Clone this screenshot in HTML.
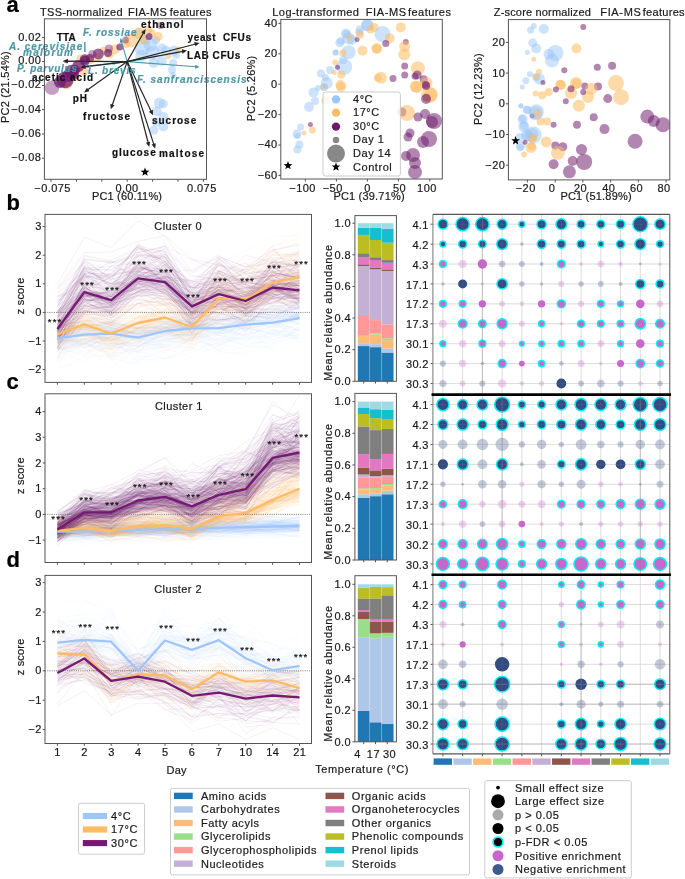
<!DOCTYPE html>
<html><head><meta charset="utf-8"><style>
html,body{margin:0;padding:0;background:#fff;}
svg{display:block;will-change:transform;}
text{font-family:"Liberation Sans", sans-serif;white-space:pre;stroke-width:0.2px;}
</style></head><body>
<svg width="685" height="879" viewBox="0 0 685 879">
<rect width="685" height="879" fill="#fff"/>
<text x="6.50" y="12.20" font-size="22" font-weight="bold" fill="#000" stroke="#000">a</text>
<text x="6.50" y="210.20" font-size="22" font-weight="bold" fill="#000" stroke="#000">b</text>
<text x="6.50" y="389.20" font-size="22" font-weight="bold" fill="#000" stroke="#000">c</text>
<text x="6.50" y="567.40" font-size="22" font-weight="bold" fill="#000" stroke="#000">d</text>
<clipPath id="lc0"><rect x="45.0" y="214.4" width="266.5" height="167.99999999999997"/></clipPath>
<g clip-path="url(#lc0)">
<path d="M57.4,337.7L84.3,338.7L111.2,338.2L138.1,346.7L165.0,335.0L191.9,324.7L218.8,327.7L245.7,321.2L272.6,323.4L299.5,317.8M57.4,348.2L84.3,329.9L111.2,330.2L138.1,334.2L165.0,341.5L191.9,339.4L218.8,332.9L245.7,326.4L272.6,319.9L299.5,317.1M57.4,338.2L84.3,330.3L111.2,328.7L138.1,337.4L165.0,319.7L191.9,322.5L218.8,318.9L245.7,324.3L272.6,323.0L299.5,316.3M57.4,336.3L84.3,334.2L111.2,337.7L138.1,345.4L165.0,335.8L191.9,323.3L218.8,335.2L245.7,324.2L272.6,321.3L299.5,330.7M57.4,332.5L84.3,348.3L111.2,335.4L138.1,337.9L165.0,336.4L191.9,325.7L218.8,328.1L245.7,335.2L272.6,318.2L299.5,314.3M57.4,326.8L84.3,327.6L111.2,327.4L138.1,337.8L165.0,322.2L191.9,325.3L218.8,324.2L245.7,324.7L272.6,321.2L299.5,314.4M57.4,340.6L84.3,333.6L111.2,324.8L138.1,323.1L165.0,320.3L191.9,329.7L218.8,334.1L245.7,314.4L272.6,317.7L299.5,315.0M57.4,328.1L84.3,328.3L111.2,326.6L138.1,329.6L165.0,317.5L191.9,319.3L218.8,319.3L245.7,315.5L272.6,324.7L299.5,304.8M57.4,330.7L84.3,339.6L111.2,330.7L138.1,327.9L165.0,334.9L191.9,323.2L218.8,317.0L245.7,325.0L272.6,308.1L299.5,308.7M57.4,337.9L84.3,332.7L111.2,334.1L138.1,333.2L165.0,337.2L191.9,332.9L218.8,324.0L245.7,326.0L272.6,330.9L299.5,314.3M57.4,332.0L84.3,332.2L111.2,325.4L138.1,329.3L165.0,323.3L191.9,312.4L218.8,323.6L245.7,308.8L272.6,319.2L299.5,312.1M57.4,330.0L84.3,327.2L111.2,328.2L138.1,333.1L165.0,326.3L191.9,321.7L218.8,324.9L245.7,319.1L272.6,315.5L299.5,313.8M57.4,331.6L84.3,321.4L111.2,327.5L138.1,334.9L165.0,328.0L191.9,323.6L218.8,318.7L245.7,321.3L272.6,315.6L299.5,303.4M57.4,369.6L84.3,356.8L111.2,354.9L138.1,360.3L165.0,358.9L191.9,348.7L218.8,351.5L245.7,354.4L272.6,330.2L299.5,341.8M57.4,344.2L84.3,341.4L111.2,339.2L138.1,362.4L165.0,339.9L191.9,327.1L218.8,342.3L245.7,330.8L272.6,321.6L299.5,317.5M57.4,337.2L84.3,327.5L111.2,326.2L138.1,325.6L165.0,316.6L191.9,333.5L218.8,313.2L245.7,322.0L272.6,309.2L299.5,315.6M57.4,332.3L84.3,334.3L111.2,331.7L138.1,332.8L165.0,329.2L191.9,327.7L218.8,319.5L245.7,318.3L272.6,323.1L299.5,302.8M57.4,342.6L84.3,347.2L111.2,343.4L138.1,343.5L165.0,340.5L191.9,335.0L218.8,350.9L245.7,347.6L272.6,329.7L299.5,337.4M57.4,357.9L84.3,335.4L111.2,338.0L138.1,337.1L165.0,347.7L191.9,338.5L218.8,346.8L245.7,329.2L272.6,321.6L299.5,335.6M57.4,325.3L84.3,326.4L111.2,333.1L138.1,321.6L165.0,321.7L191.9,321.4L218.8,316.1L245.7,312.4L272.6,304.6L299.5,312.7M57.4,325.5L84.3,321.7L111.2,327.6L138.1,334.0L165.0,319.2L191.9,320.6L218.8,320.2L245.7,310.1L272.6,316.4L299.5,324.2M57.4,354.7L84.3,333.4L111.2,335.0L138.1,345.6L165.0,334.8L191.9,326.9L218.8,331.4L245.7,320.7L272.6,327.1L299.5,315.4M57.4,323.0L84.3,328.9L111.2,320.7L138.1,337.1L165.0,326.8L191.9,328.3L218.8,313.3L245.7,320.9L272.6,312.7L299.5,308.9M57.4,342.7L84.3,333.9L111.2,325.7L138.1,337.5L165.0,328.7L191.9,323.8L218.8,329.9L245.7,334.5L272.6,327.2L299.5,312.8M57.4,357.6L84.3,343.0L111.2,343.5L138.1,353.2L165.0,341.1L191.9,343.3L218.8,353.2L245.7,353.0L272.6,344.3L299.5,327.9M57.4,349.8L84.3,345.3L111.2,349.7L138.1,343.8L165.0,345.0L191.9,331.3L218.8,351.3L245.7,327.9L272.6,333.3L299.5,338.9M57.4,335.5L84.3,343.5L111.2,333.2L138.1,331.8L165.0,328.6L191.9,320.1L218.8,319.8L245.7,316.6L272.6,316.2L299.5,306.3M57.4,332.7L84.3,343.1L111.2,325.6L138.1,327.6L165.0,328.3L191.9,326.5L218.8,314.4L245.7,331.3L272.6,315.9L299.5,301.1M57.4,342.2L84.3,331.9L111.2,343.1L138.1,342.4L165.0,333.4L191.9,344.1L218.8,338.0L245.7,331.8L272.6,325.8L299.5,327.9M57.4,347.2L84.3,339.0L111.2,330.7L138.1,338.7L165.0,339.1L191.9,336.5L218.8,316.4L245.7,320.3L272.6,320.8L299.5,340.2M57.4,332.8L84.3,323.7L111.2,327.9L138.1,334.1L165.0,324.7L191.9,336.6L218.8,319.1L245.7,319.0L272.6,322.1L299.5,307.0M57.4,334.1L84.3,327.1L111.2,321.4L138.1,325.7L165.0,321.6L191.9,321.6L218.8,306.1L245.7,307.6L272.6,316.5L299.5,312.6M57.4,324.4L84.3,316.8L111.2,319.8L138.1,331.2L165.0,319.2L191.9,327.9L218.8,320.7L245.7,313.7L272.6,308.6L299.5,310.2M57.4,337.2L84.3,333.8L111.2,331.4L138.1,337.4L165.0,334.5L191.9,325.4L218.8,329.0L245.7,332.2L272.6,328.7L299.5,319.4M57.4,338.4L84.3,335.7L111.2,333.4L138.1,339.6L165.0,341.2L191.9,327.1L218.8,323.7L245.7,323.3L272.6,325.3L299.5,316.6M57.4,360.3L84.3,343.3L111.2,349.2L138.1,341.5L165.0,348.2L191.9,357.2L218.8,345.4L245.7,323.3L272.6,335.4L299.5,338.6M57.4,341.8L84.3,338.3L111.2,339.5L138.1,335.4L165.0,333.2L191.9,336.0L218.8,331.3L245.7,321.5L272.6,323.1L299.5,318.1M57.4,349.4L84.3,339.7L111.2,345.8L138.1,340.2L165.0,337.1L191.9,332.3L218.8,340.4L245.7,319.2L272.6,324.3L299.5,330.9M57.4,326.8L84.3,336.3L111.2,329.1L138.1,332.5L165.0,330.4L191.9,336.1L218.8,326.6L245.7,322.3L272.6,316.4L299.5,313.5M57.4,334.6L84.3,332.2L111.2,332.5L138.1,337.2L165.0,332.5L191.9,325.0L218.8,335.7L245.7,329.2L272.6,322.5L299.5,329.2M57.4,356.2L84.3,343.5L111.2,333.7L138.1,337.7L165.0,335.6L191.9,334.4L218.8,343.0L245.7,318.5L272.6,323.2L299.5,315.5M57.4,347.8L84.3,355.6L111.2,336.4L138.1,339.3L165.0,353.3L191.9,337.4L218.8,332.2L245.7,346.8L272.6,345.6L299.5,335.4M57.4,353.8L84.3,340.3L111.2,337.7L138.1,339.0L165.0,332.0L191.9,325.3L218.8,326.5L245.7,340.9L272.6,332.9L299.5,332.8M57.4,348.8L84.3,344.7L111.2,340.2L138.1,359.2L165.0,350.4L191.9,339.1L218.8,340.3L245.7,337.9L272.6,334.1L299.5,335.1M57.4,332.9L84.3,331.0L111.2,332.4L138.1,334.1L165.0,343.9L191.9,328.8L218.8,323.4L245.7,329.0L272.6,317.0L299.5,312.5M57.4,352.8L84.3,349.7L111.2,343.3L138.1,346.3L165.0,344.6L191.9,348.1L218.8,342.9L245.7,339.0L272.6,331.1L299.5,330.0M57.4,354.3L84.3,344.0L111.2,345.6L138.1,352.4L165.0,338.8L191.9,339.1L218.8,334.5L245.7,328.0L272.6,333.2L299.5,311.1M57.4,335.5L84.3,336.8L111.2,330.5L138.1,357.6L165.0,339.5L191.9,329.7L218.8,327.3L245.7,315.2L272.6,323.5L299.5,313.7M57.4,330.0L84.3,328.0L111.2,329.7L138.1,330.6L165.0,331.4L191.9,317.9L218.8,328.1L245.7,318.4L272.6,306.8L299.5,314.0M57.4,333.3L84.3,334.5L111.2,339.1L138.1,336.3L165.0,328.1L191.9,324.9L218.8,333.7L245.7,315.9L272.6,314.1L299.5,317.9M57.4,338.9L84.3,326.9L111.2,336.0L138.1,332.8L165.0,331.9L191.9,330.9L218.8,322.9L245.7,316.3L272.6,320.9L299.5,320.6M57.4,334.0L84.3,328.6L111.2,321.9L138.1,327.4L165.0,328.4L191.9,312.4L218.8,322.9L245.7,315.4L272.6,320.5L299.5,312.8M57.4,342.2L84.3,341.4L111.2,358.6L138.1,365.0L165.0,359.6L191.9,336.9L218.8,348.9L245.7,342.7L272.6,342.9L299.5,337.1M57.4,348.2L84.3,354.8L111.2,344.3L138.1,345.7L165.0,338.1L191.9,340.8L218.8,345.6L245.7,334.4L272.6,337.5L299.5,317.5M57.4,334.5L84.3,332.3L111.2,332.1L138.1,337.2L165.0,327.9L191.9,322.1L218.8,320.6L245.7,316.8L272.6,306.9L299.5,316.5M57.4,326.4L84.3,347.6L111.2,337.1L138.1,336.7L165.0,330.2L191.9,326.4L218.8,329.8L245.7,322.8L272.6,322.3L299.5,314.1M57.4,361.8L84.3,352.3L111.2,358.6L138.1,363.1L165.0,344.7L191.9,351.7L218.8,342.2L245.7,338.1L272.6,339.6L299.5,333.7M57.4,349.1L84.3,335.9L111.2,332.2L138.1,342.4L165.0,332.7L191.9,325.5L218.8,335.7L245.7,322.2L272.6,314.0L299.5,323.5M57.4,338.2L84.3,327.1L111.2,331.3L138.1,332.6L165.0,334.6L191.9,327.6L218.8,327.2L245.7,336.6L272.6,314.4L299.5,312.5M57.4,349.3L84.3,351.9L111.2,346.9L138.1,351.6L165.0,358.7L191.9,347.1L218.8,334.4L245.7,346.6L272.6,348.3L299.5,346.6M57.4,347.3L84.3,334.4L111.2,342.0L138.1,347.5L165.0,328.2L191.9,344.2L218.8,345.2L245.7,333.0L272.6,330.9L299.5,338.5M57.4,347.1L84.3,343.8L111.2,353.8L138.1,350.2L165.0,346.2L191.9,336.5L218.8,340.6L245.7,337.1L272.6,337.3L299.5,322.0M57.4,332.0L84.3,322.9L111.2,328.6L138.1,328.8L165.0,318.8L191.9,312.4L218.8,321.0L245.7,315.9L272.6,312.3L299.5,316.3M57.4,342.9L84.3,333.0L111.2,341.4L138.1,351.6L165.0,330.7L191.9,327.1L218.8,332.1L245.7,320.2L272.6,324.6L299.5,322.6M57.4,344.8L84.3,335.0L111.2,330.8L138.1,330.8L165.0,328.8L191.9,323.9L218.8,328.3L245.7,320.0L272.6,311.1L299.5,318.5M57.4,327.7L84.3,320.8L111.2,318.7L138.1,318.4L165.0,322.0L191.9,323.4L218.8,309.8L245.7,305.1L272.6,303.6L299.5,288.3M57.4,336.2L84.3,329.4L111.2,330.7L138.1,328.7L165.0,338.0L191.9,329.2L218.8,351.7L245.7,319.3L272.6,323.5L299.5,312.0M57.4,326.1L84.3,323.2L111.2,322.9L138.1,328.3L165.0,320.5L191.9,311.7L218.8,314.0L245.7,310.1L272.6,309.1L299.5,298.6M57.4,336.2L84.3,328.9L111.2,331.3L138.1,341.1L165.0,321.1L191.9,323.1L218.8,330.4L245.7,316.1L272.6,317.6L299.5,325.1M57.4,327.8L84.3,321.4L111.2,323.1L138.1,328.4L165.0,328.2L191.9,313.6L218.8,317.5L245.7,315.5L272.6,310.1L299.5,306.7M57.4,336.2L84.3,330.9L111.2,342.3L138.1,335.4L165.0,323.6L191.9,317.8L218.8,325.5L245.7,320.8L272.6,310.1L299.5,315.2M57.4,327.0L84.3,330.2L111.2,323.7L138.1,336.3L165.0,325.4L191.9,324.1L218.8,322.8L245.7,314.2L272.6,305.7L299.5,316.5M57.4,340.3L84.3,347.4L111.2,335.5L138.1,339.0L165.0,338.6L191.9,330.1L218.8,345.4L245.7,324.8L272.6,340.3L299.5,329.4M57.4,346.3L84.3,334.2L111.2,338.2L138.1,345.7L165.0,332.4L191.9,324.4L218.8,333.6L245.7,327.5L272.6,320.2L299.5,321.8M57.4,335.1L84.3,332.5L111.2,359.6L138.1,350.1L165.0,340.4L191.9,333.9L218.8,335.9L245.7,339.6L272.6,343.8L299.5,330.5M57.4,337.2L84.3,333.2L111.2,327.5L138.1,341.6L165.0,325.8L191.9,323.9L218.8,319.2L245.7,321.3L272.6,320.2L299.5,313.1M57.4,343.4L84.3,335.1L111.2,330.5L138.1,332.4L165.0,323.3L191.9,334.7L218.8,331.7L245.7,343.9L272.6,313.4L299.5,324.2M57.4,336.4L84.3,344.5L111.2,331.7L138.1,338.1L165.0,344.5L191.9,327.2L218.8,322.5L245.7,339.1L272.6,318.8L299.5,317.3M57.4,333.8L84.3,326.2L111.2,331.7L138.1,330.7L165.0,329.9L191.9,321.9L218.8,329.5L245.7,322.1L272.6,310.8L299.5,312.6M57.4,347.7L84.3,341.7L111.2,333.7L138.1,334.2L165.0,330.0L191.9,326.9L218.8,330.0L245.7,319.0L272.6,327.3L299.5,324.0M57.4,333.1L84.3,330.7L111.2,330.8L138.1,333.3L165.0,322.5L191.9,321.1L218.8,328.3L245.7,316.7L272.6,315.8L299.5,317.2M57.4,335.2L84.3,331.7L111.2,325.4L138.1,326.8L165.0,329.4L191.9,321.4L218.8,327.4L245.7,308.1L272.6,320.0L299.5,306.7M57.4,338.8L84.3,328.8L111.2,357.6L138.1,346.8L165.0,333.6L191.9,335.4L218.8,339.5L245.7,318.3L272.6,328.7L299.5,337.5M57.4,342.4L84.3,324.7L111.2,331.0L138.1,331.7L165.0,319.8L191.9,322.4L218.8,330.0L245.7,328.9L272.6,311.0L299.5,308.4M57.4,340.0L84.3,338.8L111.2,336.7L138.1,361.5L165.0,341.1L191.9,329.8L218.8,330.8L245.7,326.3L272.6,349.7L299.5,325.2M57.4,324.7L84.3,336.8L111.2,332.1L138.1,334.4L165.0,323.8L191.9,327.4L218.8,319.4L245.7,325.7L272.6,318.0L299.5,317.5M57.4,341.7L84.3,344.4L111.2,327.7L138.1,335.2L165.0,333.5L191.9,326.5L218.8,322.3L245.7,330.5L272.6,322.2L299.5,314.3M57.4,336.9L84.3,344.5L111.2,324.9L138.1,332.9L165.0,327.7L191.9,326.4L218.8,323.4L245.7,323.3L272.6,325.2L299.5,318.4M57.4,348.1L84.3,348.3L111.2,334.7L138.1,352.6L165.0,332.0L191.9,341.7L218.8,331.4L245.7,321.8L272.6,327.2L299.5,329.9M57.4,337.5L84.3,346.3L111.2,337.4L138.1,336.5L165.0,333.9L191.9,327.7L218.8,324.2L245.7,320.6L272.6,317.8L299.5,314.8M57.4,341.2L84.3,339.3L111.2,338.5L138.1,341.6L165.0,346.3L191.9,333.7L218.8,331.2L245.7,334.9L272.6,325.8L299.5,317.4M57.4,330.5L84.3,354.4L111.2,336.6L138.1,352.2L165.0,327.4L191.9,316.8L218.8,348.4L245.7,325.4L272.6,321.2L299.5,322.1M57.4,348.8L84.3,327.7L111.2,328.6L138.1,334.1L165.0,330.3L191.9,321.9L218.8,326.9L245.7,319.9L272.6,321.6L299.5,329.8M57.4,337.7L84.3,331.6L111.2,340.0L138.1,338.1L165.0,328.3L191.9,327.9L218.8,322.3L245.7,315.0L272.6,329.9L299.5,333.3M57.4,327.0L84.3,325.7L111.2,324.8L138.1,335.2L165.0,329.0L191.9,318.7L218.8,327.0L245.7,329.8L272.6,322.0L299.5,299.4M57.4,330.4L84.3,326.7L111.2,321.0L138.1,329.3L165.0,312.9L191.9,316.6L218.8,320.9L245.7,305.5L272.6,312.7L299.5,303.8M57.4,340.7L84.3,333.4L111.2,338.6L138.1,350.9L165.0,347.1L191.9,337.8L218.8,333.9L245.7,325.0L272.6,322.5L299.5,315.3M57.4,342.8L84.3,338.5L111.2,347.4L138.1,337.6L165.0,328.0L191.9,325.1L218.8,327.9L245.7,324.8L272.6,317.2L299.5,317.2M57.4,331.7L84.3,329.5L111.2,323.3L138.1,335.7L165.0,328.1L191.9,327.6L218.8,327.2L245.7,312.1L272.6,308.8L299.5,312.9M57.4,330.1L84.3,327.8L111.2,324.8L138.1,341.2L165.0,330.4L191.9,322.6L218.8,317.5L245.7,320.4L272.6,323.5L299.5,316.0M57.4,350.4L84.3,332.0L111.2,344.2L138.1,343.7L165.0,325.0L191.9,327.0L218.8,332.2L245.7,335.9L272.6,326.3L299.5,314.3M57.4,329.5L84.3,330.6L111.2,327.5L138.1,334.7L165.0,325.1L191.9,318.3L218.8,332.6L245.7,320.9L272.6,317.3L299.5,316.8M57.4,336.8L84.3,327.7L111.2,332.6L138.1,338.2L165.0,345.2L191.9,321.2L218.8,330.6L245.7,328.0L272.6,334.4L299.5,321.7M57.4,348.0L84.3,341.6L111.2,343.7L138.1,346.0L165.0,347.8L191.9,328.6L218.8,343.9L245.7,349.4L272.6,335.3L299.5,335.3M57.4,350.1L84.3,342.1L111.2,351.4L138.1,348.2L165.0,330.6L191.9,333.3L218.8,339.3L245.7,333.9L272.6,333.9L299.5,328.9M57.4,334.6L84.3,344.6L111.2,329.3L138.1,337.2L165.0,323.4L191.9,326.7L218.8,322.7L245.7,309.1L272.6,323.2L299.5,319.3M57.4,367.8L84.3,360.9L111.2,344.3L138.1,355.6L165.0,358.2L191.9,353.1L218.8,337.5L245.7,344.7L272.6,339.8L299.5,330.1M57.4,322.3L84.3,322.2L111.2,324.8L138.1,328.4L165.0,314.1L191.9,313.0L218.8,320.8L245.7,313.5L272.6,312.1L299.5,308.5M57.4,352.1L84.3,343.1L111.2,349.2L138.1,335.0L165.0,331.9L191.9,342.2L218.8,324.6L245.7,323.6L272.6,342.3L299.5,312.1M57.4,324.9L84.3,335.8L111.2,326.3L138.1,330.7L165.0,325.0L191.9,322.5L218.8,317.8L245.7,327.8L272.6,323.9L299.5,320.5" fill="none" stroke="#9fc6fa" stroke-width="0.5" stroke-opacity="0.11"/>
<path d="M57.4,342.2L84.3,326.7L111.2,336.6L138.1,327.7L165.0,327.2L191.9,335.2L218.8,296.4L245.7,299.3L272.6,287.5L299.5,285.2M57.4,325.3L84.3,306.5L111.2,310.5L138.1,309.0L165.0,293.5L191.9,318.5L218.8,269.3L245.7,276.8L272.6,277.5L299.5,246.4M57.4,333.6L84.3,336.0L111.2,342.2L138.1,328.9L165.0,327.9L191.9,333.5L218.8,310.8L245.7,303.3L272.6,291.6L299.5,284.5M57.4,349.2L84.3,347.0L111.2,368.4L138.1,346.5L165.0,339.2L191.9,345.1L218.8,332.4L245.7,315.1L272.6,311.5L299.5,286.8M57.4,331.2L84.3,327.9L111.2,341.9L138.1,316.0L165.0,311.6L191.9,315.1L218.8,292.1L245.7,305.2L272.6,296.6L299.5,283.5M57.4,344.4L84.3,326.4L111.2,337.2L138.1,330.7L165.0,322.5L191.9,334.3L218.8,303.3L245.7,300.6L272.6,282.0L299.5,289.2M57.4,337.6L84.3,336.2L111.2,339.3L138.1,347.0L165.0,333.4L191.9,340.8L218.8,323.1L245.7,318.1L272.6,292.3L299.5,284.1M57.4,326.6L84.3,319.6L111.2,314.6L138.1,299.3L165.0,298.3L191.9,319.7L218.8,270.9L245.7,270.3L272.6,254.3L299.5,258.7M57.4,327.0L84.3,325.4L111.2,342.8L138.1,317.3L165.0,310.2L191.9,323.3L218.8,286.2L245.7,300.9L272.6,279.2L299.5,275.8M57.4,320.0L84.3,321.1L111.2,313.4L138.1,305.3L165.0,304.7L191.9,315.0L218.8,274.5L245.7,293.7L272.6,275.8L299.5,279.3M57.4,322.3L84.3,316.8L111.2,326.0L138.1,319.7L165.0,310.9L191.9,332.5L218.8,282.5L245.7,297.3L272.6,286.2L299.5,277.9M57.4,335.6L84.3,324.7L111.2,349.3L138.1,324.1L165.0,319.0L191.9,338.7L218.8,316.9L245.7,313.1L272.6,295.7L299.5,282.8M57.4,349.2L84.3,325.9L111.2,346.4L138.1,319.7L165.0,328.9L191.9,335.1L218.8,307.9L245.7,307.0L272.6,274.0L299.5,272.8M57.4,327.4L84.3,329.0L111.2,331.6L138.1,321.0L165.0,318.7L191.9,315.4L218.8,297.8L245.7,298.6L272.6,284.5L299.5,286.6M57.4,321.4L84.3,318.0L111.2,334.7L138.1,335.6L165.0,309.5L191.9,309.2L218.8,288.1L245.7,282.3L272.6,258.6L299.5,255.5M57.4,331.3L84.3,323.2L111.2,347.1L138.1,329.5L165.0,331.2L191.9,331.8L218.8,298.5L245.7,311.7L272.6,302.6L299.5,269.0M57.4,322.3L84.3,329.5L111.2,322.4L138.1,303.1L165.0,296.7L191.9,324.4L218.8,291.1L245.7,296.0L272.6,266.8L299.5,259.8M57.4,341.6L84.3,318.8L111.2,335.8L138.1,317.2L165.0,314.4L191.9,311.6L218.8,286.6L245.7,302.0L272.6,277.7L299.5,256.0M57.4,335.8L84.3,321.3L111.2,329.7L138.1,324.3L165.0,331.3L191.9,340.7L218.8,301.7L245.7,301.9L272.6,263.3L299.5,289.1M57.4,320.4L84.3,325.4L111.2,328.6L138.1,310.0L165.0,309.1L191.9,314.9L218.8,279.6L245.7,292.4L272.6,261.7L299.5,267.1M57.4,335.3L84.3,332.5L111.2,336.4L138.1,316.2L165.0,322.3L191.9,333.1L218.8,298.3L245.7,307.5L272.6,278.9L299.5,292.5M57.4,332.3L84.3,324.2L111.2,315.0L138.1,323.1L165.0,296.1L191.9,313.8L218.8,276.9L245.7,300.6L272.6,261.2L299.5,251.5M57.4,335.8L84.3,309.3L111.2,333.4L138.1,326.8L165.0,322.9L191.9,324.4L218.8,296.7L245.7,299.3L272.6,266.1L299.5,280.7M57.4,321.6L84.3,326.7L111.2,321.6L138.1,304.0L165.0,322.4L191.9,330.2L218.8,301.3L245.7,308.5L272.6,271.2L299.5,286.4M57.4,321.4L84.3,330.3L111.2,331.1L138.1,331.2L165.0,305.6L191.9,327.5L218.8,294.6L245.7,292.3L272.6,269.8L299.5,273.4M57.4,337.3L84.3,323.5L111.2,340.9L138.1,322.3L165.0,330.5L191.9,330.3L218.8,280.1L245.7,298.5L272.6,292.0L299.5,273.8M57.4,351.8L84.3,337.0L111.2,337.1L138.1,329.0L165.0,327.0L191.9,342.5L218.8,315.4L245.7,299.0L272.6,290.6L299.5,294.3M57.4,359.3L84.3,326.5L111.2,358.9L138.1,342.0L165.0,335.2L191.9,347.7L218.8,320.5L245.7,330.3L272.6,311.8L299.5,285.6M57.4,335.1L84.3,341.2L111.2,341.8L138.1,327.9L165.0,317.3L191.9,341.8L218.8,301.3L245.7,304.1L272.6,295.8L299.5,281.0M57.4,346.1L84.3,331.9L111.2,358.5L138.1,331.6L165.0,332.4L191.9,345.5L218.8,310.0L245.7,302.7L272.6,294.7L299.5,276.2M57.4,351.3L84.3,324.4L111.2,340.9L138.1,326.9L165.0,333.6L191.9,332.1L218.8,307.6L245.7,306.1L272.6,294.1L299.5,279.6M57.4,345.1L84.3,338.9L111.2,331.5L138.1,333.5L165.0,330.5L191.9,339.5L218.8,307.8L245.7,315.2L272.6,291.4L299.5,288.5M57.4,344.3L84.3,328.7L111.2,341.2L138.1,327.1L165.0,320.8L191.9,329.7L218.8,319.3L245.7,308.9L272.6,294.2L299.5,276.5M57.4,351.1L84.3,339.3L111.2,349.1L138.1,330.3L165.0,334.8L191.9,334.9L218.8,323.9L245.7,328.3L272.6,289.3L299.5,289.8M57.4,329.5L84.3,316.9L111.2,337.2L138.1,310.6L165.0,316.6L191.9,312.5L218.8,291.4L245.7,309.2L272.6,287.5L299.5,257.1M57.4,337.6L84.3,324.0L111.2,337.4L138.1,327.8L165.0,318.1L191.9,327.3L218.8,285.8L245.7,300.5L272.6,264.7L299.5,258.9M57.4,314.0L84.3,308.5L111.2,316.2L138.1,306.4L165.0,304.6L191.9,307.3L218.8,282.8L245.7,260.2L272.6,252.8L299.5,256.4M57.4,349.8L84.3,342.8L111.2,356.8L138.1,347.3L165.0,350.1L191.9,340.8L218.8,317.1L245.7,299.3L272.6,302.1L299.5,297.8M57.4,321.8L84.3,310.6L111.2,322.5L138.1,312.8L165.0,289.1L191.9,301.0L218.8,264.0L245.7,283.8L272.6,262.0L299.5,265.3M57.4,334.8L84.3,312.2L111.2,316.5L138.1,302.1L165.0,314.6L191.9,305.9L218.8,293.0L245.7,294.2L272.6,282.9L299.5,249.7M57.4,324.5L84.3,314.9L111.2,320.3L138.1,286.6L165.0,291.0L191.9,312.3L218.8,294.6L245.7,284.3L272.6,246.8L299.5,231.6M57.4,340.4L84.3,329.8L111.2,347.9L138.1,318.7L165.0,327.3L191.9,320.7L218.8,313.1L245.7,311.5L272.6,283.2L299.5,285.6M57.4,327.8L84.3,325.2L111.2,321.7L138.1,308.4L165.0,323.4L191.9,301.6L218.8,283.9L245.7,281.5L272.6,288.8L299.5,273.3M57.4,330.5L84.3,336.3L111.2,342.2L138.1,339.4L165.0,322.3L191.9,327.8L218.8,313.8L245.7,307.3L272.6,282.2L299.5,264.4M57.4,330.6L84.3,326.2L111.2,333.9L138.1,321.3L165.0,309.0L191.9,319.6L218.8,274.3L245.7,287.8L272.6,284.1L299.5,249.8M57.4,325.9L84.3,320.8L111.2,337.4L138.1,321.1L165.0,299.5L191.9,322.9L218.8,298.8L245.7,284.9L272.6,266.7L299.5,256.1M57.4,320.4L84.3,324.2L111.2,320.3L138.1,323.7L165.0,304.5L191.9,317.6L218.8,287.8L245.7,281.1L272.6,273.6L299.5,254.8M57.4,326.3L84.3,320.5L111.2,330.6L138.1,318.0L165.0,309.5L191.9,316.9L218.8,259.2L245.7,281.5L272.6,262.2L299.5,273.5M57.4,341.7L84.3,329.1L111.2,346.2L138.1,317.8L165.0,327.8L191.9,325.8L218.8,321.9L245.7,306.5L272.6,287.7L299.5,282.8M57.4,327.6L84.3,318.1L111.2,340.5L138.1,322.3L165.0,328.0L191.9,314.3L218.8,287.9L245.7,293.5L272.6,282.8L299.5,274.5M57.4,309.0L84.3,308.6L111.2,306.8L138.1,316.2L165.0,313.2L191.9,309.5L218.8,283.4L245.7,280.5L272.6,254.6L299.5,215.7M57.4,339.1L84.3,328.2L111.2,339.4L138.1,322.6L165.0,310.1L191.9,341.8L218.8,303.5L245.7,307.9L272.6,286.6L299.5,295.6M57.4,362.1L84.3,335.7L111.2,347.3L138.1,337.9L165.0,349.4L191.9,345.9L218.8,320.5L245.7,327.1L272.6,307.2L299.5,289.6M57.4,329.9L84.3,316.3L111.2,332.7L138.1,316.8L165.0,311.2L191.9,315.6L218.8,292.2L245.7,293.7L272.6,276.4L299.5,276.0M57.4,313.2L84.3,302.0L111.2,295.9L138.1,289.2L165.0,305.8L191.9,294.4L218.8,262.4L245.7,250.9L272.6,237.2L299.5,235.1M57.4,348.8L84.3,332.5L111.2,340.4L138.1,340.0L165.0,330.8L191.9,340.7L218.8,309.2L245.7,308.6L272.6,296.6L299.5,298.6M57.4,314.6L84.3,314.2L111.2,314.4L138.1,306.8L165.0,298.3L191.9,308.0L218.8,290.0L245.7,277.2L272.6,254.4L299.5,268.5M57.4,305.8L84.3,295.2L111.2,300.6L138.1,297.0L165.0,298.6L191.9,309.1L218.8,281.3L245.7,272.1L272.6,255.3L299.5,240.2M57.4,336.4L84.3,327.0L111.2,350.9L138.1,336.3L165.0,332.6L191.9,343.8L218.8,319.1L245.7,320.2L272.6,309.1L299.5,296.4M57.4,332.4L84.3,329.9L111.2,333.5L138.1,322.9L165.0,312.8L191.9,334.6L218.8,294.7L245.7,290.0L272.6,276.7L299.5,280.0M57.4,339.5L84.3,323.9L111.2,327.1L138.1,328.3L165.0,326.3L191.9,328.9L218.8,301.6L245.7,311.0L272.6,293.1L299.5,282.8M57.4,335.9L84.3,325.2L111.2,323.6L138.1,325.1L165.0,309.2L191.9,315.9L218.8,291.0L245.7,300.4L272.6,273.8L299.5,270.7M57.4,336.5L84.3,314.3L111.2,341.4L138.1,320.9L165.0,313.8L191.9,314.5L218.8,299.5L245.7,289.6L272.6,283.5L299.5,263.7M57.4,322.6L84.3,306.3L111.2,323.6L138.1,297.6L165.0,288.3L191.9,306.1L218.8,287.2L245.7,272.3L272.6,246.0L299.5,238.9M57.4,338.6L84.3,321.8L111.2,315.6L138.1,323.9L165.0,299.2L191.9,300.7L218.8,281.0L245.7,277.5L272.6,274.7L299.5,278.0M57.4,336.2L84.3,325.6L111.2,329.6L138.1,324.8L165.0,317.1L191.9,324.4L218.8,299.4L245.7,282.4L272.6,279.4L299.5,277.3M57.4,339.6L84.3,317.4L111.2,334.4L138.1,331.9L165.0,323.2L191.9,329.9L218.8,303.6L245.7,291.4L272.6,293.5L299.5,274.5M57.4,340.1L84.3,322.8L111.2,332.9L138.1,317.6L165.0,319.3L191.9,322.6L218.8,308.9L245.7,306.1L272.6,272.3L299.5,263.2M57.4,337.8L84.3,317.4L111.2,347.0L138.1,328.4L165.0,312.1L191.9,321.4L218.8,305.9L245.7,313.5L272.6,267.5L299.5,275.4M57.4,341.0L84.3,326.2L111.2,357.8L138.1,323.5L165.0,320.6L191.9,349.8L218.8,301.4L245.7,321.4L272.6,283.1L299.5,283.1M57.4,319.8L84.3,304.6L111.2,304.6L138.1,304.7L165.0,298.5L191.9,303.7L218.8,270.7L245.7,280.3L272.6,245.8L299.5,237.4M57.4,323.4L84.3,325.9L111.2,323.5L138.1,326.0L165.0,310.5L191.9,339.8L218.8,295.6L245.7,300.1L272.6,285.7L299.5,280.9M57.4,341.2L84.3,340.9L111.2,340.3L138.1,329.6L165.0,324.2L191.9,337.6L218.8,302.7L245.7,296.3L272.6,288.0L299.5,284.3M57.4,317.4L84.3,306.4L111.2,312.4L138.1,311.5L165.0,303.6L191.9,301.1L218.8,286.5L245.7,282.6L272.6,259.5L299.5,252.6M57.4,330.4L84.3,327.8L111.2,331.0L138.1,317.6L165.0,315.1L191.9,323.8L218.8,309.3L245.7,311.9L272.6,290.1L299.5,275.7M57.4,329.5L84.3,309.2L111.2,325.4L138.1,313.2L165.0,303.2L191.9,303.1L218.8,277.5L245.7,267.7L272.6,271.9L299.5,244.7M57.4,326.3L84.3,313.1L111.2,328.7L138.1,321.8L165.0,310.6L191.9,321.7L218.8,259.4L245.7,292.0L272.6,252.1L299.5,260.9M57.4,327.2L84.3,326.7L111.2,324.0L138.1,316.9L165.0,325.0L191.9,318.0L218.8,289.2L245.7,290.8L272.6,261.5L299.5,276.9M57.4,325.5L84.3,325.8L111.2,320.1L138.1,328.0L165.0,321.7L191.9,316.3L218.8,301.3L245.7,293.9L272.6,289.9L299.5,268.6M57.4,341.2L84.3,343.3L111.2,340.4L138.1,334.7L165.0,327.3L191.9,338.0L218.8,308.3L245.7,320.3L272.6,313.4L299.5,288.3M57.4,344.4L84.3,329.5L111.2,354.2L138.1,336.2L165.0,330.1L191.9,343.0L218.8,305.0L245.7,309.7L272.6,298.2L299.5,294.2M57.4,331.6L84.3,313.5L111.2,322.7L138.1,328.4L165.0,317.6L191.9,317.4L218.8,285.0L245.7,281.0L272.6,262.8L299.5,253.4M57.4,338.4L84.3,322.6L111.2,339.5L138.1,318.7L165.0,331.7L191.9,325.6L218.8,303.2L245.7,317.6L272.6,277.6L299.5,278.4M57.4,340.4L84.3,327.1L111.2,322.6L138.1,328.2L165.0,340.9L191.9,332.8L218.8,306.8L245.7,300.3L272.6,285.4L299.5,283.8M57.4,334.6L84.3,340.3L111.2,327.6L138.1,333.9L165.0,332.5L191.9,329.3L218.8,302.4L245.7,315.4L272.6,285.5L299.5,299.8M57.4,334.8L84.3,333.6L111.2,349.7L138.1,327.7L165.0,319.7L191.9,335.7L218.8,320.1L245.7,311.1L272.6,288.8L299.5,280.5M57.4,320.8L84.3,311.3L111.2,316.2L138.1,294.6L165.0,304.9L191.9,293.5L218.8,300.4L245.7,266.8L272.6,263.7L299.5,244.3M57.4,335.7L84.3,318.9L111.2,325.3L138.1,311.4L165.0,317.6L191.9,327.5L218.8,305.6L245.7,264.9L272.6,275.0L299.5,269.2M57.4,340.5L84.3,340.1L111.2,337.1L138.1,330.5L165.0,330.9L191.9,335.8L218.8,320.6L245.7,316.5L272.6,302.0L299.5,302.1M57.4,334.9L84.3,314.8L111.2,354.8L138.1,327.3L165.0,323.6L191.9,330.1L218.8,294.2L245.7,295.3L272.6,282.1L299.5,280.4M57.4,328.0L84.3,331.7L111.2,330.7L138.1,327.7L165.0,321.1L191.9,319.8L218.8,291.6L245.7,291.8L272.6,284.3L299.5,271.8M57.4,339.2L84.3,327.7L111.2,329.7L138.1,322.6L165.0,331.2L191.9,338.6L218.8,313.8L245.7,306.2L272.6,274.6L299.5,280.9M57.4,359.3L84.3,350.6L111.2,349.0L138.1,342.3L165.0,335.4L191.9,335.0L218.8,325.3L245.7,327.3L272.6,289.9L299.5,296.9M57.4,352.6L84.3,340.3L111.2,355.8L138.1,329.4L165.0,324.3L191.9,327.3L218.8,306.8L245.7,312.2L272.6,296.1L299.5,267.3M57.4,347.2L84.3,338.8L111.2,344.7L138.1,341.1L165.0,330.1L191.9,337.7L218.8,316.3L245.7,320.2L272.6,301.8L299.5,302.6M57.4,337.6L84.3,324.8L111.2,326.0L138.1,315.0L165.0,322.4L191.9,324.1L218.8,298.2L245.7,294.7L272.6,284.6L299.5,277.0M57.4,342.6L84.3,322.8L111.2,328.7L138.1,322.7L165.0,318.8L191.9,329.5L218.8,306.1L245.7,317.2L272.6,282.3L299.5,280.2M57.4,344.4L84.3,320.9L111.2,349.8L138.1,315.1L165.0,318.2L191.9,312.5L218.8,308.8L245.7,305.1L272.6,292.0L299.5,281.4M57.4,340.3L84.3,319.2L111.2,340.4L138.1,328.2L165.0,315.3L191.9,332.7L218.8,303.5L245.7,298.8L272.6,287.5L299.5,288.7M57.4,336.3L84.3,314.1L111.2,341.4L138.1,316.5L165.0,323.8L191.9,330.4L218.8,301.7L245.7,298.2L272.6,275.0L299.5,258.9M57.4,331.2L84.3,323.4L111.2,333.8L138.1,333.6L165.0,317.1L191.9,333.6L218.8,301.9L245.7,307.7L272.6,284.0L299.5,274.0M57.4,326.3L84.3,307.9L111.2,312.4L138.1,318.6L165.0,292.8L191.9,325.5L218.8,279.0L245.7,278.5L272.6,251.0L299.5,257.0M57.4,342.8L84.3,336.1L111.2,332.7L138.1,328.8L165.0,326.7L191.9,327.7L218.8,308.4L245.7,307.4L272.6,290.9L299.5,265.6M57.4,323.4L84.3,321.9L111.2,317.6L138.1,307.4L165.0,298.5L191.9,304.7L218.8,283.0L245.7,270.7L272.6,253.2L299.5,252.8M57.4,340.3L84.3,323.4L111.2,344.0L138.1,327.6L165.0,326.3L191.9,340.5L218.8,297.8L245.7,303.7L272.6,286.5L299.5,273.2M57.4,346.5L84.3,335.0L111.2,341.0L138.1,343.2L165.0,326.2L191.9,339.3L218.8,302.9L245.7,305.8L272.6,293.5L299.5,275.2M57.4,336.7L84.3,326.5L111.2,339.6L138.1,323.2L165.0,330.3L191.9,327.6L218.8,294.4L245.7,289.6L272.6,285.3L299.5,261.5M57.4,340.2L84.3,341.4L111.2,344.0L138.1,333.9L165.0,312.7L191.9,329.4L218.8,312.3L245.7,302.1L272.6,285.7L299.5,285.4M57.4,335.7L84.3,327.5L111.2,344.4L138.1,323.4L165.0,306.9L191.9,314.3L218.8,300.1L245.7,304.7L272.6,284.0L299.5,266.8M57.4,334.8L84.3,319.1L111.2,331.7L138.1,315.6L165.0,317.1L191.9,333.8L218.8,293.5L245.7,287.5L272.6,287.3L299.5,273.0M57.4,329.5L84.3,321.1L111.2,311.3L138.1,307.9L165.0,299.8L191.9,325.0L218.8,272.6L245.7,303.0L272.6,275.9L299.5,256.2M57.4,329.2L84.3,317.3L111.2,319.8L138.1,324.0L165.0,298.1L191.9,306.8L218.8,286.2L245.7,277.0L272.6,256.4L299.5,254.3M57.4,321.2L84.3,323.0L111.2,327.6L138.1,321.7L165.0,303.6L191.9,324.5L218.8,287.7L245.7,291.4L272.6,274.8L299.5,250.8M57.4,326.5L84.3,319.9L111.2,325.2L138.1,324.8L165.0,311.0L191.9,321.5L218.8,303.4L245.7,298.0L272.6,284.4L299.5,278.1M57.4,328.2L84.3,324.1L111.2,333.6L138.1,313.4L165.0,308.8L191.9,312.0L218.8,277.4L245.7,265.7L272.6,261.7L299.5,253.2M57.4,336.4L84.3,322.0L111.2,331.1L138.1,341.6L165.0,318.1L191.9,321.8L218.8,299.4L245.7,317.0L272.6,292.0L299.5,279.9M57.4,335.6L84.3,326.4L111.2,323.1L138.1,327.9L165.0,301.7L191.9,322.1L218.8,290.6L245.7,305.0L272.6,283.0L299.5,263.6M57.4,333.5L84.3,344.5L111.2,353.1L138.1,335.1L165.0,327.2L191.9,335.2L218.8,314.4L245.7,314.9L272.6,298.6L299.5,295.8M57.4,348.4L84.3,343.4L111.2,353.7L138.1,348.7L165.0,338.3L191.9,350.1L218.8,322.5L245.7,316.0L272.6,320.0L299.5,300.6M57.4,344.2L84.3,323.9L111.2,348.9L138.1,332.6L165.0,330.6L191.9,330.1L218.8,314.9L245.7,321.4L272.6,289.2L299.5,290.1" fill="none" stroke="#fdbb63" stroke-width="0.5" stroke-opacity="0.11"/>
<path d="M57.4,322.5L84.3,300.8L111.2,305.4L138.1,280.2L165.0,282.2L191.9,312.6L218.8,288.4L245.7,284.2L272.6,293.0L299.5,277.3M57.4,338.3L84.3,312.9L111.2,317.7L138.1,299.1L165.0,304.8L191.9,333.4L218.8,315.2L245.7,311.0L272.6,298.5L299.5,311.2M57.4,338.3L84.3,304.6L111.2,289.4L138.1,278.6L165.0,286.0L191.9,314.3L218.8,305.5L245.7,295.3L272.6,286.8L299.5,301.3M57.4,326.9L84.3,272.9L111.2,296.6L138.1,269.7L165.0,264.8L191.9,289.9L218.8,272.3L245.7,296.5L272.6,261.0L299.5,266.2M57.4,324.5L84.3,297.3L111.2,301.2L138.1,287.2L165.0,281.4L191.9,304.6L218.8,281.7L245.7,292.3L272.6,280.2L299.5,292.9M57.4,333.2L84.3,292.6L111.2,314.8L138.1,273.8L165.0,294.4L191.9,311.8L218.8,295.9L245.7,306.3L272.6,275.0L299.5,293.0M57.4,296.7L84.3,276.4L111.2,275.9L138.1,245.8L165.0,265.3L191.9,285.8L218.8,279.7L245.7,281.0L272.6,271.6L299.5,270.6M57.4,302.0L84.3,277.7L111.2,285.2L138.1,257.3L165.0,272.1L191.9,303.8L218.8,271.3L245.7,297.3L272.6,266.8L299.5,287.0M57.4,315.2L84.3,259.9L111.2,261.9L138.1,264.1L165.0,244.7L191.9,291.1L218.8,287.8L245.7,271.7L272.6,258.8L299.5,270.1M57.4,351.5L84.3,316.3L111.2,324.8L138.1,302.5L165.0,316.1L191.9,332.3L218.8,304.4L245.7,313.0L272.6,312.1L299.5,317.3M57.4,313.3L84.3,279.8L111.2,304.3L138.1,271.7L165.0,275.7L191.9,287.9L218.8,278.0L245.7,291.2L272.6,271.6L299.5,289.2M57.4,312.9L84.3,268.1L111.2,271.3L138.1,267.4L165.0,269.2L191.9,303.6L218.8,273.4L245.7,282.5L272.6,271.7L299.5,267.3M57.4,347.7L84.3,310.1L111.2,320.4L138.1,291.7L165.0,289.1L191.9,327.9L218.8,318.9L245.7,323.5L272.6,305.5L299.5,305.1M57.4,330.0L84.3,306.4L111.2,302.2L138.1,283.1L165.0,286.6L191.9,296.9L218.8,303.4L245.7,309.6L272.6,291.9L299.5,292.3M57.4,338.9L84.3,308.7L111.2,307.7L138.1,281.1L165.0,293.5L191.9,318.9L218.8,304.6L245.7,332.2L272.6,294.2L299.5,298.4M57.4,330.2L84.3,295.5L111.2,299.7L138.1,264.6L165.0,281.0L191.9,291.6L218.8,309.6L245.7,302.5L272.6,283.0L299.5,288.5M57.4,348.0L84.3,298.4L111.2,323.2L138.1,299.5L165.0,303.9L191.9,324.6L218.8,304.4L245.7,311.6L272.6,315.5L299.5,295.3M57.4,338.1L84.3,283.5L111.2,305.8L138.1,291.7L165.0,291.5L191.9,316.4L218.8,306.0L245.7,308.4L272.6,286.7L299.5,293.3M57.4,319.6L84.3,310.7L111.2,311.5L138.1,290.3L165.0,289.2L191.9,320.7L218.8,303.2L245.7,298.5L272.6,299.0L299.5,309.6M57.4,331.4L84.3,291.4L111.2,294.0L138.1,270.9L165.0,280.6L191.9,294.3L218.8,291.8L245.7,306.7L272.6,275.5L299.5,289.7M57.4,319.5L84.3,270.6L111.2,281.4L138.1,285.5L165.0,280.9L191.9,301.7L218.8,265.9L245.7,302.7L272.6,264.4L299.5,265.8M57.4,315.8L84.3,290.5L111.2,293.8L138.1,269.9L165.0,271.8L191.9,293.5L218.8,289.9L245.7,301.2L272.6,286.6L299.5,280.7M57.4,351.8L84.3,309.4L111.2,318.3L138.1,294.7L165.0,314.2L191.9,323.2L218.8,310.3L245.7,310.4L272.6,315.2L299.5,307.0M57.4,317.9L84.3,274.2L111.2,283.7L138.1,281.1L165.0,270.0L191.9,303.6L218.8,295.2L245.7,280.9L272.6,287.5L299.5,291.8M57.4,338.2L84.3,287.6L111.2,301.2L138.1,270.1L165.0,283.0L191.9,314.0L218.8,289.4L245.7,308.9L272.6,294.2L299.5,295.1M57.4,316.6L84.3,295.8L111.2,296.2L138.1,278.1L165.0,290.0L191.9,313.3L218.8,295.2L245.7,296.7L272.6,284.1L299.5,285.6M57.4,331.5L84.3,287.3L111.2,306.3L138.1,286.8L165.0,283.9L191.9,315.4L218.8,297.1L245.7,305.5L272.6,290.8L299.5,290.2M57.4,338.8L84.3,310.5L111.2,306.2L138.1,291.2L165.0,286.5L191.9,332.2L218.8,306.5L245.7,306.4L272.6,310.7L299.5,299.8M57.4,326.7L84.3,301.2L111.2,296.6L138.1,275.7L165.0,287.7L191.9,298.1L218.8,293.4L245.7,299.6L272.6,289.7L299.5,284.2M57.4,316.4L84.3,286.4L111.2,303.3L138.1,279.0L165.0,272.1L191.9,308.0L218.8,289.3L245.7,294.9L272.6,287.9L299.5,305.0M57.4,325.1L84.3,289.0L111.2,304.0L138.1,265.0L165.0,281.7L191.9,309.4L218.8,297.7L245.7,296.0L272.6,293.6L299.5,295.9M57.4,289.4L84.3,255.4L111.2,260.7L138.1,246.8L165.0,272.7L191.9,269.7L218.8,257.4L245.7,271.6L272.6,281.0L299.5,254.7M57.4,315.8L84.3,272.9L111.2,274.7L138.1,261.6L165.0,254.1L191.9,288.3L218.8,270.5L245.7,283.2L272.6,284.4L299.5,282.8M57.4,284.1L84.3,237.4L111.2,247.6L138.1,220.8L165.0,236.2L191.9,271.9L218.8,254.2L245.7,279.5L272.6,250.3L299.5,243.5M57.4,346.9L84.3,305.8L111.2,310.5L138.1,303.7L165.0,305.6L191.9,338.1L218.8,320.1L245.7,316.6L272.6,292.9L299.5,317.2M57.4,306.4L84.3,278.8L111.2,260.6L138.1,282.9L165.0,265.0L191.9,286.8L218.8,256.6L245.7,267.0L272.6,249.5L299.5,272.3M57.4,302.3L84.3,274.1L111.2,283.7L138.1,267.4L165.0,273.4L191.9,305.6L218.8,263.3L245.7,292.9L272.6,292.7L299.5,276.0M57.4,327.7L84.3,274.5L111.2,301.1L138.1,280.4L165.0,287.4L191.9,306.8L218.8,297.3L245.7,299.5L272.6,259.0L299.5,287.2M57.4,321.1L84.3,294.0L111.2,302.3L138.1,281.2L165.0,284.2L191.9,309.5L218.8,291.6L245.7,301.9L272.6,285.6L299.5,301.4M57.4,333.9L84.3,282.6L111.2,292.0L138.1,281.5L165.0,276.5L191.9,281.3L218.8,282.4L245.7,308.4L272.6,288.2L299.5,284.6M57.4,325.6L84.3,280.8L111.2,297.3L138.1,286.0L165.0,275.6L191.9,307.4L218.8,293.5L245.7,305.1L272.6,297.1L299.5,299.0M57.4,339.3L84.3,313.4L111.2,293.4L138.1,289.3L165.0,290.1L191.9,305.8L218.8,313.4L245.7,292.8L272.6,295.8L299.5,288.6M57.4,331.2L84.3,295.7L111.2,304.4L138.1,294.9L165.0,296.2L191.9,311.0L218.8,286.8L245.7,308.9L272.6,288.3L299.5,293.6M57.4,312.6L84.3,297.8L111.2,291.1L138.1,273.8L165.0,278.9L191.9,307.8L218.8,295.0L245.7,303.5L272.6,290.5L299.5,261.4M57.4,306.2L84.3,262.2L111.2,287.4L138.1,281.8L165.0,277.8L191.9,283.4L218.8,259.0L245.7,280.1L272.6,275.8L299.5,271.8M57.4,347.2L84.3,302.5L111.2,311.7L138.1,292.7L165.0,296.9L191.9,321.5L218.8,301.4L245.7,300.4L272.6,297.8L299.5,282.0M57.4,341.6L84.3,314.3L111.2,315.6L138.1,292.1L165.0,292.8L191.9,313.3L218.8,312.2L245.7,323.7L272.6,303.2L299.5,302.8M57.4,329.2L84.3,284.6L111.2,315.8L138.1,282.2L165.0,281.3L191.9,325.5L218.8,298.9L245.7,308.7L272.6,303.3L299.5,286.8M57.4,330.3L84.3,284.8L111.2,290.9L138.1,268.0L165.0,273.7L191.9,299.7L218.8,300.0L245.7,301.8L272.6,283.6L299.5,307.0M57.4,304.3L84.3,274.3L111.2,290.0L138.1,248.2L165.0,254.3L191.9,284.8L218.8,271.1L245.7,282.6L272.6,268.1L299.5,265.1M57.4,330.2L84.3,298.8L111.2,305.0L138.1,281.4L165.0,278.1L191.9,308.1L218.8,298.3L245.7,307.8L272.6,298.7L299.5,298.4M57.4,317.6L84.3,286.9L111.2,302.9L138.1,282.5L165.0,270.2L191.9,287.9L218.8,281.9L245.7,304.1L272.6,281.0L299.5,280.0M57.4,334.9L84.3,301.6L111.2,313.9L138.1,294.9L165.0,284.8L191.9,312.2L218.8,308.2L245.7,315.9L272.6,289.8L299.5,294.6M57.4,317.1L84.3,296.7L111.2,309.9L138.1,271.7L165.0,286.1L191.9,306.8L218.8,296.6L245.7,310.4L272.6,298.2L299.5,294.4M57.4,320.3L84.3,260.0L111.2,279.5L138.1,270.9L165.0,261.4L191.9,283.0L218.8,284.9L245.7,302.7L272.6,266.8L299.5,283.3M57.4,337.8L84.3,287.7L111.2,301.6L138.1,284.3L165.0,278.7L191.9,299.1L218.8,293.8L245.7,304.9L272.6,280.1L299.5,298.1M57.4,316.9L84.3,268.4L111.2,284.4L138.1,268.0L165.0,272.7L191.9,299.3L218.8,298.2L245.7,280.6L272.6,276.0L299.5,286.5M57.4,329.3L84.3,298.7L111.2,318.2L138.1,284.1L165.0,278.5L191.9,316.7L218.8,301.6L245.7,313.9L272.6,301.9L299.5,293.4M57.4,286.8L84.3,252.6L111.2,252.0L138.1,241.4L165.0,235.5L191.9,259.3L218.8,264.9L245.7,272.6L272.6,250.2L299.5,245.1M57.4,312.9L84.3,298.8L111.2,291.6L138.1,280.1L165.0,277.6L191.9,299.8L218.8,298.1L245.7,299.6L272.6,292.8L299.5,284.6M57.4,339.8L84.3,298.2L111.2,312.0L138.1,278.2L165.0,293.9L191.9,308.3L218.8,299.8L245.7,315.4L272.6,296.5L299.5,303.5M57.4,334.0L84.3,278.9L111.2,306.1L138.1,267.8L165.0,282.3L191.9,318.3L218.8,312.7L245.7,299.1L272.6,304.0L299.5,288.2M57.4,311.4L84.3,280.6L111.2,289.1L138.1,262.5L165.0,271.8L191.9,298.4L218.8,284.7L245.7,277.2L272.6,280.6L299.5,274.4M57.4,343.9L84.3,311.4L111.2,311.6L138.1,284.0L165.0,290.3L191.9,319.9L218.8,300.2L245.7,313.5L272.6,295.3L299.5,298.8M57.4,340.7L84.3,296.0L111.2,285.5L138.1,272.4L165.0,253.6L191.9,301.8L218.8,292.5L245.7,280.3L272.6,275.7L299.5,266.4M57.4,324.2L84.3,278.2L111.2,300.8L138.1,276.1L165.0,280.9L191.9,302.0L218.8,280.4L245.7,299.1L272.6,278.3L299.5,288.7M57.4,339.5L84.3,282.5L111.2,286.9L138.1,277.4L165.0,261.1L191.9,293.2L218.8,271.0L245.7,281.0L272.6,270.7L299.5,281.0M57.4,340.1L84.3,304.8L111.2,308.1L138.1,291.1L165.0,266.7L191.9,326.6L218.8,295.9L245.7,313.7L272.6,298.7L299.5,293.8M57.4,337.0L84.3,288.0L111.2,301.4L138.1,292.0L165.0,280.2L191.9,313.4L218.8,299.0L245.7,296.4L272.6,284.7L299.5,292.3M57.4,296.0L84.3,269.6L111.2,269.6L138.1,251.6L165.0,275.5L191.9,293.9L218.8,280.0L245.7,254.9L272.6,262.6L299.5,266.5M57.4,326.7L84.3,296.9L111.2,290.8L138.1,278.0L165.0,273.6L191.9,312.2L218.8,296.6L245.7,308.8L272.6,293.6L299.5,306.8M57.4,340.4L84.3,301.5L111.2,295.8L138.1,281.8L165.0,277.8L191.9,305.6L218.8,292.7L245.7,298.8L272.6,296.7L299.5,290.1M57.4,335.3L84.3,284.6L111.2,283.2L138.1,287.7L165.0,269.6L191.9,302.6L218.8,302.5L245.7,302.0L272.6,287.9L299.5,290.7M57.4,340.6L84.3,295.0L111.2,296.3L138.1,275.4L165.0,280.3L191.9,300.5L218.8,303.8L245.7,304.4L272.6,288.4L299.5,285.6M57.4,321.8L84.3,288.7L111.2,277.6L138.1,291.4L165.0,280.3L191.9,281.0L218.8,289.9L245.7,311.7L272.6,284.4L299.5,298.5M57.4,333.5L84.3,284.2L111.2,303.0L138.1,279.9L165.0,281.0L191.9,311.1L218.8,305.8L245.7,307.6L272.6,291.3L299.5,298.2M57.4,337.2L84.3,307.9L111.2,312.8L138.1,284.9L165.0,290.4L191.9,312.0L218.8,289.3L245.7,304.9L272.6,293.6L299.5,304.0M57.4,336.0L84.3,307.4L111.2,306.8L138.1,295.0L165.0,290.7L191.9,316.4L218.8,297.0L245.7,313.1L272.6,299.5L299.5,298.3M57.4,311.5L84.3,293.3L111.2,303.2L138.1,280.0L165.0,276.9L191.9,303.5L218.8,286.9L245.7,309.6L272.6,264.1L299.5,273.0M57.4,337.2L84.3,291.0L111.2,296.5L138.1,293.4L165.0,282.3L191.9,316.4L218.8,290.2L245.7,288.5L272.6,278.4L299.5,300.6M57.4,301.8L84.3,277.6L111.2,277.3L138.1,246.0L165.0,267.7L191.9,289.1L218.8,282.1L245.7,273.2L272.6,289.6L299.5,260.8M57.4,331.4L84.3,311.3L111.2,314.8L138.1,290.8L165.0,285.1L191.9,325.6L218.8,298.6L245.7,313.7L272.6,287.8L299.5,301.0M57.4,324.3L84.3,268.1L111.2,297.3L138.1,272.4L165.0,257.0L191.9,299.5L218.8,281.6L245.7,301.5L272.6,279.7L299.5,301.1M57.4,332.3L84.3,301.1L111.2,308.5L138.1,266.0L165.0,276.7L191.9,315.5L218.8,275.8L245.7,304.6L272.6,289.0L299.5,286.9M57.4,349.7L84.3,307.0L111.2,302.3L138.1,282.1L165.0,302.5L191.9,308.5L218.8,303.9L245.7,307.7L272.6,297.2L299.5,297.7M57.4,343.8L84.3,305.5L111.2,311.3L138.1,283.1L165.0,298.9L191.9,303.9L218.8,307.1L245.7,313.7L272.6,291.7L299.5,296.3M57.4,339.0L84.3,301.7L111.2,313.6L138.1,271.7L165.0,276.1L191.9,293.0L218.8,293.7L245.7,301.7L272.6,284.7L299.5,285.8M57.4,328.9L84.3,274.3L111.2,313.6L138.1,289.9L165.0,290.7L191.9,302.5L218.8,286.2L245.7,305.5L272.6,284.5L299.5,293.0M57.4,329.9L84.3,288.4L111.2,296.3L138.1,263.6L165.0,257.0L191.9,315.7L218.8,285.4L245.7,297.3L272.6,275.0L299.5,277.1M57.4,310.7L84.3,291.2L111.2,304.5L138.1,252.2L165.0,260.6L191.9,305.6L218.8,272.3L245.7,285.1L272.6,296.9L299.5,272.8M57.4,330.0L84.3,305.3L111.2,313.7L138.1,297.3L165.0,292.2L191.9,308.4L218.8,307.2L245.7,322.0L272.6,279.9L299.5,285.6M57.4,325.2L84.3,294.0L111.2,304.9L138.1,264.1L165.0,260.9L191.9,307.3L218.8,285.5L245.7,295.0L272.6,281.4L299.5,277.4M57.4,307.6L84.3,256.3L111.2,262.3L138.1,254.2L165.0,256.9L191.9,292.7L218.8,257.9L245.7,280.0L272.6,267.9L299.5,264.4M57.4,343.5L84.3,301.6L111.2,296.8L138.1,287.3L165.0,286.2L191.9,323.7L218.8,314.6L245.7,294.7L272.6,297.7L299.5,308.1M57.4,324.4L84.3,304.5L111.2,306.9L138.1,277.2L165.0,289.1L191.9,300.2L218.8,286.4L245.7,298.2L272.6,291.3L299.5,291.6M57.4,335.4L84.3,295.6L111.2,307.7L138.1,277.1L165.0,265.3L191.9,315.6L218.8,297.4L245.7,301.1L272.6,288.8L299.5,297.5M57.4,325.4L84.3,292.2L111.2,301.0L138.1,287.9L165.0,282.1L191.9,304.9L218.8,299.6L245.7,300.9L272.6,273.4L299.5,307.1M57.4,331.4L84.3,295.8L111.2,294.5L138.1,265.3L165.0,273.8L191.9,308.8L218.8,298.3L245.7,298.6L272.6,279.9L299.5,290.5M57.4,330.6L84.3,311.0L111.2,314.4L138.1,295.3L165.0,299.3L191.9,319.4L218.8,309.4L245.7,310.1L272.6,308.7L299.5,313.5M57.4,303.8L84.3,258.9L111.2,263.2L138.1,247.8L165.0,256.8L191.9,296.5L218.8,284.7L245.7,267.6L272.6,257.3L299.5,261.4M57.4,357.9L84.3,313.8L111.2,322.7L138.1,292.0L165.0,303.6L191.9,310.6L218.8,312.9L245.7,319.4L272.6,296.5L299.5,302.9M57.4,331.5L84.3,284.9L111.2,316.2L138.1,288.0L165.0,297.2L191.9,327.3L218.8,297.9L245.7,304.3L272.6,289.0L299.5,295.5M57.4,347.1L84.3,314.4L111.2,325.8L138.1,303.6L165.0,294.9L191.9,326.3L218.8,298.9L245.7,315.7L272.6,318.1L299.5,302.3M57.4,312.0L84.3,287.6L111.2,266.4L138.1,274.9L165.0,266.8L191.9,308.0L218.8,290.2L245.7,301.2L272.6,262.0L299.5,264.3M57.4,341.7L84.3,296.1L111.2,301.2L138.1,292.2L165.0,293.4L191.9,310.7L218.8,292.5L245.7,304.1L272.6,288.1L299.5,302.3M57.4,349.1L84.3,320.4L111.2,323.1L138.1,303.1L165.0,301.1L191.9,333.8L218.8,306.6L245.7,323.0L272.6,306.2L299.5,308.4M57.4,311.0L84.3,294.6L111.2,292.7L138.1,246.7L165.0,264.1L191.9,287.8L218.8,276.5L245.7,294.0L272.6,281.0L299.5,283.6M57.4,309.8L84.3,258.9L111.2,279.9L138.1,244.7L165.0,262.7L191.9,302.9L218.8,262.9L245.7,283.2L272.6,262.0L299.5,274.1M57.4,330.8L84.3,302.6L111.2,311.1L138.1,287.3L165.0,288.5L191.9,318.5L218.8,297.7L245.7,301.8L272.6,272.6L299.5,277.4M57.4,320.7L84.3,294.0L111.2,296.9L138.1,279.0L165.0,286.2L191.9,306.3L218.8,304.5L245.7,297.4L272.6,289.9L299.5,298.1M57.4,328.2L84.3,299.9L111.2,300.1L138.1,277.5L165.0,271.6L191.9,317.0L218.8,298.1L245.7,300.7L272.6,277.9L299.5,291.8M57.4,332.1L84.3,287.9L111.2,273.6L138.1,271.3L165.0,251.2L191.9,303.7L218.8,287.1L245.7,304.9L272.6,272.1L299.5,278.6M57.4,300.0L84.3,267.6L111.2,287.3L138.1,252.6L165.0,246.5L191.9,273.2L218.8,256.5L245.7,267.2L272.6,262.7L299.5,259.7M57.4,336.5L84.3,272.5L111.2,294.1L138.1,283.9L165.0,276.1L191.9,301.4L218.8,282.3L245.7,285.0L272.6,306.6L299.5,283.1M57.4,317.9L84.3,290.3L111.2,276.9L138.1,254.8L165.0,258.6L191.9,297.4L218.8,279.0L245.7,279.7L272.6,261.3L299.5,250.9M57.4,330.4L84.3,305.5L111.2,285.4L138.1,275.8L165.0,279.3L191.9,310.4L218.8,283.3L245.7,310.5L272.6,282.8L299.5,285.6M57.4,311.6L84.3,289.1L111.2,295.2L138.1,265.9L165.0,289.9L191.9,305.3L218.8,289.6L245.7,288.0L272.6,290.2L299.5,279.1M57.4,335.6L84.3,298.7L111.2,306.4L138.1,271.9L165.0,275.0L191.9,294.4L218.8,281.2L245.7,301.2L272.6,272.5L299.5,277.9M57.4,317.7L84.3,296.6L111.2,290.2L138.1,281.1L165.0,285.9L191.9,303.7L218.8,286.7L245.7,295.5L272.6,284.7L299.5,292.9M57.4,332.3L84.3,300.0L111.2,296.7L138.1,261.4L165.0,283.1L191.9,311.9L218.8,278.3L245.7,282.2L272.6,287.8L299.5,290.0M57.4,295.9L84.3,287.9L111.2,287.3L138.1,271.1L165.0,292.6L191.9,312.0L218.8,300.6L245.7,294.1L272.6,283.8L299.5,270.9M57.4,329.3L84.3,294.0L111.2,301.6L138.1,258.9L165.0,282.6L191.9,295.5L218.8,285.0L245.7,307.6L272.6,284.4L299.5,295.4M57.4,325.9L84.3,290.4L111.2,302.3L138.1,261.4L165.0,282.9L191.9,298.1L218.8,276.4L245.7,293.5L272.6,276.4L299.5,275.9M57.4,296.5L84.3,291.9L111.2,265.8L138.1,263.6L165.0,284.1L191.9,298.5L218.8,293.6L245.7,287.2L272.6,287.8L299.5,286.2M57.4,323.3L84.3,294.9L111.2,298.5L138.1,275.4L165.0,277.4L191.9,302.6L218.8,292.4L245.7,288.7L272.6,295.8L299.5,291.1M57.4,330.5L84.3,294.7L111.2,301.9L138.1,274.5L165.0,268.0L191.9,306.4L218.8,294.7L245.7,295.8L272.6,288.0L299.5,302.4M57.4,329.1L84.3,293.6L111.2,290.1L138.1,274.3L165.0,283.5L191.9,318.9L218.8,303.4L245.7,297.4L272.6,285.2L299.5,282.9M57.4,330.2L84.3,298.7L111.2,305.6L138.1,276.8L165.0,287.9L191.9,296.1L218.8,301.2L245.7,311.2L272.6,286.5L299.5,300.5M57.4,316.9L84.3,270.5L111.2,280.6L138.1,264.9L165.0,278.1L191.9,303.4L218.8,264.6L245.7,270.2L272.6,246.2L299.5,283.7M57.4,321.4L84.3,275.8L111.2,297.7L138.1,263.7L165.0,265.8L191.9,293.1L218.8,272.8L245.7,295.4L272.6,265.7L299.5,289.9M57.4,332.6L84.3,269.3L111.2,285.7L138.1,256.1L165.0,249.8L191.9,277.5L218.8,271.6L245.7,263.2L272.6,280.4L299.5,277.1M57.4,304.9L84.3,292.5L111.2,276.3L138.1,270.1L165.0,247.5L191.9,275.4L218.8,279.8L245.7,269.1L272.6,276.3L299.5,262.7M57.4,322.3L84.3,296.6L111.2,295.1L138.1,288.8L165.0,280.0L191.9,313.8L218.8,274.8L245.7,302.3L272.6,298.9L299.5,277.6M57.4,329.1L84.3,265.5L111.2,287.3L138.1,272.8L165.0,283.1L191.9,323.3L218.8,284.6L245.7,287.0L272.6,288.2L299.5,296.7M57.4,340.8L84.3,292.4L111.2,292.9L138.1,263.8L165.0,280.0L191.9,305.0L218.8,287.3L245.7,288.0L272.6,290.1L299.5,299.2M57.4,344.9L84.3,305.4L111.2,308.2L138.1,283.3L165.0,288.3L191.9,313.2L218.8,303.8L245.7,305.3L272.6,288.7L299.5,292.4M57.4,311.4L84.3,274.3L111.2,262.8L138.1,256.4L165.0,258.2L191.9,290.1L218.8,265.3L245.7,285.6L272.6,278.1L299.5,272.1M57.4,326.5L84.3,298.7L111.2,303.3L138.1,283.9L165.0,283.8L191.9,314.8L218.8,289.1L245.7,314.8L272.6,294.2L299.5,299.3M57.4,319.7L84.3,278.3L111.2,294.7L138.1,276.9L165.0,283.8L191.9,301.2L218.8,290.9L245.7,289.9L272.6,275.9L299.5,273.0M57.4,335.1L84.3,300.4L111.2,300.7L138.1,276.2L165.0,264.2L191.9,306.0L218.8,278.4L245.7,284.3L272.6,295.7L299.5,280.3M57.4,299.5L84.3,276.7L111.2,275.1L138.1,268.0L165.0,267.8L191.9,291.3L218.8,262.0L245.7,288.4L272.6,264.0L299.5,275.5M57.4,333.8L84.3,294.1L111.2,311.5L138.1,280.5L165.0,293.5L191.9,318.9L218.8,299.1L245.7,309.1L272.6,300.8L299.5,308.1M57.4,326.2L84.3,295.0L111.2,297.9L138.1,288.6L165.0,277.9L191.9,302.0L218.8,291.1L245.7,305.0L272.6,286.5L299.5,288.9M57.4,311.5L84.3,275.0L111.2,293.0L138.1,255.5L165.0,256.3L191.9,297.2L218.8,274.0L245.7,284.3L272.6,274.4L299.5,289.1M57.4,324.1L84.3,265.1L111.2,280.2L138.1,243.5L165.0,263.1L191.9,283.0L218.8,265.4L245.7,274.0L272.6,270.1L299.5,261.9M57.4,313.4L84.3,292.0L111.2,295.3L138.1,277.1L165.0,284.2L191.9,298.8L218.8,285.0L245.7,282.3L272.6,285.6L299.5,281.8M57.4,314.5L84.3,275.9L111.2,283.4L138.1,270.0L165.0,276.8L191.9,280.5L218.8,277.6L245.7,287.0L272.6,284.8L299.5,274.9M57.4,324.7L84.3,285.3L111.2,273.2L138.1,248.5L165.0,251.3L191.9,296.5L218.8,273.1L245.7,293.1L272.6,267.7L299.5,279.1M57.4,312.6L84.3,286.0L111.2,299.9L138.1,275.2L165.0,276.9L191.9,308.1L218.8,289.6L245.7,292.7L272.6,270.2L299.5,302.7M57.4,348.3L84.3,296.9L111.2,291.5L138.1,287.9L165.0,292.1L191.9,309.5L218.8,321.6L245.7,313.0L272.6,319.6L299.5,300.2M57.4,336.9L84.3,294.4L111.2,308.7L138.1,274.1L165.0,286.7L191.9,308.4L218.8,276.1L245.7,308.6L272.6,285.2L299.5,300.6M57.4,302.1L84.3,273.8L111.2,273.5L138.1,245.8L165.0,252.1L191.9,290.2L218.8,278.6L245.7,274.5L272.6,285.7L299.5,280.4M57.4,316.6L84.3,266.7L111.2,276.0L138.1,268.7L165.0,271.4L191.9,311.0L218.8,289.6L245.7,292.3L272.6,283.5L299.5,283.8M57.4,329.9L84.3,289.6L111.2,306.7L138.1,259.0L165.0,283.7L191.9,312.5L218.8,278.9L245.7,295.3L272.6,270.7L299.5,286.2M57.4,292.8L84.3,262.0L111.2,270.6L138.1,252.3L165.0,246.3L191.9,259.4L218.8,270.9L245.7,284.3L272.6,255.1L299.5,253.9M57.4,347.2L84.3,312.4L111.2,309.8L138.1,288.4L165.0,300.6L191.9,327.5L218.8,303.0L245.7,328.4L272.6,296.7L299.5,304.9M57.4,292.9L84.3,272.1L111.2,277.3L138.1,255.8L165.0,264.1L191.9,280.8L218.8,260.3L245.7,290.9L272.6,265.6L299.5,252.6M57.4,327.2L84.3,290.2L111.2,298.8L138.1,282.5L165.0,261.2L191.9,296.1L218.8,291.3L245.7,304.0L272.6,281.8L299.5,285.9M57.4,310.4L84.3,267.9L111.2,266.6L138.1,249.1L165.0,261.4L191.9,305.3L218.8,258.7L245.7,273.5L272.6,270.0L299.5,269.9M57.4,343.7L84.3,310.7L111.2,305.3L138.1,283.5L165.0,289.5L191.9,309.7L218.8,299.1L245.7,308.7L272.6,302.1L299.5,295.0M57.4,306.6L84.3,263.7L111.2,289.1L138.1,272.4L165.0,254.5L191.9,296.7L218.8,276.6L245.7,287.8L272.6,272.5L299.5,278.2M57.4,345.8L84.3,280.2L111.2,303.6L138.1,296.2L165.0,293.0L191.9,318.8L218.8,303.9L245.7,323.0L272.6,288.5L299.5,281.9M57.4,324.8L84.3,289.4L111.2,310.7L138.1,269.6L165.0,295.6L191.9,312.5L218.8,298.7L245.7,292.2L272.6,288.9L299.5,293.4M57.4,335.6L84.3,299.0L111.2,302.4L138.1,275.2L165.0,284.3L191.9,313.5L218.8,302.3L245.7,296.0L272.6,293.4L299.5,297.7M57.4,289.0L84.3,262.5L111.2,277.5L138.1,261.1L165.0,248.5L191.9,287.7L218.8,262.1L245.7,285.8L272.6,264.2L299.5,264.5M57.4,324.7L84.3,286.4L111.2,306.3L138.1,284.5L165.0,281.6L191.9,287.2L218.8,293.4L245.7,305.9L272.6,290.6L299.5,288.3M57.4,318.8L84.3,270.8L111.2,282.7L138.1,266.4L165.0,275.9L191.9,292.7L218.8,286.0L245.7,281.1L272.6,288.7L299.5,265.4M57.4,313.0L84.3,267.1L111.2,284.2L138.1,283.0L165.0,271.8L191.9,292.4L218.8,291.0L245.7,301.8L272.6,274.1L299.5,276.3M57.4,334.4L84.3,299.3L111.2,307.7L138.1,282.6L165.0,277.2L191.9,321.0L218.8,300.2L245.7,291.1L272.6,289.2L299.5,293.1M57.4,327.9L84.3,292.7L111.2,303.8L138.1,280.7L165.0,268.9L191.9,287.6L218.8,287.5L245.7,296.9L272.6,273.4L299.5,274.5" fill="none" stroke="#741a74" stroke-width="0.5" stroke-opacity="0.13"/>
</g>
<line x1="45.00" y1="312.40" x2="311.50" y2="312.40" stroke="#666" stroke-width="0.8" stroke-dasharray="1.1,1.1"/>
<polyline points="57.4,338.4 84.3,334.7 111.2,333.6 138.1,337.6 165.0,331.0 191.9,328.4 218.8,328.1 245.7,324.7 272.6,322.7 299.5,318.1" fill="none" stroke="#9fc6fa" stroke-width="2.3" stroke-linejoin="round"/>
<polyline points="57.4,334.1 84.3,324.4 111.2,333.6 138.1,323.0 165.0,317.5 191.9,327.0 218.8,298.4 245.7,299.5 272.6,282.7 299.5,276.9" fill="none" stroke="#fdbb63" stroke-width="2.3" stroke-linejoin="round"/>
<polyline points="57.4,329.0 84.3,292.1 111.2,300.1 138.1,278.4 165.0,282.1 191.9,306.4 218.8,294.1 245.7,301.0 272.6,287.5 299.5,290.4" fill="none" stroke="#741a74" stroke-width="2.3" stroke-linejoin="round"/>
<text x="55.05" y="324.60" font-size="9.5" text-anchor="middle" fill="#111" stroke="#111" letter-spacing="1.1" stroke-width="0.1">***</text>
<text x="87.55" y="287.60" font-size="9.5" text-anchor="middle" fill="#111" stroke="#111" letter-spacing="1.1" stroke-width="0.1">***</text>
<text x="112.55" y="292.60" font-size="9.5" text-anchor="middle" fill="#111" stroke="#111" letter-spacing="1.1" stroke-width="0.1">***</text>
<text x="139.55" y="267.20" font-size="9.5" text-anchor="middle" fill="#111" stroke="#111" letter-spacing="1.1" stroke-width="0.1">***</text>
<text x="166.55" y="274.60" font-size="9.5" text-anchor="middle" fill="#111" stroke="#111" letter-spacing="1.1" stroke-width="0.1">***</text>
<text x="193.55" y="299.60" font-size="9.5" text-anchor="middle" fill="#111" stroke="#111" letter-spacing="1.1" stroke-width="0.1">***</text>
<text x="220.55" y="283.60" font-size="9.5" text-anchor="middle" fill="#111" stroke="#111" letter-spacing="1.1" stroke-width="0.1">***</text>
<text x="247.55" y="284.00" font-size="9.5" text-anchor="middle" fill="#111" stroke="#111" letter-spacing="1.1" stroke-width="0.1">***</text>
<text x="274.55" y="270.60" font-size="9.5" text-anchor="middle" fill="#111" stroke="#111" letter-spacing="1.1" stroke-width="0.1">***</text>
<text x="301.55" y="267.20" font-size="9.5" text-anchor="middle" fill="#111" stroke="#111" letter-spacing="1.1" stroke-width="0.1">***</text>
<rect x="45.00" y="214.40" width="266.50" height="168.00" fill="none" stroke="#555555" stroke-width="1.0"/>
<line x1="42.70" y1="226.60" x2="45.00" y2="226.60" stroke="#555555" stroke-width="1"/>
<text x="41.75" y="230.20" font-size="11" text-anchor="end" fill="#1a1a1a" stroke="#1a1a1a" letter-spacing="0.45">3</text>
<line x1="42.70" y1="255.20" x2="45.00" y2="255.20" stroke="#555555" stroke-width="1"/>
<text x="41.75" y="258.80" font-size="11" text-anchor="end" fill="#1a1a1a" stroke="#1a1a1a" letter-spacing="0.45">2</text>
<line x1="42.70" y1="283.80" x2="45.00" y2="283.80" stroke="#555555" stroke-width="1"/>
<text x="41.75" y="287.40" font-size="11" text-anchor="end" fill="#1a1a1a" stroke="#1a1a1a" letter-spacing="0.45">1</text>
<line x1="42.70" y1="312.40" x2="45.00" y2="312.40" stroke="#555555" stroke-width="1"/>
<text x="41.75" y="316.00" font-size="11" text-anchor="end" fill="#1a1a1a" stroke="#1a1a1a" letter-spacing="0.45">0</text>
<line x1="42.70" y1="341.00" x2="45.00" y2="341.00" stroke="#555555" stroke-width="1"/>
<text x="41.75" y="344.60" font-size="11" text-anchor="end" fill="#1a1a1a" stroke="#1a1a1a" letter-spacing="0.45">−1</text>
<line x1="42.70" y1="369.60" x2="45.00" y2="369.60" stroke="#555555" stroke-width="1"/>
<text x="41.75" y="373.20" font-size="11" text-anchor="end" fill="#1a1a1a" stroke="#1a1a1a" letter-spacing="0.45">−2</text>
<line x1="57.40" y1="382.40" x2="57.40" y2="384.70" stroke="#555555" stroke-width="1"/>
<line x1="84.30" y1="382.40" x2="84.30" y2="384.70" stroke="#555555" stroke-width="1"/>
<line x1="111.20" y1="382.40" x2="111.20" y2="384.70" stroke="#555555" stroke-width="1"/>
<line x1="138.10" y1="382.40" x2="138.10" y2="384.70" stroke="#555555" stroke-width="1"/>
<line x1="165.00" y1="382.40" x2="165.00" y2="384.70" stroke="#555555" stroke-width="1"/>
<line x1="191.90" y1="382.40" x2="191.90" y2="384.70" stroke="#555555" stroke-width="1"/>
<line x1="218.80" y1="382.40" x2="218.80" y2="384.70" stroke="#555555" stroke-width="1"/>
<line x1="245.70" y1="382.40" x2="245.70" y2="384.70" stroke="#555555" stroke-width="1"/>
<line x1="272.60" y1="382.40" x2="272.60" y2="384.70" stroke="#555555" stroke-width="1"/>
<line x1="299.50" y1="382.40" x2="299.50" y2="384.70" stroke="#555555" stroke-width="1"/>
<text x="154.30" y="229.60" font-size="11" fill="#1a1a1a" stroke="#1a1a1a" textLength="47.30" lengthAdjust="spacing">Cluster 0</text>
<text x="23.70" y="295.90" font-size="11" text-anchor="middle" fill="#1a1a1a" stroke="#1a1a1a" textLength="36.50" lengthAdjust="spacing" transform="rotate(-90 23.70 295.90)">z score</text>
<clipPath id="lc1"><rect x="45.0" y="393.8" width="266.5" height="168.7"/></clipPath>
<g clip-path="url(#lc1)">
<path d="M57.4,535.1L84.3,532.1L111.2,536.0L138.1,528.4L165.0,530.6L191.9,529.6L218.8,523.0L245.7,522.9L272.6,524.3L299.5,524.3M57.4,532.4L84.3,531.2L111.2,525.8L138.1,531.4L165.0,530.4L191.9,527.8L218.8,524.9L245.7,524.5L272.6,528.4L299.5,525.7M57.4,535.2L84.3,532.3L111.2,532.8L138.1,528.5L165.0,529.1L191.9,531.6L218.8,528.5L245.7,529.1L272.6,529.1L299.5,528.2M57.4,529.4L84.3,532.3L111.2,529.3L138.1,524.5L165.0,520.6L191.9,527.9L218.8,525.1L245.7,524.4L272.6,526.4L299.5,521.0M57.4,531.1L84.3,526.6L111.2,531.6L138.1,528.1L165.0,527.4L191.9,530.5L218.8,529.4L245.7,523.4L272.6,524.8L299.5,525.8M57.4,532.9L84.3,533.8L111.2,529.1L138.1,529.8L165.0,530.9L191.9,531.8L218.8,531.3L245.7,532.5L272.6,529.5L299.5,529.2M57.4,527.2L84.3,528.9L111.2,530.1L138.1,525.8L165.0,523.4L191.9,528.7L218.8,524.5L245.7,523.6L272.6,522.8L299.5,522.3M57.4,532.1L84.3,528.0L111.2,527.1L138.1,533.5L165.0,535.8L191.9,528.0L218.8,529.8L245.7,528.9L272.6,531.0L299.5,525.3M57.4,533.0L84.3,529.7L111.2,525.3L138.1,526.5L165.0,526.6L191.9,530.0L218.8,526.3L245.7,527.5L272.6,523.6L299.5,524.6M57.4,530.5L84.3,533.4L111.2,529.1L138.1,526.3L165.0,530.3L191.9,527.5L218.8,532.1L245.7,524.9L272.6,524.3L299.5,528.8M57.4,526.1L84.3,530.3L111.2,528.6L138.1,522.1L165.0,524.3L191.9,520.2L218.8,525.8L245.7,521.5L272.6,517.7L299.5,521.5M57.4,530.4L84.3,528.7L111.2,528.0L138.1,522.3L165.0,530.1L191.9,524.6L218.8,522.1L245.7,527.8L272.6,523.9L299.5,517.3M57.4,535.1L84.3,528.9L111.2,531.6L138.1,525.7L165.0,527.7L191.9,526.7L218.8,526.3L245.7,522.8L272.6,524.0L299.5,524.6M57.4,531.4L84.3,534.3L111.2,529.0L138.1,534.5L165.0,529.0L191.9,530.5L218.8,524.5L245.7,529.7L272.6,529.0L299.5,530.4M57.4,524.3L84.3,528.0L111.2,525.4L138.1,525.8L165.0,519.1L191.9,521.1L218.8,526.2L245.7,519.8L272.6,517.0L299.5,518.8M57.4,530.4L84.3,529.7L111.2,528.9L138.1,530.0L165.0,526.9L191.9,526.8L218.8,526.3L245.7,527.4L272.6,527.5L299.5,523.6M57.4,534.6L84.3,530.3L111.2,525.1L138.1,525.0L165.0,528.4L191.9,522.7L218.8,527.5L245.7,526.4L272.6,518.4L299.5,524.2M57.4,536.0L84.3,534.6L111.2,534.3L138.1,530.8L165.0,534.5L191.9,526.9L218.8,529.4L245.7,529.6L272.6,528.9L299.5,524.7M57.4,527.9L84.3,523.2L111.2,522.3L138.1,521.7L165.0,523.6L191.9,527.4L218.8,520.8L245.7,523.0L272.6,520.5L299.5,525.5M57.4,531.9L84.3,534.6L111.2,531.0L138.1,526.7L165.0,529.7L191.9,531.4L218.8,522.6L245.7,533.8L272.6,529.9L299.5,525.9M57.4,538.6L84.3,532.8L111.2,530.7L138.1,533.6L165.0,527.6L191.9,529.5L218.8,526.7L245.7,533.3L272.6,528.6L299.5,523.8M57.4,522.6L84.3,525.4L111.2,524.1L138.1,524.9L165.0,520.0L191.9,523.8L218.8,520.6L245.7,525.6L272.6,523.3L299.5,513.9M57.4,531.0L84.3,536.5L111.2,530.7L138.1,524.7L165.0,532.8L191.9,534.6L218.8,528.0L245.7,528.4L272.6,526.8L299.5,529.2M57.4,538.5L84.3,534.3L111.2,535.2L138.1,532.2L165.0,536.4L191.9,531.8L218.8,533.5L245.7,531.7L272.6,528.8L299.5,530.8M57.4,536.4L84.3,532.6L111.2,530.1L138.1,532.5L165.0,530.6L191.9,534.4L218.8,532.4L245.7,527.4L272.6,524.3L299.5,528.1M57.4,537.5L84.3,540.4L111.2,536.8L138.1,530.5L165.0,534.1L191.9,534.8L218.8,530.8L245.7,534.1L272.6,531.5L299.5,531.5M57.4,533.6L84.3,528.6L111.2,527.4L138.1,533.9L165.0,534.5L191.9,529.6L218.8,522.4L245.7,525.6L272.6,523.1L299.5,522.8M57.4,530.4L84.3,530.2L111.2,527.1L138.1,525.5L165.0,525.0L191.9,524.9L218.8,526.0L245.7,521.2L272.6,522.1L299.5,519.8M57.4,537.0L84.3,545.2L111.2,538.4L138.1,539.6L165.0,537.4L191.9,538.6L218.8,537.3L245.7,535.6L272.6,534.6L299.5,537.4M57.4,541.1L84.3,538.2L111.2,540.9L138.1,537.0L165.0,538.6L191.9,539.7L218.8,533.5L245.7,531.8L272.6,535.8L299.5,535.3M57.4,531.7L84.3,530.7L111.2,525.1L138.1,524.5L165.0,527.4L191.9,527.5L218.8,523.6L245.7,527.6L272.6,524.4L299.5,523.1M57.4,537.8L84.3,537.5L111.2,536.1L138.1,541.3L165.0,540.7L191.9,539.2L218.8,539.6L245.7,530.5L272.6,537.9L299.5,535.8M57.4,529.9L84.3,527.6L111.2,532.8L138.1,527.0L165.0,528.2L191.9,531.1L218.8,526.7L245.7,530.2L272.6,521.4L299.5,527.2M57.4,525.6L84.3,529.9L111.2,529.8L138.1,526.2L165.0,528.6L191.9,523.1L218.8,523.8L245.7,525.7L272.6,524.7L299.5,520.3M57.4,532.2L84.3,538.0L111.2,536.0L138.1,536.8L165.0,530.1L191.9,531.6L218.8,529.4L245.7,530.6L272.6,531.5L299.5,526.6M57.4,528.6L84.3,528.2L111.2,527.0L138.1,527.0L165.0,527.5L191.9,530.6L218.8,520.1L245.7,528.4L272.6,529.9L299.5,525.5M57.4,522.9L84.3,527.0L111.2,524.0L138.1,523.5L165.0,527.8L191.9,523.1L218.8,520.3L245.7,517.3L272.6,522.8L299.5,525.1M57.4,535.7L84.3,536.4L111.2,535.5L138.1,534.6L165.0,535.5L191.9,537.7L218.8,532.1L245.7,531.8L272.6,530.6L299.5,528.3M57.4,540.8L84.3,539.7L111.2,529.7L138.1,536.1L165.0,532.5L191.9,533.1L218.8,530.2L245.7,523.1L272.6,532.4L299.5,531.0M57.4,532.9L84.3,532.3L111.2,535.1L138.1,528.5L165.0,528.4L191.9,529.7L218.8,530.1L245.7,530.0L272.6,533.1L299.5,526.4M57.4,535.8L84.3,532.3L111.2,536.2L138.1,534.3L165.0,530.4L191.9,527.4L218.8,533.0L245.7,527.8L272.6,531.8L299.5,528.5M57.4,532.8L84.3,527.7L111.2,524.9L138.1,528.1L165.0,527.0L191.9,530.1L218.8,521.4L245.7,525.4L272.6,528.2L299.5,522.1M57.4,537.7L84.3,541.3L111.2,532.2L138.1,529.2L165.0,535.8L191.9,535.5L218.8,534.4L245.7,534.0L272.6,530.3L299.5,527.3M57.4,533.7L84.3,539.1L111.2,530.4L138.1,533.4L165.0,534.5L191.9,528.3L218.8,531.6L245.7,527.2L272.6,527.2L299.5,525.1M57.4,534.0L84.3,533.3L111.2,533.9L138.1,528.7L165.0,533.8L191.9,529.0L218.8,527.0L245.7,535.3L272.6,532.0L299.5,531.4M57.4,532.4L84.3,533.8L111.2,532.4L138.1,532.7L165.0,531.3L191.9,529.4L218.8,527.7L245.7,531.3L272.6,528.8L299.5,530.1M57.4,535.5L84.3,529.9L111.2,529.8L138.1,530.7L165.0,531.6L191.9,530.6L218.8,530.1L245.7,532.0L272.6,522.7L299.5,517.5M57.4,538.1L84.3,534.1L111.2,533.3L138.1,537.7L165.0,538.3L191.9,531.6L218.8,537.3L245.7,527.8L272.6,532.3L299.5,530.3M57.4,532.9L84.3,532.0L111.2,531.6L138.1,526.8L165.0,529.5L191.9,528.9L218.8,529.2L245.7,529.0L272.6,528.5L299.5,525.9M57.4,523.4L84.3,525.3L111.2,520.9L138.1,521.3L165.0,522.6L191.9,522.9L218.8,524.2L245.7,520.0L272.6,520.7L299.5,523.6M57.4,531.1L84.3,535.2L111.2,533.8L138.1,533.6L165.0,534.8L191.9,532.0L218.8,529.4L245.7,532.7L272.6,529.7L299.5,527.9M57.4,532.7L84.3,534.9L111.2,530.9L138.1,532.3L165.0,528.0L191.9,532.4L218.8,525.0L245.7,529.8L272.6,530.5L299.5,530.3M57.4,531.6L84.3,525.3L111.2,525.6L138.1,526.4L165.0,530.7L191.9,526.6L218.8,527.4L245.7,529.7L272.6,522.9L299.5,517.4M57.4,531.4L84.3,530.3L111.2,534.9L138.1,532.4L165.0,530.4L191.9,529.4L218.8,532.6L245.7,528.6L272.6,528.7L299.5,525.3M57.4,537.9L84.3,537.8L111.2,536.8L138.1,533.3L165.0,536.3L191.9,527.2L218.8,535.2L245.7,530.7L272.6,529.5L299.5,529.2M57.4,534.2L84.3,532.9L111.2,529.9L138.1,530.2L165.0,528.5L191.9,528.0L218.8,530.8L245.7,530.5L272.6,523.3L299.5,528.1M57.4,532.2L84.3,538.6L111.2,538.2L138.1,532.6L165.0,537.5L191.9,536.5L218.8,530.6L245.7,535.1L272.6,525.4L299.5,531.6M57.4,523.0L84.3,523.0L111.2,523.8L138.1,521.5L165.0,521.6L191.9,519.7L218.8,516.4L245.7,521.1L272.6,519.2L299.5,521.8M57.4,527.2L84.3,526.9L111.2,526.1L138.1,522.4L165.0,523.4L191.9,521.5L218.8,522.9L245.7,522.2L272.6,521.2L299.5,525.6M57.4,531.9L84.3,530.5L111.2,525.7L138.1,526.1L165.0,523.6L191.9,520.7L218.8,519.1L245.7,519.7L272.6,523.1L299.5,516.2M57.4,534.5L84.3,532.0L111.2,534.2L138.1,533.0L165.0,533.1L191.9,528.3L218.8,537.3L245.7,527.0L272.6,526.8L299.5,529.4M57.4,532.1L84.3,527.2L111.2,521.6L138.1,530.2L165.0,523.9L191.9,527.0L218.8,526.7L245.7,526.6L272.6,525.0L299.5,527.4M57.4,532.0L84.3,535.9L111.2,533.9L138.1,533.5L165.0,532.7L191.9,537.4L218.8,535.0L245.7,530.4L272.6,528.7L299.5,534.2M57.4,535.9L84.3,531.9L111.2,531.9L138.1,531.6L165.0,532.9L191.9,529.9L218.8,529.7L245.7,531.3L272.6,527.7L299.5,529.9M57.4,527.2L84.3,530.2L111.2,526.4L138.1,526.5L165.0,527.9L191.9,527.9L218.8,528.8L245.7,526.9L272.6,522.1L299.5,519.1M57.4,533.2L84.3,532.8L111.2,531.0L138.1,530.8L165.0,528.3L191.9,529.0L218.8,532.0L245.7,528.4L272.6,535.1L299.5,528.8M57.4,530.2L84.3,532.3L111.2,528.8L138.1,526.5L165.0,531.4L191.9,530.1L218.8,527.0L245.7,525.9L272.6,526.0L299.5,523.6M57.4,533.5L84.3,532.6L111.2,532.0L138.1,532.7L165.0,533.9L191.9,531.8L218.8,532.1L245.7,535.7L272.6,532.4L299.5,530.5M57.4,535.4L84.3,533.8L111.2,533.4L138.1,531.3L165.0,531.2L191.9,530.1L218.8,527.0L245.7,528.7L272.6,527.2L299.5,531.3M57.4,541.6L84.3,539.3L111.2,541.2L138.1,541.1L165.0,542.3L191.9,536.6L218.8,539.5L245.7,537.1L272.6,534.1L299.5,535.4M57.4,525.0L84.3,522.3L111.2,521.9L138.1,524.1L165.0,521.7L191.9,522.6L218.8,522.6L245.7,518.5L272.6,520.4L299.5,513.0M57.4,535.2L84.3,533.7L111.2,534.5L138.1,532.1L165.0,533.3L191.9,535.0L218.8,536.7L245.7,533.3L272.6,525.0L299.5,527.5M57.4,532.2L84.3,531.5L111.2,529.6L138.1,532.7L165.0,530.8L191.9,530.6L218.8,523.9L245.7,529.5L272.6,522.7L299.5,526.7M57.4,523.4L84.3,522.9L111.2,518.8L138.1,518.7L165.0,517.8L191.9,522.2L218.8,515.3L245.7,513.0L272.6,516.9L299.5,517.2M57.4,532.6L84.3,534.4L111.2,534.3L138.1,536.5L165.0,528.9L191.9,530.3L218.8,531.6L245.7,527.2L272.6,533.0L299.5,527.6M57.4,531.4L84.3,535.4L111.2,531.1L138.1,534.1L165.0,531.7L191.9,529.3L218.8,533.6L245.7,530.5L272.6,532.4L299.5,527.3M57.4,534.3L84.3,534.0L111.2,530.0L138.1,534.4L165.0,531.4L191.9,531.7L218.8,531.3L245.7,531.5L272.6,529.1L299.5,527.7M57.4,535.9L84.3,539.3L111.2,535.8L138.1,529.3L165.0,536.9L191.9,534.3L218.8,533.8L245.7,530.1L272.6,533.4L299.5,536.6M57.4,536.2L84.3,536.1L111.2,533.5L138.1,536.4L165.0,533.0L191.9,537.0L218.8,530.0L245.7,533.2L272.6,534.2L299.5,531.4M57.4,528.2L84.3,529.1L111.2,527.7L138.1,526.9L165.0,523.6L191.9,521.9L218.8,522.1L245.7,520.5L272.6,516.9L299.5,520.3M57.4,540.8L84.3,535.0L111.2,536.5L138.1,534.6L165.0,532.5L191.9,531.9L218.8,536.3L245.7,534.3L272.6,530.8L299.5,531.0M57.4,529.2L84.3,532.9L111.2,524.3L138.1,530.1L165.0,527.9L191.9,523.9L218.8,526.5L245.7,516.5L272.6,521.7L299.5,520.2M57.4,527.8L84.3,531.7L111.2,534.0L138.1,528.2L165.0,535.0L191.9,531.8L218.8,528.5L245.7,528.4L272.6,530.7L299.5,523.2M57.4,529.2L84.3,526.1L111.2,527.6L138.1,526.0L165.0,521.9L191.9,523.4L218.8,522.9L245.7,521.7L272.6,524.3L299.5,517.1M57.4,530.9L84.3,535.1L111.2,534.4L138.1,528.6L165.0,531.3L191.9,533.0L218.8,531.8L245.7,528.3L272.6,524.1L299.5,527.0M57.4,535.4L84.3,534.4L111.2,532.4L138.1,530.5L165.0,532.3L191.9,526.9L218.8,531.6L245.7,530.6L272.6,526.6L299.5,526.1M57.4,530.6L84.3,536.2L111.2,528.2L138.1,525.7L165.0,525.7L191.9,529.8L218.8,524.0L245.7,528.5L272.6,524.3L299.5,528.0M57.4,529.8L84.3,535.1L111.2,530.7L138.1,524.9L165.0,536.0L191.9,527.1L218.8,524.7L245.7,525.7L272.6,525.2L299.5,521.4M57.4,535.0L84.3,532.8L111.2,530.5L138.1,528.4L165.0,529.3L191.9,527.9L218.8,522.2L245.7,533.9L272.6,522.1L299.5,522.1M57.4,529.7L84.3,529.6L111.2,528.0L138.1,527.2L165.0,529.1L191.9,524.7L218.8,527.8L245.7,525.2L272.6,525.3L299.5,526.9M57.4,529.9L84.3,532.5L111.2,529.1L138.1,531.2L165.0,523.7L191.9,525.4L218.8,520.4L245.7,526.6L272.6,522.4L299.5,526.4M57.4,534.4L84.3,533.3L111.2,531.4L138.1,533.3L165.0,529.4L191.9,529.2L218.8,533.0L245.7,530.8L272.6,532.1L299.5,524.4M57.4,531.3L84.3,531.2L111.2,533.2L138.1,532.8L165.0,530.3L191.9,532.7L218.8,533.0L245.7,531.8L272.6,527.6L299.5,527.5M57.4,530.4L84.3,524.9L111.2,528.0L138.1,521.2L165.0,521.7L191.9,522.4L218.8,517.8L245.7,522.0L272.6,521.5L299.5,522.4M57.4,533.4L84.3,532.1L111.2,529.9L138.1,532.6L165.0,533.3L191.9,531.9L218.8,531.2L245.7,530.8L272.6,529.9L299.5,530.8M57.4,533.0L84.3,532.2L111.2,534.3L138.1,529.6L165.0,528.0L191.9,527.3L218.8,529.4L245.7,530.5L272.6,530.2L299.5,529.4M57.4,534.3L84.3,537.8L111.2,531.3L138.1,535.7L165.0,533.2L191.9,532.8L218.8,527.8L245.7,524.6L272.6,529.8L299.5,529.1M57.4,533.3L84.3,533.2L111.2,526.2L138.1,533.8L165.0,530.9L191.9,532.1L218.8,528.2L245.7,530.0L272.6,526.3L299.5,530.4M57.4,524.7L84.3,529.2L111.2,522.4L138.1,524.1L165.0,525.2L191.9,520.5L218.8,521.8L245.7,517.8L272.6,520.4L299.5,515.7M57.4,530.3L84.3,530.8L111.2,531.2L138.1,530.2L165.0,527.7L191.9,526.5L218.8,528.3L245.7,520.8L272.6,521.4L299.5,528.6M57.4,528.5L84.3,527.7L111.2,529.3L138.1,522.3L165.0,527.7L191.9,525.3L218.8,525.9L245.7,518.3L272.6,519.2L299.5,525.6M57.4,532.2L84.3,534.0L111.2,533.1L138.1,533.9L165.0,530.2L191.9,533.1L218.8,527.2L245.7,522.5L272.6,529.0L299.5,523.1M57.4,532.0L84.3,531.3L111.2,531.9L138.1,528.3L165.0,526.3L191.9,525.2L218.8,527.2L245.7,529.1L272.6,525.3L299.5,520.0M57.4,530.9L84.3,535.6L111.2,531.0L138.1,527.6L165.0,530.7L191.9,524.4L218.8,528.3L245.7,528.5L272.6,527.0L299.5,525.2M57.4,529.9L84.3,532.7L111.2,527.9L138.1,525.3L165.0,522.2L191.9,528.3L218.8,520.5L245.7,522.0L272.6,521.7L299.5,524.4M57.4,536.5L84.3,532.2L111.2,533.1L138.1,530.1L165.0,527.7L191.9,531.7L218.8,530.9L245.7,525.3L272.6,533.1L299.5,530.4M57.4,533.6L84.3,532.4L111.2,534.0L138.1,528.2L165.0,533.9L191.9,532.1L218.8,533.4L245.7,532.2L272.6,526.2L299.5,525.6M57.4,530.3L84.3,530.8L111.2,532.8L138.1,530.5L165.0,529.0L191.9,524.4L218.8,529.6L245.7,526.9L272.6,525.7L299.5,523.3M57.4,527.9L84.3,532.8L111.2,530.1L138.1,533.1L165.0,528.0L191.9,521.5L218.8,525.7L245.7,525.5L272.6,524.2L299.5,524.0M57.4,537.2L84.3,536.1L111.2,534.6L138.1,536.1L165.0,533.9L191.9,535.0L218.8,535.7L245.7,533.6L272.6,533.3L299.5,528.5M57.4,526.2L84.3,528.0L111.2,527.9L138.1,529.3L165.0,526.2L191.9,520.3L218.8,520.2L245.7,522.0L272.6,522.3L299.5,521.1M57.4,530.3L84.3,529.3L111.2,531.3L138.1,528.3L165.0,528.8L191.9,524.6L218.8,529.5L245.7,522.4L272.6,525.2L299.5,525.8M57.4,531.3L84.3,532.1L111.2,529.8L138.1,531.1L165.0,533.4L191.9,527.0L218.8,527.7L245.7,522.8L272.6,525.4L299.5,531.3M57.4,529.4L84.3,526.5L111.2,521.7L138.1,523.2L165.0,527.9L191.9,524.8L218.8,527.6L245.7,521.1L272.6,520.5L299.5,524.2M57.4,528.1L84.3,528.3L111.2,531.0L138.1,530.0L165.0,530.5L191.9,530.5L218.8,525.4L245.7,525.6L272.6,521.4L299.5,523.6M57.4,535.8L84.3,529.0L111.2,531.4L138.1,530.9L165.0,532.8L191.9,532.4L218.8,527.2L245.7,530.9L272.6,526.0L299.5,525.4M57.4,536.4L84.3,531.8L111.2,528.7L138.1,533.1L165.0,533.6L191.9,527.3L218.8,528.7L245.7,530.2L272.6,524.6L299.5,528.1M57.4,531.2L84.3,531.9L111.2,528.9L138.1,530.4L165.0,532.2L191.9,528.6L218.8,523.0L245.7,522.8L272.6,519.0L299.5,521.6M57.4,526.1L84.3,527.6L111.2,524.6L138.1,526.9L165.0,522.2L191.9,524.5L218.8,521.5L245.7,523.8L272.6,521.1L299.5,517.4M57.4,533.8L84.3,531.6L111.2,529.4L138.1,530.9L165.0,532.9L191.9,533.3L218.8,531.9L245.7,525.2L272.6,527.4L299.5,525.4M57.4,527.7L84.3,527.2L111.2,528.6L138.1,530.3L165.0,524.2L191.9,525.4L218.8,522.6L245.7,526.3L272.6,523.0L299.5,516.6M57.4,533.9L84.3,531.1L111.2,534.0L138.1,532.1L165.0,537.3L191.9,529.6L218.8,531.7L245.7,526.8L272.6,529.6L299.5,529.9M57.4,530.8L84.3,531.5L111.2,525.8L138.1,526.0L165.0,527.6L191.9,525.3L218.8,524.1L245.7,524.2L272.6,524.8L299.5,524.2M57.4,529.1L84.3,529.5L111.2,530.8L138.1,528.6L165.0,526.8L191.9,529.8L218.8,526.4L245.7,523.8L272.6,524.6L299.5,525.2M57.4,532.7L84.3,529.4L111.2,531.8L138.1,533.9L165.0,532.3L191.9,528.1L218.8,527.3L245.7,528.6L272.6,530.0L299.5,526.5M57.4,535.6L84.3,534.1L111.2,535.2L138.1,531.7L165.0,533.8L191.9,532.6L218.8,531.1L245.7,526.3L272.6,525.2L299.5,526.3M57.4,533.8L84.3,531.8L111.2,531.3L138.1,536.1L165.0,531.8L191.9,533.1L218.8,528.4L245.7,528.1L272.6,530.5L299.5,522.8M57.4,526.9L84.3,532.8L111.2,531.9L138.1,526.1L165.0,531.4L191.9,530.8L218.8,524.9L245.7,528.2L272.6,526.1L299.5,530.2M57.4,524.0L84.3,525.3L111.2,523.5L138.1,525.3L165.0,524.5L191.9,526.7L218.8,520.7L245.7,517.8L272.6,517.8L299.5,517.0M57.4,531.6L84.3,532.3L111.2,527.1L138.1,527.1L165.0,524.5L191.9,527.0L218.8,527.6L245.7,523.6L272.6,525.4L299.5,527.7M57.4,535.4L84.3,536.1L111.2,534.0L138.1,529.5L165.0,525.6L191.9,526.5L218.8,530.8L245.7,526.4L272.6,528.8L299.5,527.1M57.4,533.7L84.3,537.3L111.2,528.6L138.1,533.6L165.0,530.0L191.9,532.3L218.8,529.3L245.7,532.4L272.6,529.8L299.5,525.8M57.4,534.1L84.3,527.8L111.2,532.0L138.1,527.2L165.0,526.1L191.9,528.4L218.8,526.5L245.7,525.8L272.6,523.3L299.5,521.3M57.4,526.8L84.3,523.0L111.2,528.9L138.1,521.3L165.0,525.5L191.9,522.4L218.8,523.5L245.7,522.3L272.6,524.2L299.5,520.0M57.4,525.1L84.3,525.4L111.2,524.4L138.1,521.6L165.0,523.1L191.9,522.0L218.8,520.3L245.7,516.8L272.6,516.8L299.5,521.5M57.4,533.4L84.3,531.5L111.2,530.4L138.1,532.2L165.0,526.0L191.9,531.1L218.8,526.2L245.7,525.7L272.6,524.3L299.5,527.5M57.4,533.2L84.3,534.0L111.2,530.4L138.1,526.2L165.0,524.8L191.9,527.1L218.8,523.2L245.7,523.7L272.6,520.4L299.5,528.2M57.4,536.2L84.3,536.4L111.2,529.4L138.1,534.5L165.0,533.9L191.9,532.4L218.8,528.2L245.7,531.1L272.6,527.3L299.5,527.3M57.4,538.7L84.3,535.7L111.2,535.7L138.1,527.9L165.0,533.1L191.9,533.6L218.8,529.0L245.7,529.3L272.6,531.1L299.5,525.3M57.4,528.3L84.3,530.5L111.2,530.1L138.1,531.7L165.0,525.4L191.9,524.8L218.8,527.0L245.7,524.0L272.6,514.5L299.5,525.6M57.4,535.4L84.3,537.9L111.2,537.3L138.1,533.8L165.0,535.2L191.9,532.0L218.8,532.3L245.7,530.2L272.6,532.2L299.5,538.0M57.4,531.5L84.3,525.1L111.2,526.1L138.1,528.8L165.0,524.8L191.9,522.1L218.8,525.8L245.7,522.5L272.6,523.7L299.5,523.7M57.4,530.7L84.3,531.9L111.2,532.8L138.1,532.0L165.0,531.0L191.9,530.1L218.8,529.4L245.7,533.9L272.6,526.3L299.5,530.5M57.4,537.6L84.3,542.1L111.2,539.1L138.1,538.1L165.0,539.0L191.9,535.9L218.8,537.1L245.7,536.7L272.6,538.0L299.5,535.8M57.4,534.6L84.3,531.8L111.2,531.8L138.1,532.1L165.0,536.0L191.9,529.7L218.8,529.0L245.7,525.5L272.6,536.0L299.5,529.7M57.4,530.1L84.3,535.0L111.2,532.7L138.1,525.4L165.0,527.9L191.9,534.7L218.8,528.8L245.7,524.8L272.6,529.2L299.5,525.5M57.4,534.5L84.3,532.8L111.2,527.9L138.1,526.6L165.0,530.4L191.9,525.6L218.8,529.2L245.7,526.3L272.6,526.2L299.5,529.0M57.4,531.5L84.3,536.8L111.2,531.8L138.1,530.8L165.0,530.3L191.9,530.1L218.8,528.4L245.7,532.3L272.6,522.9L299.5,524.6M57.4,531.4L84.3,530.7L111.2,530.6L138.1,531.6L165.0,532.1L191.9,527.7L218.8,524.3L245.7,525.7L272.6,521.4L299.5,528.8M57.4,533.8L84.3,529.6L111.2,527.6L138.1,531.8L165.0,528.3L191.9,530.2L218.8,531.2L245.7,528.4L272.6,530.2L299.5,522.8M57.4,527.2L84.3,529.0L111.2,534.6L138.1,526.0L165.0,527.1L191.9,532.8L218.8,525.5L245.7,522.5L272.6,519.9L299.5,526.6M57.4,528.5L84.3,529.6L111.2,529.1L138.1,526.1L165.0,525.3L191.9,524.6L218.8,526.2L245.7,527.9L272.6,520.2L299.5,519.7M57.4,533.4L84.3,531.5L111.2,536.7L138.1,530.4L165.0,525.3L191.9,530.0L218.8,531.5L245.7,523.9L272.6,528.5L299.5,527.4M57.4,532.4L84.3,536.9L111.2,535.2L138.1,534.6L165.0,528.4L191.9,530.4L218.8,526.2L245.7,533.9L272.6,529.5L299.5,523.6M57.4,538.1L84.3,535.8L111.2,534.1L138.1,532.4L165.0,528.8L191.9,528.1L218.8,526.6L245.7,528.5L272.6,530.6L299.5,530.2M57.4,533.1L84.3,533.2L111.2,535.2L138.1,536.6L165.0,532.4L191.9,532.4L218.8,532.3L245.7,535.3L272.6,531.0L299.5,532.7M57.4,528.0L84.3,528.3L111.2,529.5L138.1,523.7L165.0,525.0L191.9,523.1L218.8,523.1L245.7,522.9L272.6,522.8L299.5,526.2M57.4,539.1L84.3,535.7L111.2,534.3L138.1,535.1L165.0,534.9L191.9,530.2L218.8,534.9L245.7,538.0L272.6,536.9L299.5,533.3M57.4,527.9L84.3,530.0L111.2,526.7L138.1,527.7L165.0,528.7L191.9,527.4L218.8,523.5L245.7,522.3L272.6,526.9L299.5,526.1M57.4,526.4L84.3,533.9L111.2,533.4L138.1,528.4L165.0,527.6L191.9,529.9L218.8,527.4L245.7,525.6L272.6,530.7L299.5,525.6" fill="none" stroke="#9fc6fa" stroke-width="0.5" stroke-opacity="0.11"/>
<path d="M57.4,525.7L84.3,520.3L111.2,527.3L138.1,527.9L165.0,511.0L191.9,516.8L218.8,514.7L245.7,495.4L272.6,480.8L299.5,481.2M57.4,538.9L84.3,537.6L111.2,541.7L138.1,535.5L165.0,538.8L191.9,538.3L218.8,520.7L245.7,529.9L272.6,508.5L299.5,505.0M57.4,529.0L84.3,520.1L111.2,530.7L138.1,517.5L165.0,525.3L191.9,521.5L218.8,510.1L245.7,495.6L272.6,503.2L299.5,491.5M57.4,524.2L84.3,514.3L111.2,527.0L138.1,514.2L165.0,508.9L191.9,501.7L218.8,501.1L245.7,499.8L272.6,473.4L299.5,469.2M57.4,531.4L84.3,535.3L111.2,536.4L138.1,523.9L165.0,530.1L191.9,533.4L218.8,518.6L245.7,511.7L272.6,501.8L299.5,497.6M57.4,529.9L84.3,530.2L111.2,534.6L138.1,525.3L165.0,522.5L191.9,518.2L218.8,523.1L245.7,518.6L272.6,505.9L299.5,490.5M57.4,529.5L84.3,536.4L111.2,529.4L138.1,529.8L165.0,528.1L191.9,529.0L218.8,517.8L245.7,519.5L272.6,491.1L299.5,489.0M57.4,531.8L84.3,532.4L111.2,536.0L138.1,528.8L165.0,526.1L191.9,530.7L218.8,521.5L245.7,520.9L272.6,509.7L299.5,478.3M57.4,531.5L84.3,521.4L111.2,525.9L138.1,525.5L165.0,525.6L191.9,516.4L218.8,509.2L245.7,492.7L272.6,490.9L299.5,489.1M57.4,534.2L84.3,529.4L111.2,532.3L138.1,526.5L165.0,526.3L191.9,535.2L218.8,519.9L245.7,519.7L272.6,501.0L299.5,498.1M57.4,534.5L84.3,531.5L111.2,533.7L138.1,521.7L165.0,528.5L191.9,536.5L218.8,520.2L245.7,513.0L272.6,500.7L299.5,491.1M57.4,519.7L84.3,517.4L111.2,512.3L138.1,518.5L165.0,508.9L191.9,515.4L218.8,492.4L245.7,473.2L272.6,477.8L299.5,441.6M57.4,530.7L84.3,535.7L111.2,536.9L138.1,527.1L165.0,529.9L191.9,533.1L218.8,521.4L245.7,517.6L272.6,506.3L299.5,499.2M57.4,531.5L84.3,531.2L111.2,530.4L138.1,518.2L165.0,531.8L191.9,532.0L218.8,518.7L245.7,514.3L272.6,501.0L299.5,493.6M57.4,530.9L84.3,528.3L111.2,523.7L138.1,525.5L165.0,530.1L191.9,534.4L218.8,511.6L245.7,514.4L272.6,502.5L299.5,495.0M57.4,532.0L84.3,530.7L111.2,532.9L138.1,523.3L165.0,522.7L191.9,527.8L218.8,518.4L245.7,519.8L272.6,495.9L299.5,476.7M57.4,522.3L84.3,520.3L111.2,520.8L138.1,516.3L165.0,505.6L191.9,517.9L218.8,483.8L245.7,489.6L272.6,485.5L299.5,469.6M57.4,537.2L84.3,534.0L111.2,529.2L138.1,534.7L165.0,529.1L191.9,535.9L218.8,525.2L245.7,518.8L272.6,517.2L299.5,494.0M57.4,522.2L84.3,518.2L111.2,517.6L138.1,507.3L165.0,511.2L191.9,508.3L218.8,490.1L245.7,491.9L272.6,469.2L299.5,456.0M57.4,530.9L84.3,526.4L111.2,528.4L138.1,513.8L165.0,517.3L191.9,531.2L218.8,517.5L245.7,486.0L272.6,486.5L299.5,490.2M57.4,533.3L84.3,527.2L111.2,529.0L138.1,530.7L165.0,530.1L191.9,523.4L218.8,524.4L245.7,509.6L272.6,503.5L299.5,493.7M57.4,524.3L84.3,524.6L111.2,530.0L138.1,516.1L165.0,510.5L191.9,505.7L218.8,519.6L245.7,484.4L272.6,475.9L299.5,452.8M57.4,527.0L84.3,522.2L111.2,523.8L138.1,523.5L165.0,518.9L191.9,519.8L218.8,511.0L245.7,514.5L272.6,501.3L299.5,471.1M57.4,528.5L84.3,529.2L111.2,523.4L138.1,524.2L165.0,529.7L191.9,511.9L218.8,519.2L245.7,485.5L272.6,487.2L299.5,485.9M57.4,539.5L84.3,532.1L111.2,535.8L138.1,534.6L165.0,540.9L191.9,541.1L218.8,529.0L245.7,523.5L272.6,513.6L299.5,501.2M57.4,537.1L84.3,529.8L111.2,540.7L138.1,529.7L165.0,524.2L191.9,534.1L218.8,529.5L245.7,516.5L272.6,516.7L299.5,496.9M57.4,528.8L84.3,525.5L111.2,531.8L138.1,518.8L165.0,522.3L191.9,532.4L218.8,521.9L245.7,494.8L272.6,503.8L299.5,489.3M57.4,532.3L84.3,532.4L111.2,531.7L138.1,526.8L165.0,519.7L191.9,531.1L218.8,522.6L245.7,517.7L272.6,500.6L299.5,487.6M57.4,529.1L84.3,522.1L111.2,525.5L138.1,510.7L165.0,519.1L191.9,520.4L218.8,503.2L245.7,492.3L272.6,499.2L299.5,483.2M57.4,536.5L84.3,524.4L111.2,527.4L138.1,527.0L165.0,505.2L191.9,522.0L218.8,502.1L245.7,501.6L272.6,494.2L299.5,496.6M57.4,523.5L84.3,524.7L111.2,520.7L138.1,509.9L165.0,505.1L191.9,512.0L218.8,503.3L245.7,486.5L272.6,486.5L299.5,466.6M57.4,531.8L84.3,522.6L111.2,533.5L138.1,525.4L165.0,525.9L191.9,521.8L218.8,501.6L245.7,503.8L272.6,479.9L299.5,476.3M57.4,530.2L84.3,529.3L111.2,531.2L138.1,521.6L165.0,527.9L191.9,522.1L218.8,521.3L245.7,514.8L272.6,508.2L299.5,492.3M57.4,523.5L84.3,514.9L111.2,527.8L138.1,519.7L165.0,508.1L191.9,506.6L218.8,491.2L245.7,508.7L272.6,472.8L299.5,465.9M57.4,528.9L84.3,528.3L111.2,535.0L138.1,528.7L165.0,529.3L191.9,532.8L218.8,516.0L245.7,499.0L272.6,502.1L299.5,491.4M57.4,538.1L84.3,531.6L111.2,536.4L138.1,531.2L165.0,533.2L191.9,532.4L218.8,526.4L245.7,516.8L272.6,509.0L299.5,492.0M57.4,532.5L84.3,529.9L111.2,534.3L138.1,523.4L165.0,528.5L191.9,536.0L218.8,518.1L245.7,520.9L272.6,507.1L299.5,494.0M57.4,525.0L84.3,531.7L111.2,530.9L138.1,518.1L165.0,524.7L191.9,524.6L218.8,501.2L245.7,516.8L272.6,496.8L299.5,477.1M57.4,536.5L84.3,532.5L111.2,532.5L138.1,527.7L165.0,518.2L191.9,524.6L218.8,524.9L245.7,510.4L272.6,498.5L299.5,479.3M57.4,532.6L84.3,528.2L111.2,524.3L138.1,523.6L165.0,515.2L191.9,524.4L218.8,519.2L245.7,517.7L272.6,482.7L299.5,496.4M57.4,532.6L84.3,531.5L111.2,533.7L138.1,527.3L165.0,512.6L191.9,530.7L218.8,519.9L245.7,514.2L272.6,494.9L299.5,494.5M57.4,536.0L84.3,527.4L111.2,530.1L138.1,520.5L165.0,530.8L191.9,516.5L218.8,513.3L245.7,516.1L272.6,503.7L299.5,492.5M57.4,532.8L84.3,533.6L111.2,537.3L138.1,529.3L165.0,530.1L191.9,536.5L218.8,523.1L245.7,521.3L272.6,500.9L299.5,491.5M57.4,533.1L84.3,526.5L111.2,534.3L138.1,521.3L165.0,526.9L191.9,529.8L218.8,527.6L245.7,513.3L272.6,502.4L299.5,490.4M57.4,527.3L84.3,527.5L111.2,523.4L138.1,521.9L165.0,526.5L191.9,530.1L218.8,509.4L245.7,503.6L272.6,506.3L299.5,495.1M57.4,526.7L84.3,511.4L111.2,531.2L138.1,519.4L165.0,519.9L191.9,514.0L218.8,492.3L245.7,484.6L272.6,495.8L299.5,459.2M57.4,533.8L84.3,531.7L111.2,533.6L138.1,533.2L165.0,526.1L191.9,534.7L218.8,522.4L245.7,520.4L272.6,511.2L299.5,492.8M57.4,528.1L84.3,519.0L111.2,532.0L138.1,525.0L165.0,522.2L191.9,518.9L218.8,513.9L245.7,499.9L272.6,490.4L299.5,494.6M57.4,537.5L84.3,531.0L111.2,534.5L138.1,526.9L165.0,527.6L191.9,532.2L218.8,513.3L245.7,514.1L272.6,508.8L299.5,495.9M57.4,524.4L84.3,527.1L111.2,529.6L138.1,521.9L165.0,517.0L191.9,526.2L218.8,510.0L245.7,512.7L272.6,500.2L299.5,490.3M57.4,529.9L84.3,522.4L111.2,524.6L138.1,515.3L165.0,531.0L191.9,529.1L218.8,517.5L245.7,506.1L272.6,482.3L299.5,450.2M57.4,520.6L84.3,518.5L111.2,522.8L138.1,511.1L165.0,525.6L191.9,506.2L218.8,498.6L245.7,487.7L272.6,489.2L299.5,477.9M57.4,532.9L84.3,529.3L111.2,534.2L138.1,527.5L165.0,525.8L191.9,535.9L218.8,519.8L245.7,522.6L272.6,505.7L299.5,488.2M57.4,528.1L84.3,529.1L111.2,531.0L138.1,528.5L165.0,525.5L191.9,527.7L218.8,519.4L245.7,518.8L272.6,506.1L299.5,477.7M57.4,532.4L84.3,530.4L111.2,536.2L138.1,528.2L165.0,524.7L191.9,531.4L218.8,520.0L245.7,511.3L272.6,497.5L299.5,491.8M57.4,532.1L84.3,523.0L111.2,532.4L138.1,525.5L165.0,521.5L191.9,528.8L218.8,519.0L245.7,489.2L272.6,479.8L299.5,494.7M57.4,533.3L84.3,526.2L111.2,534.0L138.1,521.7L165.0,520.6L191.9,514.5L218.8,504.6L245.7,514.0L272.6,488.3L299.5,490.0M57.4,532.3L84.3,532.8L111.2,528.6L138.1,532.5L165.0,526.5L191.9,525.9L218.8,516.3L245.7,519.8L272.6,503.2L299.5,482.7M57.4,521.6L84.3,528.9L111.2,521.5L138.1,520.3L165.0,510.3L191.9,529.6L218.8,504.9L245.7,492.3L272.6,491.2L299.5,476.2M57.4,531.3L84.3,534.6L111.2,537.0L138.1,530.9L165.0,530.5L191.9,522.7L218.8,520.1L245.7,521.4L272.6,502.8L299.5,493.0M57.4,529.9L84.3,524.7L111.2,533.0L138.1,528.5L165.0,525.4L191.9,531.4L218.8,507.0L245.7,490.9L272.6,483.1L299.5,479.4M57.4,531.4L84.3,530.1L111.2,526.0L138.1,529.1L165.0,520.2L191.9,526.4L218.8,506.0L245.7,508.1L272.6,494.0L299.5,489.3M57.4,536.8L84.3,532.0L111.2,534.3L138.1,528.7L165.0,535.9L191.9,540.2L218.8,522.2L245.7,523.9L272.6,497.0L299.5,497.7M57.4,536.7L84.3,529.2L111.2,541.5L138.1,531.6L165.0,536.3L191.9,530.3L218.8,525.5L245.7,525.1L272.6,515.7L299.5,501.0M57.4,539.6L84.3,531.1L111.2,540.0L138.1,537.0L165.0,540.1L191.9,539.6L218.8,530.8L245.7,530.0L272.6,508.4L299.5,502.1M57.4,529.9L84.3,531.1L111.2,532.7L138.1,529.1L165.0,525.2L191.9,530.8L218.8,522.0L245.7,514.7L272.6,506.5L299.5,493.4M57.4,527.4L84.3,523.5L111.2,522.2L138.1,516.2L165.0,501.8L191.9,524.2L218.8,478.0L245.7,477.1L272.6,481.7L299.5,461.9M57.4,530.3L84.3,527.3L111.2,529.5L138.1,524.3L165.0,515.5L191.9,531.1L218.8,514.3L245.7,515.5L272.6,501.6L299.5,489.9M57.4,530.0L84.3,530.3L111.2,531.5L138.1,528.0L165.0,529.2L191.9,531.5L218.8,518.3L245.7,513.7L272.6,506.7L299.5,490.2M57.4,536.1L84.3,531.3L111.2,531.9L138.1,529.6L165.0,531.7L191.9,535.6L218.8,516.8L245.7,525.4L272.6,501.3L299.5,502.3M57.4,532.7L84.3,530.7L111.2,526.9L138.1,527.0L165.0,528.1L191.9,528.0L218.8,519.2L245.7,519.5L272.6,496.9L299.5,481.3M57.4,529.3L84.3,513.8L111.2,524.6L138.1,511.7L165.0,505.8L191.9,497.7L218.8,515.5L245.7,506.4L272.6,469.8L299.5,463.8M57.4,538.4L84.3,527.9L111.2,532.5L138.1,535.1L165.0,510.1L191.9,539.1L218.8,519.9L245.7,514.6L272.6,500.5L299.5,484.9M57.4,533.7L84.3,529.8L111.2,537.6L138.1,530.4L165.0,514.3L191.9,532.5L218.8,517.8L245.7,498.3L272.6,492.5L299.5,489.7M57.4,528.7L84.3,527.7L111.2,521.2L138.1,519.5L165.0,507.9L191.9,523.3L218.8,511.0L245.7,500.3L272.6,491.5L299.5,481.1M57.4,533.0L84.3,530.2L111.2,527.7L138.1,529.6L165.0,534.8L191.9,531.3L218.8,506.8L245.7,519.4L272.6,508.3L299.5,494.8M57.4,540.3L84.3,538.1L111.2,545.6L138.1,535.7L165.0,540.5L191.9,548.8L218.8,533.3L245.7,525.7L272.6,507.9L299.5,500.3M57.4,531.4L84.3,528.0L111.2,524.9L138.1,526.7L165.0,520.6L191.9,519.4L218.8,518.6L245.7,514.2L272.6,492.4L299.5,485.7M57.4,532.4L84.3,528.6L111.2,522.6L138.1,519.0L165.0,531.0L191.9,529.2L218.8,516.5L245.7,513.4L272.6,506.4L299.5,490.0M57.4,531.9L84.3,526.0L111.2,537.1L138.1,529.9L165.0,523.2L191.9,524.3L218.8,515.9L245.7,513.9L272.6,495.8L299.5,474.2M57.4,527.5L84.3,525.1L111.2,519.8L138.1,515.9L165.0,511.2L191.9,521.7L218.8,513.3L245.7,499.7L272.6,493.8L299.5,462.0M57.4,533.2L84.3,520.9L111.2,518.8L138.1,513.4L165.0,520.7L191.9,526.7L218.8,498.1L245.7,492.4L272.6,487.3L299.5,488.8M57.4,534.9L84.3,535.2L111.2,538.4L138.1,530.8L165.0,528.4L191.9,543.3L218.8,526.4L245.7,515.8L272.6,508.7L299.5,499.5M57.4,531.5L84.3,529.0L111.2,526.6L138.1,512.0L165.0,512.7L191.9,522.3L218.8,500.2L245.7,508.7L272.6,501.2L299.5,492.4M57.4,527.0L84.3,525.1L111.2,529.3L138.1,526.1L165.0,515.4L191.9,526.4L218.8,520.3L245.7,496.4L272.6,501.0L299.5,480.1M57.4,527.6L84.3,527.0L111.2,524.8L138.1,524.7L165.0,526.7L191.9,530.6L218.8,510.6L245.7,516.2L272.6,490.0L299.5,489.8M57.4,535.6L84.3,531.5L111.2,528.3L138.1,527.4L165.0,529.2L191.9,536.4L218.8,510.5L245.7,519.0L272.6,505.1L299.5,496.2M57.4,524.9L84.3,522.8L111.2,521.3L138.1,521.4L165.0,520.3L191.9,516.4L218.8,520.4L245.7,484.8L272.6,460.5L299.5,481.1M57.4,534.9L84.3,528.1L111.2,530.7L138.1,522.8L165.0,530.2L191.9,531.6L218.8,519.4L245.7,514.6L272.6,477.9L299.5,490.5M57.4,532.1L84.3,525.1L111.2,518.6L138.1,519.5L165.0,515.2L191.9,532.8L218.8,507.6L245.7,513.0L272.6,487.3L299.5,477.3M57.4,532.7L84.3,524.0L111.2,529.0L138.1,518.3L165.0,519.1L191.9,514.1L218.8,519.0L245.7,511.6L272.6,491.4L299.5,475.1M57.4,532.1L84.3,529.2L111.2,528.4L138.1,527.9L165.0,526.2L191.9,537.1L218.8,528.2L245.7,520.9L272.6,500.5L299.5,501.6M57.4,529.5L84.3,525.8L111.2,531.4L138.1,525.2L165.0,515.9L191.9,521.9L218.8,511.7L245.7,512.3L272.6,491.8L299.5,468.9M57.4,531.7L84.3,531.1L111.2,530.5L138.1,528.8L165.0,530.0L191.9,522.3L218.8,518.7L245.7,521.2L272.6,502.9L299.5,468.1M57.4,534.2L84.3,531.2L111.2,528.0L138.1,524.4L165.0,524.7L191.9,530.0L218.8,513.3L245.7,499.5L272.6,496.1L299.5,490.1M57.4,534.1L84.3,528.8L111.2,534.2L138.1,535.4L165.0,530.7L191.9,530.8L218.8,525.7L245.7,518.4L272.6,502.6L299.5,489.7M57.4,539.6L84.3,532.4L111.2,534.8L138.1,533.5L165.0,532.2L191.9,537.7L218.8,519.7L245.7,530.4L272.6,507.8L299.5,504.2M57.4,536.4L84.3,532.6L111.2,533.4L138.1,528.6L165.0,519.2L191.9,532.8L218.8,518.3L245.7,515.1L272.6,502.5L299.5,482.3M57.4,529.8L84.3,527.7L111.2,529.9L138.1,525.2L165.0,517.2L191.9,527.2L218.8,514.0L245.7,511.5L272.6,489.9L299.5,490.0M57.4,528.8L84.3,520.3L111.2,515.3L138.1,517.3L165.0,517.3L191.9,528.2L218.8,499.1L245.7,500.8L272.6,477.1L299.5,481.9M57.4,523.3L84.3,523.7L111.2,529.0L138.1,527.8L165.0,520.6L191.9,518.4L218.8,505.1L245.7,514.6L272.6,501.2L299.5,490.0M57.4,534.6L84.3,530.8L111.2,528.1L138.1,529.5L165.0,524.6L191.9,539.5L218.8,514.6L245.7,515.1L272.6,503.7L299.5,491.1M57.4,522.5L84.3,521.6L111.2,533.4L138.1,528.8L165.0,508.7L191.9,523.1L218.8,497.7L245.7,508.3L272.6,498.0L299.5,483.2M57.4,529.0L84.3,528.5L111.2,526.2L138.1,519.9L165.0,526.8L191.9,531.3L218.8,522.1L245.7,511.8L272.6,495.2L299.5,490.0M57.4,533.0L84.3,530.0L111.2,531.5L138.1,525.8L165.0,526.4L191.9,526.4L218.8,522.9L245.7,513.7L272.6,501.6L299.5,497.1M57.4,531.9L84.3,530.1L111.2,536.9L138.1,530.4L165.0,521.0L191.9,529.0L218.8,519.3L245.7,508.6L272.6,507.6L299.5,493.6M57.4,528.0L84.3,527.4L111.2,521.7L138.1,509.1L165.0,529.3L191.9,517.8L218.8,516.0L245.7,503.5L272.6,500.3L299.5,444.4M57.4,532.8L84.3,532.1L111.2,536.1L138.1,530.1L165.0,527.5L191.9,522.3L218.8,518.6L245.7,506.6L272.6,508.3L299.5,492.5M57.4,535.8L84.3,515.5L111.2,533.2L138.1,527.0L165.0,529.6L191.9,532.9L218.8,522.4L245.7,508.6L272.6,504.0L299.5,492.0M57.4,533.1L84.3,526.1L111.2,530.5L138.1,522.0L165.0,525.7L191.9,526.6L218.8,509.6L245.7,501.3L272.6,501.7L299.5,474.8M57.4,534.3L84.3,531.0L111.2,534.1L138.1,537.6L165.0,532.8L191.9,534.1L218.8,517.7L245.7,521.1L272.6,497.7L299.5,502.9M57.4,528.9L84.3,527.5L111.2,529.0L138.1,519.9L165.0,527.5L191.9,523.5L218.8,506.1L245.7,513.4L272.6,509.3L299.5,493.7M57.4,535.9L84.3,529.8L111.2,536.3L138.1,518.1L165.0,527.1L191.9,537.5L218.8,521.6L245.7,509.1L272.6,501.7L299.5,498.6M57.4,528.1L84.3,513.7L111.2,526.8L138.1,514.4L165.0,512.0L191.9,521.6L218.8,505.6L245.7,488.6L272.6,480.0L299.5,473.6M57.4,523.7L84.3,522.0L111.2,525.6L138.1,520.6L165.0,528.4L191.9,523.2L218.8,515.3L245.7,500.2L272.6,499.8L299.5,476.8M57.4,532.0L84.3,533.4L111.2,534.8L138.1,528.5L165.0,530.9L191.9,533.8L218.8,517.5L245.7,509.4L272.6,513.6L299.5,499.2M57.4,525.2L84.3,526.3L111.2,526.0L138.1,521.8L165.0,503.7L191.9,523.4L218.8,517.3L245.7,515.5L272.6,501.4L299.5,463.5M57.4,526.5L84.3,527.5L111.2,531.2L138.1,525.2L165.0,523.4L191.9,525.7L218.8,521.9L245.7,517.2L272.6,504.4L299.5,490.6M57.4,534.4L84.3,530.6L111.2,523.7L138.1,515.5L165.0,529.1L191.9,528.4L218.8,517.6L245.7,517.7L272.6,495.8L299.5,490.5M57.4,522.7L84.3,520.4L111.2,532.0L138.1,513.6L165.0,504.4L191.9,517.1L218.8,489.4L245.7,485.0L272.6,494.9L299.5,465.5M57.4,527.2L84.3,525.7L111.2,528.8L138.1,525.5L165.0,524.3L191.9,525.5L218.8,518.6L245.7,502.6L272.6,498.7L299.5,477.8M57.4,531.5L84.3,529.4L111.2,529.8L138.1,526.6L165.0,523.4L191.9,531.8L218.8,519.0L245.7,516.7L272.6,508.1L299.5,492.4M57.4,524.1L84.3,525.6L111.2,522.3L138.1,513.1L165.0,524.6L191.9,514.9L218.8,500.8L245.7,491.8L272.6,481.8L299.5,490.0M57.4,532.4L84.3,535.8L111.2,534.8L138.1,530.3L165.0,533.8L191.9,542.4L218.8,521.2L245.7,523.9L272.6,509.1L299.5,498.8M57.4,523.9L84.3,528.4L111.2,531.2L138.1,517.7L165.0,516.5L191.9,513.0L218.8,506.4L245.7,502.4L272.6,465.2L299.5,458.5M57.4,523.0L84.3,525.0L111.2,523.7L138.1,517.4L165.0,522.2L191.9,523.6L218.8,501.5L245.7,509.7L272.6,477.9L299.5,465.7M57.4,532.3L84.3,526.9L111.2,530.0L138.1,525.7L165.0,530.3L191.9,535.7L218.8,501.3L245.7,516.8L272.6,502.7L299.5,498.5M57.4,534.9L84.3,528.7L111.2,541.2L138.1,533.5L165.0,530.1L191.9,534.3L218.8,523.2L245.7,519.0L272.6,511.1L299.5,492.3M57.4,525.5L84.3,523.8L111.2,516.8L138.1,513.8L165.0,521.3L191.9,520.9L218.8,507.7L245.7,498.1L272.6,470.3L299.5,478.5M57.4,531.0L84.3,531.5L111.2,532.7L138.1,523.5L165.0,518.8L191.9,536.1L218.8,511.8L245.7,514.8L272.6,488.3L299.5,483.9M57.4,521.9L84.3,519.1L111.2,522.0L138.1,519.0L165.0,503.7L191.9,504.6L218.8,486.5L245.7,484.4L272.6,487.8L299.5,463.3M57.4,531.2L84.3,526.3L111.2,525.5L138.1,526.1L165.0,533.1L191.9,533.5L218.8,525.6L245.7,517.3L272.6,506.3L299.5,489.1M57.4,528.4L84.3,524.9L111.2,532.9L138.1,522.2L165.0,526.1L191.9,527.6L218.8,507.2L245.7,518.7L272.6,501.3L299.5,474.5M57.4,532.7L84.3,530.3L111.2,534.8L138.1,533.0L165.0,530.8L191.9,535.9L218.8,515.6L245.7,516.0L272.6,501.1L299.5,498.7M57.4,528.4L84.3,521.2L111.2,531.0L138.1,517.3L165.0,511.4L191.9,509.7L218.8,517.2L245.7,514.7L272.6,503.1L299.5,470.1M57.4,527.4L84.3,528.2L111.2,520.8L138.1,512.1L165.0,520.1L191.9,523.6L218.8,499.1L245.7,500.5L272.6,477.4L299.5,484.3M57.4,530.5L84.3,528.3L111.2,530.1L138.1,525.0L165.0,518.7L191.9,527.6L218.8,511.7L245.7,514.3L272.6,503.0L299.5,467.2M57.4,529.3L84.3,529.0L111.2,540.9L138.1,531.9L165.0,530.9L191.9,533.3L218.8,521.8L245.7,520.6L272.6,500.0L299.5,495.2M57.4,529.0L84.3,525.7L111.2,518.0L138.1,520.1L165.0,523.9L191.9,520.2L218.8,496.1L245.7,502.1L272.6,493.7L299.5,466.7M57.4,527.5L84.3,524.1L111.2,526.3L138.1,502.7L165.0,517.7L191.9,505.5L218.8,506.2L245.7,496.6L272.6,502.9L299.5,471.8M57.4,531.4L84.3,528.9L111.2,534.4L138.1,530.3L165.0,523.6L191.9,530.8L218.8,516.3L245.7,513.3L272.6,501.6L299.5,491.7M57.4,526.7L84.3,520.3L111.2,520.3L138.1,518.3L165.0,515.1L191.9,503.3L218.8,487.0L245.7,488.2L272.6,440.0L299.5,451.3M57.4,528.3L84.3,517.2L111.2,514.6L138.1,518.6L165.0,501.9L191.9,522.3L218.8,511.7L245.7,497.5L272.6,490.8L299.5,462.6M57.4,534.0L84.3,536.6L111.2,535.0L138.1,527.2L165.0,530.9L191.9,532.9L218.8,517.6L245.7,523.2L272.6,511.5L299.5,495.0M57.4,530.5L84.3,529.5L111.2,523.1L138.1,528.4L165.0,524.4L191.9,526.2L218.8,506.8L245.7,513.1L272.6,501.6L299.5,461.4M57.4,531.6L84.3,531.2L111.2,535.3L138.1,529.5L165.0,529.7L191.9,531.7L218.8,530.1L245.7,517.5L272.6,504.2L299.5,498.2M57.4,525.4L84.3,522.7L111.2,530.2L138.1,526.8L165.0,527.9L191.9,522.0L218.8,519.8L245.7,518.3L272.6,497.9L299.5,495.4M57.4,529.6L84.3,534.7L111.2,533.9L138.1,528.8L165.0,527.8L191.9,537.6L218.8,521.0L245.7,518.4L272.6,490.5L299.5,488.9M57.4,531.2L84.3,528.9L111.2,534.0L138.1,529.7L165.0,529.4L191.9,537.8L218.8,522.4L245.7,513.1L272.6,495.3L299.5,478.9M57.4,530.5L84.3,535.3L111.2,533.0L138.1,531.3L165.0,522.9L191.9,536.4L218.8,522.0L245.7,519.3L272.6,500.2L299.5,484.9M57.4,529.1L84.3,530.7L111.2,536.5L138.1,528.6L165.0,529.3L191.9,530.2L218.8,519.5L245.7,503.6L272.6,500.0L299.5,497.2M57.4,525.4L84.3,527.8L111.2,529.4L138.1,524.6L165.0,529.9L191.9,516.0L218.8,509.1L245.7,491.3L272.6,494.7L299.5,476.0M57.4,525.0L84.3,522.9L111.2,531.0L138.1,507.4L165.0,512.8L191.9,510.8L218.8,494.0L245.7,490.1L272.6,485.2L299.5,472.1M57.4,532.4L84.3,521.5L111.2,531.2L138.1,518.7L165.0,525.8L191.9,516.9L218.8,513.2L245.7,481.4L272.6,488.9L299.5,473.4M57.4,534.2L84.3,531.2L111.2,535.0L138.1,530.9L165.0,532.0L191.9,530.3L218.8,522.2L245.7,521.0L272.6,503.4L299.5,497.8M57.4,532.5L84.3,530.9L111.2,532.1L138.1,529.1L165.0,530.1L191.9,527.9L218.8,518.2L245.7,519.6L272.6,502.4L299.5,488.9M57.4,528.0L84.3,524.7L111.2,525.1L138.1,525.4L165.0,525.9L191.9,519.6L218.8,514.7L245.7,507.2L272.6,486.9L299.5,471.3M57.4,528.0L84.3,523.1L111.2,520.2L138.1,524.8L165.0,522.7L191.9,511.8L218.8,507.5L245.7,506.2L272.6,474.4L299.5,464.3M57.4,528.1L84.3,524.2L111.2,526.4L138.1,517.0L165.0,527.7L191.9,524.6L218.8,499.5L245.7,508.4L272.6,487.5L299.5,473.1M57.4,530.2L84.3,529.1L111.2,515.2L138.1,526.0L165.0,509.0L191.9,532.5L218.8,509.3L245.7,508.1L272.6,472.7L299.5,457.9M57.4,529.9L84.3,526.0L111.2,528.1L138.1,521.3L165.0,514.6L191.9,524.7L218.8,507.0L245.7,486.2L272.6,471.1L299.5,491.1M57.4,534.5L84.3,527.9L111.2,535.2L138.1,522.3L165.0,528.1L191.9,527.5L218.8,524.2L245.7,519.2L272.6,500.7L299.5,491.8M57.4,537.1L84.3,533.8L111.2,536.0L138.1,535.4L165.0,527.7L191.9,537.0L218.8,520.2L245.7,521.2L272.6,510.0L299.5,501.4M57.4,532.4L84.3,530.0L111.2,532.5L138.1,531.7L165.0,533.5L191.9,535.5L218.8,523.2L245.7,519.1L272.6,502.1L299.5,499.8M57.4,530.7L84.3,526.9L111.2,523.3L138.1,526.3L165.0,530.0L191.9,534.7L218.8,521.6L245.7,515.1L272.6,501.4L299.5,491.8M57.4,533.1L84.3,530.2L111.2,531.4L138.1,528.2L165.0,530.5L191.9,535.7L218.8,510.3L245.7,516.4L272.6,503.9L299.5,492.5M57.4,527.2L84.3,521.3L111.2,524.6L138.1,513.7L165.0,521.7L191.9,515.5L218.8,494.4L245.7,487.1L272.6,477.5L299.5,468.0M57.4,522.4L84.3,514.4L111.2,526.5L138.1,520.2L165.0,505.8L191.9,514.9L218.8,502.0L245.7,502.1L272.6,462.5L299.5,478.5M57.4,533.6L84.3,528.0L111.2,519.3L138.1,510.9L165.0,526.3L191.9,531.8L218.8,501.0L245.7,515.6L272.6,506.6L299.5,482.8M57.4,537.3L84.3,528.8L111.2,536.8L138.1,533.4L165.0,529.2L191.9,534.4L218.8,517.3L245.7,518.2L272.6,497.8L299.5,490.0M57.4,520.3L84.3,518.2L111.2,516.6L138.1,511.9L165.0,519.4L191.9,519.4L218.8,489.4L245.7,512.4L272.6,483.3L299.5,476.0M57.4,533.3L84.3,527.4L111.2,531.6L138.1,527.6L165.0,528.2L191.9,536.8L218.8,516.1L245.7,518.3L272.6,501.3L299.5,485.4M57.4,524.5L84.3,516.5L111.2,530.8L138.1,513.8L165.0,505.3L191.9,514.8L218.8,513.4L245.7,495.5L272.6,490.3L299.5,479.8M57.4,527.1L84.3,526.8L111.2,527.2L138.1,506.6L165.0,521.3L191.9,513.0L218.8,502.5L245.7,488.6L272.6,487.9L299.5,483.3M57.4,535.0L84.3,521.0L111.2,532.6L138.1,529.4L165.0,522.4L191.9,529.4L218.8,520.0L245.7,513.6L272.6,502.2L299.5,485.2M57.4,525.2L84.3,519.6L111.2,521.1L138.1,506.3L165.0,507.9L191.9,506.2L218.8,489.7L245.7,498.1L272.6,475.6L299.5,448.5M57.4,524.6L84.3,524.1L111.2,526.5L138.1,523.6L165.0,518.6L191.9,519.6L218.8,516.8L245.7,489.8L272.6,494.5L299.5,471.5M57.4,530.1L84.3,530.5L111.2,522.2L138.1,519.0L165.0,521.4L191.9,514.1L218.8,501.6L245.7,513.4L272.6,492.1L299.5,493.0M57.4,527.6L84.3,530.9L111.2,528.5L138.1,531.4L165.0,527.2L191.9,524.0L218.8,504.5L245.7,511.5L272.6,495.3L299.5,472.8M57.4,541.9L84.3,531.4L111.2,532.9L138.1,533.9L165.0,535.4L191.9,539.2L218.8,528.1L245.7,528.2L272.6,513.5L299.5,503.8M57.4,526.1L84.3,520.5L111.2,523.6L138.1,526.1L165.0,509.8L191.9,534.9L218.8,507.4L245.7,500.9L272.6,495.7L299.5,457.1M57.4,536.7L84.3,532.9L111.2,533.6L138.1,527.9L165.0,529.5L191.9,531.5L218.8,524.2L245.7,521.0L272.6,505.3L299.5,501.2M57.4,531.1L84.3,524.2L111.2,532.9L138.1,526.7L165.0,526.1L191.9,529.1L218.8,518.9L245.7,512.6L272.6,504.3L299.5,479.4M57.4,528.2L84.3,525.2L111.2,530.7L138.1,526.1L165.0,520.6L191.9,528.8L218.8,517.2L245.7,502.9L272.6,490.5L299.5,483.1M57.4,533.3L84.3,532.4L111.2,534.9L138.1,528.5L165.0,526.3L191.9,529.8L218.8,522.4L245.7,511.3L272.6,509.1L299.5,494.2M57.4,518.5L84.3,520.7L111.2,524.1L138.1,518.1L165.0,521.6L191.9,516.8L218.8,504.9L245.7,503.6L272.6,469.4L299.5,477.9M57.4,521.5L84.3,516.5L111.2,522.7L138.1,515.7L165.0,523.2L191.9,509.4L218.8,499.1L245.7,487.7L272.6,483.1L299.5,457.5M57.4,540.2L84.3,531.8L111.2,533.3L138.1,541.3L165.0,527.4L191.9,536.9L218.8,524.2L245.7,526.9L272.6,512.3L299.5,494.4M57.4,533.1L84.3,530.8L111.2,525.9L138.1,526.1L165.0,532.5L191.9,533.8L218.8,524.0L245.7,522.1L272.6,506.7L299.5,486.9M57.4,528.6L84.3,528.2L111.2,531.8L138.1,525.1L165.0,525.1L191.9,513.7L218.8,500.3L245.7,508.7L272.6,492.7L299.5,497.3M57.4,524.1L84.3,530.3L111.2,527.6L138.1,519.7L165.0,526.9L191.9,530.0L218.8,518.4L245.7,506.6L272.6,500.3L299.5,473.3M57.4,526.1L84.3,511.7L111.2,524.6L138.1,520.4L165.0,516.2L191.9,523.5L218.8,506.2L245.7,498.7L272.6,474.2L299.5,488.6M57.4,536.7L84.3,533.3L111.2,534.6L138.1,533.8L165.0,526.3L191.9,537.0L218.8,523.9L245.7,519.9L272.6,502.6L299.5,495.6M57.4,531.9L84.3,527.2L111.2,528.7L138.1,526.9L165.0,525.0L191.9,535.1L218.8,518.0L245.7,501.4L272.6,484.7L299.5,488.8M57.4,533.1L84.3,535.5L111.2,531.6L138.1,535.7L165.0,531.2L191.9,540.8L218.8,521.7L245.7,519.6L272.6,516.3L299.5,495.6M57.4,520.1L84.3,517.9L111.2,511.1L138.1,506.4L165.0,509.7L191.9,507.9L218.8,481.7L245.7,491.4L272.6,449.3L299.5,440.9M57.4,527.3L84.3,530.8L111.2,528.6L138.1,530.6L165.0,527.0L191.9,525.6L218.8,519.0L245.7,514.1L272.6,495.3L299.5,474.1M57.4,524.3L84.3,522.2L111.2,529.3L138.1,506.2L165.0,501.2L191.9,530.2L218.8,494.0L245.7,496.9L272.6,474.5L299.5,465.7M57.4,531.4L84.3,528.7L111.2,526.4L138.1,527.4L165.0,527.7L191.9,525.6L218.8,512.8L245.7,511.0L272.6,499.3L299.5,474.9M57.4,525.7L84.3,523.0L111.2,520.5L138.1,527.1L165.0,518.7L191.9,522.9L218.8,502.1L245.7,502.5L272.6,459.1L299.5,463.7" fill="none" stroke="#fdbb63" stroke-width="0.5" stroke-opacity="0.11"/>
<path d="M57.4,517.0L84.3,509.4L111.2,510.9L138.1,488.1L165.0,486.2L191.9,493.7L218.8,478.2L245.7,487.2L272.6,458.6L299.5,453.5M57.4,524.4L84.3,515.7L111.2,513.9L138.1,505.8L165.0,480.3L191.9,498.3L218.8,491.4L245.7,495.7L272.6,463.4L299.5,455.9M57.4,533.6L84.3,512.9L111.2,504.5L138.1,500.0L165.0,495.7L191.9,516.9L218.8,496.1L245.7,489.7L272.6,461.9L299.5,461.2M57.4,533.2L84.3,514.7L111.2,519.1L138.1,501.4L165.0,490.5L191.9,511.3L218.8,492.6L245.7,498.9L272.6,452.4L299.5,447.1M57.4,527.8L84.3,517.3L111.2,514.2L138.1,492.3L165.0,499.4L191.9,514.8L218.8,488.6L245.7,488.8L272.6,462.8L299.5,467.9M57.4,542.8L84.3,516.1L111.2,521.3L138.1,515.5L165.0,503.5L191.9,511.9L218.8,513.5L245.7,501.3L272.6,484.1L299.5,466.9M57.4,525.1L84.3,499.2L111.2,501.4L138.1,484.3L165.0,477.4L191.9,483.1L218.8,463.5L245.7,459.0L272.6,419.3L299.5,411.5M57.4,525.9L84.3,502.3L111.2,505.5L138.1,496.1L165.0,470.2L191.9,491.2L218.8,480.4L245.7,493.0L272.6,443.9L299.5,425.5M57.4,532.2L84.3,505.9L111.2,514.6L138.1,503.1L165.0,498.6L191.9,508.9L218.8,487.3L245.7,485.9L272.6,459.9L299.5,456.5M57.4,523.4L84.3,514.6L111.2,510.2L138.1,508.9L165.0,496.7L191.9,503.1L218.8,485.7L245.7,489.0L272.6,454.7L299.5,452.2M57.4,514.0L84.3,503.7L111.2,508.7L138.1,486.4L165.0,486.7L191.9,488.6L218.8,474.0L245.7,472.9L272.6,447.0L299.5,431.8M57.4,534.1L84.3,521.8L111.2,517.3L138.1,507.4L165.0,506.0L191.9,521.4L218.8,503.9L245.7,503.3L272.6,469.3L299.5,459.0M57.4,529.7L84.3,500.6L111.2,496.1L138.1,483.8L165.0,484.8L191.9,496.2L218.8,466.3L245.7,479.3L272.6,459.6L299.5,436.1M57.4,531.6L84.3,515.4L111.2,497.9L138.1,497.0L165.0,487.8L191.9,507.5L218.8,501.0L245.7,487.1L272.6,438.7L299.5,454.4M57.4,537.8L84.3,521.9L111.2,521.8L138.1,515.4L165.0,509.7L191.9,521.3L218.8,503.0L245.7,502.2L272.6,467.2L299.5,468.5M57.4,545.3L84.3,520.9L111.2,520.4L138.1,509.3L165.0,511.0L191.9,530.7L218.8,513.5L245.7,503.9L272.6,467.3L299.5,474.0M57.4,534.5L84.3,510.8L111.2,511.4L138.1,511.7L165.0,493.0L191.9,514.9L218.8,507.2L245.7,502.8L272.6,467.1L299.5,433.6M57.4,519.6L84.3,497.7L111.2,490.2L138.1,473.7L165.0,473.8L191.9,490.6L218.8,466.2L245.7,461.0L272.6,439.3L299.5,409.7M57.4,541.6L84.3,513.8L111.2,516.3L138.1,502.6L165.0,505.6L191.9,518.4L218.8,506.0L245.7,508.6L272.6,465.3L299.5,463.5M57.4,536.9L84.3,514.3L111.2,504.9L138.1,493.2L165.0,493.3L191.9,510.4L218.8,496.3L245.7,487.7L272.6,459.2L299.5,444.7M57.4,540.1L84.3,524.2L111.2,519.6L138.1,510.3L165.0,497.8L191.9,504.6L218.8,499.7L245.7,491.1L272.6,462.8L299.5,457.0M57.4,532.9L84.3,509.3L111.2,515.9L138.1,503.5L165.0,492.6L191.9,503.3L218.8,500.5L245.7,491.5L272.6,468.1L299.5,455.8M57.4,527.6L84.3,509.1L111.2,507.4L138.1,509.6L165.0,498.8L191.9,502.0L218.8,495.2L245.7,492.3L272.6,455.7L299.5,428.2M57.4,532.6L84.3,515.2L111.2,518.3L138.1,499.2L165.0,503.0L191.9,501.1L218.8,489.2L245.7,486.4L272.6,449.7L299.5,455.1M57.4,537.3L84.3,518.4L111.2,528.0L138.1,516.0L165.0,502.7L191.9,516.1L218.8,500.1L245.7,498.9L272.6,472.0L299.5,465.0M57.4,524.5L84.3,507.4L111.2,503.3L138.1,494.8L165.0,469.3L191.9,503.2L218.8,496.8L245.7,490.2L272.6,433.5L299.5,443.7M57.4,529.5L84.3,509.6L111.2,517.4L138.1,498.3L165.0,498.6L191.9,495.1L218.8,486.8L245.7,495.2L272.6,462.6L299.5,442.9M57.4,518.9L84.3,504.6L111.2,495.6L138.1,503.9L165.0,488.4L191.9,501.0L218.8,489.2L245.7,466.8L272.6,436.8L299.5,429.8M57.4,527.5L84.3,509.0L111.2,515.3L138.1,495.1L165.0,502.2L191.9,492.6L218.8,503.1L245.7,491.8L272.6,465.8L299.5,453.2M57.4,524.9L84.3,493.4L111.2,492.8L138.1,485.4L165.0,487.6L191.9,483.3L218.8,500.8L245.7,478.9L272.6,427.4L299.5,431.8M57.4,517.8L84.3,501.7L111.2,493.3L138.1,473.3L165.0,457.6L191.9,492.9L218.8,462.0L245.7,442.0L272.6,428.6L299.5,418.1M57.4,532.4L84.3,515.3L111.2,516.5L138.1,506.7L165.0,500.0L191.9,515.6L218.8,499.9L245.7,494.0L272.6,459.9L299.5,460.0M57.4,525.8L84.3,517.5L111.2,519.0L138.1,488.2L165.0,494.8L191.9,511.1L218.8,497.4L245.7,489.2L272.6,455.6L299.5,456.6M57.4,530.7L84.3,490.1L111.2,510.7L138.1,479.4L165.0,481.1L191.9,508.3L218.8,493.6L245.7,474.7L272.6,439.7L299.5,441.5M57.4,528.7L84.3,516.4L111.2,511.8L138.1,484.3L165.0,499.9L191.9,511.5L218.8,488.2L245.7,474.8L272.6,445.7L299.5,456.4M57.4,529.0L84.3,513.5L111.2,510.4L138.1,493.6L165.0,493.3L191.9,507.0L218.8,496.5L245.7,471.5L272.6,466.3L299.5,429.3M57.4,524.6L84.3,510.9L111.2,494.7L138.1,484.9L165.0,481.8L191.9,479.5L218.8,499.4L245.7,477.7L272.6,450.1L299.5,449.0M57.4,526.6L84.3,509.0L111.2,512.4L138.1,506.0L165.0,491.6L191.9,500.2L218.8,473.5L245.7,478.4L272.6,456.4L299.5,459.6M57.4,516.1L84.3,491.6L111.2,485.0L138.1,471.1L165.0,457.6L191.9,483.5L218.8,466.6L245.7,449.3L272.6,430.7L299.5,415.6M57.4,519.7L84.3,502.9L111.2,504.3L138.1,487.1L165.0,482.4L191.9,499.7L218.8,469.4L245.7,483.3L272.6,422.3L299.5,434.1M57.4,544.9L84.3,522.5L111.2,528.4L138.1,505.9L165.0,504.9L191.9,511.2L218.8,506.9L245.7,499.3L272.6,481.3L299.5,464.1M57.4,531.6L84.3,519.6L111.2,514.5L138.1,501.3L165.0,500.0L191.9,515.4L218.8,491.6L245.7,485.7L272.6,462.1L299.5,450.0M57.4,528.0L84.3,505.2L111.2,514.5L138.1,498.3L165.0,482.9L191.9,502.3L218.8,478.2L245.7,471.3L272.6,462.6L299.5,442.0M57.4,520.2L84.3,500.7L111.2,504.0L138.1,497.5L165.0,493.4L191.9,463.1L218.8,476.9L245.7,477.1L272.6,433.4L299.5,451.4M57.4,513.1L84.3,506.1L111.2,498.5L138.1,493.4L165.0,475.0L191.9,497.1L218.8,478.0L245.7,455.4L272.6,430.4L299.5,433.3M57.4,541.7L84.3,515.4L111.2,518.6L138.1,509.5L165.0,500.6L191.9,516.4L218.8,510.5L245.7,502.2L272.6,471.6L299.5,466.5M57.4,511.5L84.3,492.5L111.2,492.8L138.1,481.4L165.0,478.1L191.9,493.4L218.8,466.8L245.7,469.8L272.6,440.8L299.5,422.8M57.4,534.0L84.3,517.8L111.2,527.6L138.1,503.5L165.0,507.0L191.9,534.4L218.8,510.2L245.7,511.9L272.6,486.8L299.5,473.0M57.4,520.3L84.3,511.8L111.2,506.7L138.1,494.7L165.0,475.2L191.9,493.4L218.8,489.3L245.7,482.3L272.6,460.6L299.5,443.6M57.4,532.0L84.3,504.8L111.2,505.4L138.1,486.1L165.0,496.5L191.9,487.7L218.8,467.9L245.7,452.3L272.6,460.7L299.5,438.1M57.4,530.1L84.3,517.1L111.2,508.6L138.1,485.5L165.0,487.0L191.9,512.9L218.8,499.7L245.7,484.2L272.6,458.7L299.5,459.6M57.4,519.5L84.3,497.7L111.2,503.0L138.1,479.5L165.0,487.3L191.9,501.7L218.8,478.8L245.7,486.5L272.6,424.4L299.5,423.1M57.4,536.6L84.3,517.6L111.2,523.2L138.1,508.8L165.0,510.9L191.9,518.8L218.8,508.2L245.7,499.9L272.6,478.8L299.5,475.8M57.4,529.8L84.3,507.1L111.2,512.6L138.1,504.5L165.0,487.4L191.9,500.1L218.8,483.3L245.7,488.1L272.6,456.9L299.5,431.4M57.4,531.3L84.3,518.9L111.2,522.0L138.1,510.4L165.0,505.1L191.9,522.7L218.8,506.3L245.7,509.0L272.6,484.7L299.5,466.7M57.4,525.9L84.3,508.6L111.2,507.0L138.1,493.9L165.0,501.5L191.9,494.4L218.8,467.2L245.7,491.9L272.6,465.2L299.5,442.3M57.4,519.2L84.3,497.1L111.2,513.0L138.1,488.9L165.0,483.2L191.9,484.2L218.8,491.5L245.7,475.8L272.6,448.0L299.5,439.2M57.4,530.7L84.3,519.8L111.2,513.3L138.1,501.1L165.0,499.8L191.9,526.6L218.8,500.0L245.7,494.4L272.6,464.8L299.5,435.0M57.4,524.7L84.3,502.2L111.2,483.5L138.1,498.5L165.0,483.1L191.9,500.7L218.8,468.1L245.7,464.1L272.6,445.0L299.5,429.4M57.4,538.6L84.3,513.2L111.2,508.6L138.1,506.8L165.0,504.8L191.9,521.8L218.8,484.1L245.7,503.2L272.6,471.2L299.5,461.2M57.4,521.8L84.3,503.5L111.2,501.9L138.1,482.6L165.0,484.1L191.9,490.5L218.8,479.7L245.7,483.7L272.6,423.7L299.5,440.9M57.4,537.0L84.3,518.9L111.2,516.3L138.1,515.4L165.0,512.0L191.9,514.9L218.8,502.8L245.7,506.8L272.6,476.9L299.5,463.5M57.4,535.7L84.3,516.4L111.2,504.1L138.1,506.2L165.0,490.0L191.9,515.7L218.8,482.1L245.7,474.1L272.6,463.3L299.5,458.5M57.4,530.9L84.3,504.7L111.2,499.2L138.1,492.6L165.0,487.5L191.9,500.3L218.8,476.8L245.7,489.0L272.6,429.8L299.5,442.4M57.4,536.6L84.3,515.7L111.2,513.2L138.1,494.6L165.0,507.1L191.9,509.4L218.8,501.3L245.7,499.3L272.6,460.7L299.5,460.8M57.4,534.8L84.3,501.9L111.2,515.5L138.1,504.1L165.0,483.3L191.9,499.1L218.8,482.2L245.7,487.1L272.6,456.6L299.5,447.2M57.4,532.7L84.3,514.2L111.2,516.3L138.1,499.3L165.0,503.0L191.9,518.0L218.8,510.5L245.7,489.8L272.6,457.6L299.5,441.4M57.4,536.8L84.3,521.8L111.2,513.3L138.1,507.9L165.0,496.9L191.9,512.2L218.8,502.2L245.7,506.8L272.6,468.8L299.5,453.8M57.4,530.0L84.3,521.7L111.2,511.1L138.1,486.3L165.0,494.5L191.9,509.1L218.8,506.7L245.7,497.5L272.6,467.5L299.5,456.8M57.4,541.7L84.3,519.6L111.2,523.0L138.1,509.5L165.0,506.1L191.9,527.1L218.8,518.2L245.7,503.0L272.6,475.3L299.5,470.7M57.4,529.8L84.3,514.6L111.2,512.0L138.1,507.1L165.0,498.9L191.9,512.6L218.8,506.6L245.7,496.4L272.6,475.9L299.5,461.3M57.4,525.2L84.3,515.4L111.2,516.9L138.1,502.8L165.0,506.1L191.9,508.7L218.8,466.9L245.7,485.1L272.6,461.3L299.5,455.5M57.4,524.0L84.3,500.0L111.2,497.8L138.1,488.8L165.0,483.7L191.9,500.4L218.8,480.0L245.7,450.2L272.6,414.4L299.5,426.8M57.4,523.1L84.3,506.6L111.2,507.2L138.1,485.0L165.0,484.7L191.9,500.1L218.8,488.0L245.7,469.3L272.6,453.9L299.5,449.7M57.4,532.5L84.3,507.4L111.2,512.4L138.1,502.6L165.0,501.4L191.9,497.1L218.8,494.1L245.7,470.9L272.6,451.6L299.5,456.5M57.4,533.0L84.3,514.4L111.2,512.0L138.1,501.6L165.0,490.2L191.9,518.5L218.8,498.9L245.7,502.5L272.6,469.4L299.5,461.7M57.4,535.8L84.3,521.4L111.2,510.6L138.1,506.0L165.0,496.1L191.9,517.0L218.8,513.3L245.7,498.2L272.6,457.7L299.5,462.4M57.4,531.4L84.3,501.8L111.2,506.2L138.1,489.1L165.0,494.9L191.9,490.3L218.8,489.0L245.7,488.8L272.6,458.6L299.5,445.3M57.4,537.7L84.3,516.5L111.2,514.4L138.1,507.4L165.0,498.8L191.9,503.1L218.8,509.2L245.7,495.1L272.6,472.1L299.5,465.4M57.4,536.8L84.3,507.7L111.2,505.5L138.1,494.9L165.0,489.8L191.9,488.1L218.8,495.6L245.7,475.0L272.6,438.5L299.5,443.5M57.4,538.2L84.3,522.5L111.2,529.1L138.1,511.7L165.0,505.0L191.9,520.6L218.8,509.7L245.7,494.8L272.6,477.5L299.5,475.6M57.4,524.1L84.3,508.8L111.2,511.6L138.1,502.5L165.0,486.6L191.9,498.1L218.8,504.6L245.7,485.1L272.6,473.3L299.5,433.3M57.4,528.7L84.3,514.2L111.2,509.1L138.1,504.8L165.0,485.8L191.9,503.7L218.8,500.4L245.7,480.8L272.6,434.9L299.5,455.6M57.4,523.3L84.3,513.5L111.2,516.7L138.1,501.8L165.0,494.5L191.9,514.4L218.8,498.2L245.7,502.2L272.6,471.4L299.5,466.5M57.4,522.9L84.3,502.1L111.2,497.5L138.1,492.1L165.0,486.0L191.9,492.8L218.8,479.3L245.7,488.6L272.6,448.1L299.5,440.4M57.4,532.0L84.3,512.7L111.2,510.2L138.1,498.9L165.0,491.8L191.9,498.7L218.8,489.0L245.7,478.5L272.6,447.7L299.5,434.7M57.4,528.6L84.3,495.0L111.2,499.9L138.1,485.5L165.0,484.3L191.9,498.5L218.8,496.6L245.7,475.7L272.6,452.3L299.5,447.1M57.4,534.0L84.3,527.6L111.2,528.9L138.1,511.5L165.0,508.3L191.9,526.0L218.8,511.4L245.7,505.2L272.6,475.5L299.5,468.6M57.4,526.5L84.3,514.6L111.2,492.0L138.1,495.9L165.0,496.6L191.9,490.5L218.8,479.0L245.7,484.8L272.6,418.9L299.5,461.6M57.4,521.8L84.3,501.3L111.2,499.5L138.1,489.9L165.0,480.6L191.9,502.8L218.8,482.1L245.7,451.4L272.6,463.6L299.5,416.1M57.4,542.6L84.3,520.3L111.2,526.6L138.1,516.9L165.0,519.3L191.9,523.1L218.8,513.1L245.7,511.5L272.6,487.7L299.5,472.1M57.4,521.7L84.3,506.5L111.2,499.1L138.1,487.9L165.0,508.2L191.9,486.6L218.8,490.4L245.7,492.2L272.6,446.5L299.5,433.7M57.4,540.8L84.3,517.6L111.2,523.3L138.1,503.3L165.0,506.1L191.9,520.5L218.8,514.5L245.7,498.3L272.6,482.7L299.5,475.9M57.4,529.7L84.3,512.5L111.2,520.6L138.1,510.3L165.0,502.2L191.9,509.2L218.8,509.6L245.7,484.4L272.6,470.7L299.5,456.8M57.4,540.5L84.3,527.0L111.2,517.2L138.1,516.0L165.0,519.0L191.9,512.9L218.8,517.0L245.7,508.7L272.6,486.8L299.5,469.7M57.4,529.7L84.3,512.9L111.2,513.7L138.1,502.7L165.0,502.7L191.9,493.4L218.8,483.6L245.7,496.2L272.6,463.8L299.5,444.3M57.4,516.5L84.3,497.5L111.2,494.7L138.1,476.9L165.0,474.0L191.9,469.8L218.8,455.7L245.7,451.2L272.6,405.0L299.5,418.0M57.4,519.2L84.3,522.5L111.2,522.0L138.1,514.7L165.0,498.8L191.9,516.2L218.8,491.7L245.7,506.7L272.6,463.6L299.5,460.3M57.4,530.7L84.3,519.3L111.2,516.5L138.1,509.6L165.0,503.4L191.9,516.6L218.8,502.8L245.7,498.7L272.6,471.8L299.5,459.5M57.4,533.7L84.3,517.3L111.2,511.1L138.1,492.7L165.0,504.7L191.9,510.0L218.8,492.9L245.7,480.8L272.6,452.5L299.5,462.5M57.4,525.2L84.3,510.8L111.2,513.1L138.1,505.7L165.0,495.2L191.9,506.5L218.8,494.1L245.7,472.7L272.6,443.6L299.5,457.7M57.4,529.6L84.3,510.1L111.2,500.0L138.1,491.7L165.0,494.1L191.9,508.3L218.8,493.5L245.7,482.1L272.6,459.1L299.5,435.0M57.4,533.5L84.3,500.9L111.2,524.4L138.1,501.6L165.0,497.4L191.9,497.4L218.8,483.7L245.7,473.4L272.6,439.6L299.5,448.2M57.4,524.1L84.3,511.7L111.2,517.0L138.1,501.9L165.0,490.4L191.9,499.6L218.8,500.4L245.7,474.9L272.6,452.6L299.5,461.9M57.4,522.0L84.3,506.0L111.2,510.4L138.1,501.3L165.0,482.8L191.9,498.8L218.8,488.8L245.7,486.8L272.6,460.6L299.5,461.2M57.4,526.6L84.3,510.7L111.2,517.1L138.1,492.8L165.0,500.4L191.9,514.3L218.8,489.8L245.7,479.4L272.6,463.4L299.5,464.2M57.4,538.1L84.3,512.5L111.2,503.2L138.1,499.2L165.0,501.0L191.9,500.9L218.8,498.2L245.7,476.6L272.6,460.8L299.5,428.3M57.4,530.5L84.3,517.7L111.2,519.7L138.1,501.1L165.0,497.5L191.9,514.2L218.8,494.0L245.7,494.7L272.6,464.6L299.5,456.2M57.4,523.8L84.3,502.6L111.2,506.6L138.1,501.5L165.0,497.7L191.9,498.4L218.8,498.7L245.7,485.4L272.6,456.2L299.5,447.2M57.4,523.6L84.3,502.0L111.2,505.2L138.1,491.5L165.0,501.1L191.9,495.0L218.8,479.8L245.7,496.1L272.6,426.0L299.5,454.7M57.4,534.4L84.3,524.2L111.2,529.0L138.1,517.7L165.0,507.4L191.9,522.2L218.8,515.4L245.7,501.7L272.6,484.9L299.5,480.5M57.4,534.7L84.3,512.6L111.2,516.5L138.1,508.8L165.0,503.0L191.9,521.1L218.8,498.2L245.7,493.2L272.6,458.8L299.5,459.3M57.4,530.9L84.3,509.3L111.2,508.0L138.1,503.7L165.0,487.9L191.9,500.4L218.8,489.2L245.7,488.7L272.6,428.7L299.5,445.9M57.4,535.9L84.3,514.0L111.2,517.5L138.1,508.8L165.0,505.6L191.9,506.9L218.8,500.3L245.7,488.9L272.6,464.7L299.5,467.8M57.4,522.7L84.3,509.6L111.2,507.0L138.1,499.2L165.0,480.9L191.9,499.8L218.8,478.9L245.7,474.1L272.6,447.5L299.5,433.6M57.4,534.7L84.3,515.2L111.2,518.7L138.1,497.5L165.0,494.3L191.9,511.4L218.8,492.0L245.7,489.7L272.6,450.5L299.5,461.2M57.4,532.8L84.3,514.8L111.2,503.5L138.1,509.6L165.0,501.3L191.9,501.8L218.8,487.0L245.7,493.8L272.6,470.9L299.5,464.2M57.4,522.2L84.3,504.7L111.2,513.4L138.1,487.3L165.0,494.5L191.9,496.6L218.8,492.0L245.7,467.1L272.6,458.1L299.5,464.0M57.4,530.3L84.3,512.9L111.2,517.1L138.1,503.5L165.0,504.7L191.9,509.9L218.8,496.8L245.7,490.3L272.6,443.8L299.5,469.3M57.4,524.4L84.3,514.1L111.2,507.5L138.1,495.6L165.0,498.5L191.9,493.9L218.8,469.5L245.7,474.8L272.6,441.0L299.5,430.8M57.4,525.9L84.3,516.1L111.2,512.3L138.1,496.7L165.0,487.8L191.9,508.9L218.8,497.5L245.7,486.1L272.6,459.5L299.5,452.7M57.4,528.2L84.3,501.7L111.2,503.2L138.1,494.7L165.0,497.8L191.9,502.5L218.8,484.9L245.7,467.9L272.6,463.7L299.5,430.5M57.4,532.5L84.3,506.3L111.2,508.2L138.1,495.6L165.0,500.5L191.9,511.0L218.8,483.5L245.7,471.6L272.6,450.8L299.5,451.7M57.4,537.4L84.3,510.3L111.2,515.2L138.1,496.0L165.0,503.5L191.9,502.5L218.8,502.4L245.7,489.3L272.6,449.0L299.5,461.5M57.4,524.0L84.3,510.9L111.2,503.5L138.1,487.2L165.0,492.9L191.9,498.1L218.8,488.6L245.7,484.6L272.6,446.4L299.5,427.5M57.4,526.9L84.3,516.3L111.2,518.0L138.1,497.6L165.0,491.0L191.9,513.4L218.8,495.3L245.7,500.4L272.6,464.8L299.5,459.6M57.4,530.6L84.3,510.0L111.2,510.7L138.1,493.1L165.0,498.3L191.9,508.5L218.8,458.4L245.7,477.0L272.6,461.5L299.5,430.7M57.4,541.8L84.3,512.7L111.2,514.4L138.1,512.3L165.0,510.9L191.9,513.2L218.8,492.2L245.7,496.3L272.6,465.0L299.5,472.7M57.4,536.2L84.3,517.5L111.2,521.6L138.1,511.3L165.0,501.8L191.9,523.5L218.8,502.2L245.7,498.6L272.6,477.3L299.5,467.9M57.4,526.2L84.3,515.5L111.2,512.7L138.1,498.9L165.0,495.5L191.9,505.0L218.8,491.1L245.7,489.5L272.6,460.2L299.5,438.1M57.4,533.5L84.3,518.8L111.2,520.6L138.1,502.4L165.0,501.3L191.9,511.7L218.8,497.2L245.7,495.5L272.6,459.0L299.5,440.9M57.4,528.7L84.3,500.9L111.2,505.0L138.1,505.9L165.0,482.7L191.9,500.5L218.8,482.2L245.7,493.4L272.6,460.3L299.5,453.7M57.4,530.9L84.3,512.2L111.2,501.8L138.1,499.9L165.0,490.2L191.9,507.3L218.8,500.3L245.7,482.4L272.6,450.9L299.5,457.2M57.4,519.9L84.3,500.6L111.2,507.4L138.1,499.5L165.0,487.4L191.9,493.6L218.8,484.1L245.7,481.8L272.6,454.4L299.5,445.6M57.4,531.6L84.3,504.0L111.2,513.9L138.1,498.1L165.0,499.7L191.9,508.0L218.8,501.0L245.7,492.8L272.6,468.2L299.5,467.4M57.4,526.2L84.3,500.4L111.2,502.0L138.1,491.9L165.0,477.1L191.9,495.7L218.8,473.6L245.7,474.4L272.6,426.8L299.5,419.2M57.4,524.2L84.3,509.2L111.2,502.1L138.1,500.7L165.0,504.0L191.9,503.8L218.8,491.8L245.7,490.9L272.6,458.6L299.5,453.7M57.4,529.4L84.3,521.4L111.2,523.6L138.1,515.1L165.0,509.2L191.9,515.4L218.8,496.0L245.7,495.7L272.6,473.3L299.5,472.3M57.4,534.8L84.3,514.7L111.2,520.4L138.1,499.8L165.0,493.5L191.9,513.5L218.8,515.5L245.7,491.7L272.6,468.1L299.5,458.1M57.4,528.2L84.3,505.0L111.2,503.1L138.1,496.6L165.0,481.1L191.9,496.1L218.8,486.2L245.7,456.0L272.6,441.2L299.5,416.9M57.4,525.8L84.3,515.9L111.2,512.6L138.1,494.4L165.0,508.5L191.9,503.6L218.8,497.6L245.7,480.1L272.6,458.1L299.5,454.4M57.4,524.0L84.3,521.4L111.2,520.7L138.1,511.4L165.0,506.7L191.9,514.3L218.8,512.1L245.7,493.2L272.6,470.5L299.5,460.0M57.4,540.6L84.3,523.9L111.2,525.5L138.1,516.1L165.0,509.1L191.9,519.1L218.8,516.3L245.7,518.0L272.6,471.2L299.5,473.8M57.4,519.2L84.3,505.3L111.2,512.4L138.1,493.1L165.0,491.5L191.9,483.2L218.8,496.4L245.7,464.9L272.6,458.6L299.5,442.2M57.4,538.2L84.3,521.0L111.2,518.6L138.1,511.6L165.0,502.8L191.9,507.2L218.8,504.6L245.7,507.5L272.6,471.1L299.5,466.0M57.4,526.6L84.3,508.8L111.2,503.0L138.1,500.3L165.0,512.2L191.9,509.7L218.8,493.2L245.7,497.0L272.6,464.8L299.5,447.4M57.4,532.7L84.3,513.8L111.2,524.2L138.1,499.3L165.0,502.0L191.9,505.3L218.8,500.5L245.7,493.7L272.6,460.0L299.5,416.8M57.4,538.8L84.3,520.2L111.2,514.5L138.1,504.1L165.0,501.3L191.9,516.5L218.8,503.1L245.7,503.4L272.6,469.2L299.5,468.8M57.4,539.3L84.3,512.4L111.2,518.7L138.1,512.6L165.0,506.9L191.9,519.0L218.8,499.0L245.7,501.1L272.6,474.4L299.5,461.1M57.4,530.5L84.3,513.7L111.2,508.9L138.1,506.0L165.0,499.3L191.9,494.0L218.8,482.7L245.7,473.3L272.6,458.1L299.5,453.7M57.4,532.4L84.3,507.5L111.2,514.8L138.1,493.7L165.0,502.2L191.9,506.5L218.8,483.0L245.7,496.0L272.6,464.5L299.5,459.1M57.4,537.7L84.3,522.7L111.2,512.1L138.1,512.3L165.0,517.8L191.9,512.8L218.8,501.7L245.7,502.4L272.6,469.9L299.5,462.3M57.4,532.0L84.3,514.7L111.2,506.8L138.1,496.0L165.0,499.8L191.9,517.5L218.8,493.7L245.7,494.2L272.6,453.3L299.5,457.3M57.4,525.6L84.3,514.2L111.2,514.1L138.1,482.7L165.0,500.0L191.9,496.3L218.8,486.2L245.7,478.3L272.6,440.0L299.5,460.0M57.4,532.3L84.3,505.4L111.2,502.5L138.1,484.6L165.0,478.5L191.9,503.7L218.8,485.5L245.7,478.0L272.6,451.7L299.5,447.3M57.4,528.5L84.3,509.8L111.2,513.0L138.1,494.9L165.0,500.9L191.9,516.8L218.8,503.6L245.7,493.4L272.6,456.5L299.5,448.6M57.4,530.4L84.3,518.8L111.2,514.9L138.1,501.9L165.0,494.8L191.9,515.6L218.8,500.3L245.7,494.0L272.6,468.3L299.5,460.1M57.4,532.4L84.3,511.6L111.2,493.3L138.1,491.8L165.0,495.2L191.9,512.0L218.8,495.9L245.7,475.6L272.6,441.5L299.5,437.6M57.4,528.8L84.3,499.8L111.2,513.8L138.1,491.6L165.0,493.0L191.9,511.4L218.8,478.9L245.7,484.2L272.6,441.3L299.5,428.1M57.4,531.1L84.3,512.3L111.2,511.5L138.1,488.8L165.0,488.6L191.9,490.7L218.8,485.7L245.7,492.5L272.6,445.2L299.5,438.1M57.4,528.3L84.3,514.2L111.2,518.3L138.1,501.8L165.0,492.3L191.9,509.3L218.8,508.5L245.7,495.2L272.6,447.7L299.5,452.1M57.4,526.2L84.3,506.6L111.2,509.3L138.1,495.5L165.0,481.2L191.9,492.2L218.8,485.3L245.7,470.6L272.6,455.8L299.5,439.1M57.4,541.2L84.3,524.8L111.2,525.1L138.1,502.5L165.0,500.0L191.9,510.5L218.8,509.4L245.7,497.6L272.6,478.0L299.5,469.8M57.4,533.8L84.3,509.6L111.2,506.7L138.1,508.4L165.0,507.2L191.9,506.1L218.8,493.1L245.7,484.4L272.6,463.1L299.5,441.7M57.4,531.5L84.3,502.9L111.2,509.9L138.1,494.4L165.0,481.1L191.9,508.3L218.8,495.3L245.7,498.8L272.6,458.4L299.5,445.7M57.4,511.9L84.3,493.3L111.2,499.4L138.1,482.9L165.0,485.1L191.9,489.3L218.8,461.9L245.7,451.2L272.6,430.5L299.5,414.6M57.4,531.1L84.3,514.1L111.2,519.1L138.1,507.5L165.0,508.2L191.9,514.7L218.8,484.2L245.7,495.9L272.6,459.3L299.5,456.0M57.4,522.1L84.3,506.6L111.2,493.8L138.1,480.1L165.0,486.6L191.9,479.6L218.8,476.2L245.7,469.1L272.6,415.3L299.5,422.1M57.4,529.2L84.3,509.3L111.2,503.3L138.1,494.7L165.0,498.7L191.9,499.3L218.8,492.3L245.7,482.1L272.6,455.6L299.5,464.7M57.4,538.1L84.3,528.6L111.2,527.4L138.1,501.1L165.0,504.2L191.9,520.3L218.8,505.4L245.7,515.9L272.6,470.3L299.5,460.5M57.4,533.2L84.3,506.0L111.2,513.6L138.1,502.1L165.0,493.6L191.9,506.9L218.8,473.0L245.7,488.5L272.6,430.9L299.5,444.5M57.4,535.2L84.3,518.4L111.2,513.4L138.1,502.2L165.0,490.2L191.9,518.7L218.8,506.8L245.7,482.1L272.6,474.4L299.5,461.4M57.4,524.6L84.3,502.9L111.2,503.9L138.1,482.0L165.0,477.0L191.9,488.4L218.8,468.3L245.7,475.5L272.6,438.4L299.5,421.5M57.4,517.5L84.3,497.4L111.2,487.4L138.1,480.8L165.0,465.4L191.9,480.6L218.8,458.0L245.7,459.0L272.6,437.8L299.5,430.0M57.4,518.4L84.3,499.5L111.2,510.9L138.1,479.2L165.0,499.8L191.9,508.1L218.8,480.6L245.7,495.2L272.6,441.3L299.5,441.5M57.4,530.8L84.3,505.7L111.2,501.3L138.1,494.9L165.0,482.2L191.9,498.8L218.8,483.6L245.7,483.7L272.6,461.2L299.5,444.2M57.4,530.0L84.3,517.3L111.2,516.2L138.1,486.8L165.0,493.6L191.9,507.2L218.8,476.7L245.7,484.5L272.6,463.5L299.5,450.2M57.4,534.2L84.3,520.2L111.2,517.0L138.1,503.8L165.0,505.6L191.9,513.8L218.8,502.6L245.7,491.4L272.6,470.2L299.5,455.4M57.4,523.0L84.3,508.8L111.2,504.1L138.1,501.2L165.0,488.3L191.9,502.7L218.8,480.8L245.7,476.2L272.6,433.5L299.5,431.4M57.4,527.3L84.3,507.7L111.2,514.7L138.1,491.7L165.0,482.2L191.9,491.6L218.8,499.3L245.7,478.8L272.6,464.7L299.5,436.2M57.4,532.1L84.3,516.3L111.2,514.5L138.1,501.9L165.0,503.1L191.9,507.8L218.8,495.0L245.7,487.0L272.6,460.0L299.5,454.6M57.4,510.8L84.3,493.7L111.2,501.5L138.1,473.9L165.0,467.7L191.9,502.6L218.8,466.5L245.7,452.4L272.6,422.2L299.5,413.2M57.4,524.2L84.3,511.6L111.2,514.5L138.1,502.6L165.0,481.9L191.9,512.2L218.8,499.2L245.7,488.3L272.6,458.3L299.5,451.7M57.4,516.1L84.3,500.1L111.2,500.7L138.1,488.0L165.0,484.3L191.9,481.4L218.8,489.5L245.7,481.1L272.6,442.4L299.5,442.0M57.4,528.6L84.3,524.5L111.2,514.0L138.1,511.0L165.0,503.0L191.9,514.8L218.8,506.2L245.7,504.3L272.6,463.8L299.5,479.6M57.4,540.5L84.3,518.9L111.2,516.6L138.1,514.8L165.0,514.9L191.9,523.1L218.8,508.5L245.7,500.8L272.6,482.6L299.5,468.8M57.4,524.5L84.3,514.1L111.2,513.5L138.1,504.7L165.0,503.8L191.9,504.7L218.8,488.5L245.7,478.2L272.6,455.4L299.5,456.1M57.4,537.6L84.3,519.7L111.2,516.1L138.1,505.7L165.0,514.3L191.9,513.5L218.8,503.6L245.7,503.2L272.6,466.1L299.5,457.3M57.4,538.8L84.3,518.8L111.2,517.0L138.1,508.0L165.0,495.6L191.9,513.1L218.8,508.6L245.7,493.0L272.6,471.1L299.5,457.4M57.4,523.4L84.3,515.6L111.2,507.0L138.1,496.5L165.0,500.8L191.9,499.0L218.8,471.8L245.7,484.0L272.6,462.0L299.5,452.6M57.4,520.5L84.3,495.1L111.2,505.7L138.1,479.0L165.0,495.9L191.9,492.8L218.8,481.1L245.7,476.4L272.6,424.3L299.5,438.9M57.4,518.9L84.3,505.2L111.2,512.0L138.1,501.7L165.0,504.5L191.9,498.9L218.8,481.8L245.7,472.5L272.6,449.8L299.5,420.1M57.4,534.0L84.3,511.6L111.2,500.9L138.1,496.2L165.0,482.0L191.9,474.9L218.8,492.4L245.7,455.3L272.6,447.2L299.5,455.6M57.4,524.8L84.3,514.0L111.2,501.6L138.1,503.9L165.0,497.3L191.9,497.1L218.8,495.4L245.7,491.8L272.6,456.6L299.5,442.8M57.4,512.7L84.3,489.7L111.2,498.0L138.1,496.0L165.0,478.9L191.9,489.8L218.8,482.3L245.7,470.5L272.6,432.4L299.5,423.7M57.4,528.1L84.3,499.3L111.2,504.3L138.1,486.4L165.0,477.2L191.9,506.5L218.8,467.5L245.7,483.9L272.6,439.3L299.5,424.0M57.4,530.7L84.3,504.8L111.2,497.4L138.1,492.7L165.0,487.8L191.9,495.0L218.8,466.9L245.7,482.1L272.6,454.7L299.5,451.1M57.4,532.8L84.3,513.7L111.2,515.7L138.1,511.6L165.0,508.2L191.9,506.6L218.8,494.7L245.7,501.9L272.6,455.3L299.5,474.2M57.4,512.6L84.3,504.5L111.2,489.6L138.1,478.6L165.0,475.8L191.9,482.3L218.8,466.9L245.7,457.6L272.6,432.8L299.5,421.5M57.4,523.7L84.3,514.6L111.2,510.7L138.1,483.9L165.0,485.2L191.9,485.1L218.8,498.3L245.7,491.0L272.6,467.2L299.5,460.8M57.4,534.8L84.3,518.4L111.2,517.4L138.1,503.7L165.0,494.3L191.9,505.9L218.8,507.9L245.7,478.8L272.6,463.3L299.5,462.9M57.4,531.1L84.3,517.8L111.2,502.7L138.1,503.4L165.0,500.1L191.9,502.0L218.8,478.9L245.7,484.5L272.6,464.0L299.5,447.5M57.4,521.0L84.3,500.7L111.2,506.0L138.1,490.4L165.0,498.0L191.9,499.7L218.8,491.6L245.7,473.5L272.6,423.7L299.5,457.9M57.4,538.7L84.3,519.4L111.2,514.9L138.1,512.1L165.0,509.6L191.9,509.4L218.8,502.9L245.7,496.8L272.6,463.9L299.5,469.8M57.4,530.8L84.3,514.0L111.2,509.6L138.1,495.3L165.0,501.8L191.9,509.0L218.8,486.0L245.7,484.3L272.6,446.8L299.5,452.6M57.4,530.6L84.3,514.1L111.2,528.7L138.1,501.5L165.0,506.1L191.9,508.6L218.8,490.0L245.7,497.5L272.6,471.3L299.5,458.1M57.4,526.4L84.3,517.2L111.2,510.0L138.1,493.2L165.0,490.3L191.9,499.8L218.8,482.0L245.7,493.6L272.6,442.4L299.5,448.4M57.4,535.1L84.3,516.3L111.2,516.5L138.1,500.3L165.0,502.6L191.9,516.3L218.8,486.4L245.7,499.4L272.6,472.0L299.5,455.2M57.4,534.1L84.3,518.5L111.2,508.3L138.1,508.0L165.0,499.2L191.9,511.9L218.8,499.2L245.7,497.7L272.6,460.5L299.5,451.9M57.4,524.7L84.3,511.0L111.2,512.7L138.1,490.3L165.0,502.3L191.9,482.0L218.8,480.8L245.7,472.9L272.6,457.7L299.5,443.0M57.4,530.6L84.3,517.7L111.2,513.9L138.1,502.7L165.0,511.4L191.9,513.0L218.8,492.2L245.7,498.5L272.6,463.5L299.5,460.3M57.4,527.0L84.3,519.0L111.2,516.5L138.1,510.0L165.0,498.1L191.9,509.0L218.8,497.4L245.7,493.4L272.6,463.9L299.5,454.1M57.4,526.4L84.3,504.9L111.2,513.8L138.1,509.7L165.0,486.0L191.9,500.3L218.8,495.8L245.7,486.4L272.6,460.5L299.5,454.6M57.4,527.8L84.3,506.3L111.2,511.3L138.1,494.0L165.0,489.3L191.9,508.8L218.8,503.1L245.7,491.8L272.6,457.8L299.5,454.3M57.4,519.0L84.3,493.5L111.2,498.4L138.1,474.3L165.0,483.2L191.9,471.6L218.8,464.1L245.7,462.1L272.6,437.6L299.5,395.4M57.4,526.4L84.3,524.3L111.2,520.6L138.1,492.9L165.0,488.6L191.9,510.4L218.8,492.5L245.7,490.1L272.6,465.2L299.5,456.8M57.4,539.3L84.3,517.7L111.2,515.7L138.1,506.8L165.0,510.6L191.9,510.1L218.8,503.1L245.7,494.0L272.6,469.7L299.5,465.0M57.4,516.6L84.3,511.1L111.2,510.4L138.1,483.3L165.0,482.6L191.9,493.3L218.8,490.6L245.7,463.3L272.6,439.4L299.5,432.2M57.4,529.5L84.3,507.3L111.2,508.2L138.1,491.6L165.0,489.6L191.9,510.6L218.8,495.9L245.7,486.6L272.6,438.5L299.5,453.4M57.4,517.5L84.3,499.1L111.2,488.3L138.1,489.5L165.0,482.0L191.9,481.9L218.8,476.0L245.7,462.3L272.6,441.8L299.5,416.1M57.4,534.4L84.3,503.8L111.2,510.5L138.1,502.4L165.0,495.4L191.9,504.8L218.8,479.0L245.7,480.7L272.6,453.1L299.5,446.8M57.4,535.7L84.3,518.5L111.2,518.2L138.1,511.2L165.0,504.8L191.9,507.3L218.8,499.0L245.7,496.4L272.6,463.3L299.5,462.2M57.4,531.9L84.3,508.7L111.2,516.8L138.1,504.6L165.0,489.8L191.9,521.5L218.8,500.9L245.7,501.1L272.6,470.0L299.5,475.0M57.4,528.1L84.3,518.6L111.2,513.6L138.1,503.1L165.0,502.3L191.9,501.5L218.8,479.6L245.7,485.6L272.6,447.0L299.5,444.0M57.4,527.2L84.3,505.5L111.2,514.4L138.1,501.6L165.0,504.1L191.9,516.9L218.8,499.9L245.7,480.6L272.6,454.5L299.5,450.3M57.4,529.6L84.3,495.1L111.2,500.6L138.1,482.2L165.0,471.6L191.9,497.8L218.8,486.2L245.7,466.1L272.6,438.3L299.5,437.7M57.4,532.5L84.3,512.5L111.2,514.6L138.1,489.4L165.0,502.8L191.9,502.7L218.8,495.3L245.7,474.1L272.6,465.2L299.5,456.9M57.4,521.9L84.3,501.7L111.2,500.2L138.1,490.8L165.0,468.4L191.9,472.3L218.8,473.8L245.7,472.4L272.6,446.9L299.5,415.7M57.4,530.1L84.3,524.2L111.2,517.0L138.1,500.9L165.0,498.3L191.9,525.7L218.8,497.2L245.7,492.8L272.6,462.5L299.5,459.8M57.4,531.0L84.3,512.5L111.2,528.0L138.1,503.1L165.0,494.0L191.9,510.6L218.8,488.4L245.7,498.3L272.6,442.3L299.5,447.5M57.4,519.4L84.3,507.4L111.2,505.7L138.1,508.5L165.0,500.1L191.9,506.8L218.8,489.9L245.7,492.1L272.6,469.7L299.5,444.0M57.4,528.5L84.3,514.3L111.2,513.7L138.1,507.6L165.0,493.2L191.9,510.8L218.8,506.3L245.7,486.9L272.6,459.4L299.5,443.1M57.4,529.9L84.3,507.3L111.2,505.3L138.1,492.0L165.0,496.4L191.9,496.0L218.8,474.5L245.7,464.3L272.6,428.5L299.5,429.5M57.4,541.7L84.3,526.9L111.2,538.4L138.1,508.6L165.0,508.8L191.9,524.2L218.8,511.9L245.7,506.6L272.6,481.0L299.5,465.9M57.4,514.4L84.3,502.0L111.2,495.2L138.1,475.9L165.0,471.4L191.9,490.8L218.8,461.7L245.7,455.5L272.6,423.1L299.5,427.5M57.4,536.1L84.3,512.5L111.2,514.3L138.1,501.9L165.0,498.4L191.9,508.2L218.8,494.2L245.7,488.3L272.6,462.0L299.5,453.4M57.4,527.8L84.3,510.6L111.2,514.3L138.1,504.9L165.0,505.5L191.9,513.8L218.8,492.0L245.7,495.6L272.6,440.9L299.5,454.4M57.4,531.8L84.3,516.2L111.2,517.1L138.1,502.4L165.0,506.6L191.9,508.3L218.8,498.2L245.7,497.7L272.6,451.7L299.5,453.3M57.4,525.9L84.3,511.2L111.2,510.5L138.1,501.1L165.0,499.0L191.9,479.5L218.8,485.2L245.7,471.7L272.6,447.1L299.5,436.3M57.4,527.9L84.3,506.2L111.2,498.2L138.1,491.9L165.0,474.5L191.9,476.3L218.8,465.7L245.7,459.0L272.6,435.7L299.5,414.3M57.4,537.2L84.3,517.4L111.2,517.8L138.1,499.4L165.0,507.0L191.9,505.7L218.8,505.4L245.7,503.6L272.6,475.8L299.5,460.1M57.4,535.3L84.3,519.3L111.2,521.9L138.1,517.8L165.0,508.9L191.9,514.2L218.8,516.1L245.7,496.6L272.6,470.1L299.5,469.3M57.4,525.3L84.3,511.0L111.2,514.4L138.1,492.9L165.0,498.9L191.9,500.8L218.8,482.7L245.7,472.4L272.6,436.6L299.5,436.4M57.4,529.6L84.3,510.2L111.2,507.7L138.1,477.8L165.0,490.0L191.9,509.7L218.8,478.0L245.7,497.6L272.6,444.0L299.5,459.8M57.4,536.2L84.3,518.9L111.2,524.0L138.1,504.3L165.0,504.7L191.9,507.0L218.8,509.0L245.7,509.3L272.6,462.9L299.5,464.1M57.4,533.1L84.3,512.0L111.2,503.6L138.1,477.3L165.0,496.5L191.9,509.6L218.8,486.7L245.7,460.6L272.6,424.8L299.5,452.8M57.4,538.5L84.3,518.6L111.2,519.7L138.1,502.3L165.0,494.4L191.9,492.4L218.8,501.6L245.7,489.1L272.6,461.7L299.5,457.2M57.4,514.5L84.3,489.8L111.2,494.2L138.1,475.9L165.0,472.2L191.9,484.5L218.8,476.7L245.7,466.2L272.6,428.4L299.5,425.5M57.4,533.5L84.3,510.1L111.2,515.2L138.1,503.1L165.0,500.2L191.9,498.8L218.8,500.5L245.7,479.0L272.6,466.4L299.5,439.2M57.4,528.1L84.3,505.4L111.2,500.0L138.1,501.1L165.0,492.2L191.9,496.4L218.8,489.0L245.7,483.6L272.6,448.3L299.5,438.6M57.4,518.0L84.3,508.4L111.2,487.3L138.1,495.4L165.0,474.4L191.9,498.3L218.8,497.1L245.7,482.8L272.6,449.8L299.5,426.4M57.4,540.7L84.3,522.9L111.2,520.7L138.1,510.9L165.0,505.8L191.9,521.5L218.8,511.5L245.7,498.2L272.6,464.0L299.5,468.2M57.4,531.7L84.3,499.6L111.2,508.5L138.1,494.5L165.0,503.7L191.9,499.1L218.8,469.3L245.7,488.7L272.6,457.7L299.5,430.9M57.4,526.8L84.3,503.1L111.2,518.2L138.1,505.4L165.0,493.4L191.9,507.1L218.8,496.0L245.7,491.7L272.6,458.6L299.5,451.0M57.4,532.6L84.3,513.8L111.2,519.5L138.1,501.4L165.0,510.8L191.9,506.3L218.8,499.2L245.7,500.3L272.6,449.7L299.5,464.9M57.4,520.3L84.3,490.8L111.2,495.4L138.1,469.3L165.0,476.7L191.9,473.0L218.8,471.3L245.7,479.8L272.6,422.0L299.5,412.9M57.4,519.4L84.3,513.1L111.2,516.0L138.1,494.8L165.0,497.6L191.9,502.5L218.8,489.6L245.7,490.9L272.6,439.2L299.5,447.3M57.4,517.4L84.3,493.6L111.2,499.1L138.1,488.1L165.0,482.1L191.9,493.0L218.8,467.3L245.7,462.6L272.6,443.0L299.5,442.0M57.4,539.5L84.3,520.0L111.2,523.4L138.1,502.5L165.0,508.2L191.9,515.6L218.8,502.1L245.7,496.0L272.6,462.5L299.5,455.0M57.4,527.2L84.3,500.9L111.2,504.6L138.1,499.4L165.0,478.0L191.9,508.1L218.8,481.9L245.7,466.9L272.6,446.7L299.5,437.6M57.4,525.7L84.3,510.2L111.2,511.2L138.1,494.2L165.0,505.4L191.9,502.7L218.8,495.6L245.7,466.7L272.6,452.6L299.5,455.8M57.4,527.3L84.3,513.5L111.2,508.6L138.1,490.7L165.0,480.4L191.9,489.4L218.8,484.1L245.7,481.6L272.6,445.5L299.5,426.9M57.4,525.0L84.3,515.9L111.2,513.0L138.1,496.1L165.0,492.6L191.9,506.0L218.8,498.7L245.7,501.1L272.6,461.7L299.5,459.4M57.4,524.7L84.3,517.2L111.2,510.3L138.1,503.0L165.0,505.0L191.9,508.7L218.8,492.7L245.7,499.7L272.6,468.8L299.5,458.7M57.4,527.8L84.3,504.7L111.2,503.3L138.1,493.5L165.0,485.6L191.9,486.6L218.8,487.3L245.7,475.5L272.6,458.4L299.5,449.3M57.4,526.4L84.3,515.3L111.2,518.6L138.1,494.8L165.0,479.1L191.9,520.8L218.8,501.6L245.7,489.2L272.6,453.8L299.5,459.8M57.4,522.5L84.3,511.3L111.2,504.9L138.1,496.4L165.0,499.3L191.9,507.3L218.8,495.8L245.7,470.5L272.6,439.6L299.5,443.9M57.4,538.2L84.3,521.6L111.2,528.9L138.1,510.0L165.0,505.7L191.9,524.5L218.8,509.1L245.7,504.6L272.6,459.4L299.5,462.2M57.4,524.5L84.3,513.3L111.2,500.1L138.1,498.0L165.0,501.3L191.9,491.0L218.8,488.3L245.7,478.4L272.6,440.4L299.5,442.7M57.4,521.2L84.3,511.1L111.2,511.1L138.1,496.5L165.0,487.4L191.9,505.1L218.8,488.7L245.7,490.0L272.6,452.4L299.5,439.1M57.4,533.8L84.3,521.8L111.2,519.7L138.1,505.0L165.0,499.6L191.9,517.5L218.8,501.6L245.7,501.3L272.6,462.8L299.5,458.0M57.4,527.8L84.3,515.4L111.2,512.1L138.1,503.9L165.0,497.3L191.9,501.7L218.8,478.8L245.7,489.5L272.6,458.9L299.5,442.7M57.4,532.0L84.3,528.2L111.2,519.4L138.1,508.4L165.0,505.5L191.9,521.4L218.8,506.2L245.7,507.8L272.6,469.2L299.5,475.5M57.4,531.9L84.3,518.1L111.2,514.1L138.1,509.3L165.0,500.9L191.9,517.4L218.8,501.6L245.7,478.1L272.6,471.7L299.5,468.3M57.4,537.4L84.3,514.2L111.2,522.9L138.1,505.9L165.0,508.1L191.9,520.9L218.8,495.4L245.7,495.5L272.6,483.3L299.5,473.5M57.4,524.1L84.3,510.6L111.2,506.9L138.1,492.8L165.0,495.3L191.9,492.8L218.8,496.5L245.7,475.5L272.6,441.4L299.5,443.3M57.4,531.1L84.3,522.2L111.2,513.1L138.1,508.9L165.0,509.0L191.9,503.8L218.8,502.6L245.7,489.8L272.6,460.5L299.5,467.4M57.4,534.5L84.3,515.1L111.2,517.0L138.1,511.6L165.0,505.3L191.9,512.2L218.8,508.8L245.7,499.1L272.6,469.1L299.5,475.2M57.4,515.2L84.3,502.6L111.2,492.3L138.1,491.7L165.0,466.8L191.9,489.7L218.8,471.7L245.7,471.4L272.6,431.2L299.5,420.9M57.4,532.1L84.3,508.0L111.2,508.6L138.1,500.2L165.0,488.3L191.9,510.1L218.8,482.3L245.7,489.9L272.6,440.5L299.5,455.2M57.4,530.0L84.3,508.3L111.2,505.4L138.1,504.0L165.0,502.1L191.9,502.7L218.8,486.1L245.7,485.4L272.6,462.1L299.5,441.2M57.4,528.9L84.3,509.2L111.2,514.8L138.1,510.9L165.0,495.5L191.9,500.4L218.8,491.0L245.7,483.9L272.6,456.4L299.5,440.2M57.4,522.1L84.3,511.2L111.2,506.4L138.1,502.3L165.0,493.3L191.9,501.4L218.8,492.1L245.7,471.7L272.6,455.6L299.5,437.2M57.4,522.5L84.3,513.9L111.2,511.6L138.1,490.3L165.0,498.5L191.9,498.8L218.8,485.0L245.7,482.2L272.6,447.7L299.5,440.2M57.4,529.1L84.3,515.4L111.2,515.5L138.1,508.9L165.0,498.9L191.9,516.9L218.8,496.4L245.7,489.8L272.6,466.8L299.5,454.1M57.4,529.4L84.3,514.3L111.2,510.6L138.1,494.9L165.0,486.6L191.9,486.0L218.8,503.7L245.7,481.6L272.6,448.6L299.5,454.2M57.4,518.1L84.3,509.4L111.2,501.2L138.1,490.1L165.0,497.0L191.9,516.2L218.8,479.6L245.7,468.9L272.6,466.5L299.5,449.7M57.4,532.0L84.3,515.6L111.2,511.1L138.1,507.4L165.0,489.3L191.9,520.4L218.8,498.9L245.7,470.9L272.6,464.5L299.5,454.5M57.4,517.3L84.3,510.9L111.2,516.3L138.1,511.8L165.0,498.9L191.9,505.5L218.8,509.9L245.7,495.8L272.6,458.2L299.5,472.8M57.4,535.6L84.3,518.3L111.2,511.4L138.1,494.2L165.0,489.9L191.9,511.2L218.8,492.5L245.7,501.5L272.6,468.9L299.5,448.9M57.4,534.7L84.3,521.1L111.2,515.5L138.1,488.6L165.0,509.4L191.9,514.6L218.8,489.0L245.7,503.8L272.6,465.2L299.5,455.6M57.4,523.0L84.3,494.3L111.2,503.1L138.1,490.6L165.0,481.4L191.9,490.0L218.8,494.5L245.7,483.3L272.6,443.3L299.5,429.9M57.4,537.3L84.3,521.1L111.2,517.5L138.1,509.7L165.0,501.8L191.9,512.9L218.8,509.2L245.7,500.7L272.6,476.3L299.5,462.7M57.4,529.0L84.3,514.9L111.2,502.4L138.1,494.9L165.0,488.5L191.9,492.8L218.8,480.8L245.7,468.1L272.6,450.7L299.5,460.2M57.4,532.7L84.3,516.2L111.2,513.3L138.1,504.5L165.0,491.6L191.9,513.1L218.8,498.5L245.7,495.2L272.6,441.0L299.5,463.3M57.4,535.3L84.3,514.5L111.2,517.8L138.1,507.4L165.0,510.6L191.9,524.6L218.8,503.7L245.7,498.8L272.6,453.4L299.5,459.1M57.4,522.6L84.3,513.5L111.2,515.1L138.1,499.1L165.0,480.6L191.9,492.9L218.8,495.0L245.7,493.3L272.6,440.9L299.5,432.5M57.4,529.0L84.3,520.8L111.2,515.4L138.1,508.1L165.0,505.7L191.9,517.5L218.8,499.3L245.7,494.4L272.6,462.2L299.5,464.5M57.4,524.8L84.3,509.2L111.2,517.7L138.1,510.7L165.0,493.8L191.9,511.6L218.8,500.9L245.7,490.9L272.6,462.8L299.5,459.3M57.4,525.9L84.3,494.4L111.2,501.7L138.1,481.0L165.0,477.0L191.9,480.6L218.8,492.2L245.7,453.9L272.6,401.4L299.5,425.0" fill="none" stroke="#741a74" stroke-width="0.5" stroke-opacity="0.13"/>
</g>
<line x1="45.00" y1="514.40" x2="311.50" y2="514.40" stroke="#666" stroke-width="0.8" stroke-dasharray="1.1,1.1"/>
<polyline points="57.4,531.6 84.3,531.6 111.2,530.8 138.1,529.8 165.0,529.3 191.9,528.8 218.8,527.8 245.7,527.2 272.6,526.5 299.5,526.0" fill="none" stroke="#9fc6fa" stroke-width="2.3" stroke-linejoin="round"/>
<polyline points="57.4,530.8 84.3,528.0 111.2,530.8 138.1,526.0 165.0,525.2 191.9,528.8 218.8,516.2 245.7,512.9 272.6,499.8 299.5,488.7" fill="none" stroke="#fdbb63" stroke-width="2.3" stroke-linejoin="round"/>
<polyline points="57.4,529.6 84.3,512.3 111.2,512.3 138.1,500.5 165.0,496.9 191.9,506.4 218.8,494.9 245.7,489.2 272.6,457.9 299.5,452.5" fill="none" stroke="#741a74" stroke-width="2.3" stroke-linejoin="round"/>
<text x="58.55" y="521.60" font-size="9.5" text-anchor="middle" fill="#111" stroke="#111" letter-spacing="1.1" stroke-width="0.1">***</text>
<text x="86.55" y="503.20" font-size="9.5" text-anchor="middle" fill="#111" stroke="#111" letter-spacing="1.1" stroke-width="0.1">***</text>
<text x="112.55" y="508.20" font-size="9.5" text-anchor="middle" fill="#111" stroke="#111" letter-spacing="1.1" stroke-width="0.1">***</text>
<text x="140.25" y="490.10" font-size="9.5" text-anchor="middle" fill="#111" stroke="#111" letter-spacing="1.1" stroke-width="0.1">***</text>
<text x="166.55" y="487.90" font-size="9.5" text-anchor="middle" fill="#111" stroke="#111" letter-spacing="1.1" stroke-width="0.1">***</text>
<text x="193.75" y="500.40" font-size="9.5" text-anchor="middle" fill="#111" stroke="#111" letter-spacing="1.1" stroke-width="0.1">***</text>
<text x="220.55" y="487.40" font-size="9.5" text-anchor="middle" fill="#111" stroke="#111" letter-spacing="1.1" stroke-width="0.1">***</text>
<text x="247.85" y="478.80" font-size="9.5" text-anchor="middle" fill="#111" stroke="#111" letter-spacing="1.1" stroke-width="0.1">***</text>
<text x="274.75" y="446.90" font-size="9.5" text-anchor="middle" fill="#111" stroke="#111" letter-spacing="1.1" stroke-width="0.1">***</text>
<text x="301.75" y="439.90" font-size="9.5" text-anchor="middle" fill="#111" stroke="#111" letter-spacing="1.1" stroke-width="0.1">***</text>
<rect x="45.00" y="393.80" width="266.50" height="168.70" fill="none" stroke="#555555" stroke-width="1.0"/>
<line x1="42.70" y1="411.60" x2="45.00" y2="411.60" stroke="#555555" stroke-width="1"/>
<text x="41.75" y="415.20" font-size="11" text-anchor="end" fill="#1a1a1a" stroke="#1a1a1a" letter-spacing="0.45">4</text>
<line x1="42.70" y1="437.30" x2="45.00" y2="437.30" stroke="#555555" stroke-width="1"/>
<text x="41.75" y="440.90" font-size="11" text-anchor="end" fill="#1a1a1a" stroke="#1a1a1a" letter-spacing="0.45">3</text>
<line x1="42.70" y1="463.00" x2="45.00" y2="463.00" stroke="#555555" stroke-width="1"/>
<text x="41.75" y="466.60" font-size="11" text-anchor="end" fill="#1a1a1a" stroke="#1a1a1a" letter-spacing="0.45">2</text>
<line x1="42.70" y1="488.70" x2="45.00" y2="488.70" stroke="#555555" stroke-width="1"/>
<text x="41.75" y="492.30" font-size="11" text-anchor="end" fill="#1a1a1a" stroke="#1a1a1a" letter-spacing="0.45">1</text>
<line x1="42.70" y1="514.40" x2="45.00" y2="514.40" stroke="#555555" stroke-width="1"/>
<text x="41.75" y="518.00" font-size="11" text-anchor="end" fill="#1a1a1a" stroke="#1a1a1a" letter-spacing="0.45">0</text>
<line x1="42.70" y1="540.10" x2="45.00" y2="540.10" stroke="#555555" stroke-width="1"/>
<text x="41.75" y="543.70" font-size="11" text-anchor="end" fill="#1a1a1a" stroke="#1a1a1a" letter-spacing="0.45">−1</text>
<line x1="57.40" y1="562.50" x2="57.40" y2="564.80" stroke="#555555" stroke-width="1"/>
<line x1="84.30" y1="562.50" x2="84.30" y2="564.80" stroke="#555555" stroke-width="1"/>
<line x1="111.20" y1="562.50" x2="111.20" y2="564.80" stroke="#555555" stroke-width="1"/>
<line x1="138.10" y1="562.50" x2="138.10" y2="564.80" stroke="#555555" stroke-width="1"/>
<line x1="165.00" y1="562.50" x2="165.00" y2="564.80" stroke="#555555" stroke-width="1"/>
<line x1="191.90" y1="562.50" x2="191.90" y2="564.80" stroke="#555555" stroke-width="1"/>
<line x1="218.80" y1="562.50" x2="218.80" y2="564.80" stroke="#555555" stroke-width="1"/>
<line x1="245.70" y1="562.50" x2="245.70" y2="564.80" stroke="#555555" stroke-width="1"/>
<line x1="272.60" y1="562.50" x2="272.60" y2="564.80" stroke="#555555" stroke-width="1"/>
<line x1="299.50" y1="562.50" x2="299.50" y2="564.80" stroke="#555555" stroke-width="1"/>
<text x="155.00" y="410.20" font-size="11" fill="#1a1a1a" stroke="#1a1a1a" textLength="47.30" lengthAdjust="spacing">Cluster 1</text>
<text x="23.70" y="475.65" font-size="11" text-anchor="middle" fill="#1a1a1a" stroke="#1a1a1a" textLength="36.50" lengthAdjust="spacing" transform="rotate(-90 23.70 475.65)">z score</text>
<clipPath id="lc2"><rect x="45.0" y="575.4" width="266.5" height="168.10000000000002"/></clipPath>
<g clip-path="url(#lc2)">
<path d="M57.4,625.1L84.3,625.8L111.2,635.3L138.1,653.9L165.0,627.0L191.9,626.0L218.8,621.9L245.7,653.8L272.6,680.9L299.5,642.7M57.4,634.6L84.3,639.5L111.2,612.2L138.1,652.2L165.0,633.6L191.9,647.3L218.8,629.2L245.7,640.1L272.6,659.9L299.5,652.1M57.4,635.8L84.3,645.5L111.2,637.3L138.1,667.1L165.0,638.0L191.9,648.9L218.8,634.3L245.7,659.5L272.6,668.9L299.5,671.9M57.4,621.3L84.3,621.9L111.2,617.5L138.1,645.8L165.0,621.8L191.9,644.0L218.8,597.5L245.7,621.3L272.6,646.1L299.5,634.1M57.4,661.6L84.3,646.9L111.2,647.2L138.1,684.0L165.0,649.6L191.9,677.7L218.8,650.0L245.7,660.7L272.6,678.2L299.5,674.0M57.4,650.5L84.3,643.1L111.2,644.7L138.1,661.3L165.0,639.1L191.9,656.8L218.8,625.2L245.7,652.9L272.6,654.6L299.5,641.7M57.4,663.9L84.3,646.8L111.2,646.5L138.1,681.8L165.0,651.8L191.9,659.1L218.8,649.6L245.7,679.4L272.6,679.1L299.5,673.5M57.4,651.5L84.3,646.3L111.2,648.6L138.1,670.9L165.0,638.4L191.9,653.1L218.8,645.4L245.7,672.4L272.6,676.1L299.5,675.6M57.4,645.0L84.3,643.4L111.2,615.5L138.1,680.7L165.0,648.3L191.9,661.5L218.8,646.3L245.7,664.4L272.6,667.8L299.5,682.6M57.4,624.7L84.3,633.3L111.2,636.7L138.1,657.6L165.0,624.4L191.9,640.2L218.8,630.6L245.7,647.1L272.6,669.0L299.5,653.0M57.4,634.7L84.3,642.2L111.2,634.4L138.1,664.7L165.0,630.5L191.9,646.7L218.8,625.8L245.7,641.6L272.6,656.1L299.5,657.3M57.4,627.3L84.3,626.0L111.2,639.9L138.1,655.4L165.0,614.3L191.9,643.8L218.8,618.5L245.7,654.9L272.6,653.2L299.5,635.9M57.4,649.4L84.3,636.7L111.2,642.2L138.1,662.9L165.0,643.3L191.9,660.2L218.8,642.8L245.7,652.4L272.6,660.7L299.5,663.2M57.4,635.7L84.3,640.9L111.2,644.3L138.1,668.4L165.0,630.1L191.9,652.8L218.8,635.5L245.7,661.8L272.6,674.5L299.5,664.3M57.4,658.7L84.3,658.2L111.2,656.2L138.1,687.3L165.0,635.6L191.9,657.1L218.8,650.7L245.7,677.3L272.6,695.5L299.5,674.3M57.4,640.5L84.3,647.4L111.2,654.8L138.1,679.7L165.0,655.0L191.9,663.5L218.8,641.0L245.7,666.4L272.6,671.1L299.5,674.5M57.4,647.8L84.3,645.3L111.2,647.6L138.1,659.9L165.0,642.8L191.9,663.9L218.8,627.9L245.7,649.8L272.6,663.2L299.5,668.7M57.4,646.8L84.3,640.4L111.2,639.2L138.1,672.0L165.0,646.8L191.9,657.0L218.8,627.0L245.7,645.1L272.6,679.1L299.5,671.2M57.4,637.6L84.3,641.1L111.2,640.1L138.1,668.1L165.0,630.7L191.9,658.4L218.8,631.0L245.7,654.9L272.6,666.1L299.5,675.8M57.4,646.1L84.3,636.8L111.2,638.1L138.1,667.2L165.0,650.3L191.9,641.3L218.8,641.7L245.7,652.6L272.6,672.2L299.5,672.1M57.4,602.7L84.3,599.5L111.2,613.0L138.1,640.4L165.0,598.1L191.9,614.0L218.8,593.1L245.7,616.2L272.6,648.6L299.5,649.2M57.4,622.3L84.3,627.8L111.2,630.2L138.1,661.7L165.0,610.0L191.9,637.5L218.8,639.1L245.7,636.6L272.6,657.6L299.5,649.7M57.4,646.0L84.3,654.8L111.2,641.7L138.1,678.3L165.0,646.0L191.9,651.3L218.8,633.7L245.7,674.7L272.6,674.2L299.5,666.1M57.4,638.7L84.3,624.3L111.2,625.5L138.1,649.9L165.0,634.2L191.9,639.4L218.8,633.0L245.7,636.3L272.6,649.0L299.5,658.2M57.4,642.4L84.3,646.8L111.2,643.6L138.1,664.7L165.0,635.4L191.9,655.4L218.8,645.3L245.7,660.2L272.6,680.1L299.5,665.3M57.4,649.9L84.3,640.3L111.2,644.9L138.1,671.4L165.0,645.0L191.9,636.3L218.8,645.3L245.7,650.0L272.6,667.1L299.5,652.4M57.4,643.1L84.3,640.2L111.2,653.4L138.1,649.3L165.0,642.3L191.9,652.6L218.8,647.5L245.7,659.7L272.6,657.3L299.5,671.5M57.4,627.2L84.3,625.6L111.2,640.2L138.1,677.5L165.0,631.5L191.9,639.5L218.8,638.1L245.7,656.6L272.6,649.7L299.5,671.8M57.4,650.5L84.3,654.0L111.2,650.1L138.1,680.2L165.0,635.9L191.9,665.1L218.8,652.6L245.7,661.0L272.6,683.6L299.5,682.9M57.4,654.9L84.3,650.4L111.2,647.6L138.1,672.9L165.0,649.4L191.9,656.3L218.8,640.8L245.7,663.8L272.6,670.6L299.5,674.3M57.4,624.6L84.3,644.7L111.2,608.5L138.1,668.1L165.0,637.6L191.9,645.8L218.8,630.4L245.7,661.8L272.6,664.2L299.5,665.9M57.4,641.8L84.3,616.4L111.2,627.5L138.1,660.2L165.0,622.4L191.9,635.1L218.8,623.4L245.7,639.6L272.6,643.4L299.5,653.3M57.4,644.7L84.3,601.5L111.2,609.7L138.1,635.6L165.0,618.2L191.9,627.2L218.8,628.8L245.7,626.5L272.6,660.3L299.5,653.9M57.4,640.3L84.3,636.6L111.2,648.9L138.1,672.6L165.0,636.0L191.9,639.3L218.8,633.3L245.7,654.4L272.6,671.8L299.5,669.1M57.4,647.4L84.3,641.2L111.2,648.9L138.1,658.3L165.0,650.7L191.9,649.1L218.8,645.7L245.7,663.5L272.6,676.7L299.5,659.0M57.4,640.9L84.3,641.4L111.2,638.2L138.1,668.8L165.0,628.7L191.9,656.3L218.8,647.6L245.7,646.8L272.6,662.2L299.5,667.8M57.4,643.5L84.3,631.5L111.2,648.6L138.1,661.2L165.0,643.3L191.9,654.8L218.8,645.0L245.7,673.7L272.6,670.8L299.5,676.8M57.4,652.4L84.3,642.7L111.2,641.5L138.1,674.7L165.0,643.7L191.9,651.7L218.8,632.0L245.7,658.9L272.6,662.5L299.5,670.6M57.4,643.5L84.3,630.2L111.2,643.9L138.1,662.4L165.0,641.4L191.9,649.3L218.8,625.6L245.7,653.0L272.6,659.4L299.5,664.5M57.4,648.0L84.3,655.3L111.2,660.2L138.1,679.6L165.0,662.0L191.9,668.5L218.8,647.7L245.7,676.5L272.6,677.8L299.5,682.2M57.4,644.0L84.3,645.0L111.2,634.8L138.1,663.6L165.0,641.9L191.9,647.3L218.8,638.2L245.7,646.0L272.6,681.2L299.5,659.9M57.4,634.4L84.3,628.4L111.2,634.0L138.1,648.7L165.0,640.4L191.9,633.7L218.8,618.1L245.7,642.6L272.6,664.2L299.5,659.5M57.4,666.0L84.3,650.8L111.2,664.6L138.1,698.5L165.0,659.4L191.9,676.7L218.8,655.0L245.7,681.2L272.6,682.1L299.5,684.4M57.4,658.3L84.3,654.5L111.2,657.9L138.1,674.4L165.0,657.7L191.9,658.6L218.8,654.8L245.7,665.5L272.6,690.0L299.5,686.0M57.4,623.0L84.3,644.5L111.2,638.1L138.1,669.6L165.0,641.8L191.9,635.2L218.8,633.7L245.7,662.7L272.6,666.0L299.5,648.7M57.4,651.2L84.3,650.0L111.2,646.2L138.1,679.3L165.0,640.5L191.9,660.0L218.8,654.7L245.7,660.8L272.6,695.2L299.5,676.9M57.4,636.7L84.3,641.4L111.2,642.0L138.1,662.8L165.0,604.4L191.9,652.8L218.8,638.4L245.7,658.9L272.6,662.3L299.5,663.1M57.4,620.0L84.3,635.3L111.2,637.8L138.1,660.6L165.0,614.5L191.9,646.3L218.8,618.5L245.7,641.5L272.6,682.7L299.5,667.3M57.4,648.4L84.3,640.0L111.2,649.5L138.1,678.1L165.0,633.7L191.9,656.0L218.8,633.7L245.7,672.0L272.6,668.1L299.5,677.5M57.4,666.4L84.3,661.3L111.2,660.7L138.1,685.0L165.0,655.0L191.9,665.5L218.8,663.6L245.7,666.3L272.6,681.6L299.5,684.5M57.4,647.6L84.3,646.2L111.2,650.5L138.1,675.8L165.0,649.1L191.9,650.9L218.8,648.7L245.7,660.1L272.6,673.1L299.5,670.0M57.4,644.8L84.3,609.9L111.2,641.9L138.1,657.7L165.0,634.1L191.9,647.3L218.8,618.3L245.7,642.5L272.6,666.7L299.5,655.3M57.4,619.3L84.3,621.8L111.2,634.6L138.1,664.9L165.0,641.7L191.9,639.4L218.8,624.5L245.7,653.8L272.6,656.5L299.5,657.2M57.4,653.6L84.3,635.1L111.2,623.1L138.1,671.0L165.0,650.7L191.9,659.3L218.8,642.2L245.7,657.5L272.6,661.8L299.5,683.5M57.4,617.2L84.3,615.2L111.2,614.8L138.1,651.2L165.0,620.1L191.9,617.8L218.8,632.7L245.7,637.2L272.6,643.5L299.5,659.1M57.4,629.6L84.3,638.1L111.2,636.8L138.1,666.1L165.0,640.3L191.9,648.3L218.8,646.4L245.7,660.4L272.6,655.5L299.5,674.3M57.4,651.4L84.3,644.8L111.2,647.6L138.1,679.9L165.0,640.5L191.9,657.3L218.8,637.7L245.7,644.1L272.6,686.5L299.5,668.6M57.4,659.6L84.3,653.9L111.2,656.7L138.1,679.9L165.0,655.8L191.9,676.1L218.8,647.2L245.7,679.8L272.6,687.1L299.5,680.3M57.4,649.3L84.3,637.0L111.2,658.8L138.1,688.5L165.0,650.4L191.9,658.3L218.8,654.9L245.7,679.7L272.6,672.1L299.5,671.1M57.4,649.3L84.3,650.5L111.2,651.0L138.1,688.8L165.0,652.2L191.9,657.3L218.8,661.3L245.7,674.5L272.6,674.5L299.5,663.9M57.4,634.6L84.3,641.3L111.2,636.9L138.1,665.0L165.0,628.4L191.9,644.3L218.8,610.7L245.7,638.4L272.6,677.6L299.5,668.0M57.4,633.0L84.3,636.0L111.2,658.6L138.1,680.3L165.0,627.9L191.9,644.5L218.8,616.8L245.7,651.0L272.6,666.0L299.5,653.0M57.4,649.4L84.3,649.9L111.2,643.9L138.1,671.8L165.0,637.7L191.9,642.2L218.8,640.2L245.7,652.5L272.6,675.3L299.5,675.8M57.4,623.6L84.3,618.5L111.2,634.3L138.1,666.0L165.0,635.1L191.9,637.9L218.8,632.1L245.7,651.1L272.6,659.5L299.5,660.1M57.4,643.3L84.3,646.8L111.2,640.2L138.1,648.8L165.0,642.5L191.9,637.4L218.8,624.3L245.7,658.8L272.6,663.9L299.5,677.5M57.4,620.5L84.3,631.0L111.2,649.4L138.1,668.9L165.0,640.6L191.9,642.0L218.8,630.9L245.7,654.9L272.6,666.4L299.5,666.3M57.4,633.2L84.3,629.3L111.2,638.9L138.1,659.0L165.0,636.0L191.9,640.2L218.8,634.6L245.7,657.3L272.6,671.9L299.5,672.9M57.4,650.4L84.3,626.5L111.2,662.6L138.1,686.3L165.0,651.3L191.9,634.3L218.8,652.2L245.7,675.7L272.6,678.3L299.5,663.6M57.4,672.5L84.3,655.4L111.2,671.6L138.1,694.5L165.0,667.3L191.9,668.3L218.8,671.9L245.7,679.3L272.6,691.9L299.5,685.7M57.4,635.7L84.3,647.0L111.2,639.5L138.1,672.9L165.0,630.4L191.9,646.8L218.8,633.8L245.7,643.5L272.6,666.2L299.5,646.8M57.4,644.5L84.3,634.9L111.2,619.9L138.1,665.0L165.0,619.4L191.9,644.9L218.8,631.1L245.7,638.8L272.6,672.7L299.5,655.6M57.4,645.1L84.3,629.6L111.2,642.2L138.1,682.4L165.0,636.9L191.9,656.1L218.8,642.8L245.7,653.2L272.6,675.7L299.5,663.0M57.4,646.5L84.3,640.4L111.2,648.3L138.1,657.4L165.0,636.8L191.9,638.8L218.8,645.4L245.7,648.4L272.6,675.8L299.5,661.5M57.4,646.3L84.3,637.2L111.2,641.5L138.1,676.0L165.0,645.2L191.9,657.8L218.8,627.8L245.7,656.9L272.6,672.5L299.5,660.3M57.4,656.6L84.3,644.8L111.2,638.0L138.1,676.0L165.0,646.7L191.9,644.4L218.8,656.5L245.7,640.9L272.6,683.9L299.5,673.7M57.4,660.7L84.3,652.0L111.2,634.9L138.1,687.1L165.0,655.0L191.9,659.0L218.8,657.2L245.7,670.3L272.6,675.8L299.5,689.8M57.4,646.8L84.3,645.6L111.2,644.9L138.1,684.4L165.0,645.6L191.9,655.6L218.8,648.8L245.7,650.4L272.6,656.5L299.5,662.6M57.4,639.6L84.3,643.8L111.2,653.6L138.1,674.1L165.0,651.0L191.9,653.4L218.8,641.4L245.7,658.1L272.6,683.6L299.5,673.7M57.4,649.8L84.3,635.9L111.2,635.3L138.1,679.3L165.0,643.8L191.9,656.7L218.8,647.8L245.7,664.7L272.6,658.3L299.5,670.2M57.4,637.9L84.3,635.3L111.2,633.2L138.1,686.4L165.0,638.2L191.9,663.6L218.8,647.3L245.7,663.8L272.6,676.9L299.5,653.8" fill="none" stroke="#9fc6fa" stroke-width="0.5" stroke-opacity="0.11"/>
<path d="M57.4,647.0L84.3,657.5L111.2,683.6L138.1,672.6L165.0,674.0L191.9,687.4L218.8,686.3L245.7,679.7L272.6,679.9L299.5,685.5M57.4,651.0L84.3,664.8L111.2,673.9L138.1,684.1L165.0,666.1L191.9,682.9L218.8,673.2L245.7,684.2L272.6,675.5L299.5,690.7M57.4,663.9L84.3,676.3L111.2,697.1L138.1,673.1L165.0,681.5L191.9,704.5L218.8,684.4L245.7,697.9L272.6,691.9L299.5,709.6M57.4,647.1L84.3,652.3L111.2,679.5L138.1,650.4L165.0,672.4L191.9,686.4L218.8,670.1L245.7,678.8L272.6,665.0L299.5,677.3M57.4,647.0L84.3,658.9L111.2,695.2L138.1,660.0L165.0,666.6L191.9,683.8L218.8,666.4L245.7,676.3L272.6,676.4L299.5,686.0M57.4,671.9L84.3,676.6L111.2,696.2L138.1,694.4L165.0,699.4L191.9,706.5L218.8,692.1L245.7,705.7L272.6,703.8L299.5,711.4M57.4,660.1L84.3,650.2L111.2,664.2L138.1,678.5L165.0,670.6L191.9,707.0L218.8,698.3L245.7,688.0L272.6,684.4L299.5,696.2M57.4,674.2L84.3,672.1L111.2,693.9L138.1,690.6L165.0,697.9L191.9,705.1L218.8,674.1L245.7,700.7L272.6,692.7L299.5,693.7M57.4,666.4L84.3,641.5L111.2,680.5L138.1,686.9L165.0,682.4L191.9,696.6L218.8,679.1L245.7,686.1L272.6,690.3L299.5,711.4M57.4,662.2L84.3,674.5L111.2,693.5L138.1,673.1L165.0,683.1L191.9,703.4L218.8,680.4L245.7,683.3L272.6,701.7L299.5,705.5M57.4,663.9L84.3,662.0L111.2,692.6L138.1,680.6L165.0,681.5L191.9,704.6L218.8,683.2L245.7,697.1L272.6,684.8L299.5,692.5M57.4,653.7L84.3,652.0L111.2,692.0L138.1,668.6L165.0,681.3L191.9,681.0L218.8,658.7L245.7,672.6L272.6,670.1L299.5,680.6M57.4,643.5L84.3,641.9L111.2,664.1L138.1,673.0L165.0,666.3L191.9,679.7L218.8,665.9L245.7,676.3L272.6,685.8L299.5,677.0M57.4,667.7L84.3,669.8L111.2,685.9L138.1,690.6L165.0,680.7L191.9,693.8L218.8,679.9L245.7,692.4L272.6,684.4L299.5,687.2M57.4,666.4L84.3,663.9L111.2,692.8L138.1,681.1L165.0,681.3L191.9,711.0L218.8,666.6L245.7,692.0L272.6,687.9L299.5,706.3M57.4,681.7L84.3,672.6L111.2,694.6L138.1,707.5L165.0,693.1L191.9,697.4L218.8,693.1L245.7,693.7L272.6,696.5L299.5,712.5M57.4,648.3L84.3,642.5L111.2,674.8L138.1,666.8L165.0,665.1L191.9,670.7L218.8,674.6L245.7,680.2L272.6,670.5L299.5,672.0M57.4,656.9L84.3,652.5L111.2,672.0L138.1,683.2L165.0,689.4L191.9,693.2L218.8,668.6L245.7,692.7L272.6,674.3L299.5,683.4M57.4,651.8L84.3,656.2L111.2,669.5L138.1,665.4L165.0,663.4L191.9,691.5L218.8,685.6L245.7,666.4L272.6,666.3L299.5,682.7M57.4,650.3L84.3,649.3L111.2,682.9L138.1,678.5L165.0,682.9L191.9,682.4L218.8,671.6L245.7,705.7L272.6,678.1L299.5,692.1M57.4,670.9L84.3,677.6L111.2,697.9L138.1,691.8L165.0,684.6L191.9,709.5L218.8,697.7L245.7,698.4L272.6,702.2L299.5,694.9M57.4,668.8L84.3,663.1L111.2,683.7L138.1,677.0L165.0,691.4L191.9,692.3L218.8,672.1L245.7,676.8L272.6,674.7L299.5,690.9M57.4,670.1L84.3,662.8L111.2,701.7L138.1,678.3L165.0,695.6L191.9,710.6L218.8,679.1L245.7,695.0L272.6,690.7L299.5,702.5M57.4,657.8L84.3,641.1L111.2,676.5L138.1,675.3L165.0,671.9L191.9,683.4L218.8,675.9L245.7,680.2L272.6,678.8L299.5,691.7M57.4,663.2L84.3,664.8L111.2,692.4L138.1,697.3L165.0,682.7L191.9,692.1L218.8,679.3L245.7,676.9L272.6,681.9L299.5,697.9M57.4,656.4L84.3,664.0L111.2,700.6L138.1,680.4L165.0,684.3L191.9,697.4L218.8,674.2L245.7,686.7L272.6,672.4L299.5,699.4M57.4,652.3L84.3,658.8L111.2,686.2L138.1,663.2L165.0,687.1L191.9,687.8L218.8,685.7L245.7,680.2L272.6,694.7L299.5,697.3M57.4,632.3L84.3,643.1L111.2,691.0L138.1,657.4L165.0,663.5L191.9,686.6L218.8,664.4L245.7,680.4L272.6,670.8L299.5,678.4M57.4,646.9L84.3,658.1L111.2,696.6L138.1,682.3L165.0,683.5L191.9,690.9L218.8,674.2L245.7,680.8L272.6,670.0L299.5,686.8M57.4,666.9L84.3,671.9L111.2,694.0L138.1,681.0L165.0,694.5L191.9,694.6L218.8,669.5L245.7,681.1L272.6,678.9L299.5,697.3M57.4,652.5L84.3,668.8L111.2,693.6L138.1,691.1L165.0,695.9L191.9,698.1L218.8,695.4L245.7,704.6L272.6,689.6L299.5,703.5M57.4,658.1L84.3,652.3L111.2,691.9L138.1,683.9L165.0,679.4L191.9,690.6L218.8,672.6L245.7,684.8L272.6,693.0L299.5,692.2M57.4,666.4L84.3,645.6L111.2,677.4L138.1,664.9L165.0,675.9L191.9,684.1L218.8,672.7L245.7,680.5L272.6,674.3L299.5,687.7M57.4,648.2L84.3,640.5L111.2,671.3L138.1,680.8L165.0,658.3L191.9,680.8L218.8,670.3L245.7,680.4L272.6,661.0L299.5,682.0M57.4,644.6L84.3,653.8L111.2,664.7L138.1,655.1L165.0,676.1L191.9,676.6L218.8,678.8L245.7,679.3L272.6,675.3L299.5,683.0M57.4,645.5L84.3,646.7L111.2,677.2L138.1,667.4L165.0,674.2L191.9,670.8L218.8,666.7L245.7,668.1L272.6,674.6L299.5,684.0M57.4,665.2L84.3,641.4L111.2,680.3L138.1,675.5L165.0,680.7L191.9,682.0L218.8,676.3L245.7,686.7L272.6,685.9L299.5,679.0M57.4,651.7L84.3,656.0L111.2,669.6L138.1,669.9L165.0,675.0L191.9,680.5L218.8,663.3L245.7,685.7L272.6,669.6L299.5,678.0M57.4,666.1L84.3,648.9L111.2,686.4L138.1,678.6L165.0,680.0L191.9,693.7L218.8,668.9L245.7,691.8L272.6,679.1L299.5,682.3M57.4,638.9L84.3,643.0L111.2,673.2L138.1,665.9L165.0,672.1L191.9,668.5L218.8,663.5L245.7,679.0L272.6,665.1L299.5,668.4M57.4,652.9L84.3,660.0L111.2,674.4L138.1,673.6L165.0,677.4L191.9,682.4L218.8,678.6L245.7,673.9L272.6,694.4L299.5,689.8M57.4,669.7L84.3,662.6L111.2,705.3L138.1,678.6L165.0,694.2L191.9,706.3L218.8,678.4L245.7,699.9L272.6,683.2L299.5,702.3M57.4,661.6L84.3,647.1L111.2,682.7L138.1,679.1L165.0,683.2L191.9,694.8L218.8,673.8L245.7,687.6L272.6,676.0L299.5,689.1M57.4,656.0L84.3,650.3L111.2,703.2L138.1,678.0L165.0,673.5L191.9,694.2L218.8,672.0L245.7,698.0L272.6,691.3L299.5,686.9M57.4,653.8L84.3,650.7L111.2,679.7L138.1,672.2L165.0,679.9L191.9,692.2L218.8,664.2L245.7,685.9L272.6,691.0L299.5,691.2M57.4,632.9L84.3,645.3L111.2,677.6L138.1,662.5L165.0,665.3L191.9,673.4L218.8,660.6L245.7,668.6L272.6,668.9L299.5,677.3M57.4,664.0L84.3,651.4L111.2,680.7L138.1,676.2L165.0,681.5L191.9,698.7L218.8,678.4L245.7,692.4L272.6,681.5L299.5,698.4M57.4,673.4L84.3,650.7L111.2,694.4L138.1,688.2L165.0,679.6L191.9,684.0L218.8,674.4L245.7,690.9L272.6,683.3L299.5,700.4M57.4,655.6L84.3,656.4L111.2,678.3L138.1,672.9L165.0,665.0L191.9,685.6L218.8,676.4L245.7,681.9L272.6,688.4L299.5,694.3M57.4,649.3L84.3,662.8L111.2,696.3L138.1,685.2L165.0,687.4L191.9,693.8L218.8,677.4L245.7,692.8L272.6,688.9L299.5,693.9M57.4,645.5L84.3,641.2L111.2,679.2L138.1,666.3L165.0,671.1L191.9,693.0L218.8,672.7L245.7,662.6L272.6,677.7L299.5,672.8M57.4,634.5L84.3,648.2L111.2,667.4L138.1,669.2L165.0,675.5L191.9,689.7L218.8,661.7L245.7,685.1L272.6,670.4L299.5,686.6M57.4,659.7L84.3,644.7L111.2,679.3L138.1,681.9L165.0,681.9L191.9,685.1L218.8,679.9L245.7,675.6L272.6,673.7L299.5,688.8M57.4,630.9L84.3,639.8L111.2,665.6L138.1,659.0L165.0,664.6L191.9,668.1L218.8,663.2L245.7,686.1L272.6,667.7L299.5,672.7M57.4,652.9L84.3,636.7L111.2,679.0L138.1,662.2L165.0,662.8L191.9,680.0L218.8,656.8L245.7,676.9L272.6,659.0L299.5,676.7M57.4,639.1L84.3,658.5L111.2,697.3L138.1,668.9L165.0,668.4L191.9,697.3L218.8,682.9L245.7,677.8L272.6,683.6L299.5,698.2M57.4,657.4L84.3,651.4L111.2,674.9L138.1,683.3L165.0,669.3L191.9,704.2L218.8,671.5L245.7,686.5L272.6,681.6L299.5,694.9M57.4,658.0L84.3,653.1L111.2,704.6L138.1,681.1L165.0,684.9L191.9,703.5L218.8,688.1L245.7,684.6L272.6,682.8L299.5,690.1M57.4,684.8L84.3,678.3L111.2,704.0L138.1,680.5L165.0,697.2L191.9,706.8L218.8,683.8L245.7,687.9L272.6,695.9L299.5,703.2M57.4,638.7L84.3,649.0L111.2,669.0L138.1,659.4L165.0,649.0L191.9,669.9L218.8,646.5L245.7,663.7L272.6,662.7L299.5,674.7M57.4,661.8L84.3,663.3L111.2,689.1L138.1,690.0L165.0,690.1L191.9,697.7L218.8,679.3L245.7,678.6L272.6,697.4L299.5,691.9M57.4,647.0L84.3,645.5L111.2,673.6L138.1,656.5L165.0,649.9L191.9,679.2L218.8,665.8L245.7,667.4L272.6,668.9L299.5,681.5M57.4,640.4L84.3,649.5L111.2,668.4L138.1,683.0L165.0,676.9L191.9,683.9L218.8,663.9L245.7,684.1L272.6,663.4L299.5,683.2M57.4,652.1L84.3,647.9L111.2,683.9L138.1,668.3L165.0,679.8L191.9,698.3L218.8,667.1L245.7,679.2L272.6,672.8L299.5,699.7M57.4,656.7L84.3,653.9L111.2,682.7L138.1,675.5L165.0,678.8L191.9,680.7L218.8,682.8L245.7,691.6L272.6,676.8L299.5,672.7M57.4,667.7L84.3,670.5L111.2,696.1L138.1,673.0L165.0,677.5L191.9,690.1L218.8,676.6L245.7,687.0L272.6,691.1L299.5,701.4M57.4,630.8L84.3,650.5L111.2,666.8L138.1,673.1L165.0,669.2L191.9,671.4L218.8,666.7L245.7,671.0L272.6,678.2L299.5,669.0M57.4,661.1L84.3,668.3L111.2,691.6L138.1,683.9L165.0,677.3L191.9,694.7L218.8,675.9L245.7,690.4L272.6,698.7L299.5,690.1M57.4,635.8L84.3,634.2L111.2,668.5L138.1,669.8L165.0,654.5L191.9,679.6L218.8,645.0L245.7,662.3L272.6,666.2L299.5,677.7M57.4,659.8L84.3,656.0L111.2,669.2L138.1,675.7L165.0,661.7L191.9,689.0L218.8,668.2L245.7,687.0L272.6,681.3L299.5,690.1" fill="none" stroke="#fdbb63" stroke-width="0.5" stroke-opacity="0.11"/>
<path d="M57.4,672.1L84.3,667.4L111.2,695.2L138.1,698.6L165.0,695.2L191.9,717.3L218.8,713.6L245.7,713.6L272.6,693.3L299.5,724.1M57.4,671.3L84.3,674.7L111.2,685.7L138.1,672.5L165.0,676.0L191.9,695.8L218.8,675.1L245.7,690.1L272.6,694.5L299.5,704.0M57.4,675.7L84.3,649.2L111.2,686.5L138.1,666.3L165.0,682.9L191.9,692.2L218.8,692.4L245.7,692.2L272.6,685.8L299.5,698.9M57.4,667.7L84.3,660.3L111.2,675.6L138.1,678.5L165.0,689.4L191.9,692.9L218.8,706.5L245.7,711.0L272.6,707.4L299.5,701.1M57.4,682.5L84.3,673.0L111.2,690.9L138.1,676.2L165.0,681.6L191.9,705.6L218.8,682.8L245.7,712.2L272.6,700.4L299.5,709.0M57.4,704.0L84.3,671.4L111.2,715.6L138.1,676.8L165.0,704.7L191.9,716.1L218.8,705.0L245.7,720.8L272.6,722.4L299.5,724.2M57.4,678.0L84.3,671.1L111.2,686.2L138.1,697.3L165.0,694.2L191.9,689.7L218.8,699.1L245.7,708.6L272.6,695.8L299.5,704.2M57.4,666.8L84.3,639.5L111.2,674.0L138.1,658.3L165.0,650.8L191.9,671.7L218.8,684.4L245.7,682.1L272.6,678.3L299.5,688.3M57.4,678.1L84.3,649.1L111.2,672.1L138.1,675.0L165.0,674.5L191.9,676.7L218.8,691.1L245.7,710.1L272.6,690.7L299.5,697.7M57.4,673.5L84.3,658.7L111.2,683.8L138.1,672.7L165.0,694.2L191.9,706.8L218.8,697.0L245.7,727.1L272.6,724.2L299.5,702.5M57.4,674.3L84.3,667.5L111.2,680.9L138.1,670.9L165.0,688.3L191.9,693.4L218.8,695.6L245.7,701.6L272.6,696.5L299.5,688.4M57.4,663.3L84.3,652.7L111.2,691.9L138.1,665.6L165.0,676.9L191.9,690.4L218.8,691.1L245.7,705.1L272.6,680.4L299.5,680.2M57.4,670.6L84.3,639.9L111.2,674.1L138.1,663.1L165.0,670.5L191.9,685.2L218.8,683.1L245.7,687.2L272.6,675.6L299.5,671.4M57.4,664.4L84.3,651.0L111.2,673.9L138.1,668.4L165.0,677.4L191.9,688.6L218.8,678.2L245.7,691.9L272.6,692.6L299.5,689.7M57.4,672.4L84.3,659.2L111.2,675.0L138.1,675.8L165.0,688.2L191.9,690.7L218.8,696.8L245.7,692.3L272.6,689.0L299.5,692.8M57.4,680.0L84.3,657.0L111.2,677.0L138.1,669.6L165.0,687.1L191.9,694.0L218.8,701.2L245.7,694.7L272.6,692.0L299.5,693.6M57.4,652.5L84.3,644.3L111.2,669.3L138.1,664.2L165.0,661.0L191.9,674.0L218.8,680.6L245.7,684.0L272.6,683.0L299.5,677.0M57.4,676.4L84.3,663.2L111.2,670.0L138.1,685.4L165.0,693.7L191.9,717.2L218.8,676.7L245.7,700.9L272.6,687.7L299.5,691.7M57.4,657.3L84.3,653.6L111.2,673.0L138.1,661.8L165.0,670.0L191.9,693.0L218.8,689.7L245.7,700.9L272.6,685.8L299.5,692.9M57.4,692.8L84.3,671.7L111.2,695.0L138.1,694.1L165.0,696.0L191.9,706.6L218.8,717.5L245.7,720.6L272.6,703.5L299.5,707.4M57.4,692.7L84.3,661.4L111.2,689.4L138.1,692.0L165.0,688.3L191.9,699.3L218.8,696.2L245.7,723.8L272.6,719.7L299.5,715.5M57.4,675.9L84.3,657.2L111.2,670.8L138.1,669.7L165.0,675.1L191.9,696.3L218.8,681.4L245.7,696.0L272.6,694.1L299.5,697.9M57.4,675.4L84.3,677.4L111.2,692.9L138.1,677.8L165.0,702.0L191.9,723.6L218.8,703.7L245.7,715.6L272.6,721.6L299.5,708.5M57.4,680.0L84.3,677.5L111.2,688.3L138.1,673.9L165.0,689.5L191.9,689.1L218.8,677.0L245.7,696.4L272.6,693.7L299.5,697.7M57.4,664.5L84.3,642.9L111.2,663.0L138.1,662.5L165.0,680.0L191.9,682.9L218.8,686.1L245.7,688.3L272.6,680.8L299.5,693.6M57.4,660.6L84.3,662.6L111.2,680.1L138.1,669.9L165.0,681.3L191.9,687.0L218.8,698.2L245.7,707.9L272.6,690.9L299.5,696.3M57.4,663.3L84.3,647.9L111.2,680.0L138.1,676.2L165.0,692.9L191.9,699.8L218.8,687.8L245.7,694.0L272.6,703.2L299.5,688.6M57.4,665.4L84.3,661.5L111.2,674.3L138.1,685.4L165.0,696.4L191.9,702.2L218.8,687.9L245.7,696.3L272.6,710.5L299.5,696.6M57.4,655.2L84.3,646.5L111.2,671.0L138.1,681.7L165.0,672.8L191.9,703.9L218.8,688.1L245.7,694.8L272.6,695.6L299.5,697.9M57.4,669.9L84.3,664.7L111.2,679.8L138.1,673.1L165.0,683.1L191.9,684.2L218.8,696.2L245.7,705.6L272.6,711.6L299.5,691.3M57.4,667.6L84.3,649.7L111.2,675.2L138.1,664.0L165.0,675.3L191.9,687.6L218.8,686.6L245.7,698.3L272.6,704.9L299.5,686.9M57.4,682.1L84.3,666.1L111.2,678.6L138.1,694.7L165.0,692.8L191.9,701.1L218.8,710.1L245.7,715.6L272.6,704.3L299.5,694.5M57.4,656.2L84.3,654.9L111.2,666.2L138.1,658.4L165.0,679.9L191.9,685.4L218.8,683.6L245.7,683.9L272.6,697.1L299.5,682.0M57.4,674.8L84.3,674.3L111.2,696.9L138.1,680.7L165.0,677.0L191.9,692.9L218.8,687.2L245.7,711.5L272.6,693.9L299.5,688.2M57.4,684.0L84.3,680.1L111.2,692.7L138.1,691.8L165.0,709.9L191.9,720.0L218.8,699.0L245.7,715.5L272.6,702.2L299.5,710.5M57.4,667.5L84.3,649.0L111.2,675.3L138.1,662.6L165.0,677.6L191.9,680.4L218.8,673.5L245.7,698.9L272.6,688.6L299.5,685.6M57.4,648.5L84.3,641.1L111.2,675.7L138.1,654.0L165.0,668.9L191.9,677.7L218.8,673.2L245.7,691.8L272.6,671.7L299.5,674.1M57.4,663.4L84.3,650.9L111.2,685.9L138.1,674.9L165.0,670.7L191.9,692.8L218.8,687.1L245.7,691.1L272.6,689.6L299.5,690.4M57.4,668.2L84.3,661.8L111.2,677.9L138.1,665.2L165.0,681.5L191.9,687.7L218.8,685.8L245.7,700.3L272.6,711.4L299.5,692.6M57.4,685.4L84.3,659.2L111.2,694.4L138.1,681.8L165.0,688.4L191.9,702.0L218.8,685.4L245.7,721.2L272.6,695.5L299.5,706.1M57.4,680.6L84.3,660.8L111.2,683.2L138.1,686.5L165.0,673.2L191.9,704.3L218.8,696.3L245.7,711.3L272.6,697.1L299.5,697.1M57.4,656.3L84.3,652.1L111.2,659.9L138.1,667.7L165.0,661.1L191.9,674.7L218.8,685.6L245.7,696.2L272.6,682.0L299.5,678.0M57.4,661.7L84.3,650.4L111.2,671.0L138.1,663.5L165.0,679.8L191.9,702.5L218.8,689.5L245.7,700.5L272.6,700.1L299.5,694.5M57.4,680.1L84.3,662.6L111.2,668.8L138.1,676.2L165.0,678.0L191.9,680.4L218.8,678.3L245.7,690.0L272.6,685.3L299.5,710.4M57.4,665.0L84.3,663.3L111.2,674.3L138.1,668.1L165.0,677.1L191.9,684.9L218.8,681.4L245.7,693.0L272.6,691.8L299.5,700.4M57.4,666.6L84.3,646.2L111.2,659.9L138.1,661.4L165.0,680.3L191.9,686.2L218.8,687.3L245.7,699.6L272.6,690.9L299.5,683.2M57.4,671.0L84.3,653.9L111.2,685.8L138.1,678.9L165.0,679.5L191.9,686.9L218.8,691.4L245.7,696.5L272.6,690.0L299.5,683.7M57.4,681.1L84.3,669.6L111.2,693.8L138.1,687.4L165.0,709.6L191.9,708.1L218.8,706.9L245.7,720.5L272.6,701.3L299.5,710.7M57.4,670.9L84.3,669.0L111.2,689.6L138.1,673.9L165.0,678.9L191.9,684.7L218.8,699.4L245.7,713.4L272.6,710.0L299.5,710.0M57.4,673.6L84.3,662.4L111.2,687.5L138.1,680.8L165.0,683.4L191.9,686.9L218.8,687.2L245.7,688.7L272.6,688.8L299.5,691.3M57.4,658.8L84.3,636.7L111.2,662.3L138.1,653.0L165.0,669.2L191.9,690.1L218.8,664.8L245.7,689.6L272.6,681.0L299.5,688.8M57.4,676.3L84.3,673.7L111.2,688.9L138.1,673.4L165.0,687.5L191.9,696.6L218.8,694.4L245.7,702.8L272.6,701.5L299.5,699.6M57.4,678.5L84.3,676.8L111.2,696.4L138.1,691.2L165.0,701.6L191.9,721.1L218.8,699.7L245.7,704.7L272.6,700.5L299.5,690.7M57.4,666.0L84.3,662.2L111.2,674.2L138.1,683.4L165.0,666.3L191.9,701.2L218.8,693.9L245.7,692.2L272.6,710.9L299.5,686.8M57.4,681.2L84.3,660.5L111.2,689.5L138.1,679.1L165.0,695.3L191.9,700.9L218.8,718.6L245.7,696.9L272.6,710.3L299.5,713.8M57.4,660.8L84.3,663.5L111.2,680.7L138.1,679.2L165.0,688.7L191.9,705.4L218.8,688.2L245.7,693.9L272.6,701.1L299.5,695.6M57.4,666.1L84.3,655.3L111.2,676.3L138.1,670.5L165.0,684.9L191.9,692.5L218.8,683.1L245.7,698.4L272.6,682.6L299.5,694.7M57.4,686.1L84.3,679.5L111.2,686.9L138.1,699.5L165.0,692.5L191.9,708.5L218.8,705.8L245.7,706.5L272.6,704.2L299.5,712.4M57.4,668.2L84.3,644.5L111.2,664.2L138.1,666.4L165.0,667.9L191.9,697.6L218.8,681.2L245.7,701.8L272.6,689.0L299.5,684.7M57.4,705.6L84.3,690.9L111.2,714.8L138.1,703.2L165.0,703.4L191.9,731.1L218.8,724.1L245.7,739.3L272.6,727.7L299.5,739.6M57.4,685.0L84.3,667.2L111.2,702.5L138.1,689.6L165.0,703.1L191.9,703.1L218.8,695.2L245.7,733.6L272.6,717.6L299.5,717.9M57.4,666.2L84.3,652.2L111.2,685.6L138.1,676.7L165.0,698.8L191.9,702.7L218.8,699.5L245.7,704.6L272.6,697.9L299.5,713.7M57.4,668.3L84.3,682.9L111.2,691.2L138.1,681.8L165.0,688.9L191.9,706.2L218.8,715.5L245.7,713.2L272.6,718.0L299.5,693.2M57.4,664.6L84.3,653.9L111.2,680.3L138.1,665.6L165.0,672.3L191.9,688.4L218.8,685.3L245.7,690.6L272.6,694.2L299.5,691.2M57.4,673.9L84.3,653.2L111.2,665.8L138.1,691.7L165.0,671.4L191.9,698.3L218.8,683.8L245.7,705.8L272.6,696.0L299.5,689.4M57.4,671.0L84.3,668.2L111.2,690.5L138.1,666.2L165.0,681.2L191.9,697.1L218.8,704.1L245.7,707.2L272.6,704.3L299.5,698.3M57.4,678.6L84.3,664.9L111.2,681.2L138.1,669.6L165.0,693.4L191.9,708.1L218.8,686.1L245.7,711.1L272.6,699.7L299.5,697.5M57.4,670.9L84.3,662.0L111.2,665.2L138.1,653.4L165.0,664.5L191.9,685.0L218.8,675.1L245.7,696.3L272.6,673.6L299.5,671.3M57.4,669.3L84.3,668.8L111.2,672.9L138.1,683.9L165.0,689.8L191.9,703.9L218.8,707.9L245.7,695.9L272.6,684.1L299.5,710.6M57.4,671.5L84.3,664.7L111.2,695.0L138.1,676.2L165.0,676.4L191.9,697.0L218.8,702.9L245.7,703.0L272.6,712.6L299.5,699.7M57.4,654.1L84.3,647.7L111.2,666.6L138.1,669.0L165.0,669.5L191.9,688.6L218.8,680.1L245.7,691.0L272.6,682.9L299.5,681.1M57.4,683.2L84.3,655.3L111.2,682.9L138.1,680.6L165.0,677.9L191.9,702.2L218.8,686.2L245.7,695.2L272.6,701.1L299.5,702.7M57.4,680.9L84.3,653.0L111.2,698.9L138.1,676.8L165.0,685.5L191.9,705.6L218.8,689.5L245.7,703.8L272.6,693.6L299.5,701.9M57.4,671.7L84.3,654.6L111.2,676.4L138.1,679.6L165.0,673.9L191.9,701.1L218.8,706.0L245.7,715.5L272.6,709.6L299.5,706.5M57.4,689.0L84.3,676.8L111.2,699.6L138.1,693.4L165.0,701.1L191.9,716.3L218.8,713.5L245.7,717.0L272.6,722.5L299.5,705.8M57.4,658.9L84.3,629.6L111.2,673.8L138.1,657.0L165.0,679.2L191.9,678.1L218.8,684.0L245.7,678.3L272.6,681.0L299.5,677.2M57.4,663.7L84.3,654.7L111.2,664.5L138.1,668.6L165.0,672.8L191.9,680.2L218.8,688.6L245.7,681.0L272.6,682.6L299.5,691.1M57.4,677.8L84.3,675.3L111.2,694.5L138.1,690.2L165.0,688.7L191.9,705.5L218.8,721.3L245.7,718.1L272.6,707.2L299.5,710.4M57.4,661.7L84.3,639.8L111.2,678.2L138.1,660.2L165.0,671.7L191.9,686.3L218.8,680.6L245.7,693.7L272.6,683.3L299.5,691.3M57.4,671.7L84.3,644.2L111.2,685.4L138.1,674.6L165.0,675.6L191.9,687.7L218.8,691.6L245.7,695.0L272.6,687.3L299.5,683.8" fill="none" stroke="#741a74" stroke-width="0.5" stroke-opacity="0.13"/>
</g>
<line x1="45.00" y1="670.80" x2="311.50" y2="670.80" stroke="#666" stroke-width="0.8" stroke-dasharray="1.1,1.1"/>
<polyline points="57.4,642.6 84.3,639.9 111.2,641.7 138.1,670.8 165.0,640.5 191.9,649.9 218.8,640.2 245.7,658.2 272.6,670.2 299.5,666.1" fill="none" stroke="#9fc6fa" stroke-width="2.3" stroke-linejoin="round"/>
<polyline points="57.4,653.5 84.3,654.3 111.2,681.4 138.1,674.6 165.0,675.5 191.9,689.3 218.8,672.3 245.7,681.7 272.6,680.5 299.5,688.1" fill="none" stroke="#fdbb63" stroke-width="2.3" stroke-linejoin="round"/>
<polyline points="57.4,672.9 84.3,658.5 111.2,680.8 138.1,676.7 165.0,681.7 191.9,695.8 218.8,692.6 245.7,698.7 272.6,695.5 299.5,697.3" fill="none" stroke="#741a74" stroke-width="2.3" stroke-linejoin="round"/>
<text x="58.85" y="636.30" font-size="9.5" text-anchor="middle" fill="#111" stroke="#111" letter-spacing="1.1" stroke-width="0.1">***</text>
<text x="85.65" y="629.90" font-size="9.5" text-anchor="middle" fill="#111" stroke="#111" letter-spacing="1.1" stroke-width="0.1">***</text>
<text x="112.75" y="631.80" font-size="9.5" text-anchor="middle" fill="#111" stroke="#111" letter-spacing="1.1" stroke-width="0.1">***</text>
<text x="166.55" y="631.20" font-size="9.5" text-anchor="middle" fill="#111" stroke="#111" letter-spacing="1.1" stroke-width="0.1">***</text>
<text x="193.55" y="643.80" font-size="9.5" text-anchor="middle" fill="#111" stroke="#111" letter-spacing="1.1" stroke-width="0.1">***</text>
<text x="220.55" y="634.40" font-size="9.5" text-anchor="middle" fill="#111" stroke="#111" letter-spacing="1.1" stroke-width="0.1">***</text>
<text x="247.35" y="653.00" font-size="9.5" text-anchor="middle" fill="#111" stroke="#111" letter-spacing="1.1" stroke-width="0.1">***</text>
<text x="274.15" y="663.60" font-size="9.5" text-anchor="middle" fill="#111" stroke="#111" letter-spacing="1.1" stroke-width="0.1">***</text>
<text x="301.15" y="659.70" font-size="9.5" text-anchor="middle" fill="#111" stroke="#111" letter-spacing="1.1" stroke-width="0.1">***</text>
<rect x="45.00" y="575.40" width="266.50" height="168.10" fill="none" stroke="#555555" stroke-width="1.0"/>
<line x1="42.70" y1="582.60" x2="45.00" y2="582.60" stroke="#555555" stroke-width="1"/>
<text x="41.75" y="586.20" font-size="11" text-anchor="end" fill="#1a1a1a" stroke="#1a1a1a" letter-spacing="0.45">3</text>
<line x1="42.70" y1="612.00" x2="45.00" y2="612.00" stroke="#555555" stroke-width="1"/>
<text x="41.75" y="615.60" font-size="11" text-anchor="end" fill="#1a1a1a" stroke="#1a1a1a" letter-spacing="0.45">2</text>
<line x1="42.70" y1="641.40" x2="45.00" y2="641.40" stroke="#555555" stroke-width="1"/>
<text x="41.75" y="645.00" font-size="11" text-anchor="end" fill="#1a1a1a" stroke="#1a1a1a" letter-spacing="0.45">1</text>
<line x1="42.70" y1="670.80" x2="45.00" y2="670.80" stroke="#555555" stroke-width="1"/>
<text x="41.75" y="674.40" font-size="11" text-anchor="end" fill="#1a1a1a" stroke="#1a1a1a" letter-spacing="0.45">0</text>
<line x1="42.70" y1="700.20" x2="45.00" y2="700.20" stroke="#555555" stroke-width="1"/>
<text x="41.75" y="703.80" font-size="11" text-anchor="end" fill="#1a1a1a" stroke="#1a1a1a" letter-spacing="0.45">−1</text>
<line x1="42.70" y1="729.60" x2="45.00" y2="729.60" stroke="#555555" stroke-width="1"/>
<text x="41.75" y="733.20" font-size="11" text-anchor="end" fill="#1a1a1a" stroke="#1a1a1a" letter-spacing="0.45">−2</text>
<line x1="57.40" y1="743.50" x2="57.40" y2="745.80" stroke="#555555" stroke-width="1"/>
<line x1="84.30" y1="743.50" x2="84.30" y2="745.80" stroke="#555555" stroke-width="1"/>
<line x1="111.20" y1="743.50" x2="111.20" y2="745.80" stroke="#555555" stroke-width="1"/>
<line x1="138.10" y1="743.50" x2="138.10" y2="745.80" stroke="#555555" stroke-width="1"/>
<line x1="165.00" y1="743.50" x2="165.00" y2="745.80" stroke="#555555" stroke-width="1"/>
<line x1="191.90" y1="743.50" x2="191.90" y2="745.80" stroke="#555555" stroke-width="1"/>
<line x1="218.80" y1="743.50" x2="218.80" y2="745.80" stroke="#555555" stroke-width="1"/>
<line x1="245.70" y1="743.50" x2="245.70" y2="745.80" stroke="#555555" stroke-width="1"/>
<line x1="272.60" y1="743.50" x2="272.60" y2="745.80" stroke="#555555" stroke-width="1"/>
<line x1="299.50" y1="743.50" x2="299.50" y2="745.80" stroke="#555555" stroke-width="1"/>
<text x="154.20" y="592.80" font-size="11" fill="#1a1a1a" stroke="#1a1a1a" textLength="47.30" lengthAdjust="spacing">Cluster 2</text>
<text x="23.70" y="656.95" font-size="11" text-anchor="middle" fill="#1a1a1a" stroke="#1a1a1a" textLength="36.50" lengthAdjust="spacing" transform="rotate(-90 23.70 656.95)">z score</text>
<text x="57.62" y="756.40" font-size="11" text-anchor="middle" fill="#1a1a1a" stroke="#1a1a1a" letter-spacing="0.45">1</text>
<text x="84.52" y="756.40" font-size="11" text-anchor="middle" fill="#1a1a1a" stroke="#1a1a1a" letter-spacing="0.45">2</text>
<text x="111.42" y="756.40" font-size="11" text-anchor="middle" fill="#1a1a1a" stroke="#1a1a1a" letter-spacing="0.45">3</text>
<text x="138.32" y="756.40" font-size="11" text-anchor="middle" fill="#1a1a1a" stroke="#1a1a1a" letter-spacing="0.45">4</text>
<text x="165.22" y="756.40" font-size="11" text-anchor="middle" fill="#1a1a1a" stroke="#1a1a1a" letter-spacing="0.45">5</text>
<text x="192.12" y="756.40" font-size="11" text-anchor="middle" fill="#1a1a1a" stroke="#1a1a1a" letter-spacing="0.45">6</text>
<text x="219.02" y="756.40" font-size="11" text-anchor="middle" fill="#1a1a1a" stroke="#1a1a1a" letter-spacing="0.45">7</text>
<text x="245.92" y="756.40" font-size="11" text-anchor="middle" fill="#1a1a1a" stroke="#1a1a1a" letter-spacing="0.45">10</text>
<text x="272.82" y="756.40" font-size="11" text-anchor="middle" fill="#1a1a1a" stroke="#1a1a1a" letter-spacing="0.45">14</text>
<text x="299.73" y="756.40" font-size="11" text-anchor="middle" fill="#1a1a1a" stroke="#1a1a1a" letter-spacing="0.45">21</text>
<text x="176.50" y="773.60" font-size="11" text-anchor="middle" fill="#1a1a1a" stroke="#1a1a1a" textLength="19.80" lengthAdjust="spacing">Day</text>
<rect x="357.80" y="346.04" width="11.95" height="35.31" fill="#1f77b4"/>
<rect x="357.80" y="343.20" width="11.95" height="2.90" fill="#aec7e8"/>
<rect x="357.80" y="335.93" width="11.95" height="7.32" fill="#ffbb78"/>
<rect x="357.80" y="334.98" width="11.95" height="1.00" fill="#98df8a"/>
<rect x="357.80" y="314.90" width="11.95" height="20.13" fill="#ff9896"/>
<rect x="357.80" y="265.89" width="11.95" height="49.06" fill="#c5b0d5"/>
<rect x="357.80" y="264.31" width="11.95" height="1.63" fill="#8c564b"/>
<rect x="357.80" y="257.19" width="11.95" height="7.16" fill="#e377c2"/>
<rect x="357.80" y="253.24" width="11.95" height="4.00" fill="#7f7f7f"/>
<rect x="357.80" y="234.90" width="11.95" height="18.39" fill="#bcbd22"/>
<rect x="357.80" y="227.63" width="11.95" height="7.32" fill="#17becf"/>
<rect x="357.80" y="223.20" width="11.95" height="4.48" fill="#9edae5"/>
<rect x="369.70" y="347.15" width="11.95" height="34.20" fill="#1f77b4"/>
<rect x="369.70" y="344.15" width="11.95" height="3.05" fill="#aec7e8"/>
<rect x="369.70" y="334.50" width="11.95" height="9.69" fill="#ffbb78"/>
<rect x="369.70" y="333.55" width="11.95" height="1.00" fill="#98df8a"/>
<rect x="369.70" y="320.12" width="11.95" height="13.49" fill="#ff9896"/>
<rect x="369.70" y="269.21" width="11.95" height="50.96" fill="#c5b0d5"/>
<rect x="369.70" y="267.47" width="11.95" height="1.79" fill="#8c564b"/>
<rect x="369.70" y="260.04" width="11.95" height="7.48" fill="#e377c2"/>
<rect x="369.70" y="257.19" width="11.95" height="2.90" fill="#7f7f7f"/>
<rect x="369.70" y="239.96" width="11.95" height="17.28" fill="#bcbd22"/>
<rect x="369.70" y="227.94" width="11.95" height="12.07" fill="#17becf"/>
<rect x="369.70" y="223.20" width="11.95" height="4.79" fill="#9edae5"/>
<rect x="381.60" y="352.53" width="11.95" height="28.82" fill="#1f77b4"/>
<rect x="381.60" y="348.42" width="11.95" height="4.16" fill="#aec7e8"/>
<rect x="381.60" y="340.19" width="11.95" height="8.27" fill="#ffbb78"/>
<rect x="381.60" y="338.30" width="11.95" height="1.95" fill="#98df8a"/>
<rect x="381.60" y="324.38" width="11.95" height="13.96" fill="#ff9896"/>
<rect x="381.60" y="270.95" width="11.95" height="53.49" fill="#c5b0d5"/>
<rect x="381.60" y="269.37" width="11.95" height="1.63" fill="#8c564b"/>
<rect x="381.60" y="262.73" width="11.95" height="6.69" fill="#e377c2"/>
<rect x="381.60" y="260.04" width="11.95" height="2.74" fill="#7f7f7f"/>
<rect x="381.60" y="242.65" width="11.95" height="17.44" fill="#bcbd22"/>
<rect x="381.60" y="228.73" width="11.95" height="13.96" fill="#17becf"/>
<rect x="381.60" y="223.20" width="11.95" height="5.58" fill="#9edae5"/>
<line x1="369.70" y1="223.20" x2="369.70" y2="381.30" stroke="#ffffff" stroke-width="0.4" stroke-opacity="0.5"/>
<line x1="381.60" y1="223.20" x2="381.60" y2="381.30" stroke="#ffffff" stroke-width="0.4" stroke-opacity="0.5"/>
<rect x="354.90" y="215.60" width="41.50" height="165.70" fill="none" stroke="#555555" stroke-width="1.0"/>
<line x1="352.40" y1="381.30" x2="354.90" y2="381.30" stroke="#555555" stroke-width="1"/>
<text x="351.05" y="385.10" font-size="11" text-anchor="end" fill="#1a1a1a" stroke="#1a1a1a" letter-spacing="0.45">0.0</text>
<line x1="352.40" y1="349.68" x2="354.90" y2="349.68" stroke="#555555" stroke-width="1"/>
<text x="351.05" y="353.48" font-size="11" text-anchor="end" fill="#1a1a1a" stroke="#1a1a1a" letter-spacing="0.45">0.2</text>
<line x1="352.40" y1="318.06" x2="354.90" y2="318.06" stroke="#555555" stroke-width="1"/>
<text x="351.05" y="321.86" font-size="11" text-anchor="end" fill="#1a1a1a" stroke="#1a1a1a" letter-spacing="0.45">0.4</text>
<line x1="352.40" y1="286.44" x2="354.90" y2="286.44" stroke="#555555" stroke-width="1"/>
<text x="351.05" y="290.24" font-size="11" text-anchor="end" fill="#1a1a1a" stroke="#1a1a1a" letter-spacing="0.45">0.6</text>
<line x1="352.40" y1="254.82" x2="354.90" y2="254.82" stroke="#555555" stroke-width="1"/>
<text x="351.05" y="258.62" font-size="11" text-anchor="end" fill="#1a1a1a" stroke="#1a1a1a" letter-spacing="0.45">0.8</text>
<line x1="352.40" y1="223.20" x2="354.90" y2="223.20" stroke="#555555" stroke-width="1"/>
<text x="351.05" y="227.00" font-size="11" text-anchor="end" fill="#1a1a1a" stroke="#1a1a1a" letter-spacing="0.45">1.0</text>
<line x1="363.70" y1="381.30" x2="363.70" y2="383.60" stroke="#555555" stroke-width="1"/>
<line x1="375.50" y1="381.30" x2="375.50" y2="383.60" stroke="#555555" stroke-width="1"/>
<line x1="387.30" y1="381.30" x2="387.30" y2="383.60" stroke="#555555" stroke-width="1"/>
<rect x="357.80" y="497.91" width="11.95" height="62.14" fill="#1f77b4"/>
<rect x="357.80" y="494.26" width="11.95" height="3.69" fill="#aec7e8"/>
<rect x="357.80" y="489.35" width="11.95" height="4.96" fill="#ffbb78"/>
<rect x="357.80" y="488.40" width="11.95" height="1.00" fill="#98df8a"/>
<rect x="357.80" y="477.47" width="11.95" height="10.98" fill="#ff9896"/>
<rect x="357.80" y="474.46" width="11.95" height="3.06" fill="#c5b0d5"/>
<rect x="357.80" y="467.81" width="11.95" height="6.70" fill="#8c564b"/>
<rect x="357.80" y="454.19" width="11.95" height="13.67" fill="#e377c2"/>
<rect x="357.80" y="426.47" width="11.95" height="27.77" fill="#7f7f7f"/>
<rect x="357.80" y="413.96" width="11.95" height="12.56" fill="#bcbd22"/>
<rect x="357.80" y="407.46" width="11.95" height="6.54" fill="#17becf"/>
<rect x="357.80" y="401.60" width="11.95" height="5.91" fill="#9edae5"/>
<rect x="369.70" y="496.16" width="11.95" height="63.89" fill="#1f77b4"/>
<rect x="369.70" y="493.47" width="11.95" height="2.74" fill="#aec7e8"/>
<rect x="369.70" y="488.88" width="11.95" height="4.64" fill="#ffbb78"/>
<rect x="369.70" y="487.93" width="11.95" height="1.00" fill="#98df8a"/>
<rect x="369.70" y="477.63" width="11.95" height="10.35" fill="#ff9896"/>
<rect x="369.70" y="476.05" width="11.95" height="1.63" fill="#c5b0d5"/>
<rect x="369.70" y="470.35" width="11.95" height="5.75" fill="#8c564b"/>
<rect x="369.70" y="458.94" width="11.95" height="11.45" fill="#e377c2"/>
<rect x="369.70" y="430.11" width="11.95" height="28.88" fill="#7f7f7f"/>
<rect x="369.70" y="418.23" width="11.95" height="11.93" fill="#bcbd22"/>
<rect x="369.70" y="409.20" width="11.95" height="9.08" fill="#17becf"/>
<rect x="369.70" y="401.60" width="11.95" height="7.65" fill="#9edae5"/>
<rect x="381.60" y="494.26" width="11.95" height="65.79" fill="#1f77b4"/>
<rect x="381.60" y="490.62" width="11.95" height="3.69" fill="#aec7e8"/>
<rect x="381.60" y="485.55" width="11.95" height="5.12" fill="#ffbb78"/>
<rect x="381.60" y="483.97" width="11.95" height="1.63" fill="#98df8a"/>
<rect x="381.60" y="476.84" width="11.95" height="7.18" fill="#ff9896"/>
<rect x="381.60" y="475.26" width="11.95" height="1.63" fill="#c5b0d5"/>
<rect x="381.60" y="468.76" width="11.95" height="6.54" fill="#8c564b"/>
<rect x="381.60" y="453.87" width="11.95" height="14.94" fill="#e377c2"/>
<rect x="381.60" y="428.84" width="11.95" height="25.08" fill="#7f7f7f"/>
<rect x="381.60" y="419.02" width="11.95" height="9.87" fill="#bcbd22"/>
<rect x="381.60" y="409.68" width="11.95" height="9.40" fill="#17becf"/>
<rect x="381.60" y="401.60" width="11.95" height="8.13" fill="#9edae5"/>
<line x1="369.70" y1="401.60" x2="369.70" y2="560.00" stroke="#ffffff" stroke-width="0.4" stroke-opacity="0.5"/>
<line x1="381.60" y1="401.60" x2="381.60" y2="560.00" stroke="#ffffff" stroke-width="0.4" stroke-opacity="0.5"/>
<rect x="354.90" y="393.40" width="41.50" height="166.60" fill="none" stroke="#555555" stroke-width="1.0"/>
<line x1="352.40" y1="560.00" x2="354.90" y2="560.00" stroke="#555555" stroke-width="1"/>
<text x="351.05" y="563.80" font-size="11" text-anchor="end" fill="#1a1a1a" stroke="#1a1a1a" letter-spacing="0.45">0.0</text>
<line x1="352.40" y1="528.32" x2="354.90" y2="528.32" stroke="#555555" stroke-width="1"/>
<text x="351.05" y="532.12" font-size="11" text-anchor="end" fill="#1a1a1a" stroke="#1a1a1a" letter-spacing="0.45">0.2</text>
<line x1="352.40" y1="496.64" x2="354.90" y2="496.64" stroke="#555555" stroke-width="1"/>
<text x="351.05" y="500.44" font-size="11" text-anchor="end" fill="#1a1a1a" stroke="#1a1a1a" letter-spacing="0.45">0.4</text>
<line x1="352.40" y1="464.96" x2="354.90" y2="464.96" stroke="#555555" stroke-width="1"/>
<text x="351.05" y="468.76" font-size="11" text-anchor="end" fill="#1a1a1a" stroke="#1a1a1a" letter-spacing="0.45">0.6</text>
<line x1="352.40" y1="433.28" x2="354.90" y2="433.28" stroke="#555555" stroke-width="1"/>
<text x="351.05" y="437.08" font-size="11" text-anchor="end" fill="#1a1a1a" stroke="#1a1a1a" letter-spacing="0.45">0.8</text>
<line x1="352.40" y1="401.60" x2="354.90" y2="401.60" stroke="#555555" stroke-width="1"/>
<text x="351.05" y="405.40" font-size="11" text-anchor="end" fill="#1a1a1a" stroke="#1a1a1a" letter-spacing="0.45">1.0</text>
<line x1="363.70" y1="560.00" x2="363.70" y2="562.30" stroke="#555555" stroke-width="1"/>
<line x1="375.50" y1="560.00" x2="375.50" y2="562.30" stroke="#555555" stroke-width="1"/>
<line x1="387.30" y1="560.00" x2="387.30" y2="562.30" stroke="#555555" stroke-width="1"/>
<rect x="357.80" y="710.93" width="11.95" height="30.92" fill="#1f77b4"/>
<rect x="357.80" y="637.22" width="11.95" height="73.76" fill="#aec7e8"/>
<rect x="357.80" y="618.95" width="11.95" height="18.32" fill="#98df8a"/>
<rect x="357.80" y="612.02" width="11.95" height="6.98" fill="#8c564b"/>
<rect x="357.80" y="610.13" width="11.95" height="1.94" fill="#e377c2"/>
<rect x="357.80" y="598.47" width="11.95" height="11.71" fill="#7f7f7f"/>
<rect x="357.80" y="588.08" width="11.95" height="10.44" fill="#bcbd22"/>
<rect x="357.80" y="587.76" width="11.95" height="0.36" fill="#17becf"/>
<rect x="357.80" y="584.30" width="11.95" height="3.52" fill="#9edae5"/>
<rect x="369.70" y="722.27" width="11.95" height="19.58" fill="#1f77b4"/>
<rect x="369.70" y="638.48" width="11.95" height="83.84" fill="#aec7e8"/>
<rect x="369.70" y="633.28" width="11.95" height="5.25" fill="#98df8a"/>
<rect x="369.70" y="621.47" width="11.95" height="11.86" fill="#8c564b"/>
<rect x="369.70" y="619.58" width="11.95" height="1.94" fill="#e377c2"/>
<rect x="369.70" y="598.47" width="11.95" height="21.16" fill="#7f7f7f"/>
<rect x="369.70" y="586.98" width="11.95" height="11.55" fill="#bcbd22"/>
<rect x="369.70" y="586.66" width="11.95" height="0.37" fill="#17becf"/>
<rect x="369.70" y="584.30" width="11.95" height="2.41" fill="#9edae5"/>
<rect x="381.60" y="724.00" width="11.95" height="17.85" fill="#1f77b4"/>
<rect x="381.60" y="636.75" width="11.95" height="87.30" fill="#aec7e8"/>
<rect x="381.60" y="632.81" width="11.95" height="3.99" fill="#98df8a"/>
<rect x="381.60" y="621.47" width="11.95" height="11.39" fill="#8c564b"/>
<rect x="381.60" y="619.58" width="11.95" height="1.94" fill="#e377c2"/>
<rect x="381.60" y="595.32" width="11.95" height="24.30" fill="#7f7f7f"/>
<rect x="381.60" y="587.45" width="11.95" height="7.92" fill="#bcbd22"/>
<rect x="381.60" y="587.13" width="11.95" height="0.36" fill="#17becf"/>
<rect x="381.60" y="584.30" width="11.95" height="2.89" fill="#9edae5"/>
<line x1="369.70" y1="584.30" x2="369.70" y2="741.80" stroke="#ffffff" stroke-width="0.4" stroke-opacity="0.5"/>
<line x1="381.60" y1="584.30" x2="381.60" y2="741.80" stroke="#ffffff" stroke-width="0.4" stroke-opacity="0.5"/>
<rect x="354.90" y="575.70" width="41.50" height="166.10" fill="none" stroke="#555555" stroke-width="1.0"/>
<line x1="352.40" y1="741.80" x2="354.90" y2="741.80" stroke="#555555" stroke-width="1"/>
<text x="351.05" y="745.60" font-size="11" text-anchor="end" fill="#1a1a1a" stroke="#1a1a1a" letter-spacing="0.45">0.0</text>
<line x1="352.40" y1="710.30" x2="354.90" y2="710.30" stroke="#555555" stroke-width="1"/>
<text x="351.05" y="714.10" font-size="11" text-anchor="end" fill="#1a1a1a" stroke="#1a1a1a" letter-spacing="0.45">0.2</text>
<line x1="352.40" y1="678.80" x2="354.90" y2="678.80" stroke="#555555" stroke-width="1"/>
<text x="351.05" y="682.60" font-size="11" text-anchor="end" fill="#1a1a1a" stroke="#1a1a1a" letter-spacing="0.45">0.4</text>
<line x1="352.40" y1="647.30" x2="354.90" y2="647.30" stroke="#555555" stroke-width="1"/>
<text x="351.05" y="651.10" font-size="11" text-anchor="end" fill="#1a1a1a" stroke="#1a1a1a" letter-spacing="0.45">0.6</text>
<line x1="352.40" y1="615.80" x2="354.90" y2="615.80" stroke="#555555" stroke-width="1"/>
<text x="351.05" y="619.60" font-size="11" text-anchor="end" fill="#1a1a1a" stroke="#1a1a1a" letter-spacing="0.45">0.8</text>
<line x1="352.40" y1="584.30" x2="354.90" y2="584.30" stroke="#555555" stroke-width="1"/>
<text x="351.05" y="588.10" font-size="11" text-anchor="end" fill="#1a1a1a" stroke="#1a1a1a" letter-spacing="0.45">1.0</text>
<line x1="363.70" y1="741.80" x2="363.70" y2="744.10" stroke="#555555" stroke-width="1"/>
<line x1="375.50" y1="741.80" x2="375.50" y2="744.10" stroke="#555555" stroke-width="1"/>
<line x1="387.30" y1="741.80" x2="387.30" y2="744.10" stroke="#555555" stroke-width="1"/>
<text x="331.60" y="312.80" font-size="11" text-anchor="middle" fill="#1a1a1a" stroke="#1a1a1a" textLength="136.00" lengthAdjust="spacing" transform="rotate(-90 331.60 312.80)">Mean relative abundance</text>
<text x="331.60" y="491.80" font-size="11" text-anchor="middle" fill="#1a1a1a" stroke="#1a1a1a" textLength="136.00" lengthAdjust="spacing" transform="rotate(-90 331.60 491.80)">Mean relative abundance</text>
<text x="331.60" y="673.80" font-size="11" text-anchor="middle" fill="#1a1a1a" stroke="#1a1a1a" textLength="136.00" lengthAdjust="spacing" transform="rotate(-90 331.60 673.80)">Mean relative abundance</text>
<text x="357.53" y="758.30" font-size="11" text-anchor="middle" fill="#1a1a1a" stroke="#1a1a1a" letter-spacing="0.45">4</text>
<text x="373.43" y="758.30" font-size="11" text-anchor="middle" fill="#1a1a1a" stroke="#1a1a1a" letter-spacing="0.45">17</text>
<text x="389.62" y="758.30" font-size="11" text-anchor="middle" fill="#1a1a1a" stroke="#1a1a1a" letter-spacing="0.45">30</text>
<text x="315.20" y="773.20" font-size="11" fill="#1a1a1a" stroke="#1a1a1a" textLength="93.30" lengthAdjust="spacing">Temperature (°C)</text>
<line x1="432.90" y1="224.20" x2="669.80" y2="224.20" stroke="#dcdcdc" stroke-width="0.75"/>
<line x1="432.90" y1="244.11" x2="669.80" y2="244.11" stroke="#dcdcdc" stroke-width="0.75"/>
<line x1="432.90" y1="264.02" x2="669.80" y2="264.02" stroke="#dcdcdc" stroke-width="0.75"/>
<line x1="432.90" y1="283.93" x2="669.80" y2="283.93" stroke="#dcdcdc" stroke-width="0.75"/>
<line x1="432.90" y1="303.84" x2="669.80" y2="303.84" stroke="#dcdcdc" stroke-width="0.75"/>
<line x1="432.90" y1="323.75" x2="669.80" y2="323.75" stroke="#dcdcdc" stroke-width="0.75"/>
<line x1="432.90" y1="343.66" x2="669.80" y2="343.66" stroke="#dcdcdc" stroke-width="0.75"/>
<line x1="432.90" y1="363.57" x2="669.80" y2="363.57" stroke="#dcdcdc" stroke-width="0.75"/>
<line x1="432.90" y1="383.48" x2="669.80" y2="383.48" stroke="#dcdcdc" stroke-width="0.75"/>
<line x1="442.90" y1="214.40" x2="442.90" y2="394.60" stroke="#dcdcdc" stroke-width="0.75"/>
<line x1="462.64" y1="214.40" x2="462.64" y2="394.60" stroke="#dcdcdc" stroke-width="0.75"/>
<line x1="482.38" y1="214.40" x2="482.38" y2="394.60" stroke="#dcdcdc" stroke-width="0.75"/>
<line x1="502.12" y1="214.40" x2="502.12" y2="394.60" stroke="#dcdcdc" stroke-width="0.75"/>
<line x1="521.86" y1="214.40" x2="521.86" y2="394.60" stroke="#dcdcdc" stroke-width="0.75"/>
<line x1="541.60" y1="214.40" x2="541.60" y2="394.60" stroke="#dcdcdc" stroke-width="0.75"/>
<line x1="561.34" y1="214.40" x2="561.34" y2="394.60" stroke="#dcdcdc" stroke-width="0.75"/>
<line x1="581.08" y1="214.40" x2="581.08" y2="394.60" stroke="#dcdcdc" stroke-width="0.75"/>
<line x1="600.82" y1="214.40" x2="600.82" y2="394.60" stroke="#dcdcdc" stroke-width="0.75"/>
<line x1="620.56" y1="214.40" x2="620.56" y2="394.60" stroke="#dcdcdc" stroke-width="0.75"/>
<line x1="640.30" y1="214.40" x2="640.30" y2="394.60" stroke="#dcdcdc" stroke-width="0.75"/>
<line x1="660.04" y1="214.40" x2="660.04" y2="394.60" stroke="#dcdcdc" stroke-width="0.75"/>
<circle cx="442.90" cy="224.20" r="4.85" fill="#344b82" stroke="#06eef6" stroke-width="1.5"/>
<circle cx="462.64" cy="224.20" r="6.65" fill="#344b82" stroke="#06eef6" stroke-width="1.5"/>
<circle cx="482.38" cy="224.20" r="6.65" fill="#344b82" stroke="#06eef6" stroke-width="1.5"/>
<circle cx="502.12" cy="224.20" r="4.95" fill="#344b82" stroke="#06eef6" stroke-width="1.5"/>
<circle cx="521.86" cy="224.20" r="2.95" fill="#344b82" stroke="#06eef6" stroke-width="1.5"/>
<circle cx="541.60" cy="224.20" r="4.55" fill="#344b82" stroke="#06eef6" stroke-width="1.5"/>
<circle cx="561.34" cy="224.20" r="5.35" fill="#344b82" stroke="#06eef6" stroke-width="1.5"/>
<circle cx="581.08" cy="224.20" r="3.95" fill="#344b82" stroke="#06eef6" stroke-width="1.5"/>
<circle cx="600.82" cy="224.20" r="3.95" fill="#344b82" stroke="#06eef6" stroke-width="1.5"/>
<circle cx="620.56" cy="224.20" r="4.15" fill="#344b82" stroke="#06eef6" stroke-width="1.5"/>
<circle cx="640.30" cy="224.20" r="7.45" fill="#344b82" stroke="#06eef6" stroke-width="1.5"/>
<circle cx="660.04" cy="224.20" r="5.15" fill="#344b82" stroke="#06eef6" stroke-width="1.5"/>
<circle cx="442.90" cy="244.11" r="2.95" fill="#344b82" stroke="#06eef6" stroke-width="1.5"/>
<circle cx="462.64" cy="244.11" r="3.95" fill="#344b82" stroke="#06eef6" stroke-width="1.5"/>
<circle cx="482.38" cy="244.11" r="3.75" fill="#344b82" stroke="#06eef6" stroke-width="1.5"/>
<circle cx="502.12" cy="244.11" r="5.35" fill="#344b82" stroke="#06eef6" stroke-width="1.5"/>
<circle cx="521.86" cy="244.11" r="1.80" fill="#344b82" fill-opacity="0.3"/>
<circle cx="541.60" cy="244.11" r="4.35" fill="#344b82" stroke="#06eef6" stroke-width="1.5"/>
<circle cx="561.34" cy="244.11" r="4.15" fill="#344b82" stroke="#06eef6" stroke-width="1.5"/>
<circle cx="581.08" cy="244.11" r="3.95" fill="#344b82" stroke="#06eef6" stroke-width="1.5"/>
<circle cx="600.82" cy="244.11" r="2.75" fill="#344b82" stroke="#06eef6" stroke-width="1.5"/>
<circle cx="620.56" cy="244.11" r="3.95" fill="#344b82" stroke="#06eef6" stroke-width="1.5"/>
<circle cx="640.30" cy="244.11" r="5.35" fill="#344b82" stroke="#06eef6" stroke-width="1.5"/>
<circle cx="660.04" cy="244.11" r="3.35" fill="#344b82" stroke="#06eef6" stroke-width="1.5"/>
<circle cx="442.90" cy="264.02" r="3.35" fill="#c966cc" stroke="#06eef6" stroke-width="1.5"/>
<circle cx="462.64" cy="264.02" r="4.10" fill="#c966cc" fill-opacity="0.3"/>
<circle cx="482.38" cy="264.02" r="4.70" fill="#c966cc"/>
<circle cx="502.12" cy="264.02" r="3.30" fill="#344b82" fill-opacity="0.3"/>
<circle cx="521.86" cy="264.02" r="2.90" fill="#344b82" fill-opacity="0.3"/>
<circle cx="541.60" cy="264.02" r="2.00" fill="#344b82" fill-opacity="0.3"/>
<circle cx="561.34" cy="264.02" r="3.75" fill="#c966cc" stroke="#06eef6" stroke-width="1.5"/>
<circle cx="581.08" cy="264.02" r="1.80" fill="#c966cc" fill-opacity="0.3"/>
<circle cx="600.82" cy="264.02" r="3.30" fill="#c966cc" fill-opacity="0.3"/>
<circle cx="620.56" cy="264.02" r="2.30" fill="#c966cc" fill-opacity="0.3"/>
<circle cx="640.30" cy="264.02" r="1.40" fill="#344b82" fill-opacity="0.3"/>
<circle cx="660.04" cy="264.02" r="1.60" fill="#c966cc" fill-opacity="0.3"/>
<circle cx="442.90" cy="283.93" r="1.80" fill="#344b82" fill-opacity="0.3"/>
<circle cx="462.64" cy="283.93" r="4.50" fill="#344b82"/>
<circle cx="482.38" cy="283.93" r="1.80" fill="#c966cc" fill-opacity="0.3"/>
<circle cx="502.12" cy="283.93" r="5.15" fill="#344b82" stroke="#06eef6" stroke-width="1.5"/>
<circle cx="521.86" cy="283.93" r="2.70" fill="#344b82" fill-opacity="0.3"/>
<circle cx="541.60" cy="283.93" r="1.80" fill="#344b82" fill-opacity="0.3"/>
<circle cx="561.34" cy="283.93" r="3.10" fill="#c966cc" fill-opacity="0.3"/>
<circle cx="581.08" cy="283.93" r="2.70" fill="#344b82" fill-opacity="0.3"/>
<circle cx="600.82" cy="283.93" r="2.90" fill="#344b82" fill-opacity="0.3"/>
<circle cx="620.56" cy="283.93" r="2.00" fill="#344b82" fill-opacity="0.3"/>
<circle cx="640.30" cy="283.93" r="4.55" fill="#344b82" stroke="#06eef6" stroke-width="1.5"/>
<circle cx="660.04" cy="283.93" r="3.95" fill="#344b82" stroke="#06eef6" stroke-width="1.5"/>
<circle cx="442.90" cy="303.84" r="3.35" fill="#c966cc" stroke="#06eef6" stroke-width="1.5"/>
<circle cx="462.64" cy="303.84" r="3.35" fill="#c966cc" stroke="#06eef6" stroke-width="1.5"/>
<circle cx="482.38" cy="303.84" r="3.70" fill="#c966cc"/>
<circle cx="502.12" cy="303.84" r="2.90" fill="#c966cc" fill-opacity="0.3"/>
<circle cx="521.86" cy="303.84" r="2.30" fill="#c966cc" fill-opacity="0.3"/>
<circle cx="541.60" cy="303.84" r="3.70" fill="#c966cc"/>
<circle cx="561.34" cy="303.84" r="3.95" fill="#c966cc" stroke="#06eef6" stroke-width="1.5"/>
<circle cx="581.08" cy="303.84" r="3.10" fill="#c966cc" fill-opacity="0.3"/>
<circle cx="600.82" cy="303.84" r="3.35" fill="#c966cc" stroke="#06eef6" stroke-width="1.5"/>
<circle cx="620.56" cy="303.84" r="2.95" fill="#c966cc" stroke="#06eef6" stroke-width="1.5"/>
<circle cx="640.30" cy="303.84" r="4.30" fill="#c966cc"/>
<circle cx="660.04" cy="303.84" r="3.30" fill="#c966cc" fill-opacity="0.3"/>
<circle cx="442.90" cy="323.75" r="3.90" fill="#c966cc" fill-opacity="0.3"/>
<circle cx="462.64" cy="323.75" r="4.35" fill="#c966cc" stroke="#06eef6" stroke-width="1.5"/>
<circle cx="482.38" cy="323.75" r="3.75" fill="#c966cc" stroke="#06eef6" stroke-width="1.5"/>
<circle cx="502.12" cy="323.75" r="4.95" fill="#c966cc" stroke="#06eef6" stroke-width="1.5"/>
<circle cx="521.86" cy="323.75" r="2.90" fill="#c966cc" fill-opacity="0.3"/>
<circle cx="541.60" cy="323.75" r="2.95" fill="#c966cc" stroke="#06eef6" stroke-width="1.5"/>
<circle cx="561.34" cy="323.75" r="1.80" fill="#c966cc" fill-opacity="0.3"/>
<circle cx="581.08" cy="323.75" r="3.55" fill="#c966cc" stroke="#06eef6" stroke-width="1.5"/>
<circle cx="600.82" cy="323.75" r="3.35" fill="#c966cc" stroke="#06eef6" stroke-width="1.5"/>
<circle cx="620.56" cy="323.75" r="3.35" fill="#c966cc" stroke="#06eef6" stroke-width="1.5"/>
<circle cx="640.30" cy="323.75" r="5.15" fill="#c966cc" stroke="#06eef6" stroke-width="1.5"/>
<circle cx="660.04" cy="323.75" r="4.35" fill="#c966cc" stroke="#06eef6" stroke-width="1.5"/>
<circle cx="442.90" cy="343.66" r="2.95" fill="#c966cc" stroke="#06eef6" stroke-width="1.5"/>
<circle cx="462.64" cy="343.66" r="3.70" fill="#c966cc" fill-opacity="0.3"/>
<circle cx="482.38" cy="343.66" r="3.35" fill="#c966cc" stroke="#06eef6" stroke-width="1.5"/>
<circle cx="502.12" cy="343.66" r="3.50" fill="#c966cc" fill-opacity="0.3"/>
<circle cx="521.86" cy="343.66" r="2.35" fill="#c966cc" stroke="#06eef6" stroke-width="1.5"/>
<circle cx="541.60" cy="343.66" r="2.75" fill="#c966cc" stroke="#06eef6" stroke-width="1.5"/>
<circle cx="561.34" cy="343.66" r="3.15" fill="#c966cc" stroke="#06eef6" stroke-width="1.5"/>
<circle cx="581.08" cy="343.66" r="3.15" fill="#c966cc" stroke="#06eef6" stroke-width="1.5"/>
<circle cx="600.82" cy="343.66" r="3.30" fill="#c966cc" fill-opacity="0.3"/>
<circle cx="620.56" cy="343.66" r="2.95" fill="#c966cc" stroke="#06eef6" stroke-width="1.5"/>
<circle cx="640.30" cy="343.66" r="4.30" fill="#c966cc"/>
<circle cx="660.04" cy="343.66" r="3.35" fill="#c966cc" stroke="#06eef6" stroke-width="1.5"/>
<circle cx="442.90" cy="363.57" r="3.10" fill="#344b82" fill-opacity="0.3"/>
<circle cx="462.64" cy="363.57" r="3.70" fill="#c966cc" fill-opacity="0.3"/>
<circle cx="482.38" cy="363.57" r="1.80" fill="#344b82" fill-opacity="0.3"/>
<circle cx="502.12" cy="363.57" r="3.95" fill="#c966cc" stroke="#06eef6" stroke-width="1.5"/>
<circle cx="521.86" cy="363.57" r="2.90" fill="#c966cc"/>
<circle cx="541.60" cy="363.57" r="3.15" fill="#c966cc" stroke="#06eef6" stroke-width="1.5"/>
<circle cx="561.34" cy="363.57" r="2.30" fill="#344b82" fill-opacity="0.3"/>
<circle cx="581.08" cy="363.57" r="3.50" fill="#c966cc" fill-opacity="0.3"/>
<circle cx="600.82" cy="363.57" r="1.80" fill="#c966cc" fill-opacity="0.3"/>
<circle cx="620.56" cy="363.57" r="3.50" fill="#c966cc"/>
<circle cx="640.30" cy="363.57" r="4.15" fill="#c966cc" stroke="#06eef6" stroke-width="1.5"/>
<circle cx="660.04" cy="363.57" r="3.55" fill="#c966cc" stroke="#06eef6" stroke-width="1.5"/>
<circle cx="442.90" cy="383.48" r="3.50" fill="#344b82" fill-opacity="0.3"/>
<circle cx="462.64" cy="383.48" r="2.90" fill="#c966cc" fill-opacity="0.3"/>
<circle cx="482.38" cy="383.48" r="3.10" fill="#344b82" fill-opacity="0.3"/>
<circle cx="502.12" cy="383.48" r="4.10" fill="#c966cc" fill-opacity="0.3"/>
<circle cx="521.86" cy="383.48" r="2.30" fill="#c966cc" fill-opacity="0.3"/>
<circle cx="541.60" cy="383.48" r="2.50" fill="#c966cc" fill-opacity="0.3"/>
<circle cx="561.34" cy="383.48" r="4.90" fill="#344b82"/>
<circle cx="581.08" cy="383.48" r="2.90" fill="#344b82" fill-opacity="0.3"/>
<circle cx="600.82" cy="383.48" r="3.70" fill="#344b82" fill-opacity="0.3"/>
<circle cx="620.56" cy="383.48" r="3.10" fill="#344b82" fill-opacity="0.3"/>
<circle cx="640.30" cy="383.48" r="2.50" fill="#c966cc" fill-opacity="0.3"/>
<circle cx="660.04" cy="383.48" r="2.70" fill="#344b82" fill-opacity="0.3"/>
<line x1="432.90" y1="224.20" x2="669.80" y2="224.20" stroke="#a8a8a8" stroke-width="0.75" stroke-opacity="0.15"/>
<line x1="432.90" y1="244.11" x2="669.80" y2="244.11" stroke="#a8a8a8" stroke-width="0.75" stroke-opacity="0.15"/>
<line x1="432.90" y1="264.02" x2="669.80" y2="264.02" stroke="#a8a8a8" stroke-width="0.75" stroke-opacity="0.15"/>
<line x1="432.90" y1="283.93" x2="669.80" y2="283.93" stroke="#a8a8a8" stroke-width="0.75" stroke-opacity="0.15"/>
<line x1="432.90" y1="303.84" x2="669.80" y2="303.84" stroke="#a8a8a8" stroke-width="0.75" stroke-opacity="0.15"/>
<line x1="432.90" y1="323.75" x2="669.80" y2="323.75" stroke="#a8a8a8" stroke-width="0.75" stroke-opacity="0.15"/>
<line x1="432.90" y1="343.66" x2="669.80" y2="343.66" stroke="#a8a8a8" stroke-width="0.75" stroke-opacity="0.15"/>
<line x1="432.90" y1="363.57" x2="669.80" y2="363.57" stroke="#a8a8a8" stroke-width="0.75" stroke-opacity="0.15"/>
<line x1="432.90" y1="383.48" x2="669.80" y2="383.48" stroke="#a8a8a8" stroke-width="0.75" stroke-opacity="0.15"/>
<line x1="442.90" y1="214.40" x2="442.90" y2="394.60" stroke="#a8a8a8" stroke-width="0.75" stroke-opacity="0.15"/>
<line x1="462.64" y1="214.40" x2="462.64" y2="394.60" stroke="#a8a8a8" stroke-width="0.75" stroke-opacity="0.15"/>
<line x1="482.38" y1="214.40" x2="482.38" y2="394.60" stroke="#a8a8a8" stroke-width="0.75" stroke-opacity="0.15"/>
<line x1="502.12" y1="214.40" x2="502.12" y2="394.60" stroke="#a8a8a8" stroke-width="0.75" stroke-opacity="0.15"/>
<line x1="521.86" y1="214.40" x2="521.86" y2="394.60" stroke="#a8a8a8" stroke-width="0.75" stroke-opacity="0.15"/>
<line x1="541.60" y1="214.40" x2="541.60" y2="394.60" stroke="#a8a8a8" stroke-width="0.75" stroke-opacity="0.15"/>
<line x1="561.34" y1="214.40" x2="561.34" y2="394.60" stroke="#a8a8a8" stroke-width="0.75" stroke-opacity="0.15"/>
<line x1="581.08" y1="214.40" x2="581.08" y2="394.60" stroke="#a8a8a8" stroke-width="0.75" stroke-opacity="0.15"/>
<line x1="600.82" y1="214.40" x2="600.82" y2="394.60" stroke="#a8a8a8" stroke-width="0.75" stroke-opacity="0.15"/>
<line x1="620.56" y1="214.40" x2="620.56" y2="394.60" stroke="#a8a8a8" stroke-width="0.75" stroke-opacity="0.15"/>
<line x1="640.30" y1="214.40" x2="640.30" y2="394.60" stroke="#a8a8a8" stroke-width="0.75" stroke-opacity="0.15"/>
<line x1="660.04" y1="214.40" x2="660.04" y2="394.60" stroke="#a8a8a8" stroke-width="0.75" stroke-opacity="0.15"/>
<line x1="482.38" y1="214.40" x2="482.38" y2="394.60" stroke="#888" stroke-width="0.75" stroke-opacity="0.5"/>
<line x1="430.60" y1="224.20" x2="432.90" y2="224.20" stroke="#555555" stroke-width="1"/>
<text x="428.60" y="228.80" font-size="11" text-anchor="end" fill="#1a1a1a" stroke="#1a1a1a" letter-spacing="0.3">4.1</text>
<line x1="430.60" y1="244.11" x2="432.90" y2="244.11" stroke="#555555" stroke-width="1"/>
<text x="428.60" y="248.71" font-size="11" text-anchor="end" fill="#1a1a1a" stroke="#1a1a1a" letter-spacing="0.3">4.2</text>
<line x1="430.60" y1="264.02" x2="432.90" y2="264.02" stroke="#555555" stroke-width="1"/>
<text x="428.60" y="268.62" font-size="11" text-anchor="end" fill="#1a1a1a" stroke="#1a1a1a" letter-spacing="0.3">4.3</text>
<line x1="430.60" y1="283.93" x2="432.90" y2="283.93" stroke="#555555" stroke-width="1"/>
<text x="428.60" y="288.53" font-size="11" text-anchor="end" fill="#1a1a1a" stroke="#1a1a1a" letter-spacing="0.3">17.1</text>
<line x1="430.60" y1="303.84" x2="432.90" y2="303.84" stroke="#555555" stroke-width="1"/>
<text x="428.60" y="308.44" font-size="11" text-anchor="end" fill="#1a1a1a" stroke="#1a1a1a" letter-spacing="0.3">17.2</text>
<line x1="430.60" y1="323.75" x2="432.90" y2="323.75" stroke="#555555" stroke-width="1"/>
<text x="428.60" y="328.35" font-size="11" text-anchor="end" fill="#1a1a1a" stroke="#1a1a1a" letter-spacing="0.3">17.3</text>
<line x1="430.60" y1="343.66" x2="432.90" y2="343.66" stroke="#555555" stroke-width="1"/>
<text x="428.60" y="348.26" font-size="11" text-anchor="end" fill="#1a1a1a" stroke="#1a1a1a" letter-spacing="0.3">30.1</text>
<line x1="430.60" y1="363.57" x2="432.90" y2="363.57" stroke="#555555" stroke-width="1"/>
<text x="428.60" y="368.17" font-size="11" text-anchor="end" fill="#1a1a1a" stroke="#1a1a1a" letter-spacing="0.3">30.2</text>
<line x1="430.60" y1="383.48" x2="432.90" y2="383.48" stroke="#555555" stroke-width="1"/>
<text x="428.60" y="388.08" font-size="11" text-anchor="end" fill="#1a1a1a" stroke="#1a1a1a" letter-spacing="0.3">30.3</text>
<line x1="432.90" y1="214.40" x2="432.90" y2="394.60" stroke="#777" stroke-width="1.0"/>
<line x1="669.80" y1="214.40" x2="669.80" y2="394.60" stroke="#555" stroke-width="1.0"/>
<line x1="432.90" y1="404.60" x2="669.80" y2="404.60" stroke="#dcdcdc" stroke-width="0.75"/>
<line x1="432.90" y1="424.52" x2="669.80" y2="424.52" stroke="#dcdcdc" stroke-width="0.75"/>
<line x1="432.90" y1="444.44" x2="669.80" y2="444.44" stroke="#dcdcdc" stroke-width="0.75"/>
<line x1="432.90" y1="464.36" x2="669.80" y2="464.36" stroke="#dcdcdc" stroke-width="0.75"/>
<line x1="432.90" y1="484.28" x2="669.80" y2="484.28" stroke="#dcdcdc" stroke-width="0.75"/>
<line x1="432.90" y1="504.20" x2="669.80" y2="504.20" stroke="#dcdcdc" stroke-width="0.75"/>
<line x1="432.90" y1="524.12" x2="669.80" y2="524.12" stroke="#dcdcdc" stroke-width="0.75"/>
<line x1="432.90" y1="544.04" x2="669.80" y2="544.04" stroke="#dcdcdc" stroke-width="0.75"/>
<line x1="432.90" y1="563.96" x2="669.80" y2="563.96" stroke="#dcdcdc" stroke-width="0.75"/>
<line x1="442.90" y1="394.60" x2="442.90" y2="574.80" stroke="#dcdcdc" stroke-width="0.75"/>
<line x1="462.64" y1="394.60" x2="462.64" y2="574.80" stroke="#dcdcdc" stroke-width="0.75"/>
<line x1="482.38" y1="394.60" x2="482.38" y2="574.80" stroke="#dcdcdc" stroke-width="0.75"/>
<line x1="502.12" y1="394.60" x2="502.12" y2="574.80" stroke="#dcdcdc" stroke-width="0.75"/>
<line x1="521.86" y1="394.60" x2="521.86" y2="574.80" stroke="#dcdcdc" stroke-width="0.75"/>
<line x1="541.60" y1="394.60" x2="541.60" y2="574.80" stroke="#dcdcdc" stroke-width="0.75"/>
<line x1="561.34" y1="394.60" x2="561.34" y2="574.80" stroke="#dcdcdc" stroke-width="0.75"/>
<line x1="581.08" y1="394.60" x2="581.08" y2="574.80" stroke="#dcdcdc" stroke-width="0.75"/>
<line x1="600.82" y1="394.60" x2="600.82" y2="574.80" stroke="#dcdcdc" stroke-width="0.75"/>
<line x1="620.56" y1="394.60" x2="620.56" y2="574.80" stroke="#dcdcdc" stroke-width="0.75"/>
<line x1="640.30" y1="394.60" x2="640.30" y2="574.80" stroke="#dcdcdc" stroke-width="0.75"/>
<line x1="660.04" y1="394.60" x2="660.04" y2="574.80" stroke="#dcdcdc" stroke-width="0.75"/>
<circle cx="442.90" cy="404.60" r="6.05" fill="#344b82" stroke="#06eef6" stroke-width="1.5"/>
<circle cx="462.64" cy="404.60" r="5.15" fill="#344b82" stroke="#06eef6" stroke-width="1.5"/>
<circle cx="482.38" cy="404.60" r="5.35" fill="#344b82" stroke="#06eef6" stroke-width="1.5"/>
<circle cx="502.12" cy="404.60" r="7.45" fill="#344b82" stroke="#06eef6" stroke-width="1.5"/>
<circle cx="521.86" cy="404.60" r="3.55" fill="#344b82" stroke="#06eef6" stroke-width="1.5"/>
<circle cx="541.60" cy="404.60" r="3.75" fill="#344b82" stroke="#06eef6" stroke-width="1.5"/>
<circle cx="561.34" cy="404.60" r="5.35" fill="#344b82" stroke="#06eef6" stroke-width="1.5"/>
<circle cx="581.08" cy="404.60" r="6.05" fill="#344b82" stroke="#06eef6" stroke-width="1.5"/>
<circle cx="600.82" cy="404.60" r="5.85" fill="#344b82" stroke="#06eef6" stroke-width="1.5"/>
<circle cx="620.56" cy="404.60" r="5.35" fill="#344b82" stroke="#06eef6" stroke-width="1.5"/>
<circle cx="640.30" cy="404.60" r="7.05" fill="#344b82" stroke="#06eef6" stroke-width="1.5"/>
<circle cx="660.04" cy="404.60" r="7.05" fill="#344b82" stroke="#06eef6" stroke-width="1.5"/>
<circle cx="442.90" cy="424.52" r="4.95" fill="#344b82" stroke="#06eef6" stroke-width="1.5"/>
<circle cx="462.64" cy="424.52" r="5.55" fill="#344b82" stroke="#06eef6" stroke-width="1.5"/>
<circle cx="482.38" cy="424.52" r="4.35" fill="#344b82" stroke="#06eef6" stroke-width="1.5"/>
<circle cx="502.12" cy="424.52" r="5.85" fill="#344b82" stroke="#06eef6" stroke-width="1.5"/>
<circle cx="521.86" cy="424.52" r="3.35" fill="#344b82" stroke="#06eef6" stroke-width="1.5"/>
<circle cx="541.60" cy="424.52" r="4.15" fill="#344b82" stroke="#06eef6" stroke-width="1.5"/>
<circle cx="561.34" cy="424.52" r="4.55" fill="#344b82" stroke="#06eef6" stroke-width="1.5"/>
<circle cx="581.08" cy="424.52" r="5.55" fill="#344b82" stroke="#06eef6" stroke-width="1.5"/>
<circle cx="600.82" cy="424.52" r="4.95" fill="#344b82" stroke="#06eef6" stroke-width="1.5"/>
<circle cx="620.56" cy="424.52" r="4.35" fill="#344b82" stroke="#06eef6" stroke-width="1.5"/>
<circle cx="640.30" cy="424.52" r="5.85" fill="#344b82" stroke="#06eef6" stroke-width="1.5"/>
<circle cx="660.04" cy="424.52" r="5.85" fill="#344b82" stroke="#06eef6" stroke-width="1.5"/>
<circle cx="442.90" cy="444.44" r="4.50" fill="#344b82" fill-opacity="0.3"/>
<circle cx="462.64" cy="444.44" r="4.90" fill="#344b82" fill-opacity="0.3"/>
<circle cx="482.38" cy="444.44" r="5.70" fill="#344b82" fill-opacity="0.3"/>
<circle cx="502.12" cy="444.44" r="6.60" fill="#344b82" fill-opacity="0.3"/>
<circle cx="521.86" cy="444.44" r="3.10" fill="#344b82" fill-opacity="0.3"/>
<circle cx="541.60" cy="444.44" r="4.70" fill="#344b82" fill-opacity="0.3"/>
<circle cx="561.34" cy="444.44" r="2.70" fill="#344b82" fill-opacity="0.3"/>
<circle cx="581.08" cy="444.44" r="5.30" fill="#344b82" fill-opacity="0.3"/>
<circle cx="600.82" cy="444.44" r="3.70" fill="#344b82" fill-opacity="0.3"/>
<circle cx="620.56" cy="444.44" r="3.10" fill="#344b82" fill-opacity="0.3"/>
<circle cx="640.30" cy="444.44" r="4.70" fill="#344b82" fill-opacity="0.3"/>
<circle cx="660.04" cy="444.44" r="4.90" fill="#344b82" fill-opacity="0.3"/>
<circle cx="442.90" cy="464.36" r="5.10" fill="#344b82"/>
<circle cx="462.64" cy="464.36" r="5.35" fill="#344b82" stroke="#06eef6" stroke-width="1.5"/>
<circle cx="482.38" cy="464.36" r="4.90" fill="#344b82" fill-opacity="0.3"/>
<circle cx="502.12" cy="464.36" r="5.55" fill="#344b82" stroke="#06eef6" stroke-width="1.5"/>
<circle cx="521.86" cy="464.36" r="2.00" fill="#344b82" fill-opacity="0.3"/>
<circle cx="541.60" cy="464.36" r="4.30" fill="#344b82" fill-opacity="0.3"/>
<circle cx="561.34" cy="464.36" r="3.75" fill="#344b82" stroke="#06eef6" stroke-width="1.5"/>
<circle cx="581.08" cy="464.36" r="5.55" fill="#344b82" stroke="#06eef6" stroke-width="1.5"/>
<circle cx="600.82" cy="464.36" r="4.70" fill="#344b82"/>
<circle cx="620.56" cy="464.36" r="4.90" fill="#344b82"/>
<circle cx="640.30" cy="464.36" r="4.95" fill="#344b82" stroke="#06eef6" stroke-width="1.5"/>
<circle cx="660.04" cy="464.36" r="4.90" fill="#344b82" fill-opacity="0.3"/>
<circle cx="442.90" cy="484.28" r="2.70" fill="#344b82" fill-opacity="0.3"/>
<circle cx="462.64" cy="484.28" r="1.40" fill="#344b82" fill-opacity="0.3"/>
<circle cx="482.38" cy="484.28" r="4.30" fill="#344b82" fill-opacity="0.3"/>
<circle cx="502.12" cy="484.28" r="4.30" fill="#344b82" fill-opacity="0.3"/>
<circle cx="521.86" cy="484.28" r="2.50" fill="#c966cc" fill-opacity="0.3"/>
<circle cx="541.60" cy="484.28" r="4.10" fill="#344b82" fill-opacity="0.3"/>
<circle cx="561.34" cy="484.28" r="2.70" fill="#344b82" fill-opacity="0.3"/>
<circle cx="581.08" cy="484.28" r="4.50" fill="#344b82" fill-opacity="0.3"/>
<circle cx="600.82" cy="484.28" r="2.70" fill="#c966cc" fill-opacity="0.3"/>
<circle cx="620.56" cy="484.28" r="2.30" fill="#c966cc" fill-opacity="0.3"/>
<circle cx="640.30" cy="484.28" r="1.40" fill="#344b82" fill-opacity="0.3"/>
<circle cx="660.04" cy="484.28" r="3.50" fill="#344b82" fill-opacity="0.3"/>
<circle cx="442.90" cy="504.20" r="3.55" fill="#c966cc" stroke="#06eef6" stroke-width="1.5"/>
<circle cx="462.64" cy="504.20" r="4.35" fill="#c966cc" stroke="#06eef6" stroke-width="1.5"/>
<circle cx="482.38" cy="504.20" r="3.10" fill="#c966cc" fill-opacity="0.3"/>
<circle cx="502.12" cy="504.20" r="4.30" fill="#c966cc" fill-opacity="0.3"/>
<circle cx="521.86" cy="504.20" r="3.50" fill="#c966cc" fill-opacity="0.3"/>
<circle cx="541.60" cy="504.20" r="3.90" fill="#c966cc" fill-opacity="0.3"/>
<circle cx="561.34" cy="504.20" r="3.75" fill="#c966cc" stroke="#06eef6" stroke-width="1.5"/>
<circle cx="581.08" cy="504.20" r="3.95" fill="#c966cc" stroke="#06eef6" stroke-width="1.5"/>
<circle cx="600.82" cy="504.20" r="3.95" fill="#c966cc" stroke="#06eef6" stroke-width="1.5"/>
<circle cx="620.56" cy="504.20" r="4.35" fill="#c966cc" stroke="#06eef6" stroke-width="1.5"/>
<circle cx="640.30" cy="504.20" r="4.95" fill="#c966cc" stroke="#06eef6" stroke-width="1.5"/>
<circle cx="660.04" cy="504.20" r="4.95" fill="#c966cc" stroke="#06eef6" stroke-width="1.5"/>
<circle cx="442.90" cy="524.12" r="2.00" fill="#c966cc" fill-opacity="0.3"/>
<circle cx="462.64" cy="524.12" r="3.70" fill="#c966cc" fill-opacity="0.3"/>
<circle cx="482.38" cy="524.12" r="2.90" fill="#344b82" fill-opacity="0.3"/>
<circle cx="502.12" cy="524.12" r="3.30" fill="#c966cc" fill-opacity="0.3"/>
<circle cx="521.86" cy="524.12" r="3.30" fill="#c966cc"/>
<circle cx="541.60" cy="524.12" r="2.00" fill="#c966cc" fill-opacity="0.3"/>
<circle cx="561.34" cy="524.12" r="2.70" fill="#c966cc" fill-opacity="0.3"/>
<circle cx="581.08" cy="524.12" r="2.00" fill="#344b82" fill-opacity="0.3"/>
<circle cx="600.82" cy="524.12" r="2.70" fill="#c966cc" fill-opacity="0.3"/>
<circle cx="620.56" cy="524.12" r="2.70" fill="#c966cc" fill-opacity="0.3"/>
<circle cx="640.30" cy="524.12" r="2.70" fill="#c966cc" fill-opacity="0.3"/>
<circle cx="660.04" cy="524.12" r="2.70" fill="#c966cc" fill-opacity="0.3"/>
<circle cx="442.90" cy="544.04" r="4.35" fill="#c966cc" stroke="#06eef6" stroke-width="1.5"/>
<circle cx="462.64" cy="544.04" r="4.55" fill="#c966cc" stroke="#06eef6" stroke-width="1.5"/>
<circle cx="482.38" cy="544.04" r="4.75" fill="#c966cc" stroke="#06eef6" stroke-width="1.5"/>
<circle cx="502.12" cy="544.04" r="5.55" fill="#c966cc" stroke="#06eef6" stroke-width="1.5"/>
<circle cx="521.86" cy="544.04" r="3.15" fill="#c966cc" stroke="#06eef6" stroke-width="1.5"/>
<circle cx="541.60" cy="544.04" r="4.35" fill="#c966cc" stroke="#06eef6" stroke-width="1.5"/>
<circle cx="561.34" cy="544.04" r="4.55" fill="#c966cc" stroke="#06eef6" stroke-width="1.5"/>
<circle cx="581.08" cy="544.04" r="5.35" fill="#c966cc" stroke="#06eef6" stroke-width="1.5"/>
<circle cx="600.82" cy="544.04" r="4.55" fill="#c966cc" stroke="#06eef6" stroke-width="1.5"/>
<circle cx="620.56" cy="544.04" r="4.35" fill="#c966cc" stroke="#06eef6" stroke-width="1.5"/>
<circle cx="640.30" cy="544.04" r="4.95" fill="#c966cc" stroke="#06eef6" stroke-width="1.5"/>
<circle cx="660.04" cy="544.04" r="5.15" fill="#c966cc" stroke="#06eef6" stroke-width="1.5"/>
<circle cx="442.90" cy="563.96" r="6.45" fill="#c966cc" stroke="#06eef6" stroke-width="1.5"/>
<circle cx="462.64" cy="563.96" r="4.95" fill="#c966cc" stroke="#06eef6" stroke-width="1.5"/>
<circle cx="482.38" cy="563.96" r="6.65" fill="#c966cc" stroke="#06eef6" stroke-width="1.5"/>
<circle cx="502.12" cy="563.96" r="6.05" fill="#c966cc" stroke="#06eef6" stroke-width="1.5"/>
<circle cx="521.86" cy="563.96" r="3.35" fill="#c966cc" stroke="#06eef6" stroke-width="1.5"/>
<circle cx="541.60" cy="563.96" r="4.95" fill="#c966cc" stroke="#06eef6" stroke-width="1.5"/>
<circle cx="561.34" cy="563.96" r="5.55" fill="#c966cc" stroke="#06eef6" stroke-width="1.5"/>
<circle cx="581.08" cy="563.96" r="7.05" fill="#c966cc" stroke="#06eef6" stroke-width="1.5"/>
<circle cx="600.82" cy="563.96" r="5.15" fill="#c966cc" stroke="#06eef6" stroke-width="1.5"/>
<circle cx="620.56" cy="563.96" r="4.95" fill="#c966cc" stroke="#06eef6" stroke-width="1.5"/>
<circle cx="640.30" cy="563.96" r="6.25" fill="#c966cc" stroke="#06eef6" stroke-width="1.5"/>
<circle cx="660.04" cy="563.96" r="6.45" fill="#c966cc" stroke="#06eef6" stroke-width="1.5"/>
<line x1="432.90" y1="404.60" x2="669.80" y2="404.60" stroke="#a8a8a8" stroke-width="0.75" stroke-opacity="0.15"/>
<line x1="432.90" y1="424.52" x2="669.80" y2="424.52" stroke="#a8a8a8" stroke-width="0.75" stroke-opacity="0.15"/>
<line x1="432.90" y1="444.44" x2="669.80" y2="444.44" stroke="#a8a8a8" stroke-width="0.75" stroke-opacity="0.15"/>
<line x1="432.90" y1="464.36" x2="669.80" y2="464.36" stroke="#a8a8a8" stroke-width="0.75" stroke-opacity="0.15"/>
<line x1="432.90" y1="484.28" x2="669.80" y2="484.28" stroke="#a8a8a8" stroke-width="0.75" stroke-opacity="0.15"/>
<line x1="432.90" y1="504.20" x2="669.80" y2="504.20" stroke="#a8a8a8" stroke-width="0.75" stroke-opacity="0.15"/>
<line x1="432.90" y1="524.12" x2="669.80" y2="524.12" stroke="#a8a8a8" stroke-width="0.75" stroke-opacity="0.15"/>
<line x1="432.90" y1="544.04" x2="669.80" y2="544.04" stroke="#a8a8a8" stroke-width="0.75" stroke-opacity="0.15"/>
<line x1="432.90" y1="563.96" x2="669.80" y2="563.96" stroke="#a8a8a8" stroke-width="0.75" stroke-opacity="0.15"/>
<line x1="442.90" y1="394.60" x2="442.90" y2="574.80" stroke="#a8a8a8" stroke-width="0.75" stroke-opacity="0.15"/>
<line x1="462.64" y1="394.60" x2="462.64" y2="574.80" stroke="#a8a8a8" stroke-width="0.75" stroke-opacity="0.15"/>
<line x1="482.38" y1="394.60" x2="482.38" y2="574.80" stroke="#a8a8a8" stroke-width="0.75" stroke-opacity="0.15"/>
<line x1="502.12" y1="394.60" x2="502.12" y2="574.80" stroke="#a8a8a8" stroke-width="0.75" stroke-opacity="0.15"/>
<line x1="521.86" y1="394.60" x2="521.86" y2="574.80" stroke="#a8a8a8" stroke-width="0.75" stroke-opacity="0.15"/>
<line x1="541.60" y1="394.60" x2="541.60" y2="574.80" stroke="#a8a8a8" stroke-width="0.75" stroke-opacity="0.15"/>
<line x1="561.34" y1="394.60" x2="561.34" y2="574.80" stroke="#a8a8a8" stroke-width="0.75" stroke-opacity="0.15"/>
<line x1="581.08" y1="394.60" x2="581.08" y2="574.80" stroke="#a8a8a8" stroke-width="0.75" stroke-opacity="0.15"/>
<line x1="600.82" y1="394.60" x2="600.82" y2="574.80" stroke="#a8a8a8" stroke-width="0.75" stroke-opacity="0.15"/>
<line x1="620.56" y1="394.60" x2="620.56" y2="574.80" stroke="#a8a8a8" stroke-width="0.75" stroke-opacity="0.15"/>
<line x1="640.30" y1="394.60" x2="640.30" y2="574.80" stroke="#a8a8a8" stroke-width="0.75" stroke-opacity="0.15"/>
<line x1="660.04" y1="394.60" x2="660.04" y2="574.80" stroke="#a8a8a8" stroke-width="0.75" stroke-opacity="0.15"/>
<line x1="502.12" y1="394.60" x2="502.12" y2="574.80" stroke="#888" stroke-width="0.75" stroke-opacity="0.5"/>
<line x1="640.30" y1="394.60" x2="640.30" y2="574.80" stroke="#888" stroke-width="0.75" stroke-opacity="0.5"/>
<line x1="430.60" y1="404.60" x2="432.90" y2="404.60" stroke="#555555" stroke-width="1"/>
<text x="428.60" y="409.20" font-size="11" text-anchor="end" fill="#1a1a1a" stroke="#1a1a1a" letter-spacing="0.3">4.1</text>
<line x1="430.60" y1="424.52" x2="432.90" y2="424.52" stroke="#555555" stroke-width="1"/>
<text x="428.60" y="429.12" font-size="11" text-anchor="end" fill="#1a1a1a" stroke="#1a1a1a" letter-spacing="0.3">4.2</text>
<line x1="430.60" y1="444.44" x2="432.90" y2="444.44" stroke="#555555" stroke-width="1"/>
<text x="428.60" y="449.04" font-size="11" text-anchor="end" fill="#1a1a1a" stroke="#1a1a1a" letter-spacing="0.3">4.3</text>
<line x1="430.60" y1="464.36" x2="432.90" y2="464.36" stroke="#555555" stroke-width="1"/>
<text x="428.60" y="468.96" font-size="11" text-anchor="end" fill="#1a1a1a" stroke="#1a1a1a" letter-spacing="0.3">17.1</text>
<line x1="430.60" y1="484.28" x2="432.90" y2="484.28" stroke="#555555" stroke-width="1"/>
<text x="428.60" y="488.88" font-size="11" text-anchor="end" fill="#1a1a1a" stroke="#1a1a1a" letter-spacing="0.3">17.2</text>
<line x1="430.60" y1="504.20" x2="432.90" y2="504.20" stroke="#555555" stroke-width="1"/>
<text x="428.60" y="508.80" font-size="11" text-anchor="end" fill="#1a1a1a" stroke="#1a1a1a" letter-spacing="0.3">17.3</text>
<line x1="430.60" y1="524.12" x2="432.90" y2="524.12" stroke="#555555" stroke-width="1"/>
<text x="428.60" y="528.72" font-size="11" text-anchor="end" fill="#1a1a1a" stroke="#1a1a1a" letter-spacing="0.3">30.1</text>
<line x1="430.60" y1="544.04" x2="432.90" y2="544.04" stroke="#555555" stroke-width="1"/>
<text x="428.60" y="548.64" font-size="11" text-anchor="end" fill="#1a1a1a" stroke="#1a1a1a" letter-spacing="0.3">30.2</text>
<line x1="430.60" y1="563.96" x2="432.90" y2="563.96" stroke="#555555" stroke-width="1"/>
<text x="428.60" y="568.56" font-size="11" text-anchor="end" fill="#1a1a1a" stroke="#1a1a1a" letter-spacing="0.3">30.3</text>
<line x1="432.90" y1="394.60" x2="432.90" y2="574.80" stroke="#777" stroke-width="1.0"/>
<line x1="669.80" y1="394.60" x2="669.80" y2="574.80" stroke="#555" stroke-width="1.0"/>
<line x1="432.90" y1="584.60" x2="669.80" y2="584.60" stroke="#dcdcdc" stroke-width="0.75"/>
<line x1="432.90" y1="604.53" x2="669.80" y2="604.53" stroke="#dcdcdc" stroke-width="0.75"/>
<line x1="432.90" y1="624.46" x2="669.80" y2="624.46" stroke="#dcdcdc" stroke-width="0.75"/>
<line x1="432.90" y1="644.39" x2="669.80" y2="644.39" stroke="#dcdcdc" stroke-width="0.75"/>
<line x1="432.90" y1="664.32" x2="669.80" y2="664.32" stroke="#dcdcdc" stroke-width="0.75"/>
<line x1="432.90" y1="684.25" x2="669.80" y2="684.25" stroke="#dcdcdc" stroke-width="0.75"/>
<line x1="432.90" y1="704.18" x2="669.80" y2="704.18" stroke="#dcdcdc" stroke-width="0.75"/>
<line x1="432.90" y1="724.11" x2="669.80" y2="724.11" stroke="#dcdcdc" stroke-width="0.75"/>
<line x1="432.90" y1="744.04" x2="669.80" y2="744.04" stroke="#dcdcdc" stroke-width="0.75"/>
<line x1="442.90" y1="574.80" x2="442.90" y2="753.90" stroke="#dcdcdc" stroke-width="0.75"/>
<line x1="462.64" y1="574.80" x2="462.64" y2="753.90" stroke="#dcdcdc" stroke-width="0.75"/>
<line x1="482.38" y1="574.80" x2="482.38" y2="753.90" stroke="#dcdcdc" stroke-width="0.75"/>
<line x1="502.12" y1="574.80" x2="502.12" y2="753.90" stroke="#dcdcdc" stroke-width="0.75"/>
<line x1="521.86" y1="574.80" x2="521.86" y2="753.90" stroke="#dcdcdc" stroke-width="0.75"/>
<line x1="541.60" y1="574.80" x2="541.60" y2="753.90" stroke="#dcdcdc" stroke-width="0.75"/>
<line x1="561.34" y1="574.80" x2="561.34" y2="753.90" stroke="#dcdcdc" stroke-width="0.75"/>
<line x1="581.08" y1="574.80" x2="581.08" y2="753.90" stroke="#dcdcdc" stroke-width="0.75"/>
<line x1="600.82" y1="574.80" x2="600.82" y2="753.90" stroke="#dcdcdc" stroke-width="0.75"/>
<line x1="620.56" y1="574.80" x2="620.56" y2="753.90" stroke="#dcdcdc" stroke-width="0.75"/>
<line x1="640.30" y1="574.80" x2="640.30" y2="753.90" stroke="#dcdcdc" stroke-width="0.75"/>
<line x1="660.04" y1="574.80" x2="660.04" y2="753.90" stroke="#dcdcdc" stroke-width="0.75"/>
<circle cx="442.90" cy="584.60" r="3.95" fill="#c966cc" stroke="#06eef6" stroke-width="1.5"/>
<circle cx="462.64" cy="584.60" r="3.35" fill="#c966cc" stroke="#06eef6" stroke-width="1.5"/>
<circle cx="502.12" cy="584.60" r="4.35" fill="#c966cc" stroke="#06eef6" stroke-width="1.5"/>
<circle cx="561.34" cy="584.60" r="2.75" fill="#c966cc" stroke="#06eef6" stroke-width="1.5"/>
<circle cx="581.08" cy="584.60" r="3.75" fill="#c966cc" stroke="#06eef6" stroke-width="1.5"/>
<circle cx="600.82" cy="584.60" r="2.55" fill="#c966cc" stroke="#06eef6" stroke-width="1.5"/>
<circle cx="620.56" cy="584.60" r="3.35" fill="#c966cc" stroke="#06eef6" stroke-width="1.5"/>
<circle cx="660.04" cy="584.60" r="4.55" fill="#c966cc" stroke="#06eef6" stroke-width="1.5"/>
<circle cx="442.90" cy="604.53" r="3.95" fill="#c966cc" stroke="#06eef6" stroke-width="1.5"/>
<circle cx="462.64" cy="604.53" r="3.15" fill="#c966cc" stroke="#06eef6" stroke-width="1.5"/>
<circle cx="502.12" cy="604.53" r="3.95" fill="#c966cc" stroke="#06eef6" stroke-width="1.5"/>
<circle cx="561.34" cy="604.53" r="2.70" fill="#c966cc" fill-opacity="0.3"/>
<circle cx="581.08" cy="604.53" r="4.35" fill="#c966cc" stroke="#06eef6" stroke-width="1.5"/>
<circle cx="600.82" cy="604.53" r="2.55" fill="#c966cc" stroke="#06eef6" stroke-width="1.5"/>
<circle cx="620.56" cy="604.53" r="3.75" fill="#c966cc" stroke="#06eef6" stroke-width="1.5"/>
<circle cx="660.04" cy="604.53" r="3.95" fill="#c966cc" stroke="#06eef6" stroke-width="1.5"/>
<circle cx="442.90" cy="624.46" r="3.50" fill="#c966cc" fill-opacity="0.3"/>
<circle cx="462.64" cy="624.46" r="1.80" fill="#344b82" fill-opacity="0.3"/>
<circle cx="502.12" cy="624.46" r="3.95" fill="#c966cc" stroke="#06eef6" stroke-width="1.5"/>
<circle cx="561.34" cy="624.46" r="2.95" fill="#c966cc" stroke="#06eef6" stroke-width="1.5"/>
<circle cx="581.08" cy="624.46" r="1.40" fill="#c966cc" fill-opacity="0.3"/>
<circle cx="600.82" cy="624.46" r="2.90" fill="#c966cc" fill-opacity="0.3"/>
<circle cx="620.56" cy="624.46" r="3.90" fill="#c966cc" fill-opacity="0.3"/>
<circle cx="660.04" cy="624.46" r="3.90" fill="#344b82" fill-opacity="0.3"/>
<circle cx="442.90" cy="644.39" r="2.00" fill="#c966cc" fill-opacity="0.3"/>
<circle cx="462.64" cy="644.39" r="3.10" fill="#c966cc"/>
<circle cx="502.12" cy="644.39" r="2.00" fill="#c966cc" fill-opacity="0.3"/>
<circle cx="561.34" cy="644.39" r="2.95" fill="#c966cc" stroke="#06eef6" stroke-width="1.5"/>
<circle cx="581.08" cy="644.39" r="2.00" fill="#c966cc" fill-opacity="0.3"/>
<circle cx="600.82" cy="644.39" r="2.55" fill="#c966cc" stroke="#06eef6" stroke-width="1.5"/>
<circle cx="620.56" cy="644.39" r="3.30" fill="#c966cc" fill-opacity="0.3"/>
<circle cx="660.04" cy="644.39" r="2.00" fill="#c966cc" fill-opacity="0.3"/>
<circle cx="442.90" cy="664.32" r="4.70" fill="#344b82" fill-opacity="0.3"/>
<circle cx="462.64" cy="664.32" r="3.70" fill="#344b82" fill-opacity="0.3"/>
<circle cx="502.12" cy="664.32" r="7.20" fill="#344b82"/>
<circle cx="561.34" cy="664.32" r="1.60" fill="#c966cc" fill-opacity="0.3"/>
<circle cx="581.08" cy="664.32" r="3.70" fill="#344b82" fill-opacity="0.3"/>
<circle cx="600.82" cy="664.32" r="1.80" fill="#c966cc" fill-opacity="0.3"/>
<circle cx="620.56" cy="664.32" r="3.10" fill="#344b82" fill-opacity="0.3"/>
<circle cx="660.04" cy="664.32" r="5.30" fill="#344b82" fill-opacity="0.3"/>
<circle cx="442.90" cy="684.25" r="5.55" fill="#344b82" stroke="#06eef6" stroke-width="1.5"/>
<circle cx="462.64" cy="684.25" r="4.55" fill="#344b82" stroke="#06eef6" stroke-width="1.5"/>
<circle cx="502.12" cy="684.25" r="7.65" fill="#344b82" stroke="#06eef6" stroke-width="1.5"/>
<circle cx="561.34" cy="684.25" r="3.75" fill="#344b82" stroke="#06eef6" stroke-width="1.5"/>
<circle cx="581.08" cy="684.25" r="5.70" fill="#344b82"/>
<circle cx="600.82" cy="684.25" r="3.75" fill="#344b82" stroke="#06eef6" stroke-width="1.5"/>
<circle cx="620.56" cy="684.25" r="3.95" fill="#344b82" stroke="#06eef6" stroke-width="1.5"/>
<circle cx="660.04" cy="684.25" r="5.35" fill="#344b82" stroke="#06eef6" stroke-width="1.5"/>
<circle cx="442.90" cy="704.18" r="4.90" fill="#344b82" fill-opacity="0.3"/>
<circle cx="462.64" cy="704.18" r="3.10" fill="#344b82" fill-opacity="0.3"/>
<circle cx="502.12" cy="704.18" r="5.70" fill="#344b82" fill-opacity="0.3"/>
<circle cx="561.34" cy="704.18" r="2.00" fill="#344b82" fill-opacity="0.3"/>
<circle cx="581.08" cy="704.18" r="4.50" fill="#344b82" fill-opacity="0.3"/>
<circle cx="600.82" cy="704.18" r="2.50" fill="#344b82" fill-opacity="0.3"/>
<circle cx="620.56" cy="704.18" r="3.50" fill="#344b82" fill-opacity="0.3"/>
<circle cx="660.04" cy="704.18" r="3.30" fill="#344b82" fill-opacity="0.3"/>
<circle cx="442.90" cy="724.11" r="5.55" fill="#344b82" stroke="#06eef6" stroke-width="1.5"/>
<circle cx="462.64" cy="724.11" r="4.55" fill="#344b82" stroke="#06eef6" stroke-width="1.5"/>
<circle cx="502.12" cy="724.11" r="7.05" fill="#344b82" stroke="#06eef6" stroke-width="1.5"/>
<circle cx="561.34" cy="724.11" r="3.95" fill="#344b82" stroke="#06eef6" stroke-width="1.5"/>
<circle cx="581.08" cy="724.11" r="5.75" fill="#344b82" stroke="#06eef6" stroke-width="1.5"/>
<circle cx="600.82" cy="724.11" r="3.35" fill="#344b82" stroke="#06eef6" stroke-width="1.5"/>
<circle cx="620.56" cy="724.11" r="5.55" fill="#344b82" stroke="#06eef6" stroke-width="1.5"/>
<circle cx="660.04" cy="724.11" r="5.75" fill="#344b82" stroke="#06eef6" stroke-width="1.5"/>
<circle cx="442.90" cy="744.04" r="5.95" fill="#344b82" stroke="#06eef6" stroke-width="1.5"/>
<circle cx="462.64" cy="744.04" r="5.55" fill="#344b82" stroke="#06eef6" stroke-width="1.5"/>
<circle cx="502.12" cy="744.04" r="7.05" fill="#344b82" stroke="#06eef6" stroke-width="1.5"/>
<circle cx="561.34" cy="744.04" r="5.55" fill="#344b82" stroke="#06eef6" stroke-width="1.5"/>
<circle cx="581.08" cy="744.04" r="5.95" fill="#344b82" stroke="#06eef6" stroke-width="1.5"/>
<circle cx="600.82" cy="744.04" r="4.75" fill="#344b82" stroke="#06eef6" stroke-width="1.5"/>
<circle cx="620.56" cy="744.04" r="6.45" fill="#344b82" stroke="#06eef6" stroke-width="1.5"/>
<circle cx="660.04" cy="744.04" r="5.95" fill="#344b82" stroke="#06eef6" stroke-width="1.5"/>
<line x1="432.90" y1="584.60" x2="669.80" y2="584.60" stroke="#a8a8a8" stroke-width="0.75" stroke-opacity="0.15"/>
<line x1="432.90" y1="604.53" x2="669.80" y2="604.53" stroke="#a8a8a8" stroke-width="0.75" stroke-opacity="0.15"/>
<line x1="432.90" y1="624.46" x2="669.80" y2="624.46" stroke="#a8a8a8" stroke-width="0.75" stroke-opacity="0.15"/>
<line x1="432.90" y1="644.39" x2="669.80" y2="644.39" stroke="#a8a8a8" stroke-width="0.75" stroke-opacity="0.15"/>
<line x1="432.90" y1="664.32" x2="669.80" y2="664.32" stroke="#a8a8a8" stroke-width="0.75" stroke-opacity="0.15"/>
<line x1="432.90" y1="684.25" x2="669.80" y2="684.25" stroke="#a8a8a8" stroke-width="0.75" stroke-opacity="0.15"/>
<line x1="432.90" y1="704.18" x2="669.80" y2="704.18" stroke="#a8a8a8" stroke-width="0.75" stroke-opacity="0.15"/>
<line x1="432.90" y1="724.11" x2="669.80" y2="724.11" stroke="#a8a8a8" stroke-width="0.75" stroke-opacity="0.15"/>
<line x1="432.90" y1="744.04" x2="669.80" y2="744.04" stroke="#a8a8a8" stroke-width="0.75" stroke-opacity="0.15"/>
<line x1="442.90" y1="574.80" x2="442.90" y2="753.90" stroke="#a8a8a8" stroke-width="0.75" stroke-opacity="0.15"/>
<line x1="462.64" y1="574.80" x2="462.64" y2="753.90" stroke="#a8a8a8" stroke-width="0.75" stroke-opacity="0.15"/>
<line x1="482.38" y1="574.80" x2="482.38" y2="753.90" stroke="#a8a8a8" stroke-width="0.75" stroke-opacity="0.15"/>
<line x1="502.12" y1="574.80" x2="502.12" y2="753.90" stroke="#a8a8a8" stroke-width="0.75" stroke-opacity="0.15"/>
<line x1="521.86" y1="574.80" x2="521.86" y2="753.90" stroke="#a8a8a8" stroke-width="0.75" stroke-opacity="0.15"/>
<line x1="541.60" y1="574.80" x2="541.60" y2="753.90" stroke="#a8a8a8" stroke-width="0.75" stroke-opacity="0.15"/>
<line x1="561.34" y1="574.80" x2="561.34" y2="753.90" stroke="#a8a8a8" stroke-width="0.75" stroke-opacity="0.15"/>
<line x1="581.08" y1="574.80" x2="581.08" y2="753.90" stroke="#a8a8a8" stroke-width="0.75" stroke-opacity="0.15"/>
<line x1="600.82" y1="574.80" x2="600.82" y2="753.90" stroke="#a8a8a8" stroke-width="0.75" stroke-opacity="0.15"/>
<line x1="620.56" y1="574.80" x2="620.56" y2="753.90" stroke="#a8a8a8" stroke-width="0.75" stroke-opacity="0.15"/>
<line x1="640.30" y1="574.80" x2="640.30" y2="753.90" stroke="#a8a8a8" stroke-width="0.75" stroke-opacity="0.15"/>
<line x1="660.04" y1="574.80" x2="660.04" y2="753.90" stroke="#a8a8a8" stroke-width="0.75" stroke-opacity="0.15"/>
<line x1="432.90" y1="684.25" x2="669.80" y2="684.25" stroke="#888" stroke-width="0.75" stroke-opacity="0.5"/>
<line x1="432.90" y1="704.18" x2="669.80" y2="704.18" stroke="#888" stroke-width="0.75" stroke-opacity="0.5"/>
<line x1="432.90" y1="744.04" x2="669.80" y2="744.04" stroke="#888" stroke-width="0.75" stroke-opacity="0.5"/>
<line x1="581.08" y1="574.80" x2="581.08" y2="753.90" stroke="#888" stroke-width="0.75" stroke-opacity="0.5"/>
<line x1="430.60" y1="584.60" x2="432.90" y2="584.60" stroke="#555555" stroke-width="1"/>
<text x="428.60" y="589.20" font-size="11" text-anchor="end" fill="#1a1a1a" stroke="#1a1a1a" letter-spacing="0.3">4.1</text>
<line x1="430.60" y1="604.53" x2="432.90" y2="604.53" stroke="#555555" stroke-width="1"/>
<text x="428.60" y="609.13" font-size="11" text-anchor="end" fill="#1a1a1a" stroke="#1a1a1a" letter-spacing="0.3">4.2</text>
<line x1="430.60" y1="624.46" x2="432.90" y2="624.46" stroke="#555555" stroke-width="1"/>
<text x="428.60" y="629.06" font-size="11" text-anchor="end" fill="#1a1a1a" stroke="#1a1a1a" letter-spacing="0.3">4.3</text>
<line x1="430.60" y1="644.39" x2="432.90" y2="644.39" stroke="#555555" stroke-width="1"/>
<text x="428.60" y="648.99" font-size="11" text-anchor="end" fill="#1a1a1a" stroke="#1a1a1a" letter-spacing="0.3">17.1</text>
<line x1="430.60" y1="664.32" x2="432.90" y2="664.32" stroke="#555555" stroke-width="1"/>
<text x="428.60" y="668.92" font-size="11" text-anchor="end" fill="#1a1a1a" stroke="#1a1a1a" letter-spacing="0.3">17.2</text>
<line x1="430.60" y1="684.25" x2="432.90" y2="684.25" stroke="#555555" stroke-width="1"/>
<text x="428.60" y="688.85" font-size="11" text-anchor="end" fill="#1a1a1a" stroke="#1a1a1a" letter-spacing="0.3">17.3</text>
<line x1="430.60" y1="704.18" x2="432.90" y2="704.18" stroke="#555555" stroke-width="1"/>
<text x="428.60" y="708.78" font-size="11" text-anchor="end" fill="#1a1a1a" stroke="#1a1a1a" letter-spacing="0.3">30.1</text>
<line x1="430.60" y1="724.11" x2="432.90" y2="724.11" stroke="#555555" stroke-width="1"/>
<text x="428.60" y="728.71" font-size="11" text-anchor="end" fill="#1a1a1a" stroke="#1a1a1a" letter-spacing="0.3">30.2</text>
<line x1="430.60" y1="744.04" x2="432.90" y2="744.04" stroke="#555555" stroke-width="1"/>
<text x="428.60" y="748.64" font-size="11" text-anchor="end" fill="#1a1a1a" stroke="#1a1a1a" letter-spacing="0.3">30.3</text>
<line x1="432.90" y1="574.80" x2="432.90" y2="753.90" stroke="#777" stroke-width="1.0"/>
<line x1="669.80" y1="574.80" x2="669.80" y2="753.90" stroke="#555" stroke-width="1.0"/>
<line x1="432.90" y1="214.40" x2="669.80" y2="214.40" stroke="#555555" stroke-width="1.1"/>
<line x1="432.90" y1="753.90" x2="669.80" y2="753.90" stroke="#555555" stroke-width="1.1"/>
<line x1="431.50" y1="394.60" x2="671.00" y2="394.60" stroke="#000" stroke-width="2.6"/>
<line x1="431.50" y1="574.80" x2="671.00" y2="574.80" stroke="#000" stroke-width="2.6"/>
<line x1="442.90" y1="753.90" x2="442.90" y2="756.20" stroke="#555555" stroke-width="1"/>
<line x1="462.64" y1="753.90" x2="462.64" y2="756.20" stroke="#555555" stroke-width="1"/>
<line x1="482.38" y1="753.90" x2="482.38" y2="756.20" stroke="#555555" stroke-width="1"/>
<line x1="502.12" y1="753.90" x2="502.12" y2="756.20" stroke="#555555" stroke-width="1"/>
<line x1="521.86" y1="753.90" x2="521.86" y2="756.20" stroke="#555555" stroke-width="1"/>
<line x1="541.60" y1="753.90" x2="541.60" y2="756.20" stroke="#555555" stroke-width="1"/>
<line x1="561.34" y1="753.90" x2="561.34" y2="756.20" stroke="#555555" stroke-width="1"/>
<line x1="581.08" y1="753.90" x2="581.08" y2="756.20" stroke="#555555" stroke-width="1"/>
<line x1="600.82" y1="753.90" x2="600.82" y2="756.20" stroke="#555555" stroke-width="1"/>
<line x1="620.56" y1="753.90" x2="620.56" y2="756.20" stroke="#555555" stroke-width="1"/>
<line x1="640.30" y1="753.90" x2="640.30" y2="756.20" stroke="#555555" stroke-width="1"/>
<line x1="660.04" y1="753.90" x2="660.04" y2="756.20" stroke="#555555" stroke-width="1"/>
<rect x="433.60" y="758.40" width="18.40" height="6.40" fill="#1f77b4"/>
<rect x="453.34" y="758.40" width="18.40" height="6.40" fill="#aec7e8"/>
<rect x="473.08" y="758.40" width="18.40" height="6.40" fill="#ffbb78"/>
<rect x="492.82" y="758.40" width="18.40" height="6.40" fill="#98df8a"/>
<rect x="512.56" y="758.40" width="18.40" height="6.40" fill="#ff9896"/>
<rect x="532.30" y="758.40" width="18.40" height="6.40" fill="#c5b0d5"/>
<rect x="552.04" y="758.40" width="18.40" height="6.40" fill="#8c564b"/>
<rect x="571.78" y="758.40" width="18.40" height="6.40" fill="#e377c2"/>
<rect x="591.52" y="758.40" width="18.40" height="6.40" fill="#7f7f7f"/>
<rect x="611.26" y="758.40" width="18.40" height="6.40" fill="#bcbd22"/>
<rect x="631.00" y="758.40" width="18.40" height="6.40" fill="#17becf"/>
<rect x="650.74" y="758.40" width="18.40" height="6.40" fill="#9edae5"/>
<rect x="78.5" y="803.3" width="66.1" height="50.9" rx="2" fill="#fff" stroke="#cccccc" stroke-width="1"/>
<rect x="82.80" y="812.95" width="24.30" height="6.10" fill="#9fc6fa"/>
<text x="111.10" y="819.90" font-size="11" fill="#1a1a1a" stroke="#1a1a1a" letter-spacing="0.6">4°C</text>
<rect x="82.80" y="826.45" width="24.30" height="6.10" fill="#fdbb63"/>
<text x="111.10" y="833.40" font-size="11" fill="#1a1a1a" stroke="#1a1a1a" letter-spacing="0.6">17°C</text>
<rect x="82.80" y="840.05" width="24.30" height="6.10" fill="#741a74"/>
<text x="111.10" y="847.00" font-size="11" fill="#1a1a1a" stroke="#1a1a1a" letter-spacing="0.6">30°C</text>
<rect x="170.5" y="788.4" width="299.0" height="86.5" rx="2" fill="#fff" stroke="#cccccc" stroke-width="1"/>
<rect x="174.00" y="792.70" width="18.70" height="6.40" fill="#1f77b4"/>
<text x="200.90" y="799.80" font-size="11" fill="#1a1a1a" stroke="#1a1a1a" letter-spacing="0.55">Amino acids</text>
<rect x="174.00" y="806.25" width="18.70" height="6.40" fill="#aec7e8"/>
<text x="200.90" y="813.35" font-size="11" fill="#1a1a1a" stroke="#1a1a1a" letter-spacing="0.55">Carbohydrates</text>
<rect x="174.00" y="819.80" width="18.70" height="6.40" fill="#ffbb78"/>
<text x="200.90" y="826.90" font-size="11" fill="#1a1a1a" stroke="#1a1a1a" letter-spacing="0.55">Fatty acyls</text>
<rect x="174.00" y="833.35" width="18.70" height="6.40" fill="#98df8a"/>
<text x="200.90" y="840.45" font-size="11" fill="#1a1a1a" stroke="#1a1a1a" letter-spacing="0.55">Glycerolipids</text>
<rect x="174.00" y="846.90" width="18.70" height="6.40" fill="#ff9896"/>
<text x="200.90" y="854.00" font-size="11" fill="#1a1a1a" stroke="#1a1a1a" letter-spacing="0.55">Glycerophospholipids</text>
<rect x="174.00" y="860.45" width="18.70" height="6.40" fill="#c5b0d5"/>
<text x="200.90" y="867.55" font-size="11" fill="#1a1a1a" stroke="#1a1a1a" letter-spacing="0.55">Nucleotides</text>
<rect x="325.50" y="792.70" width="18.70" height="6.40" fill="#8c564b"/>
<text x="351.80" y="799.80" font-size="11" fill="#1a1a1a" stroke="#1a1a1a" letter-spacing="0.55">Organic acids</text>
<rect x="325.50" y="806.25" width="18.70" height="6.40" fill="#e377c2"/>
<text x="351.80" y="813.35" font-size="11" fill="#1a1a1a" stroke="#1a1a1a" letter-spacing="0.55">Organoheterocycles</text>
<rect x="325.50" y="819.80" width="18.70" height="6.40" fill="#7f7f7f"/>
<text x="351.80" y="826.90" font-size="11" fill="#1a1a1a" stroke="#1a1a1a" letter-spacing="0.55">Other organics</text>
<rect x="325.50" y="833.35" width="18.70" height="6.40" fill="#bcbd22"/>
<text x="351.80" y="840.45" font-size="11" fill="#1a1a1a" stroke="#1a1a1a" letter-spacing="0.55">Phenolic compounds</text>
<rect x="325.50" y="846.90" width="18.70" height="6.40" fill="#17becf"/>
<text x="351.80" y="854.00" font-size="11" fill="#1a1a1a" stroke="#1a1a1a" letter-spacing="0.55">Prenol lipids</text>
<rect x="325.50" y="860.45" width="18.70" height="6.40" fill="#9edae5"/>
<text x="351.80" y="867.55" font-size="11" fill="#1a1a1a" stroke="#1a1a1a" letter-spacing="0.55">Steroids</text>
<rect x="484.8" y="780.7" width="146.5" height="97.2" rx="2" fill="#fff" stroke="#cccccc" stroke-width="1"/>
<circle cx="498.00" cy="787.60" r="1.90" fill="#000"/>
<circle cx="498.00" cy="801.23" r="6.90" fill="#000"/>
<circle cx="498.00" cy="814.86" r="5.50" fill="#aaaaaa"/>
<circle cx="498.00" cy="828.49" r="5.50" fill="#000"/>
<circle cx="498.00" cy="842.12" r="4.90" fill="#000" stroke="#06eef6" stroke-width="1.7"/>
<circle cx="498.00" cy="855.75" r="5.50" fill="#c966cc"/>
<circle cx="498.00" cy="869.38" r="5.50" fill="#3c5a8e"/>
<text x="514.90" y="791.50" font-size="11" fill="#1a1a1a" stroke="#1a1a1a" letter-spacing="0.55">Small effect size</text>
<text x="514.90" y="805.13" font-size="11" fill="#1a1a1a" stroke="#1a1a1a" letter-spacing="0.55">Large effect size</text>
<text x="514.90" y="818.76" font-size="11" fill="#1a1a1a" stroke="#1a1a1a" letter-spacing="0.55">p &gt; 0.05</text>
<text x="514.90" y="832.39" font-size="11" fill="#1a1a1a" stroke="#1a1a1a" letter-spacing="0.55">p &lt; 0.05</text>
<text x="514.90" y="846.02" font-size="11" fill="#1a1a1a" stroke="#1a1a1a" letter-spacing="0.55">p-FDR &lt; 0.05</text>
<text x="514.90" y="859.65" font-size="11" fill="#1a1a1a" stroke="#1a1a1a" letter-spacing="0.55">Positive enrichment</text>
<text x="514.90" y="873.28" font-size="11" fill="#1a1a1a" stroke="#1a1a1a" letter-spacing="0.55">Negative enrichment</text>
<clipPath id="pa1"><rect x="44.4" y="18.8" width="162.1" height="159.8"/></clipPath>
<g clip-path="url(#pa1)">
<circle cx="142.40" cy="47.60" r="8.00" fill="#9cc5f8" fill-opacity="0.5"/>
<circle cx="150.50" cy="44.50" r="7.00" fill="#9cc5f8" fill-opacity="0.5"/>
<circle cx="152.60" cy="52.70" r="7.00" fill="#9cc5f8" fill-opacity="0.5"/>
<circle cx="141.30" cy="55.80" r="6.00" fill="#9cc5f8" fill-opacity="0.5"/>
<circle cx="161.80" cy="48.60" r="5.00" fill="#9cc5f8" fill-opacity="0.5"/>
<circle cx="165.90" cy="50.70" r="5.00" fill="#9cc5f8" fill-opacity="0.5"/>
<circle cx="174.00" cy="50.70" r="5.00" fill="#9cc5f8" fill-opacity="0.5"/>
<circle cx="176.10" cy="54.70" r="4.00" fill="#9cc5f8" fill-opacity="0.5"/>
<circle cx="161.80" cy="60.90" r="5.00" fill="#9cc5f8" fill-opacity="0.5"/>
<circle cx="153.60" cy="62.90" r="5.00" fill="#9cc5f8" fill-opacity="0.5"/>
<circle cx="173.00" cy="62.90" r="4.00" fill="#9cc5f8" fill-opacity="0.5"/>
<circle cx="172.00" cy="70.10" r="4.00" fill="#9cc5f8" fill-opacity="0.5"/>
<circle cx="173.00" cy="75.20" r="3.00" fill="#9cc5f8" fill-opacity="0.5"/>
<circle cx="146.00" cy="40.00" r="5.00" fill="#9cc5f8" fill-opacity="0.5"/>
<circle cx="139.30" cy="33.30" r="5.00" fill="#9cc5f8" fill-opacity="0.5"/>
<circle cx="156.00" cy="40.00" r="4.00" fill="#9cc5f8" fill-opacity="0.5"/>
<circle cx="159.30" cy="103.10" r="5.50" fill="#9cc5f8" fill-opacity="0.5"/>
<circle cx="163.40" cy="103.90" r="4.50" fill="#9cc5f8" fill-opacity="0.5"/>
<circle cx="156.80" cy="111.20" r="5.00" fill="#9cc5f8" fill-opacity="0.5"/>
<circle cx="163.40" cy="117.00" r="5.00" fill="#9cc5f8" fill-opacity="0.5"/>
<circle cx="156.10" cy="122.10" r="4.50" fill="#9cc5f8" fill-opacity="0.5"/>
<circle cx="163.40" cy="126.50" r="5.00" fill="#9cc5f8" fill-opacity="0.5"/>
<circle cx="153.90" cy="130.10" r="4.50" fill="#9cc5f8" fill-opacity="0.5"/>
<circle cx="66.60" cy="83.50" r="6.00" fill="#fdbb63" fill-opacity="0.55"/>
<circle cx="83.40" cy="71.00" r="5.00" fill="#fdbb63" fill-opacity="0.55"/>
<circle cx="80.50" cy="58.60" r="4.00" fill="#fdbb63" fill-opacity="0.55"/>
<circle cx="75.50" cy="76.80" r="4.00" fill="#fdbb63" fill-opacity="0.55"/>
<circle cx="90.70" cy="60.00" r="4.00" fill="#fdbb63" fill-opacity="0.55"/>
<circle cx="97.70" cy="57.50" r="4.50" fill="#fdbb63" fill-opacity="0.55"/>
<circle cx="103.60" cy="50.40" r="4.00" fill="#fdbb63" fill-opacity="0.55"/>
<circle cx="114.60" cy="49.50" r="5.00" fill="#fdbb63" fill-opacity="0.55"/>
<circle cx="109.40" cy="54.00" r="4.50" fill="#fdbb63" fill-opacity="0.55"/>
<circle cx="131.10" cy="40.40" r="7.00" fill="#fdbb63" fill-opacity="0.55"/>
<circle cx="139.30" cy="33.30" r="6.00" fill="#fdbb63" fill-opacity="0.55"/>
<circle cx="143.40" cy="39.40" r="5.00" fill="#fdbb63" fill-opacity="0.55"/>
<circle cx="148.50" cy="29.20" r="4.00" fill="#fdbb63" fill-opacity="0.55"/>
<circle cx="151.60" cy="33.30" r="4.00" fill="#fdbb63" fill-opacity="0.55"/>
<circle cx="158.20" cy="36.40" r="4.50" fill="#fdbb63" fill-opacity="0.55"/>
<circle cx="168.40" cy="56.30" r="3.00" fill="#fdbb63" fill-opacity="0.55"/>
<circle cx="178.10" cy="49.60" r="3.00" fill="#fdbb63" fill-opacity="0.55"/>
<circle cx="126.00" cy="44.00" r="4.00" fill="#fdbb63" fill-opacity="0.55"/>
<circle cx="52.00" cy="87.80" r="7.30" fill="#7a2a78" fill-opacity="0.45"/>
<circle cx="60.00" cy="82.00" r="6.00" fill="#6e1a6c" fill-opacity="0.75"/>
<circle cx="65.20" cy="79.80" r="8.40" fill="#6e1a6c" fill-opacity="0.75"/>
<circle cx="71.70" cy="71.80" r="7.00" fill="#6e1a6c" fill-opacity="0.75"/>
<circle cx="78.30" cy="66.00" r="6.00" fill="#6e1a6c" fill-opacity="0.75"/>
<circle cx="84.90" cy="60.80" r="5.00" fill="#6e1a6c" fill-opacity="0.75"/>
<circle cx="68.00" cy="76.00" r="6.00" fill="#6e1a6c" fill-opacity="0.75"/>
<circle cx="75.00" cy="70.00" r="5.00" fill="#6e1a6c" fill-opacity="0.75"/>
<circle cx="84.80" cy="59.20" r="5.00" fill="#6e1a6c" fill-opacity="0.66"/>
<circle cx="92.30" cy="53.90" r="4.00" fill="#7a2a78" fill-opacity="0.45"/>
<circle cx="98.40" cy="53.90" r="5.50" fill="#6e1a6c" fill-opacity="0.66"/>
<circle cx="108.90" cy="48.60" r="4.00" fill="#7a2a78" fill-opacity="0.45"/>
<circle cx="108.00" cy="53.00" r="4.00" fill="#6e1a6c" fill-opacity="0.66"/>
<circle cx="119.80" cy="46.90" r="3.50" fill="#6e1a6c" fill-opacity="0.66"/>
<circle cx="125.50" cy="39.90" r="3.50" fill="#7a2a78" fill-opacity="0.45"/>
<circle cx="149.00" cy="36.40" r="3.50" fill="#6e1a6c" fill-opacity="0.66"/>
<circle cx="160.30" cy="25.60" r="3.50" fill="#7a2a78" fill-opacity="0.45"/>
<circle cx="74.00" cy="75.00" r="5.00" fill="#6e1a6c" fill-opacity="0.66"/>
<circle cx="90.00" cy="58.00" r="4.00" fill="#6e1a6c" fill-opacity="0.66"/>
</g>
<line x1="127.20" y1="61.60" x2="66.00" y2="61.51" stroke="#4c98a4" stroke-width="1.1"/>
<polygon points="62.50,61.50 67.00,59.51 67.00,63.51" fill="#4c98a4"/>
<line x1="127.20" y1="61.60" x2="87.48" y2="66.11" stroke="#4c98a4" stroke-width="1.1"/>
<polygon points="84.00,66.50 88.25,64.01 88.70,67.98" fill="#4c98a4"/>
<line x1="127.20" y1="61.60" x2="113.48" y2="63.12" stroke="#4c98a4" stroke-width="1.1"/>
<polygon points="110.00,63.50 114.25,61.02 114.69,64.99" fill="#4c98a4"/>
<line x1="127.20" y1="61.60" x2="121.37" y2="41.36" stroke="#4c98a4" stroke-width="1.1"/>
<polygon points="120.40,38.00 123.57,41.77 119.72,42.88" fill="#4c98a4"/>
<line x1="127.20" y1="61.60" x2="196.21" y2="66.74" stroke="#4c98a4" stroke-width="1.1"/>
<polygon points="199.70,67.00 195.06,68.66 195.36,64.67" fill="#4c98a4"/>
<line x1="127.20" y1="61.60" x2="67.00" y2="61.04" stroke="#262626" stroke-width="1.2"/>
<polygon points="63.00,61.00 68.02,58.85 67.98,63.25" fill="#262626"/>
<line x1="127.20" y1="61.60" x2="84.47" y2="66.91" stroke="#262626" stroke-width="1.2"/>
<polygon points="80.50,67.40 85.19,64.60 85.73,68.97" fill="#262626"/>
<line x1="127.20" y1="61.60" x2="87.35" y2="90.07" stroke="#262626" stroke-width="1.2"/>
<polygon points="84.10,92.40 86.89,87.70 89.45,91.28" fill="#262626"/>
<line x1="127.20" y1="61.60" x2="112.10" y2="105.52" stroke="#262626" stroke-width="1.2"/>
<polygon points="110.80,109.30 110.35,103.86 114.51,105.29" fill="#262626"/>
<line x1="127.20" y1="61.60" x2="143.63" y2="32.48" stroke="#262626" stroke-width="1.2"/>
<polygon points="145.60,29.00 145.06,34.44 141.23,32.27" fill="#262626"/>
<line x1="127.20" y1="61.60" x2="195.73" y2="44.00" stroke="#262626" stroke-width="1.2"/>
<polygon points="199.60,43.00 195.30,46.37 194.21,42.11" fill="#262626"/>
<line x1="127.20" y1="61.60" x2="183.07" y2="51.32" stroke="#262626" stroke-width="1.2"/>
<polygon points="187.00,50.60 182.48,53.67 181.68,49.34" fill="#262626"/>
<line x1="127.20" y1="61.60" x2="151.27" y2="111.60" stroke="#262626" stroke-width="1.2"/>
<polygon points="153.00,115.20 148.85,111.65 152.81,109.74" fill="#262626"/>
<line x1="127.20" y1="61.60" x2="148.30" y2="143.23" stroke="#262626" stroke-width="1.2"/>
<polygon points="149.30,147.10 145.92,142.81 150.18,141.71" fill="#262626"/>
<line x1="127.20" y1="61.60" x2="153.98" y2="144.89" stroke="#262626" stroke-width="1.2"/>
<polygon points="155.20,148.70 151.58,144.61 155.76,143.27" fill="#262626"/>
<polygon points="145.00,167.50 146.14,170.54 149.37,170.68 146.84,172.70 147.70,175.82 145.00,174.03 142.30,175.82 143.16,172.70 140.63,170.68 143.86,170.54" fill="#000"/>
<text x="56.80" y="40.80" font-size="10" font-weight="bold" fill="#111" stroke="#111" textLength="18.90" lengthAdjust="spacing">TTA</text>
<text x="141.00" y="28.00" font-size="10" font-weight="bold" fill="#111" stroke="#111" textLength="42.60" lengthAdjust="spacing">ethanol</text>
<text x="187.60" y="40.70" font-size="10" font-weight="bold" fill="#111" stroke="#111" textLength="63.40" lengthAdjust="spacing">yeast  CFUs</text>
<text x="187.00" y="58.90" font-size="10" font-weight="bold" fill="#111" stroke="#111" textLength="53.40" lengthAdjust="spacing">LAB CFUs</text>
<text x="32.00" y="80.60" font-size="10" font-weight="bold" fill="#111" stroke="#111" textLength="61.00" lengthAdjust="spacing">acetic acid</text>
<text x="72.70" y="101.60" font-size="10" font-weight="bold" fill="#111" stroke="#111" textLength="14.20" lengthAdjust="spacing">pH</text>
<text x="83.00" y="119.60" font-size="10" font-weight="bold" fill="#111" stroke="#111" textLength="47.00" lengthAdjust="spacing">fructose</text>
<text x="152.00" y="123.50" font-size="10" font-weight="bold" fill="#111" stroke="#111" textLength="44.20" lengthAdjust="spacing">sucrose</text>
<text x="111.90" y="156.30" font-size="10" font-weight="bold" fill="#111" stroke="#111" textLength="43.80" lengthAdjust="spacing">glucose</text>
<text x="159.00" y="157.40" font-size="10" font-weight="bold" fill="#111" stroke="#111" textLength="45.00" lengthAdjust="spacing">maltose</text>
<text x="83.00" y="36.00" font-size="10" font-weight="bold" font-style="italic" fill="#4c98a4" stroke="#4c98a4" textLength="53.60" lengthAdjust="spacing">F. rossiae</text>
<text x="9.00" y="49.80" font-size="10" font-weight="bold" font-style="italic" fill="#4c98a4" stroke="#4c98a4" textLength="77.00" lengthAdjust="spacing">A. cerevisiae|</text>
<text x="23.00" y="55.60" font-size="10" font-weight="bold" font-style="italic" fill="#4c98a4" stroke="#4c98a4" textLength="50.00" lengthAdjust="spacing">malorum</text>
<text x="17.00" y="72.40" font-size="10" font-weight="bold" font-style="italic" fill="#4c98a4" stroke="#4c98a4" textLength="60.00" lengthAdjust="spacing">P. parvulus</text>
<text x="88.00" y="73.50" font-size="10" font-weight="bold" font-style="italic" fill="#4c98a4" stroke="#4c98a4" textLength="47.60" lengthAdjust="spacing">L. brevis</text>
<text x="137.00" y="82.60" font-size="10" font-weight="bold" font-style="italic" fill="#4c98a4" stroke="#4c98a4" textLength="109.60" lengthAdjust="spacing">F. sanfranciscensis</text>
<rect x="44.40" y="18.80" width="162.10" height="160.50" fill="none" stroke="#555555" stroke-width="1.0"/>
<line x1="41.90" y1="37.60" x2="44.40" y2="37.60" stroke="#555555" stroke-width="1"/>
<text x="41.45" y="40.50" font-size="11" text-anchor="end" fill="#1a1a1a" stroke="#1a1a1a" letter-spacing="0.45">0.02</text>
<line x1="41.90" y1="61.50" x2="44.40" y2="61.50" stroke="#555555" stroke-width="1"/>
<text x="41.45" y="64.40" font-size="11" text-anchor="end" fill="#1a1a1a" stroke="#1a1a1a" letter-spacing="0.45">0.00</text>
<line x1="41.90" y1="85.50" x2="44.40" y2="85.50" stroke="#555555" stroke-width="1"/>
<text x="41.45" y="88.40" font-size="11" text-anchor="end" fill="#1a1a1a" stroke="#1a1a1a" letter-spacing="0.45">−0.02</text>
<line x1="41.90" y1="109.60" x2="44.40" y2="109.60" stroke="#555555" stroke-width="1"/>
<text x="41.45" y="112.50" font-size="11" text-anchor="end" fill="#1a1a1a" stroke="#1a1a1a" letter-spacing="0.45">−0.04</text>
<line x1="41.90" y1="134.00" x2="44.40" y2="134.00" stroke="#555555" stroke-width="1"/>
<text x="41.45" y="136.90" font-size="11" text-anchor="end" fill="#1a1a1a" stroke="#1a1a1a" letter-spacing="0.45">−0.06</text>
<line x1="41.90" y1="158.20" x2="44.40" y2="158.20" stroke="#555555" stroke-width="1"/>
<text x="41.45" y="161.10" font-size="11" text-anchor="end" fill="#1a1a1a" stroke="#1a1a1a" letter-spacing="0.45">−0.08</text>
<line x1="51.00" y1="179.30" x2="51.00" y2="181.80" stroke="#555555" stroke-width="1"/>
<text x="52.62" y="191.90" font-size="11" text-anchor="middle" fill="#1a1a1a" stroke="#1a1a1a" letter-spacing="0.45">−0.075</text>
<line x1="76.40" y1="179.30" x2="76.40" y2="181.80" stroke="#555555" stroke-width="1"/>
<line x1="101.80" y1="179.30" x2="101.80" y2="181.80" stroke="#555555" stroke-width="1"/>
<line x1="127.20" y1="179.30" x2="127.20" y2="181.80" stroke="#555555" stroke-width="1"/>
<text x="127.02" y="191.90" font-size="11" text-anchor="middle" fill="#1a1a1a" stroke="#1a1a1a" letter-spacing="0.45">0.00</text>
<line x1="152.60" y1="179.30" x2="152.60" y2="181.80" stroke="#555555" stroke-width="1"/>
<line x1="178.00" y1="179.30" x2="178.00" y2="181.80" stroke="#555555" stroke-width="1"/>
<line x1="203.40" y1="179.30" x2="203.40" y2="181.80" stroke="#555555" stroke-width="1"/>
<text x="201.82" y="191.90" font-size="11" text-anchor="middle" fill="#1a1a1a" stroke="#1a1a1a" letter-spacing="0.45">0.075</text>
<text x="127.00" y="199.80" font-size="11" text-anchor="middle" fill="#1a1a1a" stroke="#1a1a1a" textLength="70.00" lengthAdjust="spacing">PC1 (60.11%)</text>
<text x="9.30" y="87.20" font-size="11" text-anchor="middle" fill="#1a1a1a" stroke="#1a1a1a" textLength="71.80" lengthAdjust="spacing" transform="rotate(-90 9.30 87.20)">PC2 (21.54%)</text>
<clipPath id="pa2"><rect x="280.8" y="19.4" width="161.5" height="159.6"/></clipPath>
<g clip-path="url(#pa2)">
<circle cx="345.80" cy="33.60" r="5.00" fill="#9cc5f8" fill-opacity="0.5"/>
<circle cx="340.80" cy="41.00" r="4.00" fill="#9cc5f8" fill-opacity="0.5"/>
<circle cx="352.00" cy="40.00" r="5.00" fill="#9cc5f8" fill-opacity="0.5"/>
<circle cx="335.80" cy="52.20" r="3.00" fill="#9cc5f8" fill-opacity="0.5"/>
<circle cx="359.40" cy="32.40" r="4.00" fill="#9cc5f8" fill-opacity="0.5"/>
<circle cx="366.90" cy="25.00" r="6.00" fill="#9cc5f8" fill-opacity="0.5"/>
<circle cx="343.00" cy="60.00" r="4.00" fill="#9cc5f8" fill-opacity="0.5"/>
<circle cx="330.00" cy="70.00" r="4.00" fill="#9cc5f8" fill-opacity="0.5"/>
<circle cx="346.40" cy="34.00" r="4.00" fill="#9cc5f8" fill-opacity="0.5"/>
<circle cx="348.60" cy="38.40" r="6.00" fill="#9cc5f8" fill-opacity="0.5"/>
<circle cx="339.90" cy="42.70" r="4.50" fill="#9cc5f8" fill-opacity="0.5"/>
<circle cx="349.80" cy="37.60" r="3.00" fill="#fdbb63" fill-opacity="0.55"/>
<circle cx="357.10" cy="39.40" r="2.50" fill="#6e1a6c" fill-opacity="0.53"/>
<circle cx="359.60" cy="29.60" r="4.00" fill="#9cc5f8" fill-opacity="0.5"/>
<circle cx="360.00" cy="34.70" r="4.00" fill="#fdbb63" fill-opacity="0.55"/>
<circle cx="367.60" cy="25.20" r="6.00" fill="#9cc5f8" fill-opacity="0.5"/>
<circle cx="370.50" cy="29.60" r="4.00" fill="#fdbb63" fill-opacity="0.55"/>
<circle cx="374.20" cy="27.40" r="4.50" fill="#fdbb63" fill-opacity="0.55"/>
<circle cx="348.60" cy="52.20" r="7.00" fill="#9cc5f8" fill-opacity="0.5"/>
<circle cx="342.80" cy="53.00" r="3.50" fill="#fdbb63" fill-opacity="0.55"/>
<circle cx="335.50" cy="52.70" r="3.00" fill="#9cc5f8" fill-opacity="0.5"/>
<circle cx="362.50" cy="50.80" r="5.00" fill="#fdbb63" fill-opacity="0.55"/>
<circle cx="376.40" cy="48.60" r="5.00" fill="#fdbb63" fill-opacity="0.55"/>
<circle cx="344.20" cy="66.80" r="8.00" fill="#9cc5f8" fill-opacity="0.5"/>
<circle cx="335.20" cy="62.40" r="3.00" fill="#fdbb63" fill-opacity="0.55"/>
<circle cx="337.40" cy="67.30" r="2.50" fill="#6e1a6c" fill-opacity="0.53"/>
<circle cx="334.30" cy="72.40" r="2.50" fill="#fdbb63" fill-opacity="0.55"/>
<circle cx="341.30" cy="74.60" r="4.00" fill="#fdbb63" fill-opacity="0.55"/>
<circle cx="320.90" cy="73.40" r="4.00" fill="#9cc5f8" fill-opacity="0.5"/>
<circle cx="325.50" cy="77.50" r="3.50" fill="#9cc5f8" fill-opacity="0.5"/>
<circle cx="326.70" cy="82.90" r="6.00" fill="#9cc5f8" fill-opacity="0.5"/>
<circle cx="324.20" cy="87.30" r="3.50" fill="#fdbb63" fill-opacity="0.55"/>
<circle cx="340.60" cy="85.10" r="5.00" fill="#fdbb63" fill-opacity="0.55"/>
<circle cx="313.60" cy="92.40" r="5.00" fill="#9cc5f8" fill-opacity="0.5"/>
<circle cx="318.00" cy="88.00" r="3.00" fill="#9cc5f8" fill-opacity="0.5"/>
<circle cx="377.80" cy="77.80" r="4.00" fill="#fdbb63" fill-opacity="0.55"/>
<circle cx="382.40" cy="34.00" r="8.00" fill="#9cc5f8" fill-opacity="0.5"/>
<circle cx="389.70" cy="38.40" r="5.00" fill="#fdbb63" fill-opacity="0.55"/>
<circle cx="385.80" cy="43.50" r="3.50" fill="#6e1a6c" fill-opacity="0.53"/>
<circle cx="400.80" cy="27.40" r="5.00" fill="#fdbb63" fill-opacity="0.55"/>
<circle cx="405.80" cy="42.00" r="3.00" fill="#6e1a6c" fill-opacity="0.53"/>
<circle cx="404.70" cy="46.40" r="5.50" fill="#fdbb63" fill-opacity="0.55"/>
<circle cx="404.30" cy="54.40" r="6.00" fill="#fdbb63" fill-opacity="0.55"/>
<circle cx="377.00" cy="48.60" r="5.00" fill="#fdbb63" fill-opacity="0.55"/>
<circle cx="404.70" cy="66.10" r="3.50" fill="#6e1a6c" fill-opacity="0.53"/>
<circle cx="404.70" cy="74.90" r="3.50" fill="#6e1a6c" fill-opacity="0.53"/>
<circle cx="417.90" cy="68.30" r="7.00" fill="#fdbb63" fill-opacity="0.55"/>
<circle cx="417.20" cy="74.90" r="4.50" fill="#6e1a6c" fill-opacity="0.53"/>
<circle cx="415.00" cy="76.30" r="3.50" fill="#6e1a6c" fill-opacity="0.53"/>
<circle cx="415.70" cy="86.50" r="6.00" fill="#fdbb63" fill-opacity="0.55"/>
<circle cx="423.70" cy="79.20" r="4.00" fill="#6e1a6c" fill-opacity="0.53"/>
<circle cx="426.60" cy="82.90" r="6.00" fill="#fdbb63" fill-opacity="0.55"/>
<circle cx="425.90" cy="85.10" r="4.00" fill="#6e1a6c" fill-opacity="0.53"/>
<circle cx="431.00" cy="94.60" r="7.00" fill="#fdbb63" fill-opacity="0.55"/>
<circle cx="426.60" cy="97.50" r="4.00" fill="#6e1a6c" fill-opacity="0.53"/>
<circle cx="381.00" cy="77.80" r="6.00" fill="#fdbb63" fill-opacity="0.55"/>
<circle cx="393.00" cy="78.50" r="3.50" fill="#6e1a6c" fill-opacity="0.53"/>
<circle cx="309.00" cy="107.00" r="5.00" fill="#9cc5f8" fill-opacity="0.5"/>
<circle cx="315.00" cy="101.00" r="4.00" fill="#9cc5f8" fill-opacity="0.5"/>
<circle cx="300.60" cy="127.00" r="3.50" fill="#9cc5f8" fill-opacity="0.5"/>
<circle cx="297.00" cy="134.00" r="4.50" fill="#9cc5f8" fill-opacity="0.5"/>
<circle cx="297.40" cy="136.00" r="3.00" fill="#9cc5f8" fill-opacity="0.5"/>
<circle cx="299.40" cy="144.40" r="4.00" fill="#9cc5f8" fill-opacity="0.5"/>
<circle cx="297.40" cy="149.60" r="4.00" fill="#9cc5f8" fill-opacity="0.5"/>
<circle cx="304.00" cy="133.00" r="2.50" fill="#fdbb63" fill-opacity="0.55"/>
<circle cx="312.40" cy="130.00" r="3.50" fill="#fdbb63" fill-opacity="0.55"/>
<circle cx="310.40" cy="124.40" r="2.50" fill="#6e1a6c" fill-opacity="0.53"/>
<circle cx="325.60" cy="101.00" r="4.00" fill="#fdbb63" fill-opacity="0.55"/>
<circle cx="324.00" cy="87.00" r="4.00" fill="#9cc5f8" fill-opacity="0.5"/>
<circle cx="341.00" cy="87.00" r="5.00" fill="#fdbb63" fill-opacity="0.55"/>
<circle cx="326.00" cy="100.00" r="4.00" fill="#fdbb63" fill-opacity="0.55"/>
<circle cx="402.00" cy="112.00" r="4.50" fill="#6e1a6c" fill-opacity="0.53"/>
<circle cx="407.00" cy="113.00" r="8.00" fill="#fdbb63" fill-opacity="0.55"/>
<circle cx="418.00" cy="117.00" r="4.50" fill="#6e1a6c" fill-opacity="0.53"/>
<circle cx="425.00" cy="114.00" r="5.00" fill="#6e1a6c" fill-opacity="0.53"/>
<circle cx="434.00" cy="121.00" r="8.00" fill="#6e1a6c" fill-opacity="0.53"/>
<circle cx="432.00" cy="122.00" r="6.00" fill="#6e1a6c" fill-opacity="0.53"/>
<circle cx="410.00" cy="133.00" r="4.50" fill="#6e1a6c" fill-opacity="0.53"/>
<circle cx="408.00" cy="137.00" r="4.50" fill="#6e1a6c" fill-opacity="0.53"/>
<circle cx="429.00" cy="139.00" r="8.00" fill="#6e1a6c" fill-opacity="0.53"/>
<circle cx="423.00" cy="142.00" r="6.00" fill="#6e1a6c" fill-opacity="0.53"/>
<circle cx="413.00" cy="155.00" r="7.00" fill="#6e1a6c" fill-opacity="0.53"/>
<circle cx="406.00" cy="156.00" r="5.00" fill="#6e1a6c" fill-opacity="0.53"/>
<circle cx="415.00" cy="163.00" r="6.00" fill="#6e1a6c" fill-opacity="0.53"/>
<circle cx="415.00" cy="172.00" r="7.00" fill="#6e1a6c" fill-opacity="0.53"/>
<circle cx="417.00" cy="87.00" r="6.00" fill="#fdbb63" fill-opacity="0.55"/>
<circle cx="429.00" cy="95.00" r="8.00" fill="#fdbb63" fill-opacity="0.55"/>
<circle cx="426.00" cy="99.00" r="5.00" fill="#6e1a6c" fill-opacity="0.53"/>
<circle cx="426.00" cy="86.00" r="4.00" fill="#6e1a6c" fill-opacity="0.53"/>
</g>
<polygon points="288.00,161.00 289.14,164.04 292.37,164.18 289.84,166.20 290.70,169.32 288.00,167.53 285.30,169.32 286.16,166.20 283.63,164.18 286.86,164.04" fill="#000"/>
<rect x="280.80" y="19.40" width="161.50" height="159.60" fill="none" stroke="#555555" stroke-width="1.0"/>
<line x1="278.30" y1="23.40" x2="280.80" y2="23.40" stroke="#555555" stroke-width="1"/>
<text x="277.65" y="26.70" font-size="11" text-anchor="end" fill="#1a1a1a" stroke="#1a1a1a" letter-spacing="0.45">40</text>
<line x1="278.30" y1="53.80" x2="280.80" y2="53.80" stroke="#555555" stroke-width="1"/>
<text x="277.65" y="57.10" font-size="11" text-anchor="end" fill="#1a1a1a" stroke="#1a1a1a" letter-spacing="0.45">20</text>
<line x1="278.30" y1="84.20" x2="280.80" y2="84.20" stroke="#555555" stroke-width="1"/>
<text x="277.65" y="87.50" font-size="11" text-anchor="end" fill="#1a1a1a" stroke="#1a1a1a" letter-spacing="0.45">0</text>
<line x1="278.30" y1="114.60" x2="280.80" y2="114.60" stroke="#555555" stroke-width="1"/>
<text x="277.65" y="117.90" font-size="11" text-anchor="end" fill="#1a1a1a" stroke="#1a1a1a" letter-spacing="0.45">−20</text>
<line x1="278.30" y1="145.00" x2="280.80" y2="145.00" stroke="#555555" stroke-width="1"/>
<text x="277.65" y="148.30" font-size="11" text-anchor="end" fill="#1a1a1a" stroke="#1a1a1a" letter-spacing="0.45">−40</text>
<line x1="278.30" y1="175.40" x2="280.80" y2="175.40" stroke="#555555" stroke-width="1"/>
<text x="277.65" y="178.70" font-size="11" text-anchor="end" fill="#1a1a1a" stroke="#1a1a1a" letter-spacing="0.45">−60</text>
<line x1="305.30" y1="179.00" x2="305.30" y2="181.50" stroke="#555555" stroke-width="1"/>
<text x="302.62" y="191.90" font-size="11" text-anchor="middle" fill="#1a1a1a" stroke="#1a1a1a" letter-spacing="0.45">−100</text>
<line x1="336.40" y1="179.00" x2="336.40" y2="181.50" stroke="#555555" stroke-width="1"/>
<text x="332.73" y="191.90" font-size="11" text-anchor="middle" fill="#1a1a1a" stroke="#1a1a1a" letter-spacing="0.45">−50</text>
<line x1="367.40" y1="179.00" x2="367.40" y2="181.50" stroke="#555555" stroke-width="1"/>
<text x="367.62" y="191.90" font-size="11" text-anchor="middle" fill="#1a1a1a" stroke="#1a1a1a" letter-spacing="0.45">0</text>
<line x1="398.40" y1="179.00" x2="398.40" y2="181.50" stroke="#555555" stroke-width="1"/>
<text x="399.62" y="191.90" font-size="11" text-anchor="middle" fill="#1a1a1a" stroke="#1a1a1a" letter-spacing="0.45">50</text>
<line x1="429.80" y1="179.00" x2="429.80" y2="181.50" stroke="#555555" stroke-width="1"/>
<text x="426.93" y="191.90" font-size="11" text-anchor="middle" fill="#1a1a1a" stroke="#1a1a1a" letter-spacing="0.45">100</text>
<text x="369.00" y="199.80" font-size="11" text-anchor="middle" fill="#1a1a1a" stroke="#1a1a1a" textLength="71.20" lengthAdjust="spacing">PC1 (39.71%)</text>
<text x="255.30" y="88.50" font-size="11" text-anchor="middle" fill="#1a1a1a" stroke="#1a1a1a" textLength="65.50" lengthAdjust="spacing" transform="rotate(-90 255.30 88.50)">PC2 (5.26%)</text>
<rect x="323" y="92" width="77.4" height="84" rx="2.5" fill="#fff" fill-opacity="0.85" stroke="#cccccc" stroke-width="1"/>
<circle cx="336.00" cy="99.40" r="4.20" fill="#9cc5f8"/>
<circle cx="336.00" cy="112.60" r="4.20" fill="#fdbb63"/>
<circle cx="336.00" cy="126.60" r="4.20" fill="#6e1a6c"/>
<circle cx="336.00" cy="140.00" r="3.20" fill="#888"/>
<circle cx="336.00" cy="153.60" r="9.00" fill="#888"/>
<polygon points="336.00,162.40 337.14,165.44 340.37,165.58 337.84,167.60 338.70,170.72 336.00,168.93 333.30,170.72 334.16,167.60 331.63,165.58 334.86,165.44" fill="#000"/>
<text x="353.00" y="102.60" font-size="11" fill="#1a1a1a" stroke="#1a1a1a" letter-spacing="0.55">4°C</text>
<text x="353.00" y="116.00" font-size="11" fill="#1a1a1a" stroke="#1a1a1a" letter-spacing="0.55">17°C</text>
<text x="353.00" y="129.60" font-size="11" fill="#1a1a1a" stroke="#1a1a1a" letter-spacing="0.55">30°C</text>
<text x="353.00" y="143.40" font-size="11" fill="#1a1a1a" stroke="#1a1a1a" letter-spacing="0.55">Day 1</text>
<text x="353.00" y="157.00" font-size="11" fill="#1a1a1a" stroke="#1a1a1a" letter-spacing="0.55">Day 14</text>
<text x="353.00" y="170.60" font-size="11" fill="#1a1a1a" stroke="#1a1a1a" letter-spacing="0.55">Control</text>
<clipPath id="pa3"><rect x="508.4" y="19.6" width="161.4" height="160.3"/></clipPath>
<g clip-path="url(#pa3)">
<circle cx="522.70" cy="119.20" r="5.00" fill="#9cc5f8" fill-opacity="0.5"/>
<circle cx="523.80" cy="126.50" r="5.50" fill="#9cc5f8" fill-opacity="0.5"/>
<circle cx="536.40" cy="111.80" r="7.50" fill="#9cc5f8" fill-opacity="0.5"/>
<circle cx="533.20" cy="135.00" r="8.50" fill="#9cc5f8" fill-opacity="0.5"/>
<circle cx="526.90" cy="135.00" r="6.00" fill="#9cc5f8" fill-opacity="0.5"/>
<circle cx="520.60" cy="145.50" r="5.00" fill="#9cc5f8" fill-opacity="0.5"/>
<circle cx="519.60" cy="137.00" r="4.00" fill="#9cc5f8" fill-opacity="0.5"/>
<circle cx="526.90" cy="109.70" r="4.00" fill="#9cc5f8" fill-opacity="0.5"/>
<circle cx="521.10" cy="106.00" r="2.50" fill="#9cc5f8" fill-opacity="0.5"/>
<circle cx="531.10" cy="147.60" r="5.50" fill="#fdbb63" fill-opacity="0.55"/>
<circle cx="532.20" cy="138.10" r="4.50" fill="#fdbb63" fill-opacity="0.55"/>
<circle cx="533.80" cy="26.10" r="3.00" fill="#9cc5f8" fill-opacity="0.5"/>
<circle cx="530.60" cy="30.10" r="3.50" fill="#9cc5f8" fill-opacity="0.5"/>
<circle cx="543.80" cy="29.00" r="5.00" fill="#9cc5f8" fill-opacity="0.5"/>
<circle cx="583.30" cy="26.90" r="3.00" fill="#6e1a6c" fill-opacity="0.53"/>
<circle cx="532.70" cy="42.90" r="4.50" fill="#9cc5f8" fill-opacity="0.5"/>
<circle cx="536.20" cy="48.50" r="5.00" fill="#9cc5f8" fill-opacity="0.5"/>
<circle cx="527.40" cy="52.20" r="2.50" fill="#9cc5f8" fill-opacity="0.5"/>
<circle cx="555.50" cy="53.00" r="8.00" fill="#9cc5f8" fill-opacity="0.5"/>
<circle cx="549.00" cy="54.20" r="5.50" fill="#9cc5f8" fill-opacity="0.5"/>
<circle cx="552.00" cy="60.60" r="7.00" fill="#9cc5f8" fill-opacity="0.5"/>
<circle cx="576.40" cy="48.50" r="5.00" fill="#fdbb63" fill-opacity="0.55"/>
<circle cx="533.80" cy="59.30" r="2.50" fill="#fdbb63" fill-opacity="0.55"/>
<circle cx="564.30" cy="70.20" r="3.00" fill="#6e1a6c" fill-opacity="0.53"/>
<circle cx="538.90" cy="71.80" r="3.00" fill="#fdbb63" fill-opacity="0.55"/>
<circle cx="529.80" cy="74.20" r="3.00" fill="#9cc5f8" fill-opacity="0.5"/>
<circle cx="536.20" cy="77.10" r="4.00" fill="#9cc5f8" fill-opacity="0.5"/>
<circle cx="539.40" cy="79.00" r="5.50" fill="#9cc5f8" fill-opacity="0.5"/>
<circle cx="535.90" cy="77.10" r="3.00" fill="#fdbb63" fill-opacity="0.55"/>
<circle cx="525.80" cy="80.70" r="3.50" fill="#9cc5f8" fill-opacity="0.5"/>
<circle cx="543.00" cy="82.60" r="2.50" fill="#6e1a6c" fill-opacity="0.53"/>
<circle cx="522.20" cy="87.10" r="2.50" fill="#9cc5f8" fill-opacity="0.5"/>
<circle cx="561.10" cy="85.00" r="5.00" fill="#fdbb63" fill-opacity="0.55"/>
<circle cx="576.00" cy="83.10" r="6.00" fill="#fdbb63" fill-opacity="0.55"/>
<circle cx="597.30" cy="67.30" r="3.50" fill="#6e1a6c" fill-opacity="0.53"/>
<circle cx="612.10" cy="65.70" r="4.00" fill="#6e1a6c" fill-opacity="0.53"/>
<circle cx="616.00" cy="83.10" r="8.00" fill="#fdbb63" fill-opacity="0.55"/>
<circle cx="621.00" cy="97.20" r="8.00" fill="#fdbb63" fill-opacity="0.55"/>
<circle cx="607.80" cy="98.60" r="4.50" fill="#6e1a6c" fill-opacity="0.53"/>
<circle cx="598.00" cy="86.40" r="4.00" fill="#6e1a6c" fill-opacity="0.53"/>
<circle cx="584.80" cy="86.10" r="3.50" fill="#6e1a6c" fill-opacity="0.53"/>
<circle cx="591.40" cy="88.70" r="6.00" fill="#fdbb63" fill-opacity="0.55"/>
<circle cx="588.00" cy="96.90" r="6.00" fill="#fdbb63" fill-opacity="0.55"/>
<circle cx="576.60" cy="83.80" r="5.00" fill="#fdbb63" fill-opacity="0.55"/>
<circle cx="571.00" cy="93.00" r="6.00" fill="#fdbb63" fill-opacity="0.55"/>
<circle cx="571.00" cy="88.70" r="3.50" fill="#6e1a6c" fill-opacity="0.53"/>
<circle cx="583.20" cy="92.00" r="3.00" fill="#6e1a6c" fill-opacity="0.53"/>
<circle cx="578.90" cy="105.80" r="6.00" fill="#fdbb63" fill-opacity="0.55"/>
<circle cx="565.80" cy="101.20" r="3.00" fill="#6e1a6c" fill-opacity="0.53"/>
<circle cx="560.20" cy="84.80" r="5.00" fill="#fdbb63" fill-opacity="0.55"/>
<circle cx="555.90" cy="89.40" r="3.00" fill="#6e1a6c" fill-opacity="0.53"/>
<circle cx="548.70" cy="92.00" r="4.00" fill="#fdbb63" fill-opacity="0.55"/>
<circle cx="542.10" cy="95.30" r="4.00" fill="#fdbb63" fill-opacity="0.55"/>
<circle cx="535.60" cy="93.60" r="3.00" fill="#fdbb63" fill-opacity="0.55"/>
<circle cx="593.70" cy="117.30" r="4.00" fill="#6e1a6c" fill-opacity="0.53"/>
<circle cx="577.00" cy="124.80" r="4.00" fill="#6e1a6c" fill-opacity="0.53"/>
<circle cx="604.50" cy="129.10" r="5.00" fill="#6e1a6c" fill-opacity="0.53"/>
<circle cx="553.60" cy="124.80" r="3.00" fill="#6e1a6c" fill-opacity="0.53"/>
<circle cx="532.30" cy="116.00" r="2.50" fill="#6e1a6c" fill-opacity="0.53"/>
<circle cx="535.60" cy="113.30" r="7.00" fill="#9cc5f8" fill-opacity="0.5"/>
<circle cx="527.30" cy="110.00" r="4.00" fill="#9cc5f8" fill-opacity="0.5"/>
<circle cx="520.80" cy="105.80" r="2.50" fill="#9cc5f8" fill-opacity="0.5"/>
<circle cx="537.20" cy="113.30" r="4.00" fill="#fdbb63" fill-opacity="0.55"/>
<circle cx="540.50" cy="121.50" r="4.00" fill="#fdbb63" fill-opacity="0.55"/>
<circle cx="547.10" cy="121.50" r="4.00" fill="#fdbb63" fill-opacity="0.55"/>
<circle cx="522.40" cy="118.30" r="3.50" fill="#9cc5f8" fill-opacity="0.5"/>
<circle cx="524.10" cy="125.50" r="4.00" fill="#9cc5f8" fill-opacity="0.5"/>
<circle cx="532.30" cy="134.00" r="6.00" fill="#9cc5f8" fill-opacity="0.5"/>
<circle cx="527.30" cy="136.30" r="5.00" fill="#9cc5f8" fill-opacity="0.5"/>
<circle cx="533.00" cy="138.00" r="4.00" fill="#fdbb63" fill-opacity="0.55"/>
<circle cx="525.00" cy="142.20" r="2.50" fill="#6e1a6c" fill-opacity="0.53"/>
<circle cx="520.10" cy="147.80" r="3.50" fill="#9cc5f8" fill-opacity="0.5"/>
<circle cx="531.60" cy="146.20" r="4.00" fill="#fdbb63" fill-opacity="0.55"/>
<circle cx="524.10" cy="154.40" r="3.00" fill="#fdbb63" fill-opacity="0.55"/>
<circle cx="546.10" cy="141.90" r="5.50" fill="#fdbb63" fill-opacity="0.55"/>
<circle cx="555.30" cy="145.50" r="4.00" fill="#6e1a6c" fill-opacity="0.53"/>
<circle cx="562.80" cy="146.80" r="4.50" fill="#6e1a6c" fill-opacity="0.53"/>
<circle cx="557.90" cy="152.80" r="7.00" fill="#fdbb63" fill-opacity="0.55"/>
<circle cx="581.50" cy="149.50" r="5.50" fill="#6e1a6c" fill-opacity="0.53"/>
<circle cx="635.10" cy="141.30" r="7.50" fill="#6e1a6c" fill-opacity="0.53"/>
<circle cx="647.30" cy="116.60" r="7.00" fill="#6e1a6c" fill-opacity="0.53"/>
<circle cx="653.80" cy="120.90" r="6.00" fill="#6e1a6c" fill-opacity="0.53"/>
<circle cx="663.00" cy="124.80" r="7.50" fill="#6e1a6c" fill-opacity="0.53"/>
<circle cx="572.70" cy="161.00" r="5.00" fill="#6e1a6c" fill-opacity="0.53"/>
<circle cx="584.20" cy="162.00" r="8.00" fill="#6e1a6c" fill-opacity="0.53"/>
<circle cx="553.60" cy="164.30" r="5.00" fill="#6e1a6c" fill-opacity="0.53"/>
<circle cx="569.40" cy="171.80" r="6.50" fill="#6e1a6c" fill-opacity="0.53"/>
</g>
<polygon points="515.60,136.10 516.74,139.14 519.97,139.28 517.44,141.30 518.30,144.42 515.60,142.63 512.90,144.42 513.76,141.30 511.23,139.28 514.46,139.14" fill="#000"/>
<rect x="508.40" y="19.60" width="161.40" height="160.30" fill="none" stroke="#555555" stroke-width="1.0"/>
<line x1="505.90" y1="42.40" x2="508.40" y2="42.40" stroke="#555555" stroke-width="1"/>
<text x="505.35" y="46.00" font-size="11" text-anchor="end" fill="#1a1a1a" stroke="#1a1a1a" letter-spacing="0.45">20</text>
<line x1="505.90" y1="73.10" x2="508.40" y2="73.10" stroke="#555555" stroke-width="1"/>
<text x="505.35" y="76.70" font-size="11" text-anchor="end" fill="#1a1a1a" stroke="#1a1a1a" letter-spacing="0.45">10</text>
<line x1="505.90" y1="103.80" x2="508.40" y2="103.80" stroke="#555555" stroke-width="1"/>
<text x="505.35" y="107.40" font-size="11" text-anchor="end" fill="#1a1a1a" stroke="#1a1a1a" letter-spacing="0.45">0</text>
<line x1="505.90" y1="134.50" x2="508.40" y2="134.50" stroke="#555555" stroke-width="1"/>
<text x="505.35" y="138.10" font-size="11" text-anchor="end" fill="#1a1a1a" stroke="#1a1a1a" letter-spacing="0.45">−10</text>
<line x1="505.90" y1="165.20" x2="508.40" y2="165.20" stroke="#555555" stroke-width="1"/>
<text x="505.35" y="168.80" font-size="11" text-anchor="end" fill="#1a1a1a" stroke="#1a1a1a" letter-spacing="0.45">−20</text>
<line x1="527.40" y1="179.90" x2="527.40" y2="182.40" stroke="#555555" stroke-width="1"/>
<text x="525.73" y="191.90" font-size="11" text-anchor="middle" fill="#1a1a1a" stroke="#1a1a1a" letter-spacing="0.45">−20</text>
<line x1="555.20" y1="179.90" x2="555.20" y2="182.40" stroke="#555555" stroke-width="1"/>
<text x="552.02" y="191.90" font-size="11" text-anchor="middle" fill="#1a1a1a" stroke="#1a1a1a" letter-spacing="0.45">0</text>
<line x1="582.90" y1="179.90" x2="582.90" y2="182.40" stroke="#555555" stroke-width="1"/>
<text x="580.52" y="191.90" font-size="11" text-anchor="middle" fill="#1a1a1a" stroke="#1a1a1a" letter-spacing="0.45">20</text>
<line x1="610.60" y1="179.90" x2="610.60" y2="182.40" stroke="#555555" stroke-width="1"/>
<text x="608.73" y="191.90" font-size="11" text-anchor="middle" fill="#1a1a1a" stroke="#1a1a1a" letter-spacing="0.45">40</text>
<line x1="638.30" y1="179.90" x2="638.30" y2="182.40" stroke="#555555" stroke-width="1"/>
<text x="636.52" y="191.90" font-size="11" text-anchor="middle" fill="#1a1a1a" stroke="#1a1a1a" letter-spacing="0.45">60</text>
<line x1="666.10" y1="179.90" x2="666.10" y2="182.40" stroke="#555555" stroke-width="1"/>
<text x="664.02" y="191.90" font-size="11" text-anchor="middle" fill="#1a1a1a" stroke="#1a1a1a" letter-spacing="0.45">80</text>
<text x="596.00" y="199.80" font-size="11" text-anchor="middle" fill="#1a1a1a" stroke="#1a1a1a" textLength="71.20" lengthAdjust="spacing">PC1 (51.89%)</text>
<text x="481.90" y="89.20" font-size="11" text-anchor="middle" fill="#1a1a1a" stroke="#1a1a1a" textLength="71.60" lengthAdjust="spacing" transform="rotate(-90 481.90 89.20)">PC2 (12.23%)</text>
<text x="40.00" y="15.80" font-size="11" fill="#1a1a1a" stroke="#1a1a1a" textLength="82.60" lengthAdjust="spacing">TSS-normalized</text>
<text x="128.00" y="15.80" font-size="11" fill="#1a1a1a" stroke="#1a1a1a" textLength="38.80" lengthAdjust="spacing">FIA-MS</text>
<text x="169.70" y="15.80" font-size="11" fill="#1a1a1a" stroke="#1a1a1a" textLength="41.70" lengthAdjust="spacing">features</text>
<text x="272.30" y="15.80" font-size="11" fill="#1a1a1a" stroke="#1a1a1a" textLength="86.60" lengthAdjust="spacing">Log-transformed</text>
<text x="365.70" y="15.80" font-size="11" fill="#1a1a1a" stroke="#1a1a1a" textLength="40.50" lengthAdjust="spacing">FIA-MS</text>
<text x="408.00" y="15.80" font-size="11" fill="#1a1a1a" stroke="#1a1a1a" textLength="42.90" lengthAdjust="spacing">features</text>
<text x="493.80" y="16.40" font-size="11" fill="#1a1a1a" stroke="#1a1a1a" textLength="97.10" lengthAdjust="spacing">Z-score normalized</text>
<text x="600.30" y="16.40" font-size="11" fill="#1a1a1a" stroke="#1a1a1a" textLength="40.50" lengthAdjust="spacing">FIA-MS</text>
<text x="642.70" y="16.40" font-size="11" fill="#1a1a1a" stroke="#1a1a1a" textLength="41.90" lengthAdjust="spacing">features</text>
</svg>
</body></html>
